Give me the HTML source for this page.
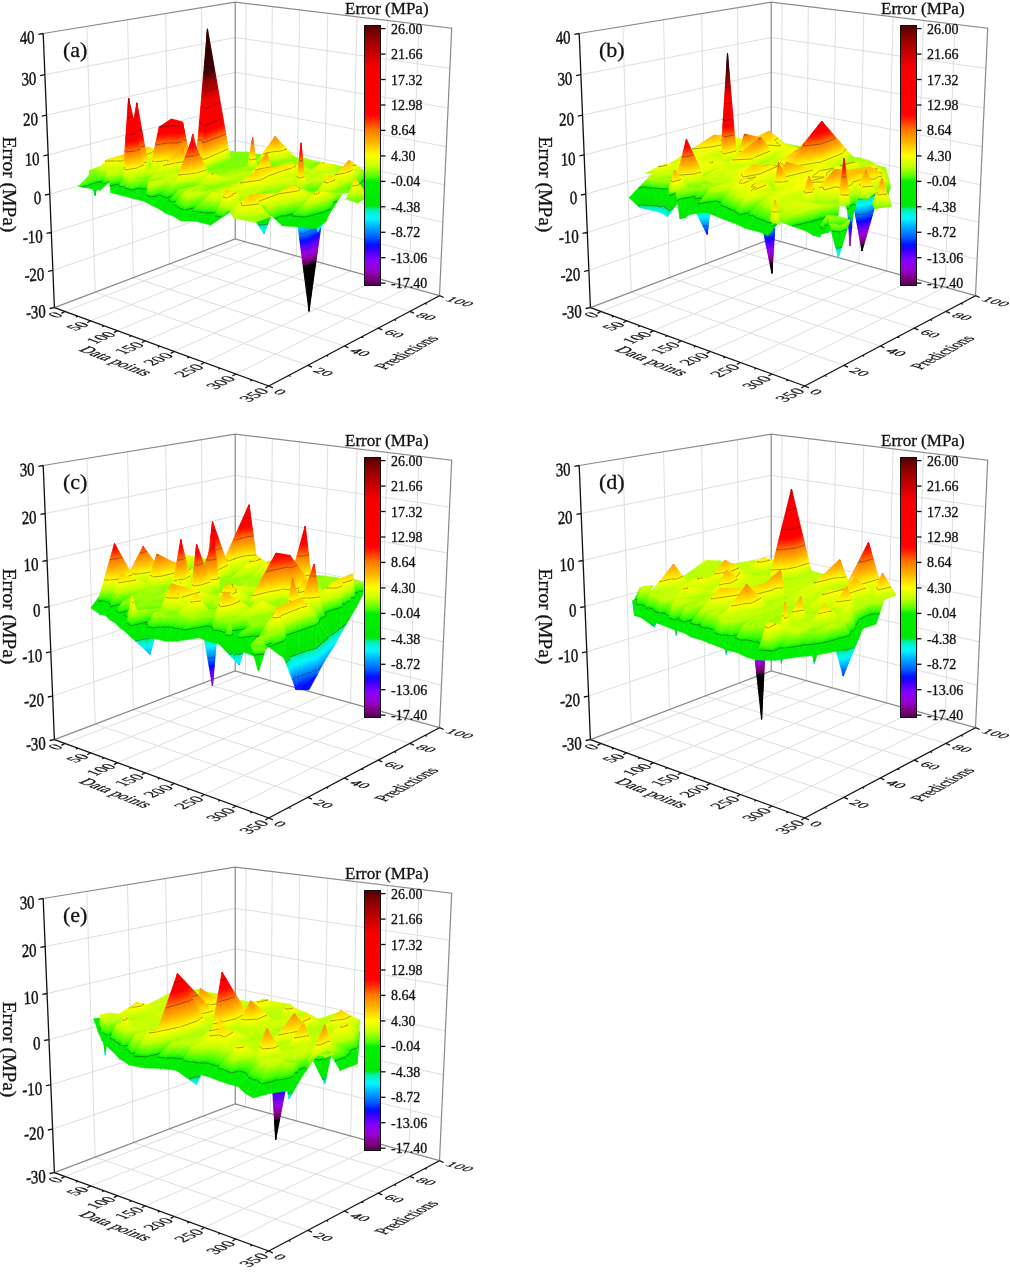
<!DOCTYPE html>
<html><head><meta charset="utf-8"><title>Error surfaces</title><style>
html,body{margin:0;padding:0;background:#fff;}
svg{display:block;}
text{font-family:"Liberation Serif","Times New Roman",serif;fill:#111;stroke:#111;stroke-width:0.3px}
.xl,.yl,.tx{stroke-width:0.18px}
.g{stroke:#dedede;stroke-width:1;fill:none}
.e{stroke:#8a8a8a;stroke-width:1.2;fill:none}
.k{stroke:#111;stroke-width:1.3;fill:none}
.zl{font-size:18.6px;text-anchor:end;stroke-width:0.45px}
.xl{font-size:10px;text-anchor:end}
.yl{font-size:10px}
.tt{font-size:19.5px}
.tx{font-size:10px;text-anchor:middle}
.pl{font-size:22px}
.cl{font-size:14px}
.c{fill:none;stroke:#1a1a1a;stroke-width:0.6;stroke-opacity:0.7}
.ct{font-size:17px}
</style></head><body>
<svg width="1010" height="1272" viewBox="0 0 1010 1272">
<defs><linearGradient id="cbar" x1="0" y1="0" x2="0" y2="1"><stop offset="0.0000" stop-color="#500000"/><stop offset="0.0461" stop-color="#900000"/><stop offset="0.0991" stop-color="#c00000"/><stop offset="0.1659" stop-color="#f80000"/><stop offset="0.3410" stop-color="#ff0000"/><stop offset="0.3641" stop-color="#ff2800"/><stop offset="0.4009" stop-color="#ff7800"/><stop offset="0.4516" stop-color="#ffb800"/><stop offset="0.5000" stop-color="#ffff00"/><stop offset="0.5438" stop-color="#c0ff00"/><stop offset="0.5853" stop-color="#40ff00"/><stop offset="0.5991" stop-color="#00f000"/><stop offset="0.6912" stop-color="#00e800"/><stop offset="0.6982" stop-color="#00e840"/><stop offset="0.7097" stop-color="#00f0b8"/><stop offset="0.7419" stop-color="#00f8ff"/><stop offset="0.7742" stop-color="#00b0ff"/><stop offset="0.8134" stop-color="#0060ff"/><stop offset="0.8433" stop-color="#0010ff"/><stop offset="0.8618" stop-color="#3000ff"/><stop offset="0.8986" stop-color="#8000ff"/><stop offset="0.9355" stop-color="#9800d8"/><stop offset="0.9724" stop-color="#800080"/><stop offset="1.0000" stop-color="#500048"/></linearGradient>
<linearGradient id="cm" gradientUnits="userSpaceOnUse"><stop offset="0.0000" stop-color="#000000"/><stop offset="0.2506" stop-color="#000000"/><stop offset="0.2511" stop-color="#500048"/><stop offset="0.2644" stop-color="#800080"/><stop offset="0.2822" stop-color="#9800d8"/><stop offset="0.3000" stop-color="#8000ff"/><stop offset="0.3178" stop-color="#3000ff"/><stop offset="0.3267" stop-color="#0010ff"/><stop offset="0.3411" stop-color="#0060ff"/><stop offset="0.3600" stop-color="#00b0ff"/><stop offset="0.3756" stop-color="#00f8ff"/><stop offset="0.3911" stop-color="#00f0b8"/><stop offset="0.3967" stop-color="#00e840"/><stop offset="0.4000" stop-color="#00e800"/><stop offset="0.4444" stop-color="#00f000"/><stop offset="0.4511" stop-color="#40ff00"/><stop offset="0.4711" stop-color="#c0ff00"/><stop offset="0.4922" stop-color="#ffff00"/><stop offset="0.5156" stop-color="#ffb800"/><stop offset="0.5400" stop-color="#ff7800"/><stop offset="0.5578" stop-color="#ff2800"/><stop offset="0.5689" stop-color="#ff0000"/><stop offset="0.6533" stop-color="#f80000"/><stop offset="0.6856" stop-color="#c00000"/><stop offset="0.7111" stop-color="#900000"/><stop offset="0.7333" stop-color="#500000"/><stop offset="0.7500" stop-color="#380000"/><stop offset="1.0000" stop-color="#300000"/></linearGradient>
<linearGradient id=a1 href=#cm x1=251 y1=289 x2=184 y2=-1 />
<linearGradient id=a2 href=#cm x1=183 y1=264 x2=238 y2=29 />
<linearGradient id=a3 href=#cm x1=267 y1=320 x2=156 y2=-32 />
<linearGradient id=a4 href=#cm x1=366 y1=256 x2=189 y2=38 />
<linearGradient id=a5 href=#cm x1=222 y1=220 x2=172 y2=84 />
<linearGradient id=a6 href=#cm x1=278 y1=287 x2=290 y2=6 />
<linearGradient id=a7 href=#cm x1=294 y1=289 x2=254 y2=4 />
<linearGradient id=a8 href=#cm x1=350 y1=322 x2=217 y2=-28 />
<linearGradient id=a9 href=#cm x1=168 y1=271 x2=133 y2=26 />
<linearGradient id=a10 href=#cm x1=259 y1=312 x2=46 y2=-16 />
<linearGradient id=a11 href=#cm x1=213 y1=411 x2=177 y2=-123 />
<linearGradient id=a12 href=#cm x1=292 y1=327 x2=259 y2=-29 />
<linearGradient id=a13 href=#cm x1=313 y1=237 x2=211 y2=67 />
<linearGradient id=a14 href=#cm x1=186 y1=152 x2=195 y2=168 />
<linearGradient id=a15 href=#cm x1=298 y1=317 x2=229 y2=-16 />
<linearGradient id=a16 href=#cm x1=164 y1=241 x2=111 y2=63 />
<linearGradient id=a17 href=#cm x1=232 y1=312 x2=198 y2=-15 />
<linearGradient id=a18 href=#cm x1=199 y1=344 x2=86 y2=-40 />
<linearGradient id=a19 href=#cm x1=-231 y1=72 x2=873 y2=276 />
<linearGradient id=a20 href=#cm x1=154 y1=287 x2=84 y2=23 />
<linearGradient id=a21 href=#cm x1=181 y1=311 x2=180 y2=-5 />
<linearGradient id=a22 href=#cm x1=138 y1=181 x2=236 y2=121 />
<linearGradient id=a23 href=#cm x1=220 y1=306 x2=131 y2=1 />
<linearGradient id=a24 href=#cm x1=138 y1=229 x2=109 y2=82 />
<linearGradient id=a25 href=#cm x1=276 y1=162 x2=150 y2=90 />
<linearGradient id=a26 href=#cm x1=259 y1=295 x2=119 y2=12 />
<linearGradient id=a27 href=#cm x1=194 y1=348 x2=79 y2=-40 />
<linearGradient id=a28 href=#cm x1=287 y1=296 x2=163 y2=0 />
<linearGradient id=a29 href=#cm x1=267 y1=315 x2=238 y2=-5 />
<linearGradient id=a30 href=#cm x1=470 y1=271 x2=237 y2=59 />
<linearGradient id=a31 href=#cm x1=171 y1=312 x2=163 y2=-2 />
<linearGradient id=a32 href=#cm x1=216 y1=175 x2=296 y2=142 />
<linearGradient id=a33 href=#cm x1=236 y1=310 x2=135 y2=0 />
<linearGradient id=a34 href=#cm x1=178 y1=309 x2=184 y2=-3 />
<linearGradient id=a35 href=#cm x1=283 y1=192 x2=266 y2=143 />
<linearGradient id=a36 href=#cm x1=159 y1=320 x2=229 y2=-14 />
<linearGradient id=a37 href=#cm x1=154 y1=228 x2=347 y2=86 />
<linearGradient id=a38 href=#cm x1=231 y1=313 x2=159 y2=-1 />
<linearGradient id=a39 href=#cm x1=146 y1=294 x2=66 y2=23 />
<linearGradient id=a40 href=#cm x1=172 y1=324 x2=224 y2=-16 />
<linearGradient id=a41 href=#cm x1=355 y1=288 x2=308 y2=31 />
<linearGradient id=a42 href=#cm x1=272 y1=328 x2=234 y2=-15 />
<linearGradient id=a43 href=#cm x1=199 y1=326 x2=163 y2=-14 />
<linearGradient id=a44 href=#cm x1=108 y1=332 x2=77 y2=-17 />
<linearGradient id=a45 href=#cm x1=166 y1=174 x2=231 y2=141 />
<linearGradient id=a46 href=#cm x1=13 y1=286 x2=206 y2=41 />
<linearGradient id=a47 href=#cm x1=197 y1=315 x2=145 y2=-6 />
<linearGradient id=a48 href=#cm x1=202 y1=310 x2=116 y2=3 />
<linearGradient id=a49 href=#cm x1=236 y1=309 x2=145 y2=6 />
<linearGradient id=a50 href=#cm x1=211 y1=320 x2=143 y2=-6 />
<linearGradient id=a51 href=#cm x1=156 y1=349 x2=97 y2=-35 />
<linearGradient id=a52 href=#cm x1=113 y1=167 x2=265 y2=92 />
<linearGradient id=a53 href=#cm x1=123 y1=229 x2=252 y2=92 />
<linearGradient id=a54 href=#cm x1=53 y1=201 x2=141 y2=152 />
<linearGradient id=a55 href=#cm x1=154 y1=337 x2=182 y2=-22 />
<linearGradient id=a56 href=#cm x1=125 y1=315 x2=57 y2=7 />
<linearGradient id=a57 href=#cm x1=178 y1=338 x2=172 y2=-22 />
<linearGradient id=a58 href=#cm x1=332 y1=279 x2=311 y2=44 />
<linearGradient id=a59 href=#cm x1=-14 y1=193 x2=232 y2=140 />
<linearGradient id=a60 href=#cm x1=565 y1=333 x2=79 y2=-16 />
<linearGradient id=a61 href=#cm x1=208 y1=333 x2=180 y2=-16 />
<linearGradient id=a62 href=#cm x1=260 y1=271 x2=116 y2=46 />
<linearGradient id=a63 href=#cm x1=212 y1=315 x2=149 y2=3 />
<linearGradient id=a64 href=#cm x1=190 y1=330 x2=145 y2=-15 />
<linearGradient id=a65 href=#cm x1=111 y1=385 x2=108 y2=-70 />
<linearGradient id=a66 href=#cm x1=224 y1=322 x2=141 y2=-3 />
<linearGradient id=a67 href=#cm x1=209 y1=331 x2=167 y2=-14 />
<linearGradient id=a68 href=#cm x1=487 y1=-29 x2=-12 y2=402 />
<linearGradient id=a69 href=#cm x1=186 y1=331 x2=133 y2=-14 />
<linearGradient id=a70 href=#cm x1=111 y1=335 x2=196 y2=-17 />
<linearGradient id=a71 href=#cm x1=152 y1=300 x2=45 y2=23 />
<linearGradient id=a72 href=#cm x1=139 y1=353 x2=88 y2=-36 />
<linearGradient id=a73 href=#cm x1=259 y1=184 x2=259 y2=159 />
<linearGradient id=a74 href=#cm x1=212 y1=313 x2=142 y2=6 />
<linearGradient id=a75 href=#cm x1=182 y1=282 x2=126 y2=46 />
<linearGradient id=a76 href=#cm x1=207 y1=330 x2=150 y2=-11 />
<linearGradient id=a77 href=#cm x1=116 y1=373 x2=81 y2=-57 />
<linearGradient id=a78 href=#cm x1=197 y1=316 x2=139 y2=7 />
<linearGradient id=a79 href=#cm x1=120 y1=366 x2=92 y2=-49 />
<linearGradient id=a80 href=#cm x1=210 y1=350 x2=105 y2=-30 />
<linearGradient id=a81 href=#cm x1=470 y1=273 x2=237 y2=58 />
<linearGradient id=a82 href=#cm x1=129 y1=322 x2=156 y2=-4 />
<linearGradient id=a83 href=#cm x1=266 y1=126 x2=363 y2=218 />
<linearGradient id=a84 href=#cm x1=196 y1=280 x2=96 y2=53 />
<linearGradient id=a85 href=#cm x1=169 y1=323 x2=108 y2=-3 />
<linearGradient id=a86 href=#cm x1=314 y1=293 x2=275 y2=35 />
<linearGradient id=a87 href=#cm x1=347 y1=381 x2=299 y2=-62 />
<linearGradient id=a88 href=#cm x1=142 y1=234 x2=70 y2=115 />
<linearGradient id=a89 href=#cm x1=207 y1=333 x2=128 y2=-9 />
<linearGradient id=a90 href=#cm x1=467 y1=275 x2=233 y2=63 />
<linearGradient id=a91 href=#cm x1=182 y1=332 x2=116 y2=-5 />
<linearGradient id=a92 href=#cm x1=189 y1=323 x2=99 y2=-2 />
<linearGradient id=a93 href=#cm x1=194 y1=346 x2=109 y2=-22 />
<linearGradient id=a94 href=#cm x1=208 y1=290 x2=114 y2=39 />
<linearGradient id=a95 href=#cm x1=408 y1=365 x2=184 y2=-42 />
<linearGradient id=a96 href=#cm x1=306 y1=408 x2=321 y2=-89 />
<linearGradient id=a97 href=#cm x1=374 y1=276 x2=330 y2=53 />
<linearGradient id=a98 href=#cm x1=150 y1=310 x2=75 y2=19 />
<linearGradient id=a99 href=#cm x1=199 y1=299 x2=94 y2=40 />
<linearGradient id=a100 href=#cm x1=112 y1=339 x2=195 y2=-12 />
<linearGradient id=a101 href=#cm x1=283 y1=321 x2=249 y2=6 />
<linearGradient id=a102 href=#cm x1=182 y1=302 x2=105 y2=30 />
<linearGradient id=a103 href=#cm x1=96 y1=164 x2=152 y2=203 />
<linearGradient id=a104 href=#cm x1=195 y1=296 x2=72 y2=24 />
<linearGradient id=a105 href=#cm x1=171 y1=331 x2=105 y2=-7 />
<linearGradient id=a106 href=#cm x1=236 y1=186 x2=307 y2=147 />
<linearGradient id=a107 href=#cm x1=204 y1=295 x2=101 y2=40 />
<linearGradient id=a108 href=#cm x1=181 y1=333 x2=100 y2=-2 />
<linearGradient id=a109 href=#cm x1=177 y1=327 x2=97 y2=-3 />
<linearGradient id=a110 href=#cm x1=128 y1=315 x2=79 y2=18 />
<linearGradient id=a111 href=#cm x1=150 y1=346 x2=75 y2=-19 />
<linearGradient id=a112 href=#cm x1=138 y1=340 x2=124 y2=-14 />
<linearGradient id=a113 href=#cm x1=149 y1=364 x2=19 y2=-40 />
<linearGradient id=a114 href=#cm x1=382 y1=326 x2=263 y2=5 />
<linearGradient id=a115 href=#cm x1=310 y1=286 x2=248 y2=48 />
<linearGradient id=a116 href=#cm x1=161 y1=327 x2=130 y2=7 />
<linearGradient id=a117 href=#cm x1=146 y1=331 x2=129 y2=-6 />
<linearGradient id=a118 href=#cm x1=282 y1=346 x2=252 y2=-17 />
<linearGradient id=a119 href=#cm x1=358 y1=284 x2=304 y2=53 />
<linearGradient id=a120 href=#cm x1=173 y1=327 x2=100 y2=-1 />
<linearGradient id=a121 href=#cm x1=-69 y1=202 x2=353 y2=163 />
<linearGradient id=a122 href=#cm x1=312 y1=282 x2=204 y2=50 />
<linearGradient id=a123 href=#cm x1=174 y1=326 x2=96 y2=0 />
<linearGradient id=a124 href=#cm x1=212 y1=317 x2=76 y2=8 />
<linearGradient id=a125 href=#cm x1=197 y1=327 x2=66 y2=8 />
<linearGradient id=a126 href=#cm x1=137 y1=334 x2=120 y2=-6 />
<linearGradient id=a127 href=#cm x1=162 y1=328 x2=114 y2=9 />
<linearGradient id=a128 href=#cm x1=452 y1=298 x2=241 y2=44 />
<linearGradient id=a129 href=#cm x1=296 y1=336 x2=222 y2=-4 />
<linearGradient id=a130 href=#cm x1=314 y1=225 x2=292 y2=122 />
<linearGradient id=a131 href=#cm x1=151 y1=283 x2=118 y2=56 />
<linearGradient id=a132 href=#cm x1=156 y1=352 x2=95 y2=-21 />
<linearGradient id=a133 href=#cm x1=180 y1=333 x2=98 y2=-5 />
<linearGradient id=a134 href=#cm x1=81 y1=361 x2=168 y2=-31 />
<linearGradient id=a135 href=#cm x1=319 y1=297 x2=328 y2=42 />
<linearGradient id=a136 href=#cm x1=44 y1=191 x2=196 y2=120 />
<linearGradient id=a137 href=#cm x1=173 y1=309 x2=79 y2=32 />
<linearGradient id=a138 href=#cm x1=391 y1=360 x2=264 y2=-27 />
<linearGradient id=a139 href=#cm x1=357 y1=371 x2=215 y2=-39 />
<linearGradient id=a140 href=#cm x1=162 y1=338 x2=103 y2=-7 />
<linearGradient id=a141 href=#cm x1=381 y1=234 x2=296 y2=108 />
<linearGradient id=a142 href=#cm x1=117 y1=416 x2=172 y2=-96 />
<linearGradient id=a143 href=#cm x1=123 y1=418 x2=182 y2=-96 />
<linearGradient id=a144 href=#cm x1=-177 y1=262 x2=925 y2=89 />
<linearGradient id=a145 href=#cm x1=179 y1=370 x2=84 y2=-37 />
<linearGradient id=a146 href=#cm x1=212 y1=335 x2=187 y2=1 />
<linearGradient id=a147 href=#cm x1=86 y1=352 x2=181 y2=-14 />
<linearGradient id=a148 href=#cm x1=302 y1=285 x2=240 y2=55 />
<linearGradient id=a149 href=#cm x1=224 y1=326 x2=23 y2=16 />
<linearGradient id=a150 href=#cm x1=293 y1=204 x2=288 y2=150 />
<linearGradient id=a151 href=#cm x1=210 y1=335 x2=174 y2=2 />
<linearGradient id=a152 href=#cm x1=228 y1=301 x2=193 y2=42 />
<linearGradient id=a153 href=#cm x1=249 y1=338 x2=152 y2=-1 />
<linearGradient id=a154 href=#cm x1=207 y1=257 x2=235 y2=90 />
<linearGradient id=a155 href=#cm x1=287 y1=347 x2=383 y2=0 />
<linearGradient id=a156 href=#cm x1=-15 y1=428 x2=369 y2=-101 />
<linearGradient id=a157 href=#cm x1=79 y1=446 x2=237 y2=-131 />
<linearGradient id=a158 href=#cm x1=423 y1=337 x2=265 y2=6 />
<linearGradient id=a159 href=#cm x1=232 y1=261 x2=170 y2=90 />
<linearGradient id=a160 href=#cm x1=359 y1=382 x2=273 y2=-44 />
<linearGradient id=a161 href=#cm x1=254 y1=375 x2=184 y2=-36 />
<linearGradient id=a162 href=#cm x1=342 y1=385 x2=204 y2=-45 />
<linearGradient id=a163 href=#cm x1=211 y1=348 x2=174 y2=-7 />
<linearGradient id=a164 href=#cm x1=341 y1=342 x2=258 y2=13 />
<linearGradient id=a165 href=#cm x1=241 y1=311 x2=131 y2=29 />
<linearGradient id=a166 href=#cm x1=321 y1=448 x2=303 y2=-119 />
<linearGradient id=a167 href=#cm x1=358 y1=328 x2=238 y2=41 />
<linearGradient id=a168 href=#cm x1=213 y1=346 x2=158 y2=-3 />
<linearGradient id=a169 href=#cm x1=133 y1=412 x2=282 y2=-75 />
<linearGradient id=a170 href=#cm x1=241 y1=375 x2=181 y2=-33 />
<linearGradient id=a171 href=#cm x1=364 y1=219 x2=297 y2=137 />
<linearGradient id=a172 href=#cm x1=298 y1=294 x2=211 y2=54 />
<linearGradient id=a173 href=#cm x1=334 y1=242 x2=370 y2=130 />
<linearGradient id=a174 href=#cm x1=376 y1=385 x2=295 y2=-41 />
<linearGradient id=a175 href=#cm x1=43 y1=442 x2=312 y2=-111 />
<linearGradient id=a176 href=#cm x1=369 y1=292 x2=205 y2=115 />
<linearGradient id=a177 href=#cm x1=188 y1=320 x2=116 y2=33 />
<linearGradient id=a178 href=#cm x1=319 y1=343 x2=283 y2=3 />
<linearGradient id=a179 href=#cm x1=19 y1=594 x2=381 y2=-303 />
<linearGradient id=a180 href=#cm x1=266 y1=185 x2=341 y2=161 />
<linearGradient id=a181 href=#cm x1=225 y1=375 x2=112 y2=-30 />
<linearGradient id=a182 href=#cm x1=206 y1=357 x2=100 y2=-8 />
<linearGradient id=a183 href=#cm x1=360 y1=316 x2=195 y2=74 />
<linearGradient id=a184 href=#cm x1=313 y1=428 x2=245 y2=-87 />
<linearGradient id=a185 href=#cm x1=229 y1=196 x2=366 y2=150 />
<linearGradient id=a186 href=#cm x1=349 y1=333 x2=232 y2=43 />
<linearGradient id=a187 href=#cm x1=394 y1=410 x2=130 y2=-62 />
<linearGradient id=a188 href=#cm x1=324 y1=353 x2=279 y2=-3 />
<linearGradient id=a189 href=#cm x1=84 y1=319 x2=230 y2=42 />
<linearGradient id=a190 href=#cm x1=314 y1=360 x2=226 y2=-8 />
<linearGradient id=a191 href=#cm x1=30 y1=440 x2=330 y2=-108 />
<linearGradient id=a192 href=#cm x1=214 y1=287 x2=132 y2=83 />
<linearGradient id=a193 href=#cm x1=357 y1=324 x2=302 y2=33 />
<linearGradient id=a194 href=#cm x1=321 y1=346 x2=267 y2=23 />
<linearGradient id=a195 href=#cm x1=398 y1=330 x2=264 y2=28 />
<linearGradient id=a196 href=#cm x1=351 y1=438 x2=30 y2=-93 />
<linearGradient id=a197 href=#cm x1=284 y1=265 x2=199 y2=96 />
<linearGradient id=a198 href=#cm x1=367 y1=282 x2=272 y2=83 />
<linearGradient id=a199 href=#cm x1=209 y1=403 x2=151 y2=-52 />
<linearGradient id=a200 href=#cm x1=375 y1=347 x2=278 y2=13 />
<linearGradient id=a201 href=#cm x1=290 y1=438 x2=207 y2=-82 />
<linearGradient id=a202 href=#cm x1=389 y1=333 x2=260 y2=30 />
<linearGradient id=a203 href=#cm x1=212 y1=230 x2=197 y2=149 />
<linearGradient id=a204 href=#cm x1=305 y1=389 x2=342 y2=-30 />
<linearGradient id=a205 href=#cm x1=320 y1=340 x2=187 y2=25 />
<linearGradient id=a206 href=#cm x1=339 y1=370 x2=314 y2=-9 />
<linearGradient id=a207 href=#cm x1=69 y1=430 x2=296 y2=-86 />
<linearGradient id=a208 href=#cm x1=225 y1=286 x2=136 y2=91 />
<linearGradient id=a209 href=#cm x1=439 y1=177 x2=278 y2=201 />
<linearGradient id=a210 href=#cm x1=357 y1=-64 x2=15 y2=481 />
<linearGradient id=a211 href=#cm x1=370 y1=345 x2=253 y2=27 />
<linearGradient id=a212 href=#cm x1=279 y1=375 x2=242 y2=-12 />
<linearGradient id=a213 href=#cm x1=377 y1=335 x2=236 y2=43 />
<linearGradient id=a214 href=#cm x1=306 y1=295 x2=300 y2=78 />
<linearGradient id=a215 href=#cm x1=377 y1=387 x2=332 y2=-22 />
<linearGradient id=a216 href=#cm x1=239 y1=433 x2=165 y2=-78 />
<linearGradient id=a217 href=#cm x1=171 y1=252 x2=404 y2=153 />
<linearGradient id=a218 href=#cm x1=367 y1=329 x2=272 y2=51 />
<linearGradient id=a219 href=#cm x1=326 y1=317 x2=264 y2=56 />
<linearGradient id=a220 href=#cm x1=457 y1=115 x2=143 y2=276 />
<linearGradient id=a221 href=#cm x1=56 y1=393 x2=326 y2=-28 />
<linearGradient id=a222 href=#cm x1=369 y1=308 x2=100 y2=84 />
<linearGradient id=a223 href=#cm x1=459 y1=377 x2=188 y2=-7 />
<linearGradient id=a224 href=#cm x1=96 y1=415 x2=285 y2=-51 />
<linearGradient id=a225 href=#cm x1=246 y1=392 x2=132 y2=-23 />
<linearGradient id=a226 href=#cm x1=246 y1=299 x2=157 y2=87 />
<linearGradient id=a227 href=#cm x1=250 y1=269 x2=398 y2=130 />
<linearGradient id=a228 href=#cm x1=282 y1=350 x2=243 y2=32 />
<linearGradient id=a229 href=#cm x1=304 y1=298 x2=260 y2=84 />
<linearGradient id=a230 href=#cm x1=258 y1=348 x2=249 y2=36 />
<linearGradient id=a231 href=#cm x1=392 y1=365 x2=256 y2=11 />
<linearGradient id=a232 href=#cm x1=390 y1=417 x2=211 y2=-46 />
<linearGradient id=a233 href=#cm x1=326 y1=316 x2=248 y2=62 />
<linearGradient id=a234 href=#cm x1=85 y1=414 x2=303 y2=-47 />
<linearGradient id=a235 href=#cm x1=338 y1=252 x2=283 y2=137 />
<linearGradient id=a236 href=#cm x1=266 y1=405 x2=180 y2=-33 />
<linearGradient id=a237 href=#cm x1=404 y1=372 x2=231 y2=8 />
<linearGradient id=a238 href=#cm x1=404 y1=370 x2=233 y2=9 />
<linearGradient id=a239 href=#cm x1=183 y1=440 x2=239 y2=-71 />
<linearGradient id=a240 href=#cm x1=416 y1=345 x2=49 y2=36 />
<linearGradient id=a241 href=#cm x1=320 y1=277 x2=222 y2=115 />
<linearGradient id=a242 href=#cm x1=166 y1=440 x2=234 y2=-74 />
<linearGradient id=a243 href=#cm x1=274 y1=340 x2=177 y2=47 />
<linearGradient id=a244 href=#cm x1=331 y1=412 x2=250 y2=-35 />
<linearGradient id=a245 href=#cm x1=198 y1=430 x2=221 y2=-59 />
<linearGradient id=a246 href=#cm x1=316 y1=418 x2=248 y2=-38 />
<linearGradient id=a247 href=#cm x1=273 y1=184 x2=334 y2=232 />
<linearGradient id=a248 href=#cm x1=305 y1=243 x2=231 y2=159 />
<linearGradient id=a249 href=#cm x1=360 y1=389 x2=258 y2=-5 />
<linearGradient id=a250 href=#cm x1=360 y1=385 x2=256 y2=0 />
<linearGradient id=a251 href=#cm x1=314 y1=387 x2=146 y2=-1 />
<linearGradient id=a252 href=#cm x1=279 y1=436 x2=324 y2=-58 />
<linearGradient id=a253 href=#cm x1=396 y1=198 x2=113 y2=211 />
<linearGradient id=a254 href=#cm x1=309 y1=350 x2=218 y2=40 />
<linearGradient id=a255 href=#cm x1=179 y1=395 x2=272 y2=-7 />
<linearGradient id=a256 href=#cm x1=348 y1=403 x2=184 y2=-13 />
<linearGradient id=a257 href=#cm x1=263 y1=329 x2=233 y2=68 />
<linearGradient id=a258 href=#cm x1=8 y1=265 x2=485 y2=146 />
<linearGradient id=a259 href=#cm x1=279 y1=440 x2=222 y2=-37 />
<linearGradient id=b1 href=#cm x1=741 y1=190 x2=749 y2=85 />
<linearGradient id=b2 href=#cm x1=746 y1=239 x2=718 y2=34 />
<linearGradient id=b3 href=#cm x1=760 y1=189 x2=770 y2=89 />
<linearGradient id=b4 href=#cm x1=766 y1=250 x2=789 y2=22 />
<linearGradient id=b5 href=#cm x1=908 y1=391 x2=557 y2=-125 />
<linearGradient id=b6 href=#cm x1=781 y1=264 x2=752 y2=9 />
<linearGradient id=b7 href=#cm x1=790 y1=260 x2=712 y2=17 />
<linearGradient id=b8 href=#cm x1=780 y1=168 x2=789 y2=117 />
<linearGradient id=b9 href=#cm x1=736 y1=209 x2=699 y2=72 />
<linearGradient id=b10 href=#cm x1=830 y1=340 x2=640 y2=-69 />
<linearGradient id=b11 href=#cm x1=904 y1=296 x2=645 y2=-22 />
<linearGradient id=b12 href=#cm x1=800 y1=111 x2=788 y2=187 />
<linearGradient id=b13 href=#cm x1=869 y1=349 x2=579 y2=-70 />
<linearGradient id=b14 href=#cm x1=747 y1=268 x2=686 y2=11 />
<linearGradient id=b15 href=#cm x1=807 y1=104 x2=799 y2=198 />
<linearGradient id=b16 href=#cm x1=906 y1=11 x2=652 y2=285 />
<linearGradient id=b17 href=#cm x1=708 y1=353 x2=826 y2=-74 />
<linearGradient id=b18 href=#cm x1=480 y1=400 x2=1033 y2=-122 />
<linearGradient id=b19 href=#cm x1=736 y1=287 x2=730 y2=-4 />
<linearGradient id=b20 href=#cm x1=779 y1=247 x2=697 y2=41 />
<linearGradient id=b21 href=#cm x1=808 y1=309 x2=712 y2=-28 />
<linearGradient id=b22 href=#cm x1=818 y1=111 x2=807 y2=191 />
<linearGradient id=b23 href=#cm x1=721 y1=223 x2=671 y2=70 />
<linearGradient id=b24 href=#cm x1=908 y1=-35 x2=667 y2=344 />
<linearGradient id=b25 href=#cm x1=794 y1=287 x2=667 y2=0 />
<linearGradient id=b26 href=#cm x1=781 y1=334 x2=723 y2=-51 />
<linearGradient id=b27 href=#cm x1=821 y1=225 x2=810 y2=67 />
<linearGradient id=b28 href=#cm x1=800 y1=165 x2=800 y2=131 />
<linearGradient id=b29 href=#cm x1=735 y1=422 x2=742 y2=-148 />
<linearGradient id=b30 href=#cm x1=768 y1=352 x2=663 y2=-67 />
<linearGradient id=b31 href=#cm x1=947 y1=360 x2=696 y2=-76 />
<linearGradient id=b32 href=#cm x1=756 y1=177 x2=700 y2=127 />
<linearGradient id=b33 href=#cm x1=737 y1=241 x2=664 y2=47 />
<linearGradient id=b34 href=#cm x1=798 y1=285 x2=719 y2=3 />
<linearGradient id=b35 href=#cm x1=756 y1=348 x2=688 y2=-63 />
<linearGradient id=b36 href=#cm x1=871 y1=103 x2=815 y2=210 />
<linearGradient id=b37 href=#cm x1=745 y1=473 x2=793 y2=-193 />
<linearGradient id=b38 href=#cm x1=944 y1=359 x2=697 y2=-75 />
<linearGradient id=b39 href=#cm x1=709 y1=196 x2=672 y2=103 />
<linearGradient id=b40 href=#cm x1=756 y1=356 x2=809 y2=-70 />
<linearGradient id=b41 href=#cm x1=787 y1=286 x2=717 y2=5 />
<linearGradient id=b42 href=#cm x1=874 y1=275 x2=795 y2=21 />
<linearGradient id=b43 href=#cm x1=723 y1=375 x2=682 y2=-86 />
<linearGradient id=b44 href=#cm x1=802 y1=319 x2=734 y2=-27 />
<linearGradient id=b45 href=#cm x1=765 y1=448 x2=746 y2=-166 />
<linearGradient id=b46 href=#cm x1=811 y1=302 x2=697 y2=-9 />
<linearGradient id=b47 href=#cm x1=801 y1=216 x2=747 y2=89 />
<linearGradient id=b48 href=#cm x1=784 y1=288 x2=706 y2=7 />
<linearGradient id=b49 href=#cm x1=635 y1=573 x2=941 y2=-298 />
<linearGradient id=b50 href=#cm x1=868 y1=270 x2=782 y2=32 />
<linearGradient id=b51 href=#cm x1=972 y1=355 x2=653 y2=-62 />
<linearGradient id=b52 href=#cm x1=926 y1=393 x2=474 y2=-103 />
<linearGradient id=b53 href=#cm x1=739 y1=275 x2=687 y2=27 />
<linearGradient id=b54 href=#cm x1=719 y1=318 x2=763 y2=-20 />
<linearGradient id=b55 href=#cm x1=838 y1=280 x2=835 y2=15 />
<linearGradient id=b56 href=#cm x1=789 y1=289 x2=736 y2=10 />
<linearGradient id=b57 href=#cm x1=690 y1=308 x2=798 y2=-9 />
<linearGradient id=b58 href=#cm x1=830 y1=290 x2=701 y2=10 />
<linearGradient id=b59 href=#cm x1=747 y1=310 x2=713 y2=-16 />
<linearGradient id=b60 href=#cm x1=666 y1=140 x2=698 y2=176 />
<linearGradient id=b61 href=#cm x1=645 y1=216 x2=799 y2=55 />
<linearGradient id=b62 href=#cm x1=969 y1=266 x2=718 y2=31 />
<linearGradient id=b63 href=#cm x1=702 y1=84 x2=884 y2=229 />
<linearGradient id=b64 href=#cm x1=699 y1=55 x2=850 y2=278 />
<linearGradient id=b65 href=#cm x1=634 y1=172 x2=789 y2=88 />
<linearGradient id=b66 href=#cm x1=766 y1=312 x2=702 y2=-14 />
<linearGradient id=b67 href=#cm x1=872 y1=287 x2=781 y2=13 />
<linearGradient id=b68 href=#cm x1=681 y1=616 x2=880 y2=-341 />
<linearGradient id=b69 href=#cm x1=814 y1=218 x2=794 y2=84 />
<linearGradient id=b70 href=#cm x1=971 y1=279 x2=648 y2=25 />
<linearGradient id=b71 href=#cm x1=688 y1=190 x2=658 y2=130 />
<linearGradient id=b72 href=#cm x1=816 y1=298 x2=697 y2=10 />
<linearGradient id=b73 href=#cm x1=783 y1=284 x2=711 y2=23 />
<linearGradient id=b74 href=#cm x1=757 y1=257 x2=714 y2=59 />
<linearGradient id=b75 href=#cm x1=1516 y1=338 x2=106 y2=-29 />
<linearGradient id=b76 href=#cm x1=619 y1=503 x2=753 y2=-208 />
<linearGradient id=b77 href=#cm x1=804 y1=202 x2=760 y2=117 />
<linearGradient id=b78 href=#cm x1=895 y1=315 x2=767 y2=-6 />
<linearGradient id=b79 href=#cm x1=902 y1=349 x2=525 y2=-41 />
<linearGradient id=b80 href=#cm x1=840 y1=304 x2=789 y2=3 />
<linearGradient id=b81 href=#cm x1=800 y1=317 x2=702 y2=-5 />
<linearGradient id=b82 href=#cm x1=875 y1=286 x2=789 y2=31 />
<linearGradient id=b83 href=#cm x1=642 y1=487 x2=705 y2=-193 />
<linearGradient id=b84 href=#cm x1=757 y1=355 x2=733 y2=-43 />
<linearGradient id=b85 href=#cm x1=804 y1=182 x2=775 y2=130 />
<linearGradient id=b86 href=#cm x1=714 y1=190 x2=715 y2=133 />
<linearGradient id=b87 href=#cm x1=891 y1=326 x2=842 y2=-7 />
<linearGradient id=b88 href=#cm x1=728 y1=258 x2=718 y2=62 />
<linearGradient id=b89 href=#cm x1=714 y1=269 x2=648 y2=50 />
<linearGradient id=b90 href=#cm x1=843 y1=290 x2=869 y2=30 />
<linearGradient id=b91 href=#cm x1=769 y1=232 x2=746 y2=95 />
<linearGradient id=b92 href=#cm x1=916 y1=301 x2=805 y2=35 />
<linearGradient id=b93 href=#cm x1=739 y1=184 x2=755 y2=152 />
<linearGradient id=b94 href=#cm x1=919 y1=324 x2=788 y2=-4 />
<linearGradient id=b95 href=#cm x1=875 y1=237 x2=819 y2=90 />
<linearGradient id=b96 href=#cm x1=892 y1=322 x2=809 y2=6 />
<linearGradient id=b97 href=#cm x1=696 y1=121 x2=895 y2=167 />
<linearGradient id=b98 href=#cm x1=556 y1=430 x2=1015 y2=-112 />
<linearGradient id=b99 href=#cm x1=953 y1=-78 x2=703 y2=425 />
<linearGradient id=b100 href=#cm x1=840 y1=342 x2=782 y2=-22 />
<linearGradient id=b101 href=#cm x1=696 y1=293 x2=641 y2=31 />
<linearGradient id=b102 href=#cm x1=879 y1=324 x2=837 y2=7 />
<linearGradient id=b103 href=#cm x1=853 y1=326 x2=859 y2=5 />
<linearGradient id=b104 href=#cm x1=909 y1=306 x2=776 y2=36 />
<linearGradient id=b105 href=#cm x1=668 y1=280 x2=648 y2=49 />
<linearGradient id=b106 href=#cm x1=709 y1=460 x2=870 y2=-138 />
<linearGradient id=b107 href=#cm x1=898 y1=342 x2=795 y2=-20 />
<linearGradient id=b108 href=#cm x1=686 y1=441 x2=675 y2=-128 />
<linearGradient id=b109 href=#cm x1=875 y1=275 x2=809 y2=53 />
<linearGradient id=b110 href=#cm x1=61 y1=343 x2=1380 y2=-19 />
<linearGradient id=b111 href=#cm x1=789 y1=264 x2=734 y2=66 />
<linearGradient id=b112 href=#cm x1=848 y1=297 x2=775 y2=33 />
<linearGradient id=b113 href=#cm x1=888 y1=300 x2=867 y2=29 />
<linearGradient id=b114 href=#cm x1=927 y1=377 x2=756 y2=-55 />
<linearGradient id=b115 href=#cm x1=748 y1=338 x2=659 y2=-10 />
<linearGradient id=b116 href=#cm x1=711 y1=358 x2=611 y2=-33 />
<linearGradient id=b117 href=#cm x1=1211 y1=-52 x2=352 y2=419 />
<linearGradient id=b118 href=#cm x1=840 y1=4 x2=660 y2=346 />
<linearGradient id=b119 href=#cm x1=587 y1=599 x2=814 y2=-294 />
<linearGradient id=b120 href=#cm x1=1007 y1=131 x2=748 y2=217 />
<linearGradient id=b121 href=#cm x1=715 y1=414 x2=615 y2=-95 />
<linearGradient id=b122 href=#cm x1=772 y1=143 x2=768 y2=189 />
<linearGradient id=b123 href=#cm x1=790 y1=233 x2=949 y2=152 />
<linearGradient id=b124 href=#cm x1=905 y1=265 x2=832 y2=69 />
<linearGradient id=b125 href=#cm x1=702 y1=162 x2=716 y2=186 />
<linearGradient id=b126 href=#cm x1=898 y1=316 x2=778 y2=28 />
<linearGradient id=b127 href=#cm x1=909 y1=375 x2=767 y2=-49 />
<linearGradient id=b128 href=#cm x1=864 y1=333 x2=831 y2=5 />
<linearGradient id=b129 href=#cm x1=784 y1=260 x2=733 y2=72 />
<linearGradient id=b130 href=#cm x1=704 y1=301 x2=583 y2=41 />
<linearGradient id=b131 href=#cm x1=673 y1=344 x2=603 y2=-8 />
<linearGradient id=b132 href=#cm x1=959 y1=364 x2=701 y2=-31 />
<linearGradient id=b133 href=#cm x1=901 y1=283 x2=829 y2=52 />
<linearGradient id=b134 href=#cm x1=978 y1=408 x2=764 y2=-76 />
<linearGradient id=b135 href=#cm x1=643 y1=353 x2=660 y2=-19 />
<linearGradient id=b136 href=#cm x1=687 y1=381 x2=681 y2=-54 />
<linearGradient id=b137 href=#cm x1=708 y1=607 x2=749 y2=-296 />
<linearGradient id=b138 href=#cm x1=874 y1=417 x2=656 y2=-82 />
<linearGradient id=b139 href=#cm x1=796 y1=540 x2=774 y2=-222 />
<linearGradient id=b140 href=#cm x1=637 y1=348 x2=683 y2=-10 />
<linearGradient id=b141 href=#cm x1=901 y1=289 x2=810 y2=53 />
<linearGradient id=b142 href=#cm x1=711 y1=356 x2=638 y2=-20 />
<linearGradient id=b143 href=#cm x1=674 y1=348 x2=657 y2=-10 />
<linearGradient id=b144 href=#cm x1=809 y1=300 x2=791 y2=38 />
<linearGradient id=b145 href=#cm x1=838 y1=182 x2=839 y2=176 />
<linearGradient id=b146 href=#cm x1=591 y1=352 x2=779 y2=-13 />
<linearGradient id=b147 href=#cm x1=672 y1=324 x2=716 y2=13 />
<linearGradient id=b148 href=#cm x1=92 y1=662 x2=1429 y2=-353 />
<linearGradient id=b149 href=#cm x1=845 y1=427 x2=694 y2=-93 />
<linearGradient id=b150 href=#cm x1=1093 y1=218 x2=551 y2=131 />
<linearGradient id=b151 href=#cm x1=773 y1=234 x2=714 y2=108 />
<linearGradient id=b152 href=#cm x1=721 y1=347 x2=687 y2=-4 />
<linearGradient id=b153 href=#cm x1=1181 y1=159 x2=461 y2=204 />
<linearGradient id=b154 href=#cm x1=992 y1=157 x2=769 y2=199 />
<linearGradient id=b155 href=#cm x1=727 y1=328 x2=633 y2=14 />
<linearGradient id=b156 href=#cm x1=867 y1=262 x2=877 y2=79 />
<linearGradient id=b157 href=#cm x1=642 y1=234 x2=806 y2=155 />
<linearGradient id=b158 href=#cm x1=742 y1=348 x2=650 y2=-8 />
<linearGradient id=b159 href=#cm x1=824 y1=317 x2=745 y2=26 />
<linearGradient id=b160 href=#cm x1=865 y1=215 x2=891 y2=128 />
<linearGradient id=b161 href=#cm x1=902 y1=280 x2=802 y2=65 />
<linearGradient id=b162 href=#cm x1=843 y1=361 x2=745 y2=-18 />
<linearGradient id=b163 href=#cm x1=707 y1=353 x2=668 y2=-10 />
<linearGradient id=b164 href=#cm x1=729 y1=338 x2=679 y2=13 />
<linearGradient id=b165 href=#cm x1=740 y1=341 x2=638 y2=9 />
<linearGradient id=b166 href=#cm x1=651 y1=359 x2=706 y2=-15 />
<linearGradient id=b167 href=#cm x1=669 y1=327 x2=753 y2=29 />
<linearGradient id=b168 href=#cm x1=789 y1=420 x2=712 y2=-77 />
<linearGradient id=b169 href=#cm x1=946 y1=344 x2=813 y2=3 />
<linearGradient id=b170 href=#cm x1=445 y1=412 x2=1048 y2=-69 />
<linearGradient id=b171 href=#cm x1=808 y1=205 x2=987 y2=174 />
<linearGradient id=b172 href=#cm x1=717 y1=317 x2=617 y2=40 />
<linearGradient id=b173 href=#cm x1=716 y1=341 x2=673 y2=12 />
<linearGradient id=b174 href=#cm x1=722 y1=238 x2=861 y2=182 />
<linearGradient id=b175 href=#cm x1=785 y1=350 x2=750 y2=1 />
<linearGradient id=b176 href=#cm x1=837 y1=283 x2=750 y2=70 />
<linearGradient id=b177 href=#cm x1=736 y1=382 x2=822 y2=-36 />
<linearGradient id=b178 href=#cm x1=939 y1=404 x2=715 y2=-60 />
<linearGradient id=b179 href=#cm x1=820 y1=329 x2=699 y2=38 />
<linearGradient id=b180 href=#cm x1=860 y1=300 x2=817 y2=51 />
<linearGradient id=b181 href=#cm x1=744 y1=382 x2=819 y2=-35 />
<linearGradient id=b182 href=#cm x1=720 y1=310 x2=606 y2=52 />
<linearGradient id=b183 href=#cm x1=754 y1=382 x2=812 y2=-35 />
<linearGradient id=b184 href=#cm x1=929 y1=418 x2=577 y2=-73 />
<linearGradient id=b185 href=#cm x1=799 y1=343 x2=725 y2=18 />
<linearGradient id=b186 href=#cm x1=853 y1=393 x2=887 y2=-43 />
<linearGradient id=b187 href=#cm x1=965 y1=328 x2=779 y2=28 />
<linearGradient id=b188 href=#cm x1=822 y1=328 x2=673 y2=42 />
<linearGradient id=b189 href=#cm x1=745 y1=304 x2=633 y2=63 />
<linearGradient id=b190 href=#cm x1=841 y1=393 x2=671 y2=-45 />
<linearGradient id=b191 href=#cm x1=710 y1=340 x2=650 y2=14 />
<linearGradient id=b192 href=#cm x1=799 y1=319 x2=558 y2=36 />
<linearGradient id=b193 href=#cm x1=786 y1=346 x2=730 y2=16 />
<linearGradient id=b194 href=#cm x1=833 y1=400 x2=912 y2=-49 />
<linearGradient id=b195 href=#cm x1=720 y1=362 x2=647 y2=-7 />
<linearGradient id=b196 href=#cm x1=736 y1=383 x2=653 y2=-33 />
<linearGradient id=b197 href=#cm x1=689 y1=341 x2=659 y2=14 />
<linearGradient id=b198 href=#cm x1=916 y1=358 x2=804 y2=-4 />
<linearGradient id=b199 href=#cm x1=825 y1=339 x2=733 y2=17 />
<linearGradient id=b200 href=#cm x1=769 y1=341 x2=797 y2=14 />
<linearGradient id=b201 href=#cm x1=796 y1=385 x2=783 y2=-31 />
<linearGradient id=b202 href=#cm x1=559 y1=261 x2=791 y2=101 />
<linearGradient id=b203 href=#cm x1=525 y1=262 x2=913 y2=133 />
<linearGradient id=b204 href=#cm x1=708 y1=359 x2=643 y2=-2 />
<linearGradient id=b205 href=#cm x1=678 y1=183 x2=730 y2=219 />
<linearGradient id=b206 href=#cm x1=824 y1=361 x2=743 y2=-4 />
<linearGradient id=b207 href=#cm x1=839 y1=327 x2=713 y2=32 />
<linearGradient id=b208 href=#cm x1=719 y1=164 x2=758 y2=203 />
<linearGradient id=b209 href=#cm x1=739 y1=344 x2=603 y2=20 />
<linearGradient id=b210 href=#cm x1=737 y1=392 x2=695 y2=-37 />
<linearGradient id=b211 href=#cm x1=797 y1=364 x2=760 y2=-6 />
<linearGradient id=b212 href=#cm x1=982 y1=358 x2=721 y2=1 />
<linearGradient id=b213 href=#cm x1=820 y1=487 x2=829 y2=-133 />
<linearGradient id=b214 href=#cm x1=703 y1=203 x2=851 y2=163 />
<linearGradient id=b215 href=#cm x1=789 y1=317 x2=745 y2=47 />
<linearGradient id=b216 href=#cm x1=879 y1=339 x2=650 y2=24 />
<linearGradient id=b217 href=#cm x1=853 y1=404 x2=638 y2=-48 />
<linearGradient id=b218 href=#cm x1=1098 y1=343 x2=609 y2=14 />
<linearGradient id=b219 href=#cm x1=879 y1=341 x2=851 y2=21 />
<linearGradient id=b220 href=#cm x1=785 y1=340 x2=752 y2=24 />
<linearGradient id=b221 href=#cm x1=795 y1=313 x2=707 y2=54 />
<linearGradient id=b222 href=#cm x1=758 y1=227 x2=692 y2=158 />
<linearGradient id=b223 href=#cm x1=882 y1=307 x2=787 y2=52 />
<linearGradient id=b224 href=#cm x1=587 y1=471 x2=884 y2=-134 />
<linearGradient id=b225 href=#cm x1=762 y1=310 x2=760 y2=55 />
<linearGradient id=b226 href=#cm x1=830 y1=217 x2=914 y2=151 />
<linearGradient id=b227 href=#cm x1=842 y1=219 x2=806 y2=152 />
<linearGradient id=b228 href=#cm x1=619 y1=176 x2=794 y2=247 />
<linearGradient id=b229 href=#cm x1=739 y1=383 x2=655 y2=-21 />
<linearGradient id=b230 href=#cm x1=733 y1=287 x2=998 y2=89 />
<linearGradient id=b231 href=#cm x1=719 y1=438 x2=747 y2=-81 />
<linearGradient id=b232 href=#cm x1=772 y1=229 x2=762 y2=152 />
<linearGradient id=b233 href=#cm x1=957 y1=372 x2=734 y2=-6 />
<linearGradient id=b234 href=#cm x1=882 y1=379 x2=851 y2=-13 />
<linearGradient id=b235 href=#cm x1=870 y1=428 x2=735 y2=-65 />
<linearGradient id=b236 href=#cm x1=719 y1=142 x2=785 y2=233 />
<linearGradient id=b237 href=#cm x1=526 y1=326 x2=972 y2=49 />
<linearGradient id=b238 href=#cm x1=833 y1=365 x2=685 y2=3 />
<linearGradient id=b239 href=#cm x1=931 y1=339 x2=752 y2=38 />
<linearGradient id=b240 href=#cm x1=874 y1=384 x2=791 y2=-16 />
<linearGradient id=b241 href=#cm x1=634 y1=434 x2=832 y2=-80 />
<linearGradient id=b242 href=#cm x1=835 y1=383 x2=808 y2=-14 />
<linearGradient id=b243 href=#cm x1=651 y1=241 x2=1002 y2=139 />
<linearGradient id=b244 href=#cm x1=820 y1=474 x2=852 y2=-109 />
<linearGradient id=b245 href=#cm x1=729 y1=437 x2=759 y2=-71 />
<linearGradient id=b246 href=#cm x1=891 y1=332 x2=733 y2=43 />
<linearGradient id=b247 href=#cm x1=813 y1=329 x2=890 y2=56 />
<linearGradient id=b248 href=#cm x1=841 y1=343 x2=776 y2=32 />
<linearGradient id=b249 href=#cm x1=794 y1=272 x2=692 y2=116 />
<linearGradient id=b250 href=#cm x1=641 y1=430 x2=841 y2=-67 />
<linearGradient id=b251 href=#cm x1=773 y1=218 x2=857 y2=168 />
<linearGradient id=b252 href=#cm x1=900 y1=353 x2=861 y2=25 />
<linearGradient id=b253 href=#cm x1=796 y1=393 x2=705 y2=-17 />
<linearGradient id=b254 href=#cm x1=788 y1=249 x2=728 y2=152 />
<linearGradient id=b255 href=#cm x1=692 y1=246 x2=921 y2=138 />
<linearGradient id=b256 href=#cm x1=900 y1=191 x2=875 y2=198 />
<linearGradient id=b257 href=#cm x1=831 y1=383 x2=787 y2=-4 />
<linearGradient id=b258 href=#cm x1=759 y1=257 x2=1002 y2=133 />
<linearGradient id=b259 href=#cm x1=862 y1=367 x2=825 y2=13 />
<linearGradient id=b260 href=#cm x1=901 y1=388 x2=863 y2=-5 />
<linearGradient id=b261 href=#cm x1=778 y1=233 x2=915 y2=145 />
<linearGradient id=b262 href=#cm x1=651 y1=418 x2=845 y2=-43 />
<linearGradient id=b263 href=#cm x1=754 y1=227 x2=925 y2=152 />
<linearGradient id=b264 href=#cm x1=863 y1=380 x2=827 y2=4 />
<linearGradient id=b265 href=#cm x1=665 y1=476 x2=857 y2=-110 />
<linearGradient id=b266 href=#cm x1=564 y1=431 x2=994 y2=-51 />
<linearGradient id=b267 href=#cm x1=864 y1=386 x2=791 y2=3 />
<linearGradient id=b268 href=#cm x1=870 y1=394 x2=754 y2=0 />
<linearGradient id=b269 href=#cm x1=615 y1=404 x2=950 y2=-11 />
<linearGradient id=b270 href=#cm x1=696 y1=456 x2=839 y2=-77 />
<linearGradient id=b271 href=#cm x1=769 y1=458 x2=790 y2=-70 />
<linearGradient id=b272 href=#cm x1=829 y1=580 x2=760 y2=-200 />
<linearGradient id=b273 href=#cm x1=688 y1=446 x2=868 y2=-57 />
<linearGradient id=b274 href=#cm x1=847 y1=407 x2=745 y2=-6 />
<linearGradient id=b275 href=#cm x1=834 y1=319 x2=712 y2=100 />
<linearGradient id=b276 href=#cm x1=855 y1=354 x2=781 y2=65 />
<linearGradient id=b277 href=#cm x1=854 y1=521 x2=701 y2=-130 />
<linearGradient id=b278 href=#cm x1=858 y1=403 x2=810 y2=5 />
<linearGradient id=b279 href=#cm x1=757 y1=259 x2=961 y2=196 />
<linearGradient id=b280 href=#cm x1=734 y1=411 x2=930 y2=-3 />
<linearGradient id=b281 href=#cm x1=894 y1=347 x2=777 y2=88 />
<linearGradient id=b282 href=#cm x1=790 y1=388 x2=758 y2=28 />
<linearGradient id=b283 href=#cm x1=740 y1=232 x2=818 y2=198 />
<linearGradient id=b284 href=#cm x1=816 y1=374 x2=862 y2=54 />
<linearGradient id=b285 href=#cm x1=669 y1=260 x2=881 y2=165 />
<linearGradient id=b286 href=#cm x1=800 y1=407 x2=749 y2=11 />
<linearGradient id=c1 href=#cm x1=198 y1=652 x2=199 y2=455 />
<linearGradient id=c2 href=#cm x1=219 y1=702 x2=150 y2=402 />
<linearGradient id=c3 href=#cm x1=268 y1=731 x2=230 y2=369 />
<linearGradient id=c4 href=#cm x1=288 y1=798 x2=97 y2=297 />
<linearGradient id=c5 href=#cm x1=207 y1=564 x2=298 y2=526 />
<linearGradient id=c6 href=#cm x1=270 y1=747 x2=231 y2=359 />
<linearGradient id=c7 href=#cm x1=289 y1=713 x2=185 y2=391 />
<linearGradient id=c8 href=#cm x1=204 y1=596 x2=145 y2=529 />
<linearGradient id=c9 href=#cm x1=243 y1=666 x2=290 y2=450 />
<linearGradient id=c10 href=#cm x1=217 y1=787 x2=145 y2=317 />
<linearGradient id=c11 href=#cm x1=282 y1=709 x2=231 y2=404 />
<linearGradient id=c12 href=#cm x1=231 y1=696 x2=252 y2=419 />
<linearGradient id=c13 href=#cm x1=293 y1=732 x2=194 y2=375 />
<linearGradient id=c14 href=#cm x1=150 y1=770 x2=306 y2=343 />
<linearGradient id=c15 href=#cm x1=254 y1=657 x2=298 y2=465 />
<linearGradient id=c16 href=#cm x1=326 y1=770 x2=187 y2=344 />
<linearGradient id=c17 href=#cm x1=290 y1=683 x2=199 y2=439 />
<linearGradient id=c18 href=#cm x1=304 y1=687 x2=219 y2=437 />
<linearGradient id=c19 href=#cm x1=286 y1=780 x2=174 y2=334 />
<linearGradient id=c20 href=#cm x1=263 y1=635 x2=172 y2=496 />
<linearGradient id=c21 href=#cm x1=362 y1=757 x2=170 y2=363 />
<linearGradient id=c22 href=#cm x1=221 y1=831 x2=218 y2=283 />
<linearGradient id=c23 href=#cm x1=212 y1=544 x2=269 y2=600 />
<linearGradient id=c24 href=#cm x1=298 y1=791 x2=186 y2=330 />
<linearGradient id=c25 href=#cm x1=-47 y1=607 x2=592 y2=534 />
<linearGradient id=c26 href=#cm x1=281 y1=846 x2=239 y2=272 />
<linearGradient id=c27 href=#cm x1=183 y1=634 x2=208 y2=503 />
<linearGradient id=c28 href=#cm x1=251 y1=752 x2=192 y2=374 />
<linearGradient id=c29 href=#cm x1=302 y1=741 x2=145 y2=386 />
<linearGradient id=c30 href=#cm x1=231 y1=755 x2=194 y2=374 />
<linearGradient id=c31 href=#cm x1=217 y1=732 x2=142 y2=402 />
<linearGradient id=c32 href=#cm x1=191 y1=749 x2=114 y2=382 />
<linearGradient id=c33 href=#cm x1=253 y1=744 x2=53 y2=389 />
<linearGradient id=c34 href=#cm x1=105 y1=619 x2=307 y2=505 />
<linearGradient id=c35 href=#cm x1=253 y1=790 x2=123 y2=342 />
<linearGradient id=c36 href=#cm x1=232 y1=769 x2=195 y2=365 />
<linearGradient id=c37 href=#cm x1=395 y1=767 x2=313 y2=372 />
<linearGradient id=c38 href=#cm x1=224 y1=708 x2=108 y2=433 />
<linearGradient id=c39 href=#cm x1=182 y1=751 x2=92 y2=388 />
<linearGradient id=c40 href=#cm x1=177 y1=773 x2=113 y2=365 />
<linearGradient id=c41 href=#cm x1=445 y1=790 x2=241 y2=347 />
<linearGradient id=c42 href=#cm x1=205 y1=789 x2=142 y2=350 />
<linearGradient id=c43 href=#cm x1=325 y1=763 x2=286 y2=376 />
<linearGradient id=c44 href=#cm x1=192 y1=757 x2=138 y2=383 />
<linearGradient id=c45 href=#cm x1=151 y1=781 x2=115 y2=361 />
<linearGradient id=c46 href=#cm x1=233 y1=610 x2=380 y2=521 />
<linearGradient id=c47 href=#cm x1=185 y1=758 x2=124 y2=385 />
<linearGradient id=c48 href=#cm x1=214 y1=777 x2=118 y2=365 />
<linearGradient id=c49 href=#cm x1=356 y1=742 x2=242 y2=399 />
<linearGradient id=c50 href=#cm x1=327 y1=777 x2=286 y2=367 />
<linearGradient id=c51 href=#cm x1=53 y1=759 x2=252 y2=387 />
<linearGradient id=c52 href=#cm x1=301 y1=781 x2=294 y2=364 />
<linearGradient id=c53 href=#cm x1=183 y1=782 x2=131 y2=364 />
<linearGradient id=c54 href=#cm x1=412 y1=802 x2=258 y2=341 />
<linearGradient id=c55 href=#cm x1=146 y1=766 x2=102 y2=380 />
<linearGradient id=c56 href=#cm x1=142 y1=802 x2=65 y2=343 />
<linearGradient id=c57 href=#cm x1=238 y1=761 x2=136 y2=386 />
<linearGradient id=c58 href=#cm x1=194 y1=770 x2=56 y2=378 />
<linearGradient id=c59 href=#cm x1=216 y1=770 x2=219 y2=378 />
<linearGradient id=c60 href=#cm x1=139 y1=728 x2=137 y2=426 />
<linearGradient id=c61 href=#cm x1=293 y1=823 x2=97 y2=323 />
<linearGradient id=c62 href=#cm x1=-35 y1=807 x2=268 y2=338 />
<linearGradient id=c63 href=#cm x1=298 y1=709 x2=77 y2=438 />
<linearGradient id=c64 href=#cm x1=234 y1=771 x2=193 y2=379 />
<linearGradient id=c65 href=#cm x1=441 y1=704 x2=241 y2=469 />
<linearGradient id=c66 href=#cm x1=159 y1=762 x2=58 y2=390 />
<linearGradient id=c67 href=#cm x1=219 y1=738 x2=164 y2=419 />
<linearGradient id=c68 href=#cm x1=152 y1=751 x2=103 y2=404 />
<linearGradient id=c69 href=#cm x1=317 y1=623 x2=119 y2=526 />
<linearGradient id=c70 href=#cm x1=236 y1=760 x2=124 y2=391 />
<linearGradient id=c71 href=#cm x1=134 y1=786 x2=96 y2=367 />
<linearGradient id=c72 href=#cm x1=235 y1=783 x2=193 y2=370 />
<linearGradient id=c73 href=#cm x1=260 y1=753 x2=152 y2=399 />
<linearGradient id=c74 href=#cm x1=202 y1=784 x2=161 y2=369 />
<linearGradient id=c75 href=#cm x1=249 y1=594 x2=250 y2=580 />
<linearGradient id=c76 href=#cm x1=123 y1=787 x2=89 y2=367 />
<linearGradient id=c77 href=#cm x1=397 y1=755 x2=291 y2=404 />
<linearGradient id=c78 href=#cm x1=332 y1=725 x2=346 y2=441 />
<linearGradient id=c79 href=#cm x1=341 y1=845 x2=32 y2=303 />
<linearGradient id=c80 href=#cm x1=111 y1=838 x2=109 y2=306 />
<linearGradient id=c81 href=#cm x1=196 y1=784 x2=156 y2=370 />
<linearGradient id=c82 href=#cm x1=183 y1=730 x2=52 y2=429 />
<linearGradient id=c83 href=#cm x1=242 y1=742 x2=118 y2=419 />
<linearGradient id=c84 href=#cm x1=229 y1=784 x2=184 y2=371 />
<linearGradient id=c85 href=#cm x1=168 y1=722 x2=46 y2=449 />
<linearGradient id=c86 href=#cm x1=-22 y1=824 x2=263 y2=322 />
<linearGradient id=c87 href=#cm x1=249 y1=687 x2=217 y2=480 />
<linearGradient id=c88 href=#cm x1=139 y1=609 x2=124 y2=584 />
<linearGradient id=c89 href=#cm x1=166 y1=794 x2=80 y2=363 />
<linearGradient id=c90 href=#cm x1=397 y1=776 x2=285 y2=385 />
<linearGradient id=c91 href=#cm x1=241 y1=820 x2=132 y2=335 />
<linearGradient id=c92 href=#cm x1=185 y1=762 x2=228 y2=395 />
<linearGradient id=c93 href=#cm x1=352 y1=851 x2=135 y2=301 />
<linearGradient id=c94 href=#cm x1=253 y1=770 x2=151 y2=389 />
<linearGradient id=c95 href=#cm x1=334 y1=771 x2=270 y2=388 />
<linearGradient id=c96 href=#cm x1=184 y1=665 x2=35 y2=513 />
<linearGradient id=c97 href=#cm x1=-93 y1=764 x2=365 y2=406 />
<linearGradient id=c98 href=#cm x1=436 y1=724 x2=222 y2=462 />
<linearGradient id=c99 href=#cm x1=212 y1=754 x2=126 y2=412 />
<linearGradient id=c100 href=#cm x1=216 y1=780 x2=176 y2=381 />
<linearGradient id=c101 href=#cm x1=347 y1=773 x2=334 y2=392 />
<linearGradient id=c102 href=#cm x1=219 y1=819 x2=137 y2=340 />
<linearGradient id=c103 href=#cm x1=272 y1=776 x2=139 y2=384 />
<linearGradient id=c104 href=#cm x1=408 y1=771 x2=198 y2=392 />
<linearGradient id=c105 href=#cm x1=319 y1=773 x2=264 y2=389 />
<linearGradient id=c106 href=#cm x1=20 y1=663 x2=449 y2=514 />
<linearGradient id=c107 href=#cm x1=109 y1=608 x2=275 y2=551 />
<linearGradient id=c108 href=#cm x1=362 y1=639 x2=284 y2=540 />
<linearGradient id=c109 href=#cm x1=357 y1=762 x2=262 y2=405 />
<linearGradient id=c110 href=#cm x1=186 y1=841 x2=146 y2=319 />
<linearGradient id=c111 href=#cm x1=20 y1=927 x2=244 y2=203 />
<linearGradient id=c112 href=#cm x1=219 y1=793 x2=176 y2=372 />
<linearGradient id=c113 href=#cm x1=292 y1=774 x2=269 y2=391 />
<linearGradient id=c114 href=#cm x1=475 y1=771 x2=144 y2=398 />
<linearGradient id=c115 href=#cm x1=173 y1=702 x2=65 y2=488 />
<linearGradient id=c116 href=#cm x1=298 y1=773 x2=246 y2=394 />
<linearGradient id=c117 href=#cm x1=259 y1=557 x2=212 y2=622 />
<linearGradient id=c118 href=#cm x1=392 y1=785 x2=263 y2=389 />
<linearGradient id=c119 href=#cm x1=313 y1=774 x2=259 y2=390 />
<linearGradient id=c120 href=#cm x1=331 y1=883 x2=332 y2=282 />
<linearGradient id=c121 href=#cm x1=350 y1=511 x2=131 y2=692 />
<linearGradient id=c122 href=#cm x1=288 y1=666 x2=163 y2=510 />
<linearGradient id=c123 href=#cm x1=348 y1=802 x2=239 y2=369 />
<linearGradient id=c124 href=#cm x1=101 y1=574 x2=176 y2=645 />
<linearGradient id=c125 href=#cm x1=368 y1=741 x2=226 y2=435 />
<linearGradient id=c126 href=#cm x1=264 y1=815 x2=309 y2=357 />
<linearGradient id=c127 href=#cm x1=380 y1=729 x2=255 y2=449 />
<linearGradient id=c128 href=#cm x1=172 y1=811 x2=73 y2=360 />
<linearGradient id=c129 href=#cm x1=485 y1=582 x2=-21 y2=600 />
<linearGradient id=c130 href=#cm x1=323 y1=798 x2=248 y2=373 />
<linearGradient id=c131 href=#cm x1=358 y1=859 x2=282 y2=310 />
<linearGradient id=c132 href=#cm x1=-30 y1=776 x2=304 y2=407 />
<linearGradient id=c133 href=#cm x1=425 y1=759 x2=196 y2=440 />
<linearGradient id=c134 href=#cm x1=277 y1=700 x2=159 y2=484 />
<linearGradient id=c135 href=#cm x1=317 y1=798 x2=232 y2=377 />
<linearGradient id=c136 href=#cm x1=312 y1=634 x2=348 y2=594 />
<linearGradient id=c137 href=#cm x1=335 y1=706 x2=187 y2=470 />
<linearGradient id=c138 href=#cm x1=153 y1=642 x2=105 y2=569 />
<linearGradient id=c139 href=#cm x1=358 y1=832 x2=242 y2=344 />
<linearGradient id=c140 href=#cm x1=330 y1=622 x2=257 y2=574 />
<linearGradient id=c141 href=#cm x1=209 y1=764 x2=175 y2=415 />
<linearGradient id=c142 href=#cm x1=227 y1=761 x2=62 y2=435 />
<linearGradient id=c143 href=#cm x1=229 y1=802 x2=186 y2=382 />
<linearGradient id=c144 href=#cm x1=182 y1=839 x2=258 y2=338 />
<linearGradient id=c145 href=#cm x1=214 y1=835 x2=239 y2=343 />
<linearGradient id=c146 href=#cm x1=311 y1=819 x2=154 y2=360 />
<linearGradient id=c147 href=#cm x1=138 y1=675 x2=334 y2=574 />
<linearGradient id=c148 href=#cm x1=311 y1=796 x2=213 y2=384 />
<linearGradient id=c149 href=#cm x1=-7 y1=845 x2=291 y2=327 />
<linearGradient id=c150 href=#cm x1=70 y1=779 x2=270 y2=416 />
<linearGradient id=c151 href=#cm x1=262 y1=835 x2=122 y2=345 />
<linearGradient id=c152 href=#cm x1=192 y1=798 x2=81 y2=392 />
<linearGradient id=c153 href=#cm x1=-34 y1=777 x2=509 y2=410 />
<linearGradient id=c154 href=#cm x1=167 y1=881 x2=108 y2=287 />
<linearGradient id=c155 href=#cm x1=229 y1=797 x2=189 y2=394 />
<linearGradient id=c156 href=#cm x1=333 y1=794 x2=294 y2=389 />
<linearGradient id=c157 href=#cm x1=393 y1=786 x2=232 y2=407 />
<linearGradient id=c158 href=#cm x1=212 y1=774 x2=130 y2=411 />
<linearGradient id=c159 href=#cm x1=288 y1=762 x2=89 y2=443 />
<linearGradient id=c160 href=#cm x1=249 y1=637 x2=389 y2=550 />
<linearGradient id=c161 href=#cm x1=-24 y1=803 x2=501 y2=385 />
<linearGradient id=c162 href=#cm x1=222 y1=798 x2=183 y2=395 />
<linearGradient id=c163 href=#cm x1=-40 y1=818 x2=342 y2=368 />
<linearGradient id=c164 href=#cm x1=417 y1=753 x2=184 y2=470 />
<linearGradient id=c165 href=#cm x1=185 y1=788 x2=102 y2=409 />
<linearGradient id=c166 href=#cm x1=381 y1=745 x2=230 y2=442 />
<linearGradient id=c167 href=#cm x1=268 y1=634 x2=287 y2=579 />
<linearGradient id=c168 href=#cm x1=339 y1=813 x2=290 y2=374 />
<linearGradient id=c169 href=#cm x1=418 y1=637 x2=195 y2=609 />
<linearGradient id=c170 href=#cm x1=90 y1=813 x2=249 y2=375 />
<linearGradient id=c171 href=#cm x1=276 y1=733 x2=252 y2=466 />
<linearGradient id=c172 href=#cm x1=227 y1=767 x2=163 y2=427 />
<linearGradient id=c173 href=#cm x1=181 y1=827 x2=170 y2=362 />
<linearGradient id=c174 href=#cm x1=347 y1=808 x2=270 y2=381 />
<linearGradient id=c175 href=#cm x1=296 y1=826 x2=314 y2=363 />
<linearGradient id=c176 href=#cm x1=169 y1=796 x2=91 y2=402 />
<linearGradient id=c177 href=#cm x1=122 y1=627 x2=161 y2=611 />
<linearGradient id=c178 href=#cm x1=479 y1=876 x2=51 y2=309 />
<linearGradient id=c179 href=#cm x1=163 y1=655 x2=249 y2=551 />
<linearGradient id=c180 href=#cm x1=292 y1=800 x2=303 y2=393 />
<linearGradient id=c181 href=#cm x1=310 y1=802 x2=274 y2=392 />
<linearGradient id=c182 href=#cm x1=62 y1=564 x2=259 y2=686 />
<linearGradient id=c183 href=#cm x1=192 y1=821 x2=83 y2=374 />
<linearGradient id=c184 href=#cm x1=237 y1=736 x2=131 y2=467 />
<linearGradient id=c185 href=#cm x1=409 y1=760 x2=177 y2=475 />
<linearGradient id=c186 href=#cm x1=344 y1=806 x2=243 y2=389 />
<linearGradient id=c187 href=#cm x1=276 y1=670 x2=224 y2=542 />
<linearGradient id=c188 href=#cm x1=267 y1=791 x2=205 y2=406 />
<linearGradient id=c189 href=#cm x1=171 y1=666 x2=410 y2=533 />
<linearGradient id=c190 href=#cm x1=231 y1=834 x2=158 y2=362 />
<linearGradient id=c191 href=#cm x1=27 y1=761 x2=254 y2=451 />
<linearGradient id=c192 href=#cm x1=315 y1=854 x2=207 y2=341 />
<linearGradient id=c193 href=#cm x1=110 y1=891 x2=266 y2=301 />
<linearGradient id=c194 href=#cm x1=332 y1=825 x2=138 y2=374 />
<linearGradient id=c195 href=#cm x1=193 y1=815 x2=65 y2=385 />
<linearGradient id=c196 href=#cm x1=482 y1=640 x2=126 y2=574 />
<linearGradient id=c197 href=#cm x1=246 y1=792 x2=200 y2=409 />
<linearGradient id=c198 href=#cm x1=102 y1=890 x2=200 y2=292 />
<linearGradient id=c199 href=#cm x1=218 y1=763 x2=73 y2=450 />
<linearGradient id=c200 href=#cm x1=345 y1=768 x2=260 y2=437 />
<linearGradient id=c201 href=#cm x1=227 y1=921 x2=265 y2=270 />
<linearGradient id=c202 href=#cm x1=186 y1=853 x2=140 y2=344 />
<linearGradient id=c203 href=#cm x1=102 y1=1001 x2=412 y2=182 />
<linearGradient id=c204 href=#cm x1=241 y1=832 x2=152 y2=371 />
<linearGradient id=c205 href=#cm x1=363 y1=817 x2=220 y2=398 />
<linearGradient id=c206 href=#cm x1=176 y1=856 x2=137 y2=341 />
<linearGradient id=c207 href=#cm x1=99 y1=898 x2=267 y2=290 />
<linearGradient id=c208 href=#cm x1=117 y1=853 x2=192 y2=345 />
<linearGradient id=c209 href=#cm x1=142 y1=899 x2=292 y2=284 />
<linearGradient id=c210 href=#cm x1=81 y1=665 x2=369 y2=562 />
<linearGradient id=c211 href=#cm x1=144 y1=895 x2=191 y2=292 />
<linearGradient id=c212 href=#cm x1=259 y1=833 x2=189 y2=371 />
<linearGradient id=c213 href=#cm x1=364 y1=818 x2=226 y2=394 />
<linearGradient id=c214 href=#cm x1=122 y1=894 x2=259 y2=299 />
<linearGradient id=c215 href=#cm x1=227 y1=834 x2=142 y2=373 />
<linearGradient id=c216 href=#cm x1=126 y1=895 x2=239 y2=295 />
<linearGradient id=c217 href=#cm x1=270 y1=827 x2=197 y2=383 />
<linearGradient id=c218 href=#cm x1=106 y1=826 x2=342 y2=382 />
<linearGradient id=c219 href=#cm x1=125 y1=727 x2=405 y2=517 />
<linearGradient id=c220 href=#cm x1=208 y1=848 x2=229 y2=359 />
<linearGradient id=c221 href=#cm x1=274 y1=827 x2=166 y2=388 />
<linearGradient id=c222 href=#cm x1=146 y1=874 x2=313 y2=327 />
<linearGradient id=c223 href=#cm x1=347 y1=752 x2=235 y2=460 />
<linearGradient id=c224 href=#cm x1=287 y1=675 x2=149 y2=572 />
<linearGradient id=c225 href=#cm x1=311 y1=741 x2=248 y2=479 />
<linearGradient id=c226 href=#cm x1=243 y1=813 x2=212 y2=410 />
<linearGradient id=c227 href=#cm x1=285 y1=788 x2=176 y2=447 />
<linearGradient id=c228 href=#cm x1=360 y1=816 x2=207 y2=405 />
<linearGradient id=c229 href=#cm x1=333 y1=753 x2=94 y2=497 />
<linearGradient id=c230 href=#cm x1=169 y1=836 x2=301 y2=385 />
<linearGradient id=c231 href=#cm x1=297 y1=866 x2=200 y2=348 />
<linearGradient id=c232 href=#cm x1=292 y1=750 x2=178 y2=492 />
<linearGradient id=c233 href=#cm x1=218 y1=701 x2=376 y2=566 />
<linearGradient id=c234 href=#cm x1=286 y1=869 x2=192 y2=348 />
<linearGradient id=c235 href=#cm x1=387 y1=747 x2=139 y2=526 />
<linearGradient id=c236 href=#cm x1=156 y1=865 x2=343 y2=353 />
<linearGradient id=c237 href=#cm x1=138 y1=1001 x2=401 y2=177 />
<linearGradient id=c238 href=#cm x1=281 y1=640 x2=247 y2=614 />
<linearGradient id=c239 href=#cm x1=310 y1=869 x2=231 y2=359 />
<linearGradient id=c240 href=#cm x1=173 y1=894 x2=370 y2=330 />
<linearGradient id=c241 href=#cm x1=348 y1=844 x2=186 y2=394 />
<linearGradient id=c242 href=#cm x1=324 y1=807 x2=197 y2=442 />
<linearGradient id=c243 href=#cm x1=279 y1=868 x2=231 y2=381 />
<linearGradient id=c244 href=#cm x1=132 y1=732 x2=429 y2=555 />
<linearGradient id=c245 href=#cm x1=220 y1=671 x2=297 y2=634 />
<linearGradient id=c246 href=#cm x1=278 y1=841 x2=235 y2=421 />
<linearGradient id=d1 href=#cm x1=785 y1=701 x2=760 y2=413 />
<linearGradient id=d2 href=#cm x1=780 y1=706 x2=744 y2=410 />
<linearGradient id=d3 href=#cm x1=909 y1=822 x2=631 y2=286 />
<linearGradient id=d4 href=#cm x1=787 y1=644 x2=714 y2=484 />
<linearGradient id=d5 href=#cm x1=777 y1=793 x2=750 y2=323 />
<linearGradient id=d6 href=#cm x1=782 y1=781 x2=720 y2=338 />
<linearGradient id=d7 href=#cm x1=826 y1=753 x2=777 y2=369 />
<linearGradient id=d8 href=#cm x1=872 y1=742 x2=739 y2=380 />
<linearGradient id=d9 href=#cm x1=812 y1=755 x2=773 y2=370 />
<linearGradient id=d10 href=#cm x1=836 y1=740 x2=736 y2=385 />
<linearGradient id=d11 href=#cm x1=772 y1=744 x2=697 y2=389 />
<linearGradient id=d12 href=#cm x1=824 y1=763 x2=765 y2=367 />
<linearGradient id=d13 href=#cm x1=674 y1=683 x2=885 y2=435 />
<linearGradient id=d14 href=#cm x1=799 y1=767 x2=769 y2=365 />
<linearGradient id=d15 href=#cm x1=823 y1=766 x2=644 y2=367 />
<linearGradient id=d16 href=#cm x1=747 y1=746 x2=701 y2=391 />
<linearGradient id=d17 href=#cm x1=771 y1=711 x2=659 y2=432 />
<linearGradient id=d18 href=#cm x1=752 y1=783 x2=699 y2=356 />
<linearGradient id=d19 href=#cm x1=772 y1=730 x2=699 y2=414 />
<linearGradient id=d20 href=#cm x1=775 y1=771 x2=736 y2=379 />
<linearGradient id=d21 href=#cm x1=741 y1=786 x2=692 y2=356 />
<linearGradient id=d22 href=#cm x1=955 y1=802 x2=517 y2=339 />
<linearGradient id=d23 href=#cm x1=704 y1=662 x2=876 y2=576 />
<linearGradient id=d24 href=#cm x1=904 y1=747 x2=780 y2=396 />
<linearGradient id=d25 href=#cm x1=839 y1=761 x2=835 y2=384 />
<linearGradient id=d26 href=#cm x1=810 y1=750 x2=654 y2=420 />
<linearGradient id=d27 href=#cm x1=909 y1=743 x2=824 y2=400 />
<linearGradient id=d28 href=#cm x1=827 y1=584 x2=864 y2=565 />
<linearGradient id=d29 href=#cm x1=685 y1=688 x2=581 y2=482 />
<linearGradient id=d30 href=#cm x1=776 y1=769 x2=738 y2=387 />
<linearGradient id=d31 href=#cm x1=729 y1=733 x2=687 y2=416 />
<linearGradient id=d32 href=#cm x1=762 y1=771 x2=744 y2=386 />
<linearGradient id=d33 href=#cm x1=835 y1=589 x2=913 y2=549 />
<linearGradient id=d34 href=#cm x1=717 y1=761 x2=641 y2=386 />
<linearGradient id=d35 href=#cm x1=710 y1=727 x2=689 y2=424 />
<linearGradient id=d36 href=#cm x1=816 y1=833 x2=595 y2=311 />
<linearGradient id=d37 href=#cm x1=685 y1=708 x2=586 y2=455 />
<linearGradient id=d38 href=#cm x1=788 y1=704 x2=656 y2=449 />
<linearGradient id=d39 href=#cm x1=860 y1=792 x2=820 y2=356 />
<linearGradient id=d40 href=#cm x1=776 y1=760 x2=581 y2=390 />
<linearGradient id=d41 href=#cm x1=693 y1=763 x2=653 y2=386 />
<linearGradient id=d42 href=#cm x1=779 y1=808 x2=689 y2=339 />
<linearGradient id=d43 href=#cm x1=539 y1=621 x2=758 y2=574 />
<linearGradient id=d44 href=#cm x1=885 y1=700 x2=771 y2=450 />
<linearGradient id=d45 href=#cm x1=745 y1=791 x2=700 y2=359 />
<linearGradient id=d46 href=#cm x1=707 y1=801 x2=750 y2=348 />
<linearGradient id=d47 href=#cm x1=662 y1=793 x2=619 y2=358 />
<linearGradient id=d48 href=#cm x1=720 y1=817 x2=680 y2=333 />
<linearGradient id=d49 href=#cm x1=718 y1=740 x2=610 y2=414 />
<linearGradient id=d50 href=#cm x1=695 y1=788 x2=653 y2=364 />
<linearGradient id=d51 href=#cm x1=921 y1=636 x2=793 y2=511 />
<linearGradient id=d52 href=#cm x1=694 y1=728 x2=587 y2=435 />
<linearGradient id=d53 href=#cm x1=777 y1=761 x2=690 y2=392 />
<linearGradient id=d54 href=#cm x1=880 y1=773 x2=777 y2=380 />
<linearGradient id=d55 href=#cm x1=713 y1=653 x2=660 y2=510 />
<linearGradient id=d56 href=#cm x1=702 y1=782 x2=627 y2=373 />
<linearGradient id=d57 href=#cm x1=834 y1=776 x2=632 y2=379 />
<linearGradient id=d58 href=#cm x1=724 y1=804 x2=649 y2=350 />
<linearGradient id=d59 href=#cm x1=745 y1=764 x2=705 y2=393 />
<linearGradient id=d60 href=#cm x1=693 y1=721 x2=580 y2=447 />
<linearGradient id=d61 href=#cm x1=540 y1=624 x2=758 y2=580 />
<linearGradient id=d62 href=#cm x1=927 y1=795 x2=806 y2=364 />
<linearGradient id=d63 href=#cm x1=1115 y1=842 x2=503 y2=312 />
<linearGradient id=d64 href=#cm x1=772 y1=542 x2=836 y2=641 />
<linearGradient id=d65 href=#cm x1=673 y1=800 x2=609 y2=358 />
<linearGradient id=d66 href=#cm x1=953 y1=898 x2=436 y2=250 />
<linearGradient id=d67 href=#cm x1=712 y1=688 x2=690 y2=481 />
<linearGradient id=d68 href=#cm x1=696 y1=741 x2=586 y2=430 />
<linearGradient id=d69 href=#cm x1=786 y1=652 x2=654 y2=512 />
<linearGradient id=d70 href=#cm x1=673 y1=790 x2=630 y2=372 />
<linearGradient id=d71 href=#cm x1=748 y1=799 x2=704 y2=361 />
<linearGradient id=d72 href=#cm x1=574 y1=639 x2=763 y2=563 />
<linearGradient id=d73 href=#cm x1=916 y1=631 x2=795 y2=520 />
<linearGradient id=d74 href=#cm x1=628 y1=817 x2=664 y2=340 />
<linearGradient id=d75 href=#cm x1=785 y1=768 x2=657 y2=394 />
<linearGradient id=d76 href=#cm x1=717 y1=773 x2=557 y2=399 />
<linearGradient id=d77 href=#cm x1=669 y1=779 x2=637 y2=388 />
<linearGradient id=d78 href=#cm x1=714 y1=714 x2=666 y2=456 />
<linearGradient id=d79 href=#cm x1=703 y1=769 x2=744 y2=397 />
<linearGradient id=d80 href=#cm x1=766 y1=584 x2=764 y2=597 />
<linearGradient id=d81 href=#cm x1=828 y1=651 x2=948 y2=519 />
<linearGradient id=d82 href=#cm x1=557 y1=834 x2=753 y2=320 />
<linearGradient id=d83 href=#cm x1=757 y1=695 x2=662 y2=480 />
<linearGradient id=d84 href=#cm x1=701 y1=769 x2=580 y2=405 />
<linearGradient id=d85 href=#cm x1=915 y1=752 x2=846 y2=415 />
<linearGradient id=d86 href=#cm x1=849 y1=735 x2=931 y2=433 />
<linearGradient id=d87 href=#cm x1=748 y1=799 x2=635 y2=368 />
<linearGradient id=d88 href=#cm x1=778 y1=692 x2=727 y2=484 />
<linearGradient id=d89 href=#cm x1=800 y1=779 x2=760 y2=388 />
<linearGradient id=d90 href=#cm x1=646 y1=812 x2=653 y2=353 />
<linearGradient id=d91 href=#cm x1=750 y1=837 x2=677 y2=326 />
<linearGradient id=d92 href=#cm x1=871 y1=715 x2=797 y2=460 />
<linearGradient id=d93 href=#cm x1=776 y1=556 x2=759 y2=629 />
<linearGradient id=d94 href=#cm x1=798 y1=586 x2=768 y2=588 />
<linearGradient id=d95 href=#cm x1=843 y1=730 x2=887 y2=440 />
<linearGradient id=d96 href=#cm x1=665 y1=465 x2=940 y2=737 />
<linearGradient id=d97 href=#cm x1=739 y1=708 x2=620 y2=469 />
<linearGradient id=d98 href=#cm x1=573 y1=832 x2=748 y2=329 />
<linearGradient id=d99 href=#cm x1=803 y1=798 x2=758 y2=371 />
<linearGradient id=d100 href=#cm x1=849 y1=662 x2=831 y2=514 />
<linearGradient id=d101 href=#cm x1=875 y1=765 x2=836 y2=405 />
<linearGradient id=d102 href=#cm x1=510 y1=685 x2=829 y2=509 />
<linearGradient id=d103 href=#cm x1=929 y1=794 x2=838 y2=376 />
<linearGradient id=d104 href=#cm x1=724 y1=704 x2=1035 y2=470 />
<linearGradient id=d105 href=#cm x1=826 y1=758 x2=723 y2=411 />
<linearGradient id=d106 href=#cm x1=820 y1=788 x2=729 y2=383 />
<linearGradient id=d107 href=#cm x1=758 y1=758 x2=792 y2=417 />
<linearGradient id=d108 href=#cm x1=535 y1=790 x2=802 y2=385 />
<linearGradient id=d109 href=#cm x1=731 y1=685 x2=618 y2=499 />
<linearGradient id=d110 href=#cm x1=784 y1=748 x2=742 y2=426 />
<linearGradient id=d111 href=#cm x1=701 y1=827 x2=654 y2=344 />
<linearGradient id=d112 href=#cm x1=695 y1=801 x2=652 y2=375 />
<linearGradient id=d113 href=#cm x1=930 y1=808 x2=782 y2=366 />
<linearGradient id=d114 href=#cm x1=867 y1=719 x2=776 y2=464 />
<linearGradient id=d115 href=#cm x1=596 y1=645 x2=784 y2=572 />
<linearGradient id=d116 href=#cm x1=578 y1=811 x2=757 y2=363 />
<linearGradient id=d117 href=#cm x1=681 y1=826 x2=646 y2=346 />
<linearGradient id=d118 href=#cm x1=728 y1=719 x2=596 y2=475 />
<linearGradient id=d119 href=#cm x1=625 y1=637 x2=735 y2=586 />
<linearGradient id=d120 href=#cm x1=742 y1=724 x2=710 y2=458 />
<linearGradient id=d121 href=#cm x1=697 y1=789 x2=650 y2=394 />
<linearGradient id=d122 href=#cm x1=635 y1=611 x2=1062 y2=571 />
<linearGradient id=d123 href=#cm x1=884 y1=819 x2=868 y2=357 />
<linearGradient id=d124 href=#cm x1=749 y1=715 x2=726 y2=464 />
<linearGradient id=d125 href=#cm x1=479 y1=768 x2=897 y2=419 />
<linearGradient id=d126 href=#cm x1=821 y1=815 x2=703 y2=363 />
<linearGradient id=d127 href=#cm x1=926 y1=910 x2=741 y2=263 />
<linearGradient id=d128 href=#cm x1=930 y1=817 x2=791 y2=362 />
<linearGradient id=d129 href=#cm x1=585 y1=834 x2=769 y2=341 />
<linearGradient id=d130 href=#cm x1=898 y1=835 x2=790 y2=345 />
<linearGradient id=d131 href=#cm x1=530 y1=780 x2=842 y2=408 />
<linearGradient id=d132 href=#cm x1=704 y1=969 x2=797 y2=210 />
<linearGradient id=d133 href=#cm x1=744 y1=810 x2=609 y2=374 />
<linearGradient id=d134 href=#cm x1=751 y1=721 x2=608 y2=482 />
<linearGradient id=d135 href=#cm x1=776 y1=842 x2=689 y2=342 />
<linearGradient id=d136 href=#cm x1=743 y1=699 x2=589 y2=506 />
<linearGradient id=d137 href=#cm x1=949 y1=781 x2=758 y2=412 />
<linearGradient id=d138 href=#cm x1=755 y1=681 x2=652 y2=523 />
<linearGradient id=d139 href=#cm x1=793 y1=844 x2=700 y2=340 />
<linearGradient id=d140 href=#cm x1=802 y1=592 x2=823 y2=616 />
<linearGradient id=d141 href=#cm x1=750 y1=829 x2=629 y2=356 />
<linearGradient id=d142 href=#cm x1=640 y1=981 x2=842 y2=193 />
<linearGradient id=d143 href=#cm x1=607 y1=799 x2=753 y2=393 />
<linearGradient id=d144 href=#cm x1=867 y1=912 x2=770 y2=268 />
<linearGradient id=d145 href=#cm x1=863 y1=790 x2=828 y2=401 />
<linearGradient id=d146 href=#cm x1=747 y1=843 x2=684 y2=346 />
<linearGradient id=d147 href=#cm x1=812 y1=624 x2=893 y2=577 />
<linearGradient id=d148 href=#cm x1=602 y1=825 x2=782 y2=366 />
<linearGradient id=d149 href=#cm x1=796 y1=794 x2=715 y2=398 />
<linearGradient id=d150 href=#cm x1=739 y1=657 x2=659 y2=557 />
<linearGradient id=d151 href=#cm x1=986 y1=729 x2=702 y2=480 />
<linearGradient id=d152 href=#cm x1=867 y1=826 x2=827 y2=367 />
<linearGradient id=d153 href=#cm x1=903 y1=726 x2=770 y2=473 />
<linearGradient id=d154 href=#cm x1=995 y1=689 x2=683 y2=543 />
<linearGradient id=d155 href=#cm x1=735 y1=839 x2=674 y2=354 />
<linearGradient id=d156 href=#cm x1=863 y1=802 x2=647 y2=393 />
<linearGradient id=d157 href=#cm x1=767 y1=797 x2=725 y2=398 />
<linearGradient id=d158 href=#cm x1=985 y1=732 x2=702 y2=479 />
<linearGradient id=d159 href=#cm x1=872 y1=820 x2=802 y2=376 />
<linearGradient id=d160 href=#cm x1=917 y1=757 x2=777 y2=447 />
<linearGradient id=d161 href=#cm x1=622 y1=856 x2=782 y2=334 />
<linearGradient id=d162 href=#cm x1=758 y1=751 x2=652 y2=461 />
<linearGradient id=d163 href=#cm x1=880 y1=817 x2=808 y2=388 />
<linearGradient id=d164 href=#cm x1=772 y1=830 x2=722 y2=370 />
<linearGradient id=d165 href=#cm x1=800 y1=758 x2=672 y2=444 />
<linearGradient id=d166 href=#cm x1=894 y1=776 x2=789 y2=431 />
<linearGradient id=d167 href=#cm x1=904 y1=788 x2=775 y2=433 />
<linearGradient id=d168 href=#cm x1=795 y1=811 x2=684 y2=391 />
<linearGradient id=d169 href=#cm x1=613 y1=849 x2=812 y2=349 />
<linearGradient id=d170 href=#cm x1=715 y1=853 x2=701 y2=346 />
<linearGradient id=d171 href=#cm x1=885 y1=811 x2=780 y2=401 />
<linearGradient id=d172 href=#cm x1=764 y1=838 x2=706 y2=366 />
<linearGradient id=d173 href=#cm x1=977 y1=687 x2=701 y2=559 />
<linearGradient id=d174 href=#cm x1=883 y1=880 x2=798 y2=321 />
<linearGradient id=d175 href=#cm x1=888 y1=708 x2=781 y2=512 />
<linearGradient id=d176 href=#cm x1=860 y1=814 x2=822 y2=400 />
<linearGradient id=d177 href=#cm x1=621 y1=879 x2=822 y2=316 />
<linearGradient id=d178 href=#cm x1=601 y1=867 x2=855 y2=334 />
<linearGradient id=d179 href=#cm x1=852 y1=815 x2=816 y2=400 />
<linearGradient id=d180 href=#cm x1=746 y1=828 x2=701 y2=382 />
<linearGradient id=d181 href=#cm x1=622 y1=699 x2=863 y2=543 />
<linearGradient id=d182 href=#cm x1=920 y1=831 x2=768 y2=380 />
<linearGradient id=d183 href=#cm x1=783 y1=786 x2=641 y2=434 />
<linearGradient id=d184 href=#cm x1=677 y1=649 x2=780 y2=606 />
<linearGradient id=d185 href=#cm x1=825 y1=811 x2=775 y2=401 />
<linearGradient id=d186 href=#cm x1=745 y1=816 x2=704 y2=401 />
<linearGradient id=d187 href=#cm x1=756 y1=633 x2=852 y2=585 />
<linearGradient id=d188 href=#cm x1=557 y1=771 x2=907 y2=454 />
<linearGradient id=d189 href=#cm x1=995 y1=648 x2=670 y2=607 />
<linearGradient id=d190 href=#cm x1=859 y1=779 x2=727 y2=437 />
<linearGradient id=d191 href=#cm x1=820 y1=838 x2=782 y2=376 />
<linearGradient id=d192 href=#cm x1=849 y1=812 x2=810 y2=403 />
<linearGradient id=d193 href=#cm x1=790 y1=871 x2=679 y2=338 />
<linearGradient id=d194 href=#cm x1=841 y1=813 x2=805 y2=404 />
<linearGradient id=d195 href=#cm x1=825 y1=834 x2=764 y2=381 />
<linearGradient id=d196 href=#cm x1=640 y1=841 x2=814 y2=375 />
<linearGradient id=d197 href=#cm x1=1012 y1=713 x2=646 y2=541 />
<linearGradient id=d198 href=#cm x1=894 y1=836 x2=763 y2=380 />
<linearGradient id=d199 href=#cm x1=758 y1=837 x2=689 y2=381 />
<linearGradient id=d200 href=#cm x1=700 y1=861 x2=750 y2=353 />
<linearGradient id=d201 href=#cm x1=805 y1=730 x2=670 y2=511 />
<linearGradient id=d202 href=#cm x1=851 y1=842 x2=796 y2=376 />
<linearGradient id=d203 href=#cm x1=888 y1=753 x2=745 y2=470 />
<linearGradient id=d204 href=#cm x1=642 y1=886 x2=835 y2=322 />
<linearGradient id=d205 href=#cm x1=860 y1=835 x2=776 y2=385 />
<linearGradient id=d206 href=#cm x1=879 y1=861 x2=800 y2=357 />
<linearGradient id=d207 href=#cm x1=853 y1=834 x2=777 y2=391 />
<linearGradient id=d208 href=#cm x1=834 y1=817 x2=736 y2=407 />
<linearGradient id=d209 href=#cm x1=897 y1=757 x2=721 y2=492 />
<linearGradient id=d210 href=#cm x1=831 y1=841 x2=792 y2=384 />
<linearGradient id=d211 href=#cm x1=892 y1=775 x2=677 y2=451 />
<linearGradient id=d212 href=#cm x1=894 y1=845 x2=768 y2=380 />
<linearGradient id=d213 href=#cm x1=807 y1=839 x2=754 y2=388 />
<linearGradient id=d214 href=#cm x1=858 y1=796 x2=703 y2=431 />
<linearGradient id=d215 href=#cm x1=813 y1=837 x2=744 y2=391 />
<linearGradient id=d216 href=#cm x1=873 y1=767 x2=671 y2=479 />
<linearGradient id=d217 href=#cm x1=837 y1=831 x2=730 y2=394 />
<linearGradient id=d218 href=#cm x1=756 y1=670 x2=881 y2=605 />
<linearGradient id=d219 href=#cm x1=751 y1=897 x2=743 y2=319 />
<linearGradient id=d220 href=#cm x1=715 y1=698 x2=866 y2=537 />
<linearGradient id=d221 href=#cm x1=670 y1=809 x2=900 y2=419 />
<linearGradient id=d222 href=#cm x1=823 y1=839 x2=742 y2=387 />
<linearGradient id=d223 href=#cm x1=631 y1=880 x2=871 y2=339 />
<linearGradient id=d224 href=#cm x1=833 y1=827 x2=792 y2=406 />
<linearGradient id=d225 href=#cm x1=870 y1=786 x2=667 y2=456 />
<linearGradient id=d226 href=#cm x1=838 y1=816 x2=708 y2=420 />
<linearGradient id=d227 href=#cm x1=848 y1=813 x2=720 y2=416 />
<linearGradient id=d228 href=#cm x1=867 y1=810 x2=703 y2=419 />
<linearGradient id=d229 href=#cm x1=774 y1=925 x2=749 y2=286 />
<linearGradient id=d230 href=#cm x1=827 y1=788 x2=697 y2=453 />
<linearGradient id=d231 href=#cm x1=849 y1=823 x2=716 y2=408 />
<linearGradient id=d232 href=#cm x1=880 y1=750 x2=680 y2=487 />
<linearGradient id=d233 href=#cm x1=890 y1=845 x2=747 y2=387 />
<linearGradient id=d234 href=#cm x1=661 y1=947 x2=860 y2=257 />
<linearGradient id=d235 href=#cm x1=854 y1=885 x2=781 y2=341 />
<linearGradient id=d236 href=#cm x1=731 y1=928 x2=809 y2=289 />
<linearGradient id=d237 href=#cm x1=748 y1=937 x2=880 y2=280 />
<linearGradient id=d238 href=#cm x1=874 y1=856 x2=716 y2=379 />
<linearGradient id=d239 href=#cm x1=837 y1=887 x2=775 y2=341 />
<linearGradient id=d240 href=#cm x1=815 y1=688 x2=717 y2=582 />
<linearGradient id=d241 href=#cm x1=628 y1=966 x2=929 y2=240 />
<linearGradient id=d242 href=#cm x1=831 y1=805 x2=723 y2=436 />
<linearGradient id=d243 href=#cm x1=757 y1=931 x2=823 y2=295 />
<linearGradient id=d244 href=#cm x1=987 y1=713 x2=549 y2=536 />
<linearGradient id=d245 href=#cm x1=821 y1=881 x2=753 y2=355 />
<linearGradient id=d246 href=#cm x1=836 y1=797 x2=688 y2=454 />
<linearGradient id=d247 href=#cm x1=869 y1=841 x2=672 y2=404 />
<linearGradient id=d248 href=#cm x1=755 y1=860 x2=780 y2=388 />
<linearGradient id=e1 href=#cm x1=242 y1=957 x2=221 y2=1044 />
<linearGradient id=e2 href=#cm x1=-91 y1=999 x2=353 y2=1047 />
<linearGradient id=e3 href=#cm x1=265 y1=1073 x2=274 y2=925 />
<linearGradient id=e4 href=#cm x1=272 y1=1068 x2=282 y2=932 />
<linearGradient id=e5 href=#cm x1=689 y1=1032 x2=-250 y2=968 />
<linearGradient id=e6 href=#cm x1=-107 y1=1185 x2=376 y2=813 />
<linearGradient id=e7 href=#cm x1=268 y1=1145 x2=165 y2=851 />
<linearGradient id=e8 href=#cm x1=-79 y1=1227 x2=343 y2=761 />
<linearGradient id=e9 href=#cm x1=288 y1=1111 x2=218 y2=892 />
<linearGradient id=e10 href=#cm x1=289 y1=1237 x2=162 y2=757 />
<linearGradient id=e11 href=#cm x1=318 y1=1248 x2=206 y2=747 />
<linearGradient id=e12 href=#cm x1=345 y1=1259 x2=41 y2=736 />
<linearGradient id=e13 href=#cm x1=-116 y1=1039 x2=393 y2=1012 />
<linearGradient id=e14 href=#cm x1=207 y1=1106 x2=172 y2=898 />
<linearGradient id=e15 href=#cm x1=158 y1=1131 x2=127 y2=873 />
<linearGradient id=e16 href=#cm x1=286 y1=1238 x2=-2 y2=761 />
<linearGradient id=e17 href=#cm x1=159 y1=1131 x2=43 y2=889 />
<linearGradient id=e18 href=#cm x1=230 y1=1189 x2=181 y2=812 />
<linearGradient id=e19 href=#cm x1=265 y1=1235 x2=162 y2=765 />
<linearGradient id=e20 href=#cm x1=219 y1=1191 x2=181 y2=812 />
<linearGradient id=e21 href=#cm x1=250 y1=1213 x2=132 y2=790 />
<linearGradient id=e22 href=#cm x1=246 y1=1202 x2=166 y2=801 />
<linearGradient id=e23 href=#cm x1=80 y1=1436 x2=426 y2=548 />
<linearGradient id=e24 href=#cm x1=184 y1=1111 x2=79 y2=900 />
<linearGradient id=e25 href=#cm x1=41 y1=1131 x2=388 y2=879 />
<linearGradient id=e26 href=#cm x1=89 y1=1080 x2=312 y2=929 />
<linearGradient id=e27 href=#cm x1=418 y1=1185 x2=-53 y2=822 />
<linearGradient id=e28 href=#cm x1=221 y1=1206 x2=179 y2=799 />
<linearGradient id=e29 href=#cm x1=147 y1=1158 x2=51 y2=859 />
<linearGradient id=e30 href=#cm x1=299 y1=1163 x2=292 y2=847 />
<linearGradient id=e31 href=#cm x1=198 y1=1053 x2=149 y2=964 />
<linearGradient id=e32 href=#cm x1=306 y1=1171 x2=266 y2=839 />
<linearGradient id=e33 href=#cm x1=352 y1=1232 x2=235 y2=775 />
<linearGradient id=e34 href=#cm x1=171 y1=1228 x2=90 y2=780 />
<linearGradient id=e35 href=#cm x1=166 y1=1119 x2=24 y2=907 />
<linearGradient id=e36 href=#cm x1=169 y1=1170 x2=80 y2=842 />
<linearGradient id=e37 href=#cm x1=286 y1=1247 x2=78 y2=760 />
<linearGradient id=e38 href=#cm x1=121 y1=1121 x2=459 y2=898 />
<linearGradient id=e39 href=#cm x1=222 y1=1037 x2=249 y2=989 />
<linearGradient id=e40 href=#cm x1=246 y1=1112 x2=207 y2=907 />
<linearGradient id=e41 href=#cm x1=310 y1=1230 x2=263 y2=781 />
<linearGradient id=e42 href=#cm x1=46 y1=1050 x2=169 y2=1005 />
<linearGradient id=e43 href=#cm x1=149 y1=1200 x2=55 y2=817 />
<linearGradient id=e44 href=#cm x1=73 y1=1353 x2=173 y2=649 />
<linearGradient id=e45 href=#cm x1=115 y1=1212 x2=90 y2=803 />
<linearGradient id=e46 href=#cm x1=162 y1=1189 x2=36 y2=831 />
<linearGradient id=e47 href=#cm x1=202 y1=1088 x2=209 y2=936 />
<linearGradient id=e48 href=#cm x1=206 y1=1117 x2=122 y2=904 />
<linearGradient id=e49 href=#cm x1=68 y1=1042 x2=145 y2=1017 />
<linearGradient id=e50 href=#cm x1=179 y1=1170 x2=9 y2=858 />
<linearGradient id=e51 href=#cm x1=293 y1=1208 x2=168 y2=809 />
<linearGradient id=e52 href=#cm x1=218 y1=1155 x2=165 y2=866 />
<linearGradient id=e53 href=#cm x1=189 y1=1306 x2=153 y2=702 />
<linearGradient id=e54 href=#cm x1=161 y1=1250 x2=76 y2=759 />
<linearGradient id=e55 href=#cm x1=177 y1=1151 x2=67 y2=880 />
<linearGradient id=e56 href=#cm x1=19 y1=1074 x2=199 y2=969 />
<linearGradient id=e57 href=#cm x1=122 y1=1223 x2=84 y2=795 />
<linearGradient id=e58 href=#cm x1=174 y1=1158 x2=25 y2=873 />
<linearGradient id=e59 href=#cm x1=211 y1=1006 x2=226 y2=1028 />
<linearGradient id=e60 href=#cm x1=263 y1=1219 x2=178 y2=802 />
<linearGradient id=e61 href=#cm x1=157 y1=1246 x2=49 y2=770 />
<linearGradient id=e62 href=#cm x1=-3 y1=1168 x2=243 y2=869 />
<linearGradient id=e63 href=#cm x1=210 y1=1123 x2=143 y2=908 />
<linearGradient id=e64 href=#cm x1=443 y1=959 x2=178 y2=1085 />
<linearGradient id=e65 href=#cm x1=169 y1=1133 x2=57 y2=909 />
<linearGradient id=e66 href=#cm x1=276 y1=1197 x2=245 y2=828 />
<linearGradient id=e67 href=#cm x1=382 y1=1191 x2=315 y2=835 />
<linearGradient id=e68 href=#cm x1=395 y1=1067 x2=96 y2=946 />
<linearGradient id=e69 href=#cm x1=335 y1=1125 x2=278 y2=906 />
<linearGradient id=e70 href=#cm x1=305 y1=1218 x2=253 y2=815 />
<linearGradient id=e71 href=#cm x1=249 y1=1219 x2=114 y2=807 />
<linearGradient id=e72 href=#cm x1=358 y1=1190 x2=321 y2=840 />
<linearGradient id=e73 href=#cm x1=161 y1=1165 x2=61 y2=874 />
<linearGradient id=e74 href=#cm x1=471 y1=1229 x2=222 y2=798 />
<linearGradient id=e75 href=#cm x1=351 y1=1227 x2=170 y2=799 />
<linearGradient id=e76 href=#cm x1=273 y1=1199 x2=190 y2=825 />
<linearGradient id=e77 href=#cm x1=331 y1=1193 x2=81 y2=830 />
<linearGradient id=e78 href=#cm x1=332 y1=1199 x2=210 y2=849 />
<linearGradient id=e79 href=#cm x1=291 y1=1220 x2=249 y2=814 />
<linearGradient id=e80 href=#cm x1=285 y1=1200 x2=211 y2=829 />
<linearGradient id=e81 href=#cm x1=163 y1=1193 x2=93 y2=838 />
<linearGradient id=e82 href=#cm x1=145 y1=979 x2=199 y2=1071 />
<linearGradient id=e83 href=#cm x1=322 y1=1204 x2=159 y2=821 />
<linearGradient id=e84 href=#cm x1=-9 y1=1181 x2=263 y2=862 />
<linearGradient id=e85 href=#cm x1=241 y1=1202 x2=144 y2=824 />
<linearGradient id=e86 href=#cm x1=142 y1=1235 x2=92 y2=795 />
<linearGradient id=e87 href=#cm x1=256 y1=1232 x2=94 y2=798 />
<linearGradient id=e88 href=#cm x1=315 y1=1162 x2=-70 y2=873 />
<linearGradient id=e89 href=#cm x1=211 y1=1104 x2=371 y2=1008 />
<linearGradient id=e90 href=#cm x1=169 y1=1197 x2=67 y2=839 />
<linearGradient id=e91 href=#cm x1=221 y1=1189 x2=121 y2=843 />
<linearGradient id=e92 href=#cm x1=291 y1=1218 x2=253 y2=823 />
<linearGradient id=e93 href=#cm x1=194 y1=1247 x2=295 y2=784 />
<linearGradient id=e94 href=#cm x1=271 y1=1239 x2=232 y2=793 />
<linearGradient id=e95 href=#cm x1=327 y1=1094 x2=262 y2=948 />
<linearGradient id=e96 href=#cm x1=331 y1=1198 x2=143 y2=830 />
<linearGradient id=e97 href=#cm x1=364 y1=1247 x2=317 y2=785 />
<linearGradient id=e98 href=#cm x1=380 y1=1129 x2=276 y2=911 />
<linearGradient id=e99 href=#cm x1=424 y1=1050 x2=281 y2=1016 />
<linearGradient id=e100 href=#cm x1=-22 y1=1098 x2=280 y2=957 />
<linearGradient id=e101 href=#cm x1=380 y1=1223 x2=227 y2=812 />
<linearGradient id=e102 href=#cm x1=138 y1=1249 x2=109 y2=784 />
<linearGradient id=e103 href=#cm x1=212 y1=1230 x2=123 y2=805 />
<linearGradient id=e104 href=#cm x1=315 y1=1204 x2=84 y2=828 />
<linearGradient id=e105 href=#cm x1=-5 y1=1185 x2=270 y2=866 />
<linearGradient id=e106 href=#cm x1=365 y1=1240 x2=294 y2=795 />
<linearGradient id=e107 href=#cm x1=131 y1=1258 x2=109 y2=773 />
<linearGradient id=e108 href=#cm x1=306 y1=1083 x2=133 y2=944 />
<linearGradient id=e109 href=#cm x1=184 y1=1191 x2=52 y2=854 />
<linearGradient id=e110 href=#cm x1=112 y1=1229 x2=233 y2=811 />
<linearGradient id=e111 href=#cm x1=180 y1=1232 x2=135 y2=806 />
<linearGradient id=e112 href=#cm x1=228 y1=1140 x2=87 y2=904 />
<linearGradient id=e113 href=#cm x1=378 y1=1045 x2=335 y2=1039 />
<linearGradient id=e114 href=#cm x1=270 y1=1224 x2=179 y2=812 />
<linearGradient id=e115 href=#cm x1=-74 y1=1242 x2=685 y2=796 />
<linearGradient id=e116 href=#cm x1=185 y1=1238 x2=137 y2=799 />
<linearGradient id=e117 href=#cm x1=168 y1=1262 x2=97 y2=772 />
<linearGradient id=e118 href=#cm x1=370 y1=1188 x2=326 y2=855 />
<linearGradient id=e119 href=#cm x1=460 y1=1223 x2=236 y2=817 />
<linearGradient id=e120 href=#cm x1=37 y1=1244 x2=221 y2=793 />
<linearGradient id=e121 href=#cm x1=250 y1=1186 x2=104 y2=847 />
<linearGradient id=e122 href=#cm x1=200 y1=1215 x2=114 y2=830 />
<linearGradient id=e123 href=#cm x1=307 y1=1316 x2=284 y2=719 />
<linearGradient id=e124 href=#cm x1=-5 y1=1213 x2=280 y2=836 />
<linearGradient id=e125 href=#cm x1=205 y1=1226 x2=82 y2=819 />
<linearGradient id=e126 href=#cm x1=186 y1=1164 x2=83 y2=892 />
<linearGradient id=e127 href=#cm x1=344 y1=1041 x2=364 y2=1026 />
<linearGradient id=e128 href=#cm x1=264 y1=1148 x2=84 y2=887 />
<linearGradient id=e129 href=#cm x1=257 y1=1232 x2=120 y2=809 />
<linearGradient id=e130 href=#cm x1=454 y1=1080 x2=239 y2=1000 />
<linearGradient id=e131 href=#cm x1=174 y1=1221 x2=122 y2=828 />
<linearGradient id=e132 href=#cm x1=366 y1=1050 x2=348 y2=1049 />
<linearGradient id=e133 href=#cm x1=243 y1=1195 x2=100 y2=845 />
<linearGradient id=e134 href=#cm x1=389 y1=1162 x2=280 y2=891 />
<linearGradient id=e135 href=#cm x1=244 y1=1213 x2=196 y2=836 />
<linearGradient id=e136 href=#cm x1=433 y1=1291 x2=250 y2=755 />
<linearGradient id=e137 href=#cm x1=331 y1=1057 x2=111 y2=1003 />
<linearGradient id=e138 href=#cm x1=258 y1=1120 x2=82 y2=915 />
<linearGradient id=e139 href=#cm x1=227 y1=1245 x2=122 y2=804 />
<linearGradient id=e140 href=#cm x1=-31 y1=1185 x2=326 y2=882 />
<linearGradient id=e141 href=#cm x1=416 y1=1251 x2=270 y2=800 />
<linearGradient id=e142 href=#cm x1=-20 y1=1388 x2=350 y2=636 />
<linearGradient id=e143 href=#cm x1=228 y1=1097 x2=248 y2=964 />
<linearGradient id=e144 href=#cm x1=247 y1=1250 x2=194 y2=801 />
<linearGradient id=e145 href=#cm x1=184 y1=1284 x2=88 y2=762 />
<linearGradient id=e146 href=#cm x1=273 y1=1201 x2=332 y2=852 />
<linearGradient id=e147 href=#cm x1=311 y1=1220 x2=276 y2=833 />
<linearGradient id=e148 href=#cm x1=320 y1=1409 x2=349 y2=632 />
<linearGradient id=e149 href=#cm x1=268 y1=1178 x2=155 y2=877 />
<linearGradient id=e150 href=#cm x1=568 y1=989 x2=-112 y2=1086 />
<linearGradient id=e151 href=#cm x1=162 y1=1123 x2=149 y2=936 />
<linearGradient id=e152 href=#cm x1=259 y1=1239 x2=165 y2=815 />
<linearGradient id=e153 href=#cm x1=266 y1=1200 x2=188 y2=858 />
<linearGradient id=e154 href=#cm x1=-20 y1=1211 x2=318 y2=855 />
<linearGradient id=e155 href=#cm x1=203 y1=1201 x2=82 y2=861 />
<linearGradient id=e156 href=#cm x1=209 y1=1248 x2=105 y2=809 />
<linearGradient id=e157 href=#cm x1=245 y1=1240 x2=155 y2=821 />
<linearGradient id=e158 href=#cm x1=340 y1=1247 x2=253 y2=809 />
<linearGradient id=e159 href=#cm x1=537 y1=1227 x2=113 y2=838 />
<linearGradient id=e160 href=#cm x1=195 y1=1094 x2=131 y2=996 />
<linearGradient id=e161 href=#cm x1=639 y1=1153 x2=-10 y2=924 />
<linearGradient id=e162 href=#cm x1=345 y1=1160 x2=218 y2=900 />
<linearGradient id=e163 href=#cm x1=271 y1=1193 x2=124 y2=882 />
<linearGradient id=e164 href=#cm x1=214 y1=1251 x2=173 y2=810 />
<linearGradient id=e165 href=#cm x1=161 y1=1276 x2=138 y2=781 />
<linearGradient id=e166 href=#cm x1=261 y1=1200 x2=170 y2=863 />
<linearGradient id=e167 href=#cm x1=343 y1=1258 x2=300 y2=802 />
<linearGradient id=e168 href=#cm x1=123 y1=1277 x2=163 y2=779 />
<linearGradient id=e169 href=#cm x1=317 y1=1255 x2=248 y2=806 />
<linearGradient id=e170 href=#cm x1=390 y1=1327 x2=68 y2=730 />
<linearGradient id=e171 href=#cm x1=254 y1=1239 x2=97 y2=831 />
<linearGradient id=e172 href=#cm x1=256 y1=1197 x2=363 y2=869 />
<linearGradient id=e173 href=#cm x1=323 y1=1232 x2=282 y2=832 />
<linearGradient id=e174 href=#cm x1=412 y1=1167 x2=222 y2=921 />
<linearGradient id=e175 href=#cm x1=185 y1=1275 x2=161 y2=785 />
<linearGradient id=e176 href=#cm x1=218 y1=1236 x2=170 y2=834 />
<linearGradient id=e177 href=#cm x1=404 y1=1249 x2=268 y2=819 />
<linearGradient id=e178 href=#cm x1=411 y1=1238 x2=193 y2=833 />
<linearGradient id=e179 href=#cm x1=135 y1=1288 x2=190 y2=770 />
<linearGradient id=e180 href=#cm x1=376 y1=1250 x2=237 y2=816 />
<linearGradient id=e181 href=#cm x1=232 y1=1233 x2=129 y2=843 />
<linearGradient id=e182 href=#cm x1=251 y1=1132 x2=163 y2=939 />
<linearGradient id=e183 href=#cm x1=144 y1=1314 x2=216 y2=737 />
<linearGradient id=e184 href=#cm x1=328 y1=1259 x2=278 y2=807 />
<linearGradient id=e185 href=#cm x1=359 y1=1191 x2=231 y2=878 />
<linearGradient id=e186 href=#cm x1=249 y1=1193 x2=418 y2=893 />
<linearGradient id=e187 href=#cm x1=370 y1=1230 x2=260 y2=846 />
<linearGradient id=e188 href=#cm x1=278 y1=1211 x2=361 y2=869 />
<linearGradient id=e189 href=#cm x1=325 y1=1259 x2=267 y2=810 />
<linearGradient id=e190 href=#cm x1=434 y1=1224 x2=218 y2=853 />
<linearGradient id=e191 href=#cm x1=16 y1=1240 x2=391 y2=834 />
<linearGradient id=e192 href=#cm x1=234 y1=1300 x2=176 y2=765 />
<linearGradient id=e193 href=#cm x1=163 y1=1331 x2=278 y2=731 />
<linearGradient id=e194 href=#cm x1=153 y1=1283 x2=229 y2=784 />
<linearGradient id=e195 href=#cm x1=190 y1=1284 x2=197 y2=785 />
<linearGradient id=e196 href=#cm x1=413 y1=1238 x2=238 y2=839 />
<linearGradient id=e197 href=#cm x1=150 y1=1289 x2=253 y2=779 />
<linearGradient id=e198 href=#cm x1=329 y1=1232 x2=325 y2=843 />
<linearGradient id=e199 href=#cm x1=355 y1=1227 x2=287 y2=850 />
<linearGradient id=e200 href=#cm x1=205 y1=1334 x2=252 y2=732 />
<linearGradient id=e201 href=#cm x1=410 y1=1225 x2=245 y2=852 />
<linearGradient id=e202 href=#cm x1=121 y1=1342 x2=328 y2=718 />
<linearGradient id=e203 href=#cm x1=270 y1=1206 x2=179 y2=888 />
<linearGradient id=e204 href=#cm x1=399 y1=1232 x2=246 y2=850 />
<linearGradient id=e205 href=#cm x1=364 y1=1092 x2=258 y2=1007 />
<linearGradient id=e206 href=#cm x1=367 y1=1268 x2=228 y2=817 />
<linearGradient id=e207 href=#cm x1=228 y1=1126 x2=268 y2=967 />
<linearGradient id=e208 href=#cm x1=261 y1=1214 x2=216 y2=873 />
<linearGradient id=e209 href=#cm x1=285 y1=1244 x2=246 y2=841 />
<linearGradient id=e210 href=#cm x1=324 y1=1285 x2=303 y2=799 />
<linearGradient id=e211 href=#cm x1=228 y1=1211 x2=321 y2=874 />
<linearGradient id=e212 href=#cm x1=150 y1=1310 x2=308 y2=767 />
<linearGradient id=e213 href=#cm x1=78 y1=1087 x2=403 y2=1027 />
<linearGradient id=e214 href=#cm x1=305 y1=1277 x2=280 y2=811 />
<linearGradient id=e215 href=#cm x1=349 y1=1280 x2=199 y2=806 />
<linearGradient id=e216 href=#cm x1=108 y1=1152 x2=418 y2=939 />
<linearGradient id=e217 href=#cm x1=276 y1=1288 x2=201 y2=799 />
<linearGradient id=e218 href=#cm x1=311 y1=1274 x2=260 y2=816 />
<linearGradient id=e219 href=#cm x1=341 y1=1238 x2=233 y2=867 />
<linearGradient id=e220 href=#cm x1=289 y1=1284 x2=246 y2=805 />
<linearGradient id=e221 href=#cm x1=158 y1=1297 x2=315 y2=789 />
<linearGradient id=e222 href=#cm x1=44 y1=1328 x2=498 y2=754 />
<linearGradient id=e223 href=#cm x1=254 y1=1083 x2=323 y2=1059 />
<linearGradient id=e224 href=#cm x1=134 y1=1377 x2=377 y2=690 />
<linearGradient id=e225 href=#cm x1=306 y1=1259 x2=269 y2=841 />
<linearGradient id=e226 href=#cm x1=13 y1=1104 x2=540 y2=1028 />
<linearGradient id=e227 href=#cm x1=385 y1=1266 x2=180 y2=839 />
<linearGradient id=e228 href=#cm x1=101 y1=1325 x2=437 y2=769 />
<linearGradient id=e229 href=#cm x1=256 y1=1378 x2=312 y2=709 />
<linearGradient id=e230 href=#cm x1=208 y1=1351 x2=321 y2=742 />
<linearGradient id=e231 href=#cm x1=347 y1=1310 x2=189 y2=791 />
<linearGradient id=e232 href=#cm x1=333 y1=1306 x2=219 y2=796 />
<linearGradient id=e233 href=#cm x1=49 y1=1322 x2=522 y2=782 />
<linearGradient id=e234 href=#cm x1=319 y1=1324 x2=196 y2=781 /></defs>
<line class="g" x1="95.2" y1="292.1" x2="86.8" y2="26.3"/>
<line class="g" x1="133.4" y1="277.6" x2="127.5" y2="19.7"/>
<line class="g" x1="169.4" y1="264" x2="165.7" y2="13.5"/>
<line class="g" x1="203.2" y1="251.2" x2="201.5" y2="7.6"/>
<line class="g" x1="52.9" y1="270.4" x2="235.2" y2="206.7"/>
<line class="g" x1="51.3" y1="232.5" x2="235.2" y2="173.8"/>
<line class="g" x1="49.8" y1="194.1" x2="235.2" y2="140.5"/>
<line class="g" x1="48.2" y1="154.9" x2="235.2" y2="106.6"/>
<line class="g" x1="46.6" y1="115.2" x2="235.2" y2="72.3"/>
<line class="g" x1="44.9" y1="74.7" x2="235.2" y2="37.5"/>
<line class="g" x1="245.5" y1="241.9" x2="246" y2="3.4"/>
<line class="g" x1="270.4" y1="248.8" x2="272.3" y2="6.6"/>
<line class="g" x1="296.3" y1="256" x2="299.6" y2="9.9"/>
<line class="g" x1="323" y1="263.4" x2="327.8" y2="13.3"/>
<line class="g" x1="350.6" y1="271" x2="357.1" y2="16.8"/>
<line class="g" x1="379.2" y1="279" x2="387.5" y2="20.5"/>
<line class="g" x1="408.8" y1="287.2" x2="419" y2="24.3"/>
<line class="g" x1="235.2" y1="206.7" x2="441.2" y2="259.3"/>
<line class="g" x1="235.2" y1="173.8" x2="442.9" y2="222.4"/>
<line class="g" x1="235.2" y1="140.5" x2="444.6" y2="184.8"/>
<line class="g" x1="235.2" y1="106.6" x2="446.3" y2="146.7"/>
<line class="g" x1="235.2" y1="72.3" x2="448.1" y2="107.9"/>
<line class="g" x1="235.2" y1="37.5" x2="449.9" y2="68.4"/>
<line class="g" x1="64.9" y1="311.4" x2="245.5" y2="241.9"/>
<line class="g" x1="90.7" y1="320.8" x2="270.4" y2="248.8"/>
<line class="g" x1="117.4" y1="330.6" x2="296.3" y2="256"/>
<line class="g" x1="145.3" y1="340.8" x2="323" y2="263.4"/>
<line class="g" x1="174.2" y1="351.4" x2="350.6" y2="271"/>
<line class="g" x1="204.4" y1="362.5" x2="379.2" y2="279"/>
<line class="g" x1="235.8" y1="374" x2="408.8" y2="287.2"/>
<line class="g" x1="95.2" y1="292.1" x2="307.9" y2="365.3"/>
<line class="g" x1="133.4" y1="277.6" x2="344.3" y2="346"/>
<line class="g" x1="169.4" y1="264" x2="378.2" y2="328.1"/>
<line class="g" x1="203.2" y1="251.2" x2="409.9" y2="311.3"/>
<path class="e" d="M43.2 33.5L235.2 2.1L451.7 28.2L439.5 295.7"/>
<path class="e" d="M54.4 307.6L235.2 239L439.5 295.7"/>
<line class="e" x1="235.2" y1="239" x2="235.2" y2="2.1"/>
<g stroke-width=".5" stroke-linejoin="round">
<path d="M205.2 155.5l16.8-3.6-14-0.7z" fill=#7dff00 stroke=#7dff00 />
<path d="M180.1 151.6l13.9 0.4-14 0.4z" fill=#92ff00 stroke=#92ff00 />
<path d="M190.4 156.1l17.6-4.9-14 0.8z" fill=#84ff00 stroke=#84ff00 />
<path d="M222 151.9l-9.9 2.7 23.9-2.8z" fill=#8cff00 stroke=#8cff00 />
<path d="M247.6 152l-3.3 5.2 15-2.7z" fill=#78ff00 stroke=#78ff00 />
<path d="M190.4 156.1l14.8-0.6 2.8-4.3z" fill=#7eff00 stroke=#7eff00 />
<path d="M230.2 159.7l17.4-7.7-11.6-0.2z" fill=#80ff00 stroke=#80ff00 />
<path d="M212.1 154.6l9.9-2.7-16.8 3.6z" fill=#89ff00 stroke=#89ff00 />
<path d="M163.5 154.2l3.3 1 13.2-2.8z" fill=#8aff00 stroke=#8aff00 />
<path d="M166.8 155.2l13.3-3.6-0.1 0.8z" fill=#9aff00 stroke=#9aff00 />
<path d="M130 158l33.5-3.8 16.5-1.8z" fill=#83ff00 stroke=#83ff00 />
<path d="M194 152l-13.9-0.4-5.4 5.7z" fill=#a3ff00 stroke=#a3ff00 />
<path d="M212.1 154.6l-2.4-5.2 26.3 2.4z" fill=url(#a1) stroke=url(#a1) />
<path d="M271.1 154.6l1.6 3.3 10.3-1.1z" fill=#77ff00 stroke=#77ff00 />
<path d="M244.3 157.2l3.3-5.2-17.4 7.7z" fill=#7bff00 stroke=#7bff00 />
<path d="M190.4 156.1l3.6-4.1-19.3 5.3z" fill=#90ff00 stroke=#90ff00 />
<path d="M244.3 157.2l-14.1 2.5 29.1-5.2z" fill=#73ff00 stroke=#73ff00 />
<path d="M253.9 161.2l17.2-6.6-11.8-0.1z" fill=#7dff00 stroke=#7dff00 />
<path d="M271.1 154.6l-5.8 5 7.4-1.7z" fill=#74ff00 stroke=#74ff00 />
<path d="M212.1 154.6l-6.9 0.9 4.5-6.1z" fill=url(#a2) stroke=url(#a2) />
<path d="M272.7 157.9l-7.4 1.7 17.7-2.8z" fill=#6eff00 stroke=#6eff00 />
<path d="M282.2 158l12.7-0.6-11.9-0.6z" fill=#7eff00 stroke=#7eff00 />
<path d="M205.2 155.5l-14.8 0.6-14.5 5.8z" fill=#7bff00 stroke=#7bff00 />
<path d="M209.7 149.4l-11.6 11.1 37.9-8.7z" fill=url(#a3) stroke=url(#a3) />
<path d="M163.5 154.2l-16.6 1.5-8.7 0.2z" fill=#aaff00 stroke=#aaff00 />
<path d="M166.8 155.2l-3.3-1-25.3 1.7z" fill=#b0ff00 stroke=#b0ff00 />
<path d="M198.1 160.5l32.1-0.8 5.8-7.9z" fill=#8bff00 stroke=#8bff00 />
<path d="M230.2 159.7l23.7 1.5 5.4-6.7z" fill=#77ff00 stroke=#77ff00 />
<path d="M265.3 159.6l5.8-5-17.2 6.6z" fill=#7dff00 stroke=#7dff00 />
<path d="M166.8 155.2l-13.3 4.9 26.6-8.5z" fill=#b4ff00 stroke=#b4ff00 />
<path d="M275.1 136.5l7.1 21.5 0.8-1.2z" fill=url(#a4) stroke=url(#a4) />
<path class=c d="M279 148L280 148"/>
<path d="M205.2 155.5l-24.4 8.6 28.9-14.7z" fill=url(#a5) stroke=url(#a5) />
<path d="M282.2 158l-7.1-21.5 19.8 20.9z" fill=url(#a6) stroke=url(#a6) />
<path class=c d="M279 148L287 149"/>
<path d="M265.3 159.6l9.8-23.1 7.9 20.3z" fill=url(#a7) stroke=url(#a7) />
<path class=c d="M270 149L280 148"/>
<path d="M190.4 156.1l-15.7 1.2 1.2 4.6z" fill=#91ff00 stroke=#91ff00 />
<path d="M180.1 151.6l-26.6 8.5 21.2-2.8z" fill=#bcff00 stroke=#bcff00 />
<path d="M307 159l-12.1-1.6-10.4 2.4z" fill=#93ff00 stroke=#93ff00 />
<path d="M112.8 163.9l34.1-8.2-16.9 2.3z" fill=#88ff00 stroke=#88ff00 />
<path d="M180.8 164.1l24.4-8.6-29.3 6.4z" fill=#7cff00 stroke=#7cff00 />
<path d="M294.9 157.4l-19.8-20.9 9.4 23.3z" fill=url(#a8) stroke=url(#a8) />
<path class=c d="M287 149L281 151"/>
<path d="M148.8 147.2l18 8-28.6 0.7z" fill=url(#a9) stroke=url(#a9) />
<path class=c d="M155 150L143 152"/>
<path d="M153.5 160.1l13.3-4.9-18-8z" fill=url(#a10) stroke=url(#a10) />
<path class=c d="M155 150L151 153"/>
<path d="M146.9 155.7l-30.4 9.8 21.7-9.6z" fill=#b2ff00 stroke=#b2ff00 />
<path d="M277.1 165l29.9-6-22.5 0.8z" fill=#8dff00 stroke=#8dff00 />
<path d="M174.7 157.3l-4.9 5.7 6.1-1.1z" fill=#99ff00 stroke=#99ff00 />
<path d="M179.3 164.9l18.8-4.4 11.6-11.1z" fill=url(#a11) stroke=url(#a11) />
<path d="M307 159l-13.7 3.1 22.9-0.9z" fill=#9fff00 stroke=#9fff00 />
<path d="M234.5 168.7l30.8-9.1-11.4 1.6z" fill=#73ff00 stroke=#73ff00 />
<path d="M275.1 136.5l-7.5 26.8 16.9-3.5z" fill=url(#a12) stroke=url(#a12) />
<path class=c d="M271 152L281 151"/>
<path d="M251.5 169l23.6-32.5-9.8 23.1z" fill=url(#a13) stroke=url(#a13) />
<path class=c d="M263 154L270 149"/>
<path d="M112.8 163.9l3.7 1.6 30.4-9.8z" fill=#8fff00 stroke=#8fff00 />
<path d="M180.8 164.1l-1.5 0.8 30.4-15.5z" fill=url(#a14) stroke=url(#a14) />
<path d="M267.6 163.3l9.5 1.7 7.4-5.2z" fill=#8cff00 stroke=#8cff00 />
<path d="M157.8 165.6l12-2.6 4.9-5.7z" fill=#9aff00 stroke=#9aff00 />
<path d="M169.8 163l11 1.1-4.9-2.2z" fill=#87ff00 stroke=#87ff00 />
<path d="M307 159l-29.9 6 16.2-2.9z" fill=#9dff00 stroke=#9dff00 />
<path d="M153.5 160.1l4.3 5.5 16.9-8.3z" fill=#adff00 stroke=#adff00 />
<path d="M253.9 161.2l-23.7-1.5-27.8 11.1z" fill=#7dff00 stroke=#7dff00 />
<path d="M275.1 136.5l-23.6 32.5 16.1-5.7z" fill=url(#a15) stroke=url(#a15) />
<path class=c d="M263 154L271 152"/>
<path d="M305.7 167.8l19.9-4.3-9.4-2.3z" fill=#83ff00 stroke=#83ff00 />
<path d="M234.5 168.7l17 0.3 13.8-9.4z" fill=#69ff00 stroke=#69ff00 />
<path d="M190.3 164.1l7.8-3.6-18.8 4.4z" fill=#99ff00 stroke=#99ff00 />
<path d="M198.1 160.5l-7.8 3.6 0.7 1z" fill=#9fff00 stroke=#9fff00 />
<path d="M167.3 166.3l13.5-2.2-11-1.1z" fill=#8cff00 stroke=#8cff00 />
<path d="M293.3 162.1l12.4 5.7 10.5-6.6z" fill=#a0ff00 stroke=#a0ff00 />
<path d="M179.3 164.9l1.5-0.8-7.3 4.3z" fill=#79ff00 stroke=#79ff00 />
<path d="M148.8 147.2l-10.6 8.7-11.9-2z" fill=url(#a16) stroke=url(#a16) />
<path class=c d="M143 152L133 155"/>
<path d="M325.6 163.5l-5.3 6.1 14.7-4.8z" fill=#7aff00 stroke=#7aff00 />
<path d="M195.7 166.5l2.4-6-7.1 4.6z" fill=#9aff00 stroke=#9aff00 />
<path d="M162.4 165.9l7.4-2.9-12 2.6z" fill=#90ff00 stroke=#90ff00 />
<path d="M251.5 169l4.8-1 11.3-4.7z" fill=#70ff00 stroke=#70ff00 />
<path d="M257.4 171.6l19.7-6.6-9.5-1.7z" fill=#73ff00 stroke=#73ff00 />
<path d="M198.1 160.5l9.4-131.6 22.7 130.8z" fill=url(#a17) stroke=url(#a17) />
<path class=c d="M199 153L228 149M200 136L226 134M201 120L223 118M202 104L220 102M203 88L218 87M204 72L215 71"/>
<path d="M180.8 164.1l-13.5 2.2 6.2 2.1z" fill=#7dff00 stroke=#7dff00 />
<path d="M162.4 165.9l4.9 0.4 2.5-3.3z" fill=#94ff00 stroke=#94ff00 />
<path d="M153.5 160.1l-4.7-12.9-22.5 6.7z" fill=url(#a18) stroke=url(#a18) />
<path class=c d="M151 153L138 157"/>
<path d="M234.5 168.7l19.4-7.5-51.5 9.6z" fill=#79ff00 stroke=#79ff00 />
<path d="M305.7 167.8l14.6 1.8 5.3-6.1z" fill=#7bff00 stroke=#7bff00 />
<path d="M256.3 168l1.1 3.6 10.2-8.3z" fill=#72ff00 stroke=#72ff00 />
<path d="M190.2 166.5l5.5 0-4.7-1.4z" fill=#8dff00 stroke=#8dff00 />
<path d="M293.3 162.1l-16.2 2.9-10.4 7.4z" fill=url(#a19) stroke=url(#a19) />
<path d="M116.5 165.5l-10.2-5.6 31.9-4z" fill=url(#a20) stroke=url(#a20) />
<path class=c d="M107 160L111 159"/>
<path d="M153.5 160.1l-16.8 12.9 21.1-7.4z" fill=#8eff00 stroke=#8eff00 />
<path d="M99.3 166.8l17.2-1.3-3.7-1.6z" fill=#a0ff00 stroke=#a0ff00 />
<path d="M344.5 167.6l-9.5-2.8-3.2 3.6z" fill=#8bff00 stroke=#8bff00 />
<path d="M162.4 165.9l-4.6-0.3-7.3 5.8z" fill=#7aff00 stroke=#7aff00 />
<path d="M247.8 165.4l8.5 2.6-4.8 1z" fill=#82ff00 stroke=#82ff00 />
<path d="M190.3 164.1l-11 0.8-8-45.9z" fill=url(#a21) stroke=url(#a21) />
<path class=c d="M178 155L187 155M175 140L180 140M172 125L174 125"/>
<path d="M195.7 166.5l-5.5 0-5.8 4.4z" fill=#79ff00 stroke=#79ff00 />
<path d="M234.5 168.7l13.3-3.3 3.7 3.6z" fill=#80ff00 stroke=#80ff00 />
<path d="M277.1 165l-19.7 6.6 9.3 0.8z" fill=#5fff00 stroke=#5fff00 />
<path d="M190.3 164.1l-7.8-42.1 8.5 43.1z" fill=url(#a22) stroke=url(#a22) />
<path class=c d="M189 156L189 156M186 140L186 141M183 125L183 125"/>
<path d="M195.7 166.5l-3.1 5.4 7-5.9z" fill=#7fff00 stroke=#7fff00 />
<path d="M179.3 164.9l-5.8 3.5-2.2-49.4z" fill=url(#a23) stroke=url(#a23) />
<path class=c d="M173 157L178 155M172 141L175 140M172 125L172 125"/>
<path d="M138.2 155.9l-31.9 4 20-6z" fill=url(#a24) stroke=url(#a24) />
<path class=c d="M111 159L133 155"/>
<path d="M199.6 166l-7 5.9 8.1-4.4z" fill=#7fff00 stroke=#7fff00 />
<path d="M198.1 160.5l-2.4 6 11.8-137.6z" fill=url(#a25) stroke=url(#a25) />
<path class=c d="M197 156L199 153M198 140L200 136M199 123L201 120M201 107L202 104M202 90L203 88M204 73L204 72"/>
<path d="M182.5 122l7.7 44.5 0.8-1.4z" fill=url(#a26) stroke=url(#a26) />
<path class=c d="M189 157L189 156M186 141L186 141M183 125L183 125"/>
<path d="M335 164.8l-14.7 4.8-8.7-0.2z" fill=#8cff00 stroke=#8cff00 />
<path d="M190.2 166.5l-8.3 1.4 2.5 3z" fill=#82ff00 stroke=#82ff00 />
<path d="M157.8 165.6l-21.1 7.4 13.8-1.6z" fill=#65ff00 stroke=#65ff00 />
<path d="M136.7 173l16.8-12.9-27.2-6.2z" fill=url(#a27) stroke=url(#a27) />
<path class=c d="M138 157L129 159"/>
<path d="M230.2 159.7l-22.7-130.8-5.1 141.9z" fill=url(#a28) stroke=url(#a28) />
<path class=c d="M228 149L203 160M226 134L203 143M223 118L204 126M220 102L205 109M218 87L205 92M215 71L206 75"/>
<path d="M183.1 169.7l12.6-3.2-11.3 4.4z" fill=#79ff00 stroke=#79ff00 />
<path d="M192.6 171.9l3.1-5.4-9.1 0.8z" fill=#87ff00 stroke=#87ff00 />
<path d="M149.3 172l18-5.7-4.9-0.4z" fill=#90ff00 stroke=#90ff00 />
<path d="M335 164.8l-23.4 4.6 20.2-1z" fill=#9eff00 stroke=#9eff00 />
<path d="M247.8 165.4l4.8-28 3.7 30.6z" fill=url(#a29) stroke=url(#a29) />
<path class=c d="M249 158L255 158M252 142L253 142"/>
<path d="M195.7 166.5l-12.6 3.2 3.5-2.4z" fill=#98ff00 stroke=#98ff00 />
<path d="M364 170.5l4.6 14.4 4.4-5z" fill=url(#a30) stroke=url(#a30) />
<path class=c d="M366 177L368 175"/>
<path d="M144.3 172.3l18.1-6.4-11.9 5.5z" fill=#76ff00 stroke=#76ff00 />
<path d="M167.3 166.3l-8-39.3 14.2 41.4z" fill=url(#a31) stroke=url(#a31) />
<path class=c d="M166 158L170 157M162 142L165 142M159 127L159 127"/>
<path d="M256.3 168l-3.7-30.6 4.8 34.2z" fill=url(#a32) stroke=url(#a32) />
<path class=c d="M255 158L256 159M253 142L253 143"/>
<path d="M181.9 167.9l8.3-1.4-7.7-44.5z" fill=url(#a33) stroke=url(#a33) />
<path class=c d="M189 157L182 159M186 141L182 142M183 125L182 126"/>
<path d="M305.7 167.8l-12.4-5.7-17.7 9.9z" fill=#a9ff00 stroke=#a9ff00 />
<path d="M181.9 167.9l-0.3 1.2 2.8 1.8z" fill=#83ff00 stroke=#83ff00 />
<path d="M320.3 169.6l-14.6-1.8 5.9 1.6z" fill=#8dff00 stroke=#8dff00 />
<path d="M181.6 169.1l1.5 0.6 1.3 1.2z" fill=#7bff00 stroke=#7bff00 />
<path d="M116.5 165.5l-17.2 1.3 1.1 4.3z" fill=#a0ff00 stroke=#a0ff00 />
<path d="M182.5 122l7.8 42.1-19-45.1z" fill=url(#a34) stroke=url(#a34) />
<path class=c d="M189 156L187 155M186 140L180 140M183 125L174 125"/>
<path d="M177.6 169.7l4-0.6 0.3-1.2z" fill=#91ff00 stroke=#91ff00 />
<path d="M220.5 175.8l27.3-10.4-13.3 3.3z" fill=#81ff00 stroke=#81ff00 />
<path d="M266.7 172.4l-9.3-0.8-3.7-1.6z" fill=#69ff00 stroke=#69ff00 />
<path d="M293.3 162.1l-26.6 10.3-1.4-0.3z" fill=url(#a35) stroke=url(#a35) />
<path d="M195.7 166.5l3.9-0.5 7.9-137.1z" fill=url(#a36) stroke=url(#a36) />
<path class=c d="M200 157L197 156M201 140L198 140M202 124L199 123M203 107L201 107M204 90L202 90M205 74L204 73"/>
<path d="M248.9 170.9l3.7-33.5-4.8 28z" fill=url(#a37) stroke=url(#a37) />
<path class=c d="M250 160L249 158M252 143L252 142"/>
<path d="M192.6 171.9l0.1-37.9 8 33.5z" fill=url(#a38) stroke=url(#a38) />
<path class=c d="M193 159L198 158M193 143L195 143"/>
<path d="M116.5 165.5l-16.1 5.6 5.9-11.2z" fill=url(#a39) stroke=url(#a39) />
<path class=c d="M106 161L107 160"/>
<path d="M207.5 28.9l-7.9 137.1 1.1 1.5z" fill=url(#a40) stroke=url(#a40) />
<path class=c d="M200 157L201 157M201 140L202 140M202 124L203 124M203 107L204 107M204 90L204 90M205 74L205 74"/>
<path d="M188.1 170.7l4.5 1.2-6-4.6z" fill=#87ff00 stroke=#87ff00 />
<path d="M99.3 166.8l-5.6 2.1-4.4 1.7z" fill=#9aff00 stroke=#9aff00 />
<path d="M181.6 169.1l-3.4-1 4.9 1.6z" fill=#99ff00 stroke=#99ff00 />
<path d="M257.4 171.6l-8.5-0.7 4.8-0.9z" fill=#7aff00 stroke=#7aff00 />
<path d="M323 162.4l21.5 5.2-12.7 0.8z" fill=url(#a41) stroke=url(#a41) />
<path class=c d="M324 163L324 163"/>
<path d="M334.5 172.6l19.7-3.1-9.7-1.9z" fill=#8dff00 stroke=#8dff00 />
<path d="M252.6 137.4l-3.7 33.5 8.5 0.7z" fill=url(#a42) stroke=url(#a42) />
<path class=c d="M250 160L256 159M252 143L253 143"/>
<path d="M181.6 169.1l-4 0.6-1.9 0.5z" fill=#8eff00 stroke=#8eff00 />
<path d="M144.3 172.3l5-0.3 13.1-6.1z" fill=#87ff00 stroke=#87ff00 />
<path d="M177.6 169.7l4.3-1.8 0.6-45.9z" fill=url(#a43) stroke=url(#a43) />
<path class=c d="M182 159L179 159M182 142L180 142M182 126L182 126"/>
<path d="M95 196l4.3-29.2-10 3.8z" fill=url(#a44) stroke=url(#a44) />
<path class=c d="M95 194L94 194M98 176L91 177"/>
<path d="M200.7 167.5l-8-33.5 9.7 36.8z" fill=url(#a45) stroke=url(#a45) />
<path class=c d="M198 158L200 160M195 143L195 144"/>
<path d="M99.3 166.8l-4.3 29.2 5.4-24.9z" fill=url(#a46) stroke=url(#a46) />
<path class=c d="M95 194L96 194M98 176L99 177"/>
<path d="M178.2 168.1l3.4 1-5.9 1.1z" fill=#9fff00 stroke=#9fff00 />
<path d="M173.5 168.4l-14.2-41.4 12-8z" fill=url(#a47) stroke=url(#a47) />
<path class=c d="M170 157L173 157M165 142L172 141M159 127L172 125"/>
<path d="M136.7 173l-5.9-0.2 19.7-1.4z" fill=#66ff00 stroke=#66ff00 />
<path d="M248.9 170.9l-1.1-5.5-7.5 6.9z" fill=#9eff00 stroke=#9eff00 />
<path d="M167.3 166.3l-18 5.7 10-45z" fill=url(#a48) stroke=url(#a48) />
<path class=c d="M152 161L166 158M155 144L162 142M159 127L159 127"/>
<path d="M183.1 169.7l-8.9 0.4 12.4-2.8z" fill=#a6ff00 stroke=#a6ff00 />
<path d="M177.6 169.7l-8.1-0.9 6.2 1.4z" fill=#9dff00 stroke=#9dff00 />
<path d="M192.6 171.9l-4.5-1.2 4.6-36.7z" fill=url(#a49) stroke=url(#a49) />
<path class=c d="M189 160L193 159M191 144L193 143"/>
<path d="M203.5 170.3l31-1.6-32.1 2.1z" fill=#99ff00 stroke=#99ff00 />
<path d="M169.5 168.8l8.1 0.9 4.9-47.7z" fill=url(#a50) stroke=url(#a50) />
<path class=c d="M179 159L172 161M180 142L177 143M182 126L181 126"/>
<path d="M130.8 172.8l13.5-0.5 6.2-0.9z" fill=#71ff00 stroke=#71ff00 />
<path d="M183.1 169.7l-4.9-1.6-4 2z" fill=#a6ff00 stroke=#a6ff00 />
<path d="M293.3 162.1l-28 10 10.3-0.1z" fill=#b3ff00 stroke=#b3ff00 />
<path d="M119.7 172.1l17 0.9-10.4-19.1z" fill=url(#a51) stroke=url(#a51) />
<path class=c d="M129 159L124 160"/>
<path d="M207.5 28.9l-6.8 138.6 1.7 3.3z" fill=url(#a52) stroke=url(#a52) />
<path class=c d="M201 157L203 160M202 140L203 143M203 124L204 126M204 107L205 109M204 90L205 92M205 74L206 75"/>
<path d="M183 147.4l5.1 23.3-1.5-3.4z" fill=url(#a53) stroke=url(#a53) />
<path class=c d="M186 161L185 160"/>
<path d="M90.6 172.5l4.4 23.5-5.7-25.4z" fill=url(#a54) stroke=url(#a54) />
<path class=c d="M95 194L94 194M92 179L91 177"/>
<path d="M164.6 170l4.9-1.2 1.8-49.8z" fill=url(#a55) stroke=url(#a55) />
<path class=c d="M170 161L166 160M170 143L168 143M171 126L170 126"/>
<path d="M100.4 171.1l-5.4 24.9-4.4-23.5z" fill=url(#a56) stroke=url(#a56) />
<path class=c d="M96 194L95 194M99 177L92 179"/>
<path d="M174.2 170.1l4-2-2.5 2.1z" fill=#acff00 stroke=#acff00 />
<path d="M305.7 167.8l-20.6 7.2 26.5-5.6z" fill=#99ff00 stroke=#99ff00 />
<path d="M169.5 168.8l13-46.8-11.2-3z" fill=url(#a57) stroke=url(#a57) />
<path class=c d="M172 161L170 161M177 143L170 143M181 126L171 126"/>
<path d="M248.9 170.9l-8.6 1.4 13.4-2.3z" fill=#93ff00 stroke=#93ff00 />
<path d="M220.5 175.8l14-7.1-31 1.6z" fill=#89ff00 stroke=#89ff00 />
<path d="M311.6 169.4l11.4-7 8.8 6z" fill=url(#a58) stroke=url(#a58) />
<path class=c d="M322 163L324 163"/>
<path d="M106.3 159.9l-5.9 11.2 0.3 1.2z" fill=url(#a59) stroke=url(#a59) />
<path class=c d="M106 161L106 161"/>
<path d="M187.8 173.4l-1.4 0.7 16-3.3z" fill=#76ff00 stroke=#76ff00 />
<path d="M323 162.4l11.5 10.2 10-5z" fill=url(#a60) stroke=url(#a60) />
<path class=c d="M324 163L324 163"/>
<path d="M192.7 134l-4.9 39.4 14.6-2.6z" fill=url(#a61) stroke=url(#a61) />
<path class=c d="M189 161L200 160M191 144L195 144"/>
<path d="M188.1 170.7l-2.9 4.1 7.5-40.8z" fill=url(#a62) stroke=url(#a62) />
<path class=c d="M188 162L189 160M191 144L191 144"/>
<path d="M344.3 171.9l19.7-1.4-9.8-1z" fill=#a1ff00 stroke=#a1ff00 />
<path d="M174.2 170.1l8.8-22.7 3.6 19.9z" fill=url(#a63) stroke=url(#a63) />
<path class=c d="M177 162L185 160"/>
<path d="M185.2 174.8l2.9-4.1-8.8 1.4z" fill=#7dff00 stroke=#7dff00 />
<path d="M159.3 127l5.3 43 6.7-51z" fill=url(#a64) stroke=url(#a64) />
<path class=c d="M163 161L166 160M161 144L168 143M159 127L170 126"/>
<path d="M285.1 175l20.6-7.2-30.1 4.2z" fill=#92ff00 stroke=#92ff00 />
<path d="M127.1 169.2l9.6 3.8-17-0.9z" fill=#91ff00 stroke=#91ff00 />
<path d="M130.8 172.8l5.9 0.2-9.6-3.8z" fill=#8fff00 stroke=#8fff00 />
<path d="M201.6 170.6l1.9-0.3-1.1 0.5z" fill=#a4ff00 stroke=#a4ff00 />
<path d="M187.8 173.4l-2.6 1.4 1.2-0.7z" fill=#66ff00 stroke=#66ff00 />
<path d="M106.3 159.9l-10.2 16.1 30.2-22.1z" fill=url(#a65) stroke=url(#a65) />
<path class=c d="M106 161L117 161"/>
<path d="M188.1 170.7l-5.1-23.3-3.7 24.7z" fill=url(#a66) stroke=url(#a66) />
<path class=c d="M186 161L181 162"/>
<path d="M185.2 174.8l2.6-1.4 4.9-39.4z" fill=url(#a67) stroke=url(#a67) />
<path class=c d="M189 161L188 162M191 144L191 144"/>
<path d="M169.5 168.8l-7.2 8 13.4-6.6z" fill=#8eff00 stroke=#8eff00 />
<path d="M245 172.2l21.7 0.2-13-2.4z" fill=url(#a68) stroke=url(#a68) />
<path d="M100.4 171.1l-9.8 1.4 10.1-0.2z" fill=#8dff00 stroke=#8dff00 />
<path d="M152.7 175.2l11.9-5.2-5.3-43z" fill=url(#a69) stroke=url(#a69) />
<path class=c d="M163 161L154 162M161 144L157 145M159 127L159 127"/>
<path d="M162.3 176.8l11.9-6.7 1.5 0.1z" fill=#8cff00 stroke=#8cff00 />
<path d="M182.7 171.9l18.9-1.3 0.8 0.2z" fill=#a4ff00 stroke=#a4ff00 />
<path d="M149.3 172l3.4 3.2 6.6-48.2z" fill=url(#a70) stroke=url(#a70) />
<path class=c d="M154 162L152 161M157 145L155 144M159 127L159 127"/>
<path d="M96.3 172.2l10-12.3-5.6 12.4z" fill=url(#a71) stroke=url(#a71) />
<path class=c d="M105 161L106 161"/>
<path d="M186.4 174.1l-1.2 0.7-1.1-2.1z" fill=#74ff00 stroke=#74ff00 />
<path d="M184.1 172.7l1.1 2.1-5.9-2.7z" fill=#82ff00 stroke=#82ff00 />
<path d="M169.5 168.8l-4.9 1.2-14.5-0.4z" fill=#c3ff00 stroke=#c3ff00 />
<path d="M144.3 172.3l-13.5 0.5-2.2-0.3z" fill=#90ff00 stroke=#90ff00 />
<path d="M100 190.2l19.7-18.1 6.6-18.2z" fill=url(#a72) stroke=url(#a72) />
<path class=c d="M110 181L106 182M124 160L122 161"/>
<path d="M186.4 174.1l-3.7-2.2 19.7-1.1z" fill=#97ff00 stroke=#97ff00 />
<path d="M201.6 170.6l-6.6 4.9 8.5-5.2z" fill=#9aff00 stroke=#9aff00 />
<path d="M334.5 172.6l9.8-0.7 9.9-2.4z" fill=#acff00 stroke=#acff00 />
<path d="M152.7 175.2l-3.4-3.2-3.3 2.2z" fill=#7fff00 stroke=#7fff00 />
<path d="M266.7 172.4l-21.7-0.2 20.3-0.1z" fill=url(#a73) stroke=url(#a73) />
<path d="M183 147.4l-8.8 22.7-1.7-13z" fill=url(#a74) stroke=url(#a74) />
<path class=c d="M177 162L173 163"/>
<path d="M164.6 170l-11.9 5.2-2.6-5.6z" fill=url(#a75) stroke=url(#a75) />
<path d="M183 147.4l-10.5 9.7 6.8 15z" fill=url(#a76) stroke=url(#a76) />
<path class=c d="M175 163L181 162"/>
<path d="M128.6 172.5l2.2 0.3-3.7-3.6z" fill=#acff00 stroke=#acff00 />
<path d="M220.5 175.8l-10.7 2.5 38-12.9z" fill=#92ff00 stroke=#92ff00 />
<path d="M96.3 172.2l-0.2 3.8 10.2-16.1z" fill=url(#a77) stroke=url(#a77) />
<path class=c d="M106 161L105 161"/>
<path d="M195 175.5l6.6-4.9-18.9 1.3z" fill=#9aff00 stroke=#9aff00 />
<path d="M174.2 170.1l-11.9 6.7 10.2-19.7z" fill=url(#a78) stroke=url(#a78) />
<path class=c d="M169 164L173 163"/>
<path d="M90.6 172.5l-4 5.7 14.1-5.9z" fill=#7eff00 stroke=#7eff00 />
<path d="M96.1 176l3.9 14.2 26.3-36.3z" fill=url(#a79) stroke=url(#a79) />
<path class=c d="M98 182L106 182M122 161L117 161"/>
<path d="M247.8 165.4l-38 12.9 30.5-6z" fill=#acff00 stroke=#acff00 />
<path d="M265.3 172.1l6.6 0.9 3.7-1z" fill=#a5ff00 stroke=#a5ff00 />
<path d="M162.3 176.8l7.2-8-19.4 0.8z" fill=url(#a80) stroke=url(#a80) />
<path d="M240.3 172.3l4.7-0.1 8.7-2.2z" fill=#b7ff00 stroke=#b7ff00 />
<path d="M186.4 174.1l-2.3-1.4-1.4-0.8z" fill=#9cff00 stroke=#9cff00 />
<path d="M86.6 178.2l9.7-6 4.4 0.1z" fill=#84ff00 stroke=#84ff00 />
<path d="M127.1 169.2l-7.4 2.9-10.2 7.8z" fill=#8fff00 stroke=#8fff00 />
<path d="M364 170.5l-15-10.2 19.6 24.6z" fill=url(#a81) stroke=url(#a81) />
<path class=c d="M364 179L366 177M356 165L355 167"/>
<path d="M136.9 102.9l12.4 69.1-5 0.3z" fill=url(#a82) stroke=url(#a82) />
<path class=c d="M147 162L143 162M145 146L141 146M142 130L140 130M139 114L138 114"/>
<path d="M149.3 172l-13.1 0.9 9.8 1.3z" fill=#9dff00 stroke=#9dff00 />
<path d="M302.8 177.5l20.2-15.1-11.4 7z" fill=url(#a83) stroke=url(#a83) />
<path class=c d="M322 163L322 163"/>
<path d="M145.9 178.6l6.8-3.4-6.7-1z" fill=#6eff00 stroke=#6eff00 />
<path d="M220.5 175.8l-17-5.5 7.3 2.6z" fill=#a9ff00 stroke=#a9ff00 />
<path d="M260.1 175l11.8-2-6.6-0.9z" fill=#a4ff00 stroke=#a4ff00 />
<path d="M152.7 175.2l-6.8 3.4 4.2-9z" fill=url(#a84) stroke=url(#a84) />
<path d="M96.1 176l0.2-3.8-9.7 6z" fill=#7dff00 stroke=#7dff00 />
<path d="M136.9 102.9l7.4 69.4-15.7 0.2z" fill=url(#a85) stroke=url(#a85) />
<path class=c d="M143 162L130 164M141 146L132 148M140 130L134 131M138 114L136 114"/>
<path d="M285.1 175l3.5-11.1 23 5.5z" fill=url(#a86) stroke=url(#a86) />
<path class=c d="M288 167L296 166"/>
<path d="M334.5 172.6l-11.5-10.2-8.8 11.9z" fill=url(#a87) stroke=url(#a87) />
<path class=c d="M324 163L322 163"/>
<path d="M119.7 172.1l-19.7 18.1 9.5-10.3z" fill=url(#a88) stroke=url(#a88) />
<path class=c d="M110 181L106 183"/>
<path d="M271.9 173l1.6 2.6 2.1-3.6z" fill=#a8ff00 stroke=#a8ff00 />
<path d="M273.5 175.6l11.6-0.6-9.5-3z" fill=#9fff00 stroke=#9fff00 />
<path d="M184.1 172.7l-4.8-0.6-11.8 2z" fill=#b3ff00 stroke=#b3ff00 />
<path d="M179.3 172.1l-6.8-15-18 16.4z" fill=url(#a89) stroke=url(#a89) />
<path class=c d="M175 163L163 166"/>
<path d="M128.6 172.5l-1.5-3.3-19.2 1.8z" fill=#cbff00 stroke=#cbff00 />
<path d="M368.6 184.9l-19.6-24.6 15 29.6z" fill=url(#a90) stroke=url(#a90) />
<path class=c d="M364 179L361 183M355 167L353 169"/>
<path d="M147 203l15.3-26.2-11.6-1.1z" fill=url(#a91) stroke=url(#a91) />
<path class=c d="M149 200L147 201M160 181L150 183"/>
<path d="M136.9 102.9l-0.7 70 13.1-0.9z" fill=url(#a92) stroke=url(#a92) />
<path class=c d="M136 165L147 162M136 148L145 146M137 131L142 130M137 114L139 114"/>
<path d="M150.7 175.7l11.6 1.1-12.2-7.2z" fill=url(#a93) stroke=url(#a93) />
<path d="M245 172.2l15.1 2.8 5.2-2.9z" fill=#b8ff00 stroke=#b8ff00 />
<path d="M172.5 157.1l-10.2 19.7-7.8-3.3z" fill=url(#a94) stroke=url(#a94) />
<path class=c d="M169 164L163 166"/>
<path d="M288.6 163.9l14.2 13.6 8.8-8.1z" fill=url(#a95) stroke=url(#a95) />
<path class=c d="M292 168L296 166"/>
<path d="M323 162.4l-20.2 15.1 11.4-3.2z" fill=url(#a96) stroke=url(#a96) />
<path class=c d="M322 163L322 163"/>
<path d="M344.3 171.9l4.7-11.6 15 10.2z" fill=url(#a97) stroke=url(#a97) />
<path class=c d="M346 167L356 165"/>
<path d="M140.1 174.7l5.8 3.9 0.1-4.4z" fill=#8eff00 stroke=#8eff00 />
<path d="M107.9 171l19.2-1.8-17.6 10.7z" fill=url(#a98) stroke=url(#a98) />
<path d="M151.8 179.7l10.5-2.9-15.3 26.2z" fill=url(#a99) stroke=url(#a99) />
<path class=c d="M149 200L147 201M160 181L151 185"/>
<path d="M344.3 171.9l-9.8 0.7-8.9 8.5z" fill=#9fff00 stroke=#9fff00 />
<path d="M147 203l3.7-27.3-0.6-6.1z" fill=url(#a100) stroke=url(#a100) />
<path class=c d="M147 201L147 200M150 183L149 183"/>
<path d="M266.8 152.6l5.1 20.4-11.8 2z" fill=url(#a101) stroke=url(#a101) />
<path class=c d="M270 165L263 166"/>
<path d="M182.7 171.9l1.4 0.8-16.6 1.4z" fill=#c3ff00 stroke=#c3ff00 />
<path d="M145.9 178.6l-3.7-2 7.9-7z" fill=url(#a102) stroke=url(#a102) />
<path d="M209.8 178.3l10.7-2.5-9.7-2.9z" fill=#99ff00 stroke=#99ff00 />
<path d="M122.8 179.3l5.8-6.8-17.7 20.2z" fill=url(#a103) stroke=url(#a103) />
<path class=c d="M119 184L118 184"/>
<path d="M136.9 102.9l-8.3 69.6-5.8 6.8z" fill=url(#a104) stroke=url(#a104) />
<path class=c d="M130 164L125 166M132 148L128 149M134 131L132 132M136 114L135 115"/>
<path d="M140.1 174.7l2.1 1.9 3.7 2z" fill=#8dff00 stroke=#8dff00 />
<path d="M136.2 172.9l0.7-70-2.5 73.1z" fill=url(#a105) stroke=url(#a105) />
<path class=c d="M136 165L135 165M136 148L135 148M137 131L136 131M137 114L137 114"/>
<path d="M266.8 152.6l6.7 23-1.6-2.6z" fill=url(#a106) stroke=url(#a106) />
<path class=c d="M271 167L270 165"/>
<path d="M203.5 170.3l-12.6 11 19.9-8.4z" fill=#b1ff00 stroke=#b1ff00 />
<path d="M179.3 172.1l-24.8 1.4 13 0.6z" fill=#c6ff00 stroke=#c6ff00 />
<path d="M162.3 176.8l-10.5 2.9 2.7-6.2z" fill=url(#a107) stroke=url(#a107) />
<path d="M138 176.1l9 26.9 3.1-33.4z" fill=url(#a108) stroke=url(#a108) />
<path class=c d="M146 201L147 200M141 185L149 183"/>
<path d="M136.9 102.9l-4.4 73.7 1.9-0.6z" fill=url(#a109) stroke=url(#a109) />
<path class=c d="M133 166L135 165M134 149L135 148M135 132L136 131M136 114L137 114"/>
<path d="M100 190.2l7.9-19.2 1.6 8.9z" fill=url(#a110) stroke=url(#a110) />
<path class=c d="M103 184L106 183"/>
<path d="M203.5 170.3l-8.5 5.2-23.9 3.8z" fill=#b1ff00 stroke=#b1ff00 />
<path d="M96.1 176l-9.5 2.2-8.6 8.2z" fill=#55ff00 stroke=#55ff00 />
<path d="M128.6 172.5l-20.7-1.5 3 21.7z" fill=url(#a111) stroke=url(#a111) />
<path class=c d="M110 186L119 184"/>
<path d="M240.3 172.3l-21 6.2 25.7-6.3z" fill=#c1ff00 stroke=#c1ff00 />
<path d="M132.5 176.6l4.4-73.7-14.1 76.4z" fill=url(#a112) stroke=url(#a112) />
<path class=c d="M133 166L125 166M134 149L128 149M135 132L132 132M136 114L135 115"/>
<path d="M318.3 173.9l16.2-1.3-20.3 1.7z" fill=#c7ff00 stroke=#c7ff00 />
<path d="M100 190.2l-3.9-14.2-18.1 10.4z" fill=url(#a113) stroke=url(#a113) />
<path class=c d="M98 182L82 187"/>
<path d="M273.5 175.6l-5.1 2.8 16.7-3.4z" fill=#a1ff00 stroke=#a1ff00 />
<path d="M142.2 176.6l-4.2-0.5 12.1-6.5z" fill=#c3ff00 stroke=#c3ff00 />
<path d="M140.1 174.7l-1.6 3.4 3.7-1.5z" fill=#9eff00 stroke=#9eff00 />
<path d="M195 175.5l-12.3-3.6-11.6 7.4z" fill=#b1ff00 stroke=#b1ff00 />
<path d="M334.5 172.6l-16.2 1.3 7.3 7.2z" fill=url(#a114) stroke=url(#a114) />
<path d="M268.4 178.4l20.2-14.5-3.5 11.1z" fill=url(#a115) stroke=url(#a115) />
<path class=c d="M282 168L288 167"/>
<path d="M151.8 179.7l-4.8 23.3-3.7-23.2z" fill=url(#a116) stroke=url(#a116) />
<path class=c d="M147 201L147 201M151 185L144 185"/>
<path d="M142.2 176.6l-3.7 1.5-0.5-2z" fill=#9fff00 stroke=#9fff00 />
<path d="M240.3 172.3l-30.5 6 9.5 0.2z" fill=#abff00 stroke=#abff00 />
<path d="M136.2 172.9l-7.6-74.5 17.4 75.8z" fill=url(#a117) stroke=url(#a117) />
<path class=c d="M135 165L144 165M134 149L140 149M132 133L136 133M130 117L133 117M129 101L129 101"/>
<path d="M266.8 152.6l-5.1 27.6 11.8-4.6z" fill=url(#a118) stroke=url(#a118) />
<path class=c d="M264 168L271 167"/>
<path d="M326.9 173.9l17.4-2-18.7 9.2z" fill=url(#a119) stroke=url(#a119) />
<path d="M128.6 98.4l7.6 74.5-1.8 3.1z" fill=url(#a120) stroke=url(#a120) />
<path class=c d="M135 165L134 166M134 149L132 150M132 133L131 133M130 117L130 117M129 101L129 101"/>
<path d="M124.6 181.5l-1.8-2.2-11.9 13.4z" fill=url(#a121) stroke=url(#a121) />
<path class=c d="M118 184L119 186"/>
<path d="M266.8 152.6l-6.7 22.4-10.1 1.5z" fill=url(#a122) stroke=url(#a122) />
<path class=c d="M263 166L255 170"/>
<path d="M230 180.3l30.1-5.3-15.1-2.8z" fill=#bdff00 stroke=#bdff00 />
<path d="M132.5 176.6l-3.9-78.2 5.8 77.6z" fill=url(#a123) stroke=url(#a123) />
<path class=c d="M132 166L134 166M131 150L132 150M130 133L131 133M130 117L130 117M129 101L129 101"/>
<path d="M273.5 175.6l-11.8 4.6 5.6-5.1z" fill=#adff00 stroke=#adff00 />
<path d="M128.6 98.4l11.5 76.3 5.9-0.5z" fill=url(#a124) stroke=url(#a124) />
<path class=c d="M139 167L144 165M136 151L140 149M134 134L136 133M131 117L133 117M129 101L129 101"/>
<path d="M147 203l-9-26.9-5.9 2.5z" fill=url(#a125) stroke=url(#a125) />
<path class=c d="M146 201L146 201M141 185L137 187"/>
<path d="M128.6 98.4l3.9 78.2-9.7 2.7z" fill=url(#a126) stroke=url(#a126) />
<path class=c d="M132 166L124 167M131 150L125 150M130 133L126 134M130 117L127 117M129 101L128 101"/>
<path d="M143.3 179.8l3.7 23.2-14.9-24.4z" fill=url(#a127) stroke=url(#a127) />
<path class=c d="M147 201L146 201M144 185L137 187"/>
<path d="M196.6 178.6l13.2-0.3 1-5.4z" fill=#b7ff00 stroke=#b7ff00 />
<path d="M190.9 181.3l5.7-2.7 14.2-5.7z" fill=#a6ff00 stroke=#a6ff00 />
<path d="M151.8 179.7l-3.7 1.1 6.4-7.3z" fill=#9eff00 stroke=#9eff00 />
<path d="M268.4 178.4l5.1-2.8-6.2-0.5z" fill=#beff00 stroke=#beff00 />
<path d="M190.9 181.3l12.6-11-32.4 9z" fill=#b3ff00 stroke=#b3ff00 />
<path d="M151.8 179.7l-8.5 0.1 4.8 1z" fill=#7dff00 stroke=#7dff00 />
<path d="M364 189.9l-15-29.6 6.2 36.2z" fill=url(#a128) stroke=url(#a128) />
<path class=c d="M361 183L354 189M353 169L351 171"/>
<path d="M154.5 173.5l-6.4 7.3 19.4-6.7z" fill=#c2ff00 stroke=#c2ff00 />
<path d="M261.7 180.2l5.1-27.6-16.8 23.9z" fill=url(#a129) stroke=url(#a129) />
<path class=c d="M264 168L255 170"/>
<path d="M302.8 177.5l-9.2-0.3 20.6-2.9z" fill=url(#a130) stroke=url(#a130) />
<path d="M138 176.1l0.5 2-8.4-3.7z" fill=url(#a131) stroke=url(#a131) />
<path d="M138.5 178.1l-13.9 3.4-2.6 14z" fill=url(#a132) stroke=url(#a132) />
<path class=c d="M123 187L131 186"/>
<path d="M171.1 179.3l11.6-7.4-15.2 2.2z" fill=#cdff00 stroke=#cdff00 />
<path d="M318.3 173.9l-4.1 0.4-9.6 5.9z" fill=#c6ff00 stroke=#c6ff00 />
<path d="M138.5 178.1l1.6-3.4-11.5-76.3z" fill=url(#a133) stroke=url(#a133) />
<path class=c d="M139 167L137 168M136 151L135 151M134 134L133 134M131 117L131 117M129 101L129 101"/>
<path d="M122 195.5l2.6-14-13.7 11.2z" fill=url(#a134) stroke=url(#a134) />
<path class=c d="M123 187L119 186"/>
<path d="M318.3 173.9l8.6 0-1.3 7.2z" fill=url(#a135) stroke=url(#a135) />
<path d="M267.3 175.1l-5.6 5.1-11.7-3.7z" fill=#bcff00 stroke=#bcff00 />
<path d="M124.6 181.5l4-83.1-5.8 80.9z" fill=url(#a136) stroke=url(#a136) />
<path class=c d="M125 170L124 167M126 152L125 150M127 135L126 134M128 118L127 117M128 101L128 101"/>
<path d="M130.1 174.4l8.4 3.7-16.5 17.4z" fill=url(#a137) stroke=url(#a137) />
<path class=c d="M131 186L125 188"/>
<path d="M326.9 173.9l-3.3 13.7 20.7-15.7z" fill=url(#a138) stroke=url(#a138) />
<path d="M219.3 178.5l10.7 1.8 15-8.1z" fill=#c4ff00 stroke=#c4ff00 />
<path d="M302.8 177.5l-14.2-13.6-13.8 15.2z" fill=url(#a139) stroke=url(#a139) />
<path class=c d="M292 168L282 171"/>
<path d="M260.1 175l-22.6 6.7 12.5-5.2z" fill=#bdff00 stroke=#bdff00 />
<path d="M138.5 178.1l-9.9-79.7-4 83.1z" fill=url(#a140) stroke=url(#a140) />
<path class=c d="M137 168L125 170M135 151L126 152M133 134L127 135M131 117L128 118M129 101L128 101"/>
<path d="M186.5 181.2l10.1-2.6-5.7 2.7z" fill=#92ff00 stroke=#92ff00 />
<path d="M349 160.3l-4.7 11.6-17.9 15.5z" fill=url(#a141) stroke=url(#a141) />
<path class=c d="M346 167L339 172"/>
<path d="M138 176.1l-7.9-1.7 2 4.2z" fill=#cbff00 stroke=#cbff00 />
<path d="M237.5 181.7l22.6-6.7-30.1 5.3z" fill=#b0ff00 stroke=#b0ff00 />
<path d="M314.2 174.3l-20.6 2.9 11 3z" fill=#c7ff00 stroke=#c7ff00 />
<path d="M148.1 180.8l-4.8-1-9.9 18.8z" fill=url(#a142) stroke=url(#a142) />
<path class=c d="M139 188L141 189"/>
<path d="M209.8 178.3l-7.4 4.2 16.9-4z" fill=#a4ff00 stroke=#a4ff00 />
<path d="M167.5 174.1l-19.4 6.7-14.7 17.8z" fill=url(#a143) stroke=url(#a143) />
<path class=c d="M141 189L146 189"/>
<path d="M344.3 171.9l-20.7 15.7 2.8-0.2z" fill=url(#a144) stroke=url(#a144) />
<path d="M143.3 179.8l-11.2-1.2 1.3 20z" fill=url(#a145) stroke=url(#a145) />
<path class=c d="M133 190L139 188"/>
<path d="M186.5 181.2l4.4 0.1-19.8-2z" fill=#9eff00 stroke=#9eff00 />
<path d="M209.8 178.3l-11.8 7.4 4.4-3.2z" fill=#85ff00 stroke=#85ff00 />
<path d="M209.8 178.3l-13.2 0.3-4.4-40.1z" fill=url(#a146) stroke=url(#a146) />
<path class=c d="M196 171L206 170M194 155L199 154M192 139L192 139"/>
<path d="M130.1 174.4l-8.1 21.1 11.4 3.1z" fill=url(#a147) stroke=url(#a147) />
<path class=c d="M125 188L132 190"/>
<path d="M288.6 163.9l-20.2 14.5-11.7-7.5z" fill=url(#a148) stroke=url(#a148) />
<path class=c d="M282 168L262 174"/>
<path d="M132.1 178.6l-2-4.2 3.3 24.2z" fill=url(#a149) stroke=url(#a149) />
<path class=c d="M132 190L133 190"/>
<path d="M299.9 183.6l18.4-9.7-13.7 6.3z" fill=#c3ff00 stroke=#c3ff00 />
<path d="M326.9 173.9l-8.6 0-13.6 11.3z" fill=#d0ff00 stroke=#d0ff00 />
<path d="M293.6 177.2l9.2 0.3-28 1.6z" fill=url(#a150) stroke=url(#a150) />
<path d="M196.6 178.6l-10.1 2.6 5.7-42.7z" fill=url(#a151) stroke=url(#a151) />
<path class=c d="M188 172L196 171M190 155L194 155M192 139L192 139"/>
<path d="M202.4 182.5l9.6-9.5 7.3 5.5z" fill=url(#a152) stroke=url(#a152) />
<path class=c d="M211 174L213 173"/>
<path d="M198 185.7l11.8-7.4-17.6-39.8z" fill=url(#a153) stroke=url(#a153) />
<path class=c d="M206 170L196 173M199 154L194 156M192 139L192 139"/>
<path d="M219.3 178.5l-7.3-5.5 18 7.3z" fill=url(#a154) stroke=url(#a154) />
<path class=c d="M213 173L214 174"/>
<path d="M323.6 187.6l-14.6 123.6 17.4-123.8z" fill=url(#a155) stroke=url(#a155) />
<path class=c d="M315 261L316 261M317 243L318 244M319 226L321 226M321 208L323 209M323 191L326 192"/>
<path d="M243.6 184.4l24.8-6-1.1-3.3z" fill=#c8ff00 stroke=#c8ff00 />
<path d="M145 201.4l26.1-22.1-3.6-5.2z" fill=url(#a156) stroke=url(#a156) />
<path class=c d="M155 193L153 191"/>
<path d="M145 201.4l22.5-27.3-34.1 24.5z" fill=url(#a157) stroke=url(#a157) />
<path class=c d="M153 191L146 189"/>
<path d="M349 160.3l-7.3 27.2 13.5 9z" fill=url(#a158) stroke=url(#a158) />
<path class=c d="M348 192L354 189M345 173L351 171"/>
<path d="M198 185.7l-4.5 1 8.9-4.2z" fill=#73ff00 stroke=#73ff00 />
<path d="M243.6 184.4l23.7-9.3-17.3 1.4z" fill=#d1ff00 stroke=#d1ff00 />
<path d="M318.3 173.9l-18.4 9.7 4.8 1.6z" fill=#c0ff00 stroke=#c0ff00 />
<path d="M293.6 177.2l6.3 6.4 4.7-3.4z" fill=#c5ff00 stroke=#c5ff00 />
<path d="M175.9 182l10.6-0.8-15.4-1.9z" fill=#c0ff00 stroke=#c0ff00 />
<path d="M198 185.7l-10.2 1 5.7 0z" fill=#63ff00 stroke=#63ff00 />
<path d="M193.5 186.7l18.5-13.7-9.6 9.5z" fill=url(#a159) stroke=url(#a159) />
<path class=c d="M211 174L211 174"/>
<path d="M221.6 188l15.9-6.3-7.5-1.4z" fill=#9aff00 stroke=#9aff00 />
<path d="M323.6 187.6l3.3-13.7-21.2 17z" fill=url(#a160) stroke=url(#a160) />
<path d="M212 173l9.6 15 8.4-7.7z" fill=url(#a161) stroke=url(#a161) />
<path class=c d="M213 174L214 174"/>
<path d="M274.8 179.1l13.8-15.2-31.9 7z" fill=url(#a162) stroke=url(#a162) />
<path class=c d="M282 171L268 176"/>
<path d="M187.8 186.7l10.2-1-5.8-47.2z" fill=url(#a163) stroke=url(#a163) />
<path class=c d="M196 173L189 174M194 156L191 156M192 139L192 139"/>
<path d="M309 311.2l14.6-123.6-17.9 1.5z" fill=url(#a164) stroke=url(#a164) />
<path class=c d="M315 261L308 263M317 243L307 246M319 226L307 229M321 208L306 212M323 191L306 195"/>
<path d="M192.2 138.5l-5.7 42.7-10.6 0.8z" fill=url(#a165) stroke=url(#a165) />
<path class=c d="M188 172L178 175M190 155L185 157M192 139L192 139"/>
<path d="M305.7 190.9l21.2-17-22.2 11.3z" fill=url(#a166) stroke=url(#a166) />
<path d="M309 311.2l5.7-119.7 11.7-4.1z" fill=url(#a167) stroke=url(#a167) />
<path class=c d="M311 263L316 261M312 246L318 244M313 230L321 226M314 213L323 209M314 197L326 192"/>
<path d="M187.8 186.7l4.4-48.2-16.3 43.5z" fill=url(#a168) stroke=url(#a168) />
<path class=c d="M189 174L178 175M191 156L185 157M192 139L192 139"/>
<path d="M212 173l-18.5 13.7 11.2-0.7z" fill=url(#a169) stroke=url(#a169) />
<path class=c d="M211 174L211 174"/>
<path d="M221.6 188l-9.6-15-7.3 13z" fill=url(#a170) stroke=url(#a170) />
<path class=c d="M213 174L211 174"/>
<path d="M299.9 183.6l-3.7 4.6 8.5-3z" fill=#8eff00 stroke=#8eff00 />
<path d="M320.3 191.6l28.7-31.3-22.6 27.1z" fill=url(#a171) stroke=url(#a171) />
<path class=c d="M335 175L339 172"/>
<path d="M237.5 181.7l-15.9 6.3-7.4 3.3z" fill=#79ff00 stroke=#79ff00 />
<path d="M299.9 183.6l-6.3-6.4-3.7 9.4z" fill=#c4ff00 stroke=#c4ff00 />
<path d="M268.4 178.4l-24.8 6 13.1-13.5z" fill=url(#a172) stroke=url(#a172) />
<path class=c d="M249 178L262 174"/>
<path d="M341.7 187.5l10.6 3.7 2.9 5.3z" fill=url(#a173) stroke=url(#a173) />
<path class=c d="M354 194L348 192"/>
<path d="M237.5 181.7l-13.7 10.6 26.2-15.8z" fill=#beff00 stroke=#beff00 />
<path d="M296.2 188.2l3.7-4.6-10 3z" fill=#92ff00 stroke=#92ff00 />
<path d="M349 160.3l-28.7 31.3 21.4-4.1z" fill=url(#a174) stroke=url(#a174) />
<path class=c d="M335 175L345 173"/>
<path d="M323.6 187.6l-17.9 3.3 0-1.8z" fill=#64ff00 stroke=#64ff00 />
<path d="M175.9 182l-4.8-2.7-19.2 26.1z" fill=url(#a175) stroke=url(#a175) />
<path class=c d="M160 195L162 196"/>
<path d="M314.7 191.5l-5.7 119.7 5-119.7z" fill=url(#a176) stroke=url(#a176) />
<path class=c d="M311 263L311 263M312 246L312 247M313 230L312 230M314 213L313 214M314 197L314 197"/>
<path d="M145 201.4l3.8-19.5 22.3-2.6z" fill=url(#a177) stroke=url(#a177) />
<path class=c d="M146 195L155 193"/>
<path d="M202.2 184.9l19.4 3.1-16.9-2z" fill=#98ff00 stroke=#98ff00 />
<path d="M221.6 188l-19.4-3.1 12 6.4z" fill=#7fff00 stroke=#7fff00 />
<path d="M293.6 177.2l-18.8 1.9-11.7 6.5z" fill=#dfff00 stroke=#dfff00 />
<path d="M296.2 188.2l4.8-45.4 3.7 42.4z" fill=url(#a178) stroke=url(#a178) />
<path class=c d="M297 176L304 176M299 160L302 159M301 143L301 143"/>
<path d="M193.5 186.7l-5.7 0-28.8 22.3z" fill=url(#a179) stroke=url(#a179) />
<path class=c d="M177 195L179 196"/>
<path d="M297.4 186.2l-1.2 2-6.3-1.6z" fill=#99ff00 stroke=#99ff00 />
<path d="M301 142.8l4.7 48.1-1-5.7z" fill=url(#a180) stroke=url(#a180) />
<path class=c d="M304 177L304 176M303 160L302 159M301 143L301 143"/>
<path d="M187.8 186.7l-11.9-4.7-16.9 27z" fill=url(#a181) stroke=url(#a181) />
<path class=c d="M166 198L177 195"/>
<path d="M171.1 179.3l-22.3 2.6 3.1 23.5z" fill=url(#a182) stroke=url(#a182) />
<path class=c d="M151 197L160 195"/>
<path d="M193.5 186.7l-14.5 3.6 25.7-4.3z" fill=#93ff00 stroke=#93ff00 />
<path d="M223.8 192.3l19.8-7.9 6.4-7.9z" fill=#c6ff00 stroke=#c6ff00 />
<path d="M314.7 191.5l-0.7 0 12.4-4.1z" fill=#6fff00 stroke=#6fff00 />
<path d="M305.7 190.9l-3.6 0.9 3.6-2.7z" fill=#6aff00 stroke=#6aff00 />
<path d="M309 311.2l-3.3-122.1-11.4 8.3z" fill=url(#a183) stroke=url(#a183) />
<path class=c d="M308 263L303 266M307 246L301 250M307 229L299 234M306 212L297 219M306 195L295 203"/>
<path d="M293.6 177.2l-32.7 17.8 29-8.4z" fill=url(#a184) stroke=url(#a184) />
<path d="M302.1 191.8l3.6-0.9-8.3-4.7z" fill=#7bff00 stroke=#7bff00 />
<path d="M301 142.8l-4.8 45.4 1.2-2z" fill=url(#a185) stroke=url(#a185) />
<path class=c d="M297 176L298 178M299 160L300 161M301 143L301 143"/>
<path d="M314 191.5l6.3 0.1 6.1-4.2z" fill=#77ff00 stroke=#77ff00 />
<path d="M314 191.5l-5 119.7-6.6-118.4z" fill=url(#a186) stroke=url(#a186) />
<path class=c d="M311 263L306 265M312 247L306 249M312 230L305 233M313 214L304 217M314 197L303 202"/>
<path d="M274.8 179.1l-18.1-8.2 6.4 14.7z" fill=url(#a187) stroke=url(#a187) />
<path class=c d="M268 176L261 180"/>
<path d="M210.7 190.5l26.8-8.8-23.3 9.6z" fill=#9eff00 stroke=#9eff00 />
<path d="M305.7 190.9l-4.7-48.1-3.6 43.4z" fill=url(#a188) stroke=url(#a188) />
<path class=c d="M304 177L298 178M303 160L300 161M301 143L301 143"/>
<path d="M148.8 181.9l-3.8 19.5 6.9 4z" fill=url(#a189) stroke=url(#a189) />
<path class=c d="M146 195L151 197"/>
<path d="M179 190.3l23.2-5.4 2.5 1.1z" fill=#b3ff00 stroke=#b3ff00 />
<path d="M341.7 187.5l-12.4 6.8 23-3.1z" fill=#79ff00 stroke=#79ff00 />
<path d="M260.9 195l32.7-17.8-30.5 8.4z" fill=url(#a190) stroke=url(#a190) />
<path d="M159 209l16.9-27-24 23.4z" fill=url(#a191) stroke=url(#a191) />
<path class=c d="M166 198L162 196"/>
<path d="M193.5 186.7l-34.5 22.3 20-18.7z" fill=url(#a192) stroke=url(#a192) />
<path class=c d="M179 196L168 200"/>
<path d="M341.7 187.5l-21.4 4.1 9.7-16.6z" fill=url(#a193) stroke=url(#a193) />
<path class=c d="M326 181L335 180"/>
<path d="M297.4 186.2l-7.5 0.4-15.6 7.7z" fill=#a7ff00 stroke=#a7ff00 />
<path d="M237.5 181.7l-26.8 8.8 13.1 1.8z" fill=#b6ff00 stroke=#b6ff00 />
<path d="M302.4 192.8l6.6 118.4-14.7-113.8z" fill=url(#a194) stroke=url(#a194) />
<path class=c d="M306 265L303 266M306 249L301 250M305 233L299 234M304 217L297 219M303 202L295 203"/>
<path d="M329.3 194.3l12.4-6.8-11.7-12.5z" fill=url(#a195) stroke=url(#a195) />
<path class=c d="M335 180L330 182"/>
<path d="M302.1 191.8l-4.7-5.6-23.1 8.1z" fill=#91ff00 stroke=#91ff00 />
<path d="M305.7 189.1l-3.6 2.7-7.8 5.6z" fill=#77ff00 stroke=#77ff00 />
<path d="M202.2 184.9l-17.2 6.6 29.2-0.2z" fill=url(#a196) stroke=url(#a196) />
<path d="M329.3 194.3l12.7-0.4 10.3-2.7z" fill=#79ff00 stroke=#79ff00 />
<path d="M289.9 186.6l-29 8.4 13.4-0.7z" fill=#8cff00 stroke=#8cff00 />
<path d="M256.7 170.9l-13.1 13.5-16.4 8.3z" fill=url(#a197) stroke=url(#a197) />
<path class=c d="M249 178L240 183"/>
<path d="M320.3 191.6l-6.3-0.1-11.6 1.3z" fill=#95ff00 stroke=#95ff00 />
<path d="M330 175l-9.7 16.6-5.7 2.7z" fill=url(#a198) stroke=url(#a198) />
<path class=c d="M326 181L324 182"/>
<path d="M202.2 184.9l-23.2 5.4-12.8 23.3z" fill=url(#a199) stroke=url(#a199) />
<path class=c d="M172 202L182 201"/>
<path d="M329.3 194.3l0.7-19.3-2 21.5z" fill=url(#a200) stroke=url(#a200) />
<path class=c d="M330 182L329 182"/>
<path d="M256.7 170.9l-29.5 21.8 35.9-7.1z" fill=url(#a201) stroke=url(#a201) />
<path class=c d="M240 183L261 180"/>
<path d="M324 195.1l5.3-0.8-1.3 2.2z" fill=#6cff00 stroke=#6cff00 />
<path d="M320.3 191.6l-17.9 1.2 12.2 1.5z" fill=#99ff00 stroke=#99ff00 />
<path d="M329.3 194.3l-5.3 0.8 18-1.2z" fill=#7fff00 stroke=#7fff00 />
<path d="M330 175l-6 20.1 4 1.4z" fill=url(#a202) stroke=url(#a202) />
<path class=c d="M328 183L329 182"/>
<path d="M189.7 193.8l21-3.3 3.5 0.8z" fill=url(#a203) stroke=url(#a203) />
<path d="M324 195.1l6-20.1-15.4 19.3z" fill=url(#a204) stroke=url(#a204) />
<path class=c d="M328 183L324 182"/>
<path d="M250.6 198l10.3-3 2.2-9.4z" fill=url(#a205) stroke=url(#a205) />
<path d="M324 195.1l-6.4 36.8 24.4-38z" fill=url(#a206) stroke=url(#a206) />
<path class=c d="M320 221L325 220M323 202L337 201"/>
<path d="M179 190.3l-20 18.7 7.2 4.6z" fill=url(#a207) stroke=url(#a207) />
<path class=c d="M168 200L172 202"/>
<path d="M185 191.5l17.2-6.6-36 28.7z" fill=url(#a208) stroke=url(#a208) />
<path class=c d="M182 201L174 205"/>
<path d="M243.6 184.4l-19.8 7.9-12.1 0.4z" fill=#ceff00 stroke=#ceff00 />
<path d="M363.9 189.7l-8.9-11.7 11.4 19.8z" fill=url(#a209) stroke=url(#a209) />
<path class=c d="M359 183L359 185"/>
<path d="M185 191.5l4.7 2.3 24.5-2.5z" fill=url(#a210) stroke=url(#a210) />
<path d="M318.2 200l5.8-4.9-9.4-0.8z" fill=#77ff00 stroke=#77ff00 />
<path d="M302.1 191.8l-27.8 2.5 3.1 4.7z" fill=#8eff00 stroke=#8eff00 />
<path d="M260.9 195l-10.3 3 23.7-3.7z" fill=#82ff00 stroke=#82ff00 />
<path d="M324 195.1l-5.8 4.9-0.6 31.9z" fill=url(#a211) stroke=url(#a211) />
<path class=c d="M318 221L320 221M318 204L323 202"/>
<path d="M343.6 192.9l-1.6 1-8.4 4.6z" fill=#92ff00 stroke=#92ff00 />
<path d="M294.3 197.4l7.8-5.6-24.7 7.2z" fill=#86ff00 stroke=#86ff00 />
<path d="M227.2 192.7l23.4 5.3 12.5-12.4z" fill=#c7ff00 stroke=#c7ff00 />
<path d="M250.6 198l13.4 35.7 10.3-39.4z" fill=url(#a212) stroke=url(#a212) />
<path class=c d="M260 223L267 222M253 205L272 203"/>
<path d="M243.6 184.4l-31.9 8.3 15.5 0z" fill=#dbff00 stroke=#dbff00 />
<path d="M313.5 197.2l4.7 2.8-3.6-5.7z" fill=#85ff00 stroke=#85ff00 />
<path d="M318.2 200l-4.7-2.8 4.1 34.7z" fill=url(#a213) stroke=url(#a213) />
<path class=c d="M316 222L318 221M314 206L318 204"/>
<path d="M314.6 194.3l-12.2-1.5-10-7.5z" fill=url(#a214) stroke=url(#a214) />
<path class=c d="M296 188L300 188"/>
<path d="M355 178l-8.8 21 20.2-1.2z" fill=url(#a215) stroke=url(#a215) />
<path class=c d="M352 186L359 185"/>
<path d="M223.8 192.3l-13.1-1.8-29.7 30.4z" fill=url(#a216) stroke=url(#a216) />
<path class=c d="M194 208L202 207"/>
<path d="M274.3 194.3l-10.3 39.4 13.4-34.7z" fill=url(#a217) stroke=url(#a217) />
<path class=c d="M267 222L268 224M272 203L274 207"/>
<path d="M317.6 231.9l-1.2-40.2 25.6 2.2z" fill=url(#a218) stroke=url(#a218) />
<path class=c d="M317 223L325 220M317 208L337 201M316 193L320 192"/>
<path d="M302.4 192.8l-8.1 4.6-1.9-12.1z" fill=url(#a219) stroke=url(#a219) />
<path class=c d="M293 189L296 188"/>
<path d="M313.5 197.2l1.1-2.9-22.2-9z" fill=url(#a220) stroke=url(#a220) />
<path class=c d="M300 188L300 190"/>
<path d="M366.4 197.8l-20.2 1.2 11.4 3.9z" fill=#77ff00 stroke=#77ff00 />
<path d="M173.5 216.2l11.5-24.7-18.8 22.1z" fill=url(#a221) stroke=url(#a221) />
<path class=c d="M178 207L174 205"/>
<path d="M264 233.7l-13.4-35.7-5.5 6.7z" fill=url(#a222) stroke=url(#a222) />
<path class=c d="M260 223L258 225M253 205L249 210"/>
<path d="M342 193.9l-25.6-2.2 17.2 6.8z" fill=url(#a223) stroke=url(#a223) />
<path class=c d="M320 192L319 193"/>
<path d="M219.1 195.8l31.5 2.2-23.4-5.3z" fill=#c6ff00 stroke=#c6ff00 />
<path d="M189.7 193.8l-4.7-2.3-11.5 24.7z" fill=url(#a224) stroke=url(#a224) />
<path class=c d="M178 207L179 208"/>
<path d="M210.7 190.5l-21 3.3-8.7 27.1z" fill=url(#a225) stroke=url(#a225) />
<path class=c d="M184 210L194 208"/>
<path d="M211.7 192.7l12.1-0.4-42.8 28.6z" fill=url(#a226) stroke=url(#a226) />
<path class=c d="M202 207L192 211"/>
<path d="M317.6 231.9l-4.1-34.7 2.9-5.5z" fill=url(#a227) stroke=url(#a227) />
<path class=c d="M316 222L317 223M314 206L317 208M316 193L316 193"/>
<path d="M264 233.7l-10.3-27.6 23.7-7.1z" fill=url(#a228) stroke=url(#a228) />
<path class=c d="M261 225L268 224M255 210L274 207"/>
<path d="M211.7 192.7l7.4 3.1 8.1-3.1z" fill=#ddff00 stroke=#ddff00 />
<path d="M277.6 193.4l16.7 4-16.9 1.6z" fill=url(#a229) stroke=url(#a229) />
<path class=c d="M278 194L278 194"/>
<path d="M253.7 206.1l10.3 27.6-18.9-29z" fill=url(#a230) stroke=url(#a230) />
<path class=c d="M261 225L258 225M255 210L249 210"/>
<path d="M316.4 191.7l16.4 10.3 0.8-3.5z" fill=url(#a231) stroke=url(#a231) />
<path class=c d="M319 193L319 193"/>
<path d="M305.9 201.1l7.6-3.9-21.1-11.9z" fill=url(#a232) stroke=url(#a232) />
<path class=c d="M300 190L297 191"/>
<path d="M294.3 197.4l-16.7-4 14.8-8.1z" fill=url(#a233) stroke=url(#a233) />
<path class=c d="M278 194L293 189"/>
<path d="M189.7 193.8l-16.2 22.4 7.5 4.7z" fill=url(#a234) stroke=url(#a234) />
<path class=c d="M179 208L184 210"/>
<path d="M316.4 191.7l-2.9 5.5-7.6 3.9z" fill=url(#a235) stroke=url(#a235) />
<path class=c d="M316 193L315 193"/>
<path d="M250.6 198l-31.5-2.2-8.8 29.3z" fill=url(#a236) stroke=url(#a236) />
<path class=c d="M214 213L234 209"/>
<path d="M332.8 202l-11.6 2.1 5.2 16.8z" fill=url(#a237) stroke=url(#a237) />
<path class=c d="M324 212L331 209"/>
<path d="M321.2 204.1l11.6-2.1-16.4-10.3z" fill=url(#a238) stroke=url(#a238) />
<path class=c d="M319 193L317 194"/>
<path d="M253.7 206.1l13.4 2.2 10.3-9.3z" fill=#7aff00 stroke=#7aff00 />
<path d="M219.1 195.8l-7.4-3.1-16.1 28.6z" fill=url(#a239) stroke=url(#a239) />
<path class=c d="M201 212L204 213"/>
<path d="M250.6 198l-24.2-8.1 18.7 14.8z" fill=url(#a240) stroke=url(#a240) />
<path class=c d="M236 193L233 195"/>
<path d="M267.1 208.3l10.5-14.9-0.2 5.6z" fill=url(#a241) stroke=url(#a241) />
<path class=c d="M277 194L278 194"/>
<path d="M195.6 221.3l16.1-28.6-30.7 28.2z" fill=url(#a242) stroke=url(#a242) />
<path class=c d="M201 212L192 211"/>
<path d="M226.4 189.9l24.2 8.1-40.3 27.1z" fill=url(#a243) stroke=url(#a243) />
<path class=c d="M234 209L215 216M236 193L223 197"/>
<path d="M282 225.7l23.9-24.6-13.5-15.8z" fill=url(#a244) stroke=url(#a244) />
<path class=c d="M293 214L285 216M297 191L291 192"/>
<path d="M219.1 195.8l-23.5 25.5 14.7 3.8z" fill=url(#a245) stroke=url(#a245) />
<path class=c d="M204 213L214 213"/>
<path d="M277.6 193.4l4.4 32.3 10.4-40.4z" fill=url(#a246) stroke=url(#a246) />
<path class=c d="M281 216L285 216M278 194L291 192"/>
<path d="M282 225.7l34.4-34-10.5 9.4z" fill=url(#a247) stroke=url(#a247) />
<path class=c d="M292 216L293 214M314 194L315 193"/>
<path d="M277.6 193.4l-10.5 14.9-1 0.3z" fill=url(#a248) stroke=url(#a248) />
<path class=c d="M277 194L277 194"/>
<path d="M229 210.5l24.7-4.4-8.6-1.4z" fill=#7bff00 stroke=#7bff00 />
<path d="M229 210.5l38.1-2.2-13.4-2.2z" fill=#6eff00 stroke=#6eff00 />
<path d="M321.2 204.1l-22.3 23 27.5-6.2z" fill=url(#a249) stroke=url(#a249) />
<path class=c d="M310 216L324 212"/>
<path d="M298.9 227.1l22.3-23-4.8-12.4z" fill=url(#a250) stroke=url(#a250) />
<path class=c d="M310 216L304 217M317 194L315 194"/>
<path d="M226.4 189.9l2.6 20.6 16.1-5.8z" fill=url(#a251) stroke=url(#a251) />
<path class=c d="M227 198L233 195"/>
<path d="M282 225.7l16.9 1.4 17.5-35.4z" fill=url(#a252) stroke=url(#a252) />
<path class=c d="M304 217L292 216M315 194L314 194"/>
<path d="M267.1 208.3l-17-13.3 16 13.6z" fill=url(#a253) stroke=url(#a253) />
<path class=c d="M256 200L256 200"/>
<path d="M250.1 195l27.5-1.6-11.5 15.2z" fill=url(#a254) stroke=url(#a254) />
<path class=c d="M277 194L256 200"/>
<path d="M229 210.5l-2.6-20.6-16.1 35.2z" fill=url(#a255) stroke=url(#a255) />
<path class=c d="M215 216L221 217M227 198L223 197"/>
<path d="M298.9 227.1l17.1 1.6 10.4-7.8z" fill=#00ec00 stroke=#00ec00 />
<path d="M250.1 195l31.9 30.7-4.4-32.3z" fill=url(#a256) stroke=url(#a256) />
<path class=c d="M275 219L281 216M257 202L278 194"/>
<path d="M267.1 208.3l-38.1 2.2 21.1-15.5z" fill=url(#a257) stroke=url(#a257) />
<path class=c d="M241 202L256 200"/>
<path d="M250.1 195l-21.1 15.5 4.9 7.4z" fill=url(#a258) stroke=url(#a258) />
<path class=c d="M241 202L242 206"/>
<path d="M271 216.4l-20.9-21.4-16.2 22.9z" fill=url(#a259) stroke=url(#a259) />
<path class=c d="M259 204L242 206"/>
<path d="M254.9 222.6l16.1-6.2-37.1 1.5z" fill=#a0ff00 stroke=#a0ff00 />
</g>
<line class="k" x1="54.4" y1="307.6" x2="43.2" y2="33.5"/>
<line class="k" x1="54.4" y1="307.6" x2="49.6" y2="308.5"/>
<line class="k" x1="52.9" y1="270.4" x2="48.1" y2="271.3"/>
<line class="k" x1="51.3" y1="232.5" x2="46.5" y2="233.4"/>
<line class="k" x1="49.8" y1="194.1" x2="45" y2="195"/>
<line class="k" x1="48.2" y1="154.9" x2="43.4" y2="155.8"/>
<line class="k" x1="46.6" y1="115.2" x2="41.8" y2="116.1"/>
<line class="k" x1="44.9" y1="74.7" x2="40.1" y2="75.6"/>
<line class="k" x1="43.2" y1="33.5" x2="38.4" y2="34.4"/>
<line class="k" x1="54.4" y1="307.6" x2="268.7" y2="386"/>
<line class="k" x1="64.9" y1="311.4" x2="61.4" y2="313.4"/>
<line class="k" x1="77.7" y1="316.1" x2="75.9" y2="317.1"/>
<line class="k" x1="90.7" y1="320.8" x2="87.2" y2="322.8"/>
<line class="k" x1="103.9" y1="325.7" x2="102.2" y2="326.7"/>
<line class="k" x1="117.4" y1="330.6" x2="113.9" y2="332.6"/>
<line class="k" x1="131.2" y1="335.7" x2="129.5" y2="336.7"/>
<line class="k" x1="145.3" y1="340.8" x2="141.8" y2="342.8"/>
<line class="k" x1="159.6" y1="346.1" x2="157.9" y2="347.1"/>
<line class="k" x1="174.2" y1="351.4" x2="170.7" y2="353.4"/>
<line class="k" x1="189.2" y1="356.9" x2="187.4" y2="357.9"/>
<line class="k" x1="204.4" y1="362.5" x2="200.9" y2="364.5"/>
<line class="k" x1="220" y1="368.2" x2="218.2" y2="369.2"/>
<line class="k" x1="235.8" y1="374" x2="232.4" y2="376"/>
<line class="k" x1="252.1" y1="380" x2="250.3" y2="381"/>
<line class="k" x1="268.7" y1="386" x2="265.2" y2="388"/>
<line class="k" x1="268.7" y1="386" x2="439.5" y2="295.7"/>
<line class="k" x1="268.7" y1="386" x2="272.8" y2="387.8"/>
<line class="k" x1="288.6" y1="375.5" x2="290.5" y2="376.3"/>
<line class="k" x1="307.9" y1="365.3" x2="312" y2="367.1"/>
<line class="k" x1="326.4" y1="355.5" x2="328.2" y2="356.3"/>
<line class="k" x1="344.3" y1="346" x2="348.4" y2="347.8"/>
<line class="k" x1="361.5" y1="336.9" x2="363.4" y2="337.7"/>
<line class="k" x1="378.2" y1="328.1" x2="382.3" y2="329.9"/>
<line class="k" x1="394.3" y1="319.6" x2="396.1" y2="320.4"/>
<line class="k" x1="409.9" y1="311.3" x2="414" y2="313.1"/>
<line class="k" x1="424.9" y1="303.4" x2="426.8" y2="304.2"/>
<line class="k" x1="439.5" y1="295.7" x2="443.7" y2="297.5"/>
<rect x="364.5" y="25.5" width="16" height="260" fill="url(#cbar)" stroke="#111" stroke-width="1"/>
<line class="k" x1="380.5" y1="28.6" x2="385.5" y2="28.6"/>
<text class="cl" x="391" y="33.6">26.00</text>
<line class="k" x1="380.5" y1="54.1" x2="385.5" y2="54.1"/>
<text class="cl" x="391" y="59.1">21.66</text>
<line class="k" x1="380.5" y1="79.5" x2="385.5" y2="79.5"/>
<text class="cl" x="391" y="84.5">17.32</text>
<line class="k" x1="380.5" y1="105" x2="385.5" y2="105"/>
<text class="cl" x="391" y="110">12.98</text>
<line class="k" x1="380.5" y1="130.4" x2="385.5" y2="130.4"/>
<text class="cl" x="391" y="135.4">8.64</text>
<line class="k" x1="380.5" y1="155.9" x2="385.5" y2="155.9"/>
<text class="cl" x="391" y="160.9">4.30</text>
<line class="k" x1="380.5" y1="181.4" x2="385.5" y2="181.4"/>
<text class="cl" x="391" y="186.4">-0.04</text>
<line class="k" x1="380.5" y1="206.8" x2="385.5" y2="206.8"/>
<text class="cl" x="391" y="211.8">-4.38</text>
<line class="k" x1="380.5" y1="232.3" x2="385.5" y2="232.3"/>
<text class="cl" x="391" y="237.3">-8.72</text>
<line class="k" x1="380.5" y1="257.7" x2="385.5" y2="257.7"/>
<text class="cl" x="391" y="262.7">-13.06</text>
<line class="k" x1="380.5" y1="283.2" x2="385.5" y2="283.2"/>
<text class="cl" x="391" y="288.2">-17.40</text>
<text class="ct" x="345" y="14">Error (MPa)</text>
<text class="zl" transform="matrix(0.80 -0.06 0.03 1 46 317.3)">-30</text>
<text class="zl" transform="matrix(0.80 -0.06 0.03 1 44.5 280.1)">-20</text>
<text class="zl" transform="matrix(0.80 -0.06 0.03 1 42.9 242.2)">-10</text>
<text class="zl" transform="matrix(0.80 -0.06 0.03 1 41.4 203.8)">0</text>
<text class="zl" transform="matrix(0.80 -0.06 0.03 1 39.8 164.6)">10</text>
<text class="zl" transform="matrix(0.80 -0.06 0.03 1 38.2 124.9)">20</text>
<text class="zl" transform="matrix(0.80 -0.06 0.03 1 36.5 84.4)">30</text>
<text class="zl" transform="matrix(0.80 -0.06 0.03 1 34.8 43.2)">40</text>
<text class="xl" transform="matrix(1.492 -0.579 1.548 0.572 64.2 315.3)">0</text>
<text class="xl" transform="matrix(1.484 -0.599 1.548 0.572 90.2 324.9)">50</text>
<text class="xl" transform="matrix(1.475 -0.621 1.548 0.572 117.2 334.9)">100</text>
<text class="xl" transform="matrix(1.465 -0.644 1.548 0.572 145.2 345.2)">150</text>
<text class="xl" transform="matrix(1.454 -0.669 1.548 0.572 174.4 356.0)">200</text>
<text class="xl" transform="matrix(1.441 -0.695 1.548 0.572 204.9 367.3)">250</text>
<text class="xl" transform="matrix(1.427 -0.723 1.548 0.572 236.6 379.0)">300</text>
<text class="xl" transform="matrix(1.411 -0.754 1.548 0.572 269.7 391.2)">350</text>
<text class="yl" transform="matrix(1.548 0.572 -1.101 0.591 272.4 392.6)">0</text>
<text class="yl" transform="matrix(1.559 0.541 -1.101 0.591 311.9 371.3)">20</text>
<text class="yl" transform="matrix(1.568 0.513 -1.101 0.591 348.6 351.7)">40</text>
<text class="yl" transform="matrix(1.576 0.488 -1.101 0.591 382.7 333.3)">60</text>
<text class="yl" transform="matrix(1.583 0.465 -1.101 0.591 414.5 316.3)">80</text>
<text class="yl" transform="matrix(1.589 0.443 -1.101 0.591 444.3 300.3)">100</text>
<text class="tt" transform="translate(3 136.5) rotate(90)">Error (MPa)</text>
<text class="tx" transform="matrix(1.443 0.565 -1.555 0.687 111.1 363.3)">Data points</text>
<text class="tx" transform="matrix(1.213 -0.699 1.716 0.543 412.1 354.3)">Predictions</text>
<text class="pl" x="63" y="56.7">(a)</text>
<line class="g" x1="631.2" y1="292.1" x2="622.8" y2="26.3"/>
<line class="g" x1="669.4" y1="277.6" x2="663.5" y2="19.7"/>
<line class="g" x1="705.4" y1="264" x2="701.7" y2="13.5"/>
<line class="g" x1="739.2" y1="251.2" x2="737.5" y2="7.6"/>
<line class="g" x1="588.9" y1="270.4" x2="771.2" y2="206.7"/>
<line class="g" x1="587.3" y1="232.5" x2="771.2" y2="173.8"/>
<line class="g" x1="585.8" y1="194.1" x2="771.2" y2="140.5"/>
<line class="g" x1="584.2" y1="154.9" x2="771.2" y2="106.6"/>
<line class="g" x1="582.6" y1="115.2" x2="771.2" y2="72.3"/>
<line class="g" x1="580.9" y1="74.7" x2="771.2" y2="37.5"/>
<line class="g" x1="781.5" y1="241.9" x2="782" y2="3.4"/>
<line class="g" x1="806.4" y1="248.8" x2="808.3" y2="6.6"/>
<line class="g" x1="832.3" y1="256" x2="835.6" y2="9.9"/>
<line class="g" x1="859" y1="263.4" x2="863.8" y2="13.3"/>
<line class="g" x1="886.6" y1="271" x2="893.1" y2="16.8"/>
<line class="g" x1="915.2" y1="279" x2="923.5" y2="20.5"/>
<line class="g" x1="944.8" y1="287.2" x2="955" y2="24.3"/>
<line class="g" x1="771.2" y1="206.7" x2="977.2" y2="259.3"/>
<line class="g" x1="771.2" y1="173.8" x2="978.9" y2="222.4"/>
<line class="g" x1="771.2" y1="140.5" x2="980.6" y2="184.8"/>
<line class="g" x1="771.2" y1="106.6" x2="982.3" y2="146.7"/>
<line class="g" x1="771.2" y1="72.3" x2="984.1" y2="107.9"/>
<line class="g" x1="771.2" y1="37.5" x2="985.9" y2="68.4"/>
<line class="g" x1="600.9" y1="311.4" x2="781.5" y2="241.9"/>
<line class="g" x1="626.7" y1="320.8" x2="806.4" y2="248.8"/>
<line class="g" x1="653.4" y1="330.6" x2="832.3" y2="256"/>
<line class="g" x1="681.3" y1="340.8" x2="859" y2="263.4"/>
<line class="g" x1="710.2" y1="351.4" x2="886.6" y2="271"/>
<line class="g" x1="740.4" y1="362.5" x2="915.2" y2="279"/>
<line class="g" x1="771.8" y1="374" x2="944.8" y2="287.2"/>
<line class="g" x1="631.2" y1="292.1" x2="843.9" y2="365.3"/>
<line class="g" x1="669.4" y1="277.6" x2="880.3" y2="346"/>
<line class="g" x1="705.4" y1="264" x2="914.2" y2="328.1"/>
<line class="g" x1="739.2" y1="251.2" x2="945.9" y2="311.3"/>
<path class="e" d="M579.2 33.5L771.2 2.1L987.7 28.2L975.5 295.7"/>
<path class="e" d="M590.4 307.6L771.2 239L975.5 295.7"/>
<line class="e" x1="771.2" y1="239" x2="771.2" y2="2.1"/>
<g stroke-width=".5" stroke-linejoin="round">
<path d="M719.8 144.3l26.1-3.1-9.9-1.1z" fill=#a5ff00 stroke=#a5ff00 />
<path d="M755.8 141.9l-9.9-0.7-13.7-4.1z" fill=url(#b1) stroke=url(#b1) />
<path class=c d="M733 137L734 138"/>
<path d="M732.2 137.1l13.7 4.1-26.1 3.1z" fill=url(#b2) stroke=url(#b2) />
<path class=c d="M733 137L731 138"/>
<path d="M740.1 153.3l25.7-10.8-10-0.6z" fill=#97ff00 stroke=#97ff00 />
<path d="M775.9 143.5l-10.1-1-11.8-4.2z" fill=url(#b3) stroke=url(#b3) />
<path class=c d="M756 139L758 139"/>
<path d="M769.3 131.1l16.7 13.5-10.1-1.1z" fill=url(#b4) stroke=url(#b4) />
<path class=c d="M778 138L773 138"/>
<path d="M723.6 143.3l32.2-1.4-23.6-4.8z" fill=url(#b5) stroke=url(#b5) />
<path class=c d="M726 143L734 138"/>
<path d="M769.3 131.1l6.6 12.4-21.9-5.2z" fill=url(#b6) stroke=url(#b6) />
<path class=c d="M773 138L758 139"/>
<path d="M815.7 148.9l-29.7-4.3 19.7 3.3z" fill=#a7ff00 stroke=#a7ff00 />
<path d="M765.8 142.5l-25.7 10.8 13.9-15z" fill=url(#b7) stroke=url(#b7) />
<path class=c d="M752 140L756 139"/>
<path d="M786 144.6l-15.5-4.4 25.3 6.3z" fill=url(#b8) stroke=url(#b8) />
<path class=c d="M774 141L776 142"/>
<path d="M702.8 146.1l29.4-9-12.4 7.2z" fill=url(#b9) stroke=url(#b9) />
<path class=c d="M722 140L731 138"/>
<path d="M740.1 153.3l15.7-11.4-32.2 1.4z" fill=url(#b10) stroke=url(#b10) />
<path class=c d="M726 143L725 144"/>
<path d="M770.5 140.2l15.5 4.4-16.7-13.5z" fill=url(#b11) stroke=url(#b11) />
<path class=c d="M774 141L778 138"/>
<path d="M786 144.6l39.8 5.7 10.2 1.2z" fill=#abff00 stroke=#abff00 />
<path d="M703.2 149.1l-0.4-3 17-1.8z" fill=#cbff00 stroke=#cbff00 />
<path d="M795.8 146.5l-14.2-0.1 24.1 1.5z" fill=url(#b12) stroke=url(#b12) />
<path d="M714.1 135l9.5 8.3 8.6-6.2z" fill=url(#b13) stroke=url(#b13) />
<path d="M702.8 146.1l11.3-11.1 18.1 2.1z" fill=url(#b14) stroke=url(#b14) />
<path class=c d="M705 144L722 140"/>
<path d="M787.8 148.6l27.9 0.3-10-1z" fill=url(#b15) stroke=url(#b15) />
<path d="M770.5 140.2l11.1 6.2 14.2 0.1z" fill=url(#b16) stroke=url(#b16) />
<path class=c d="M781 146L776 142"/>
<path d="M759.2 155.8l11.3-15.6-1.2-9.1z" fill=url(#b17) stroke=url(#b17) />
<path class=c d="M768 143L765 142"/>
<path d="M734.4 159.8l34.9-28.7-15.3 7.2z" fill=url(#b18) stroke=url(#b18) />
<path class=c d="M754 144L751 142"/>
<path d="M740.1 153.3l-16.5-10 12.4 0.6z" fill=url(#b19) stroke=url(#b19) />
<path class=c d="M725 144L731 144"/>
<path d="M740.1 153.3l-13.4 4.1 27.3-19.1z" fill=url(#b20) stroke=url(#b20) />
<path class=c d="M749 141L752 140"/>
<path d="M759.2 155.8l10.1-24.7-13.1 24.9z" fill=url(#b21) stroke=url(#b21) />
<path class=c d="M765 142L763 143"/>
<path d="M836 151.5l-10.2-1.2-0.8-2.9z" fill=#c9ff00 stroke=#c9ff00 />
<path d="M815.7 148.9l-18.5-0.6 28.6 2z" fill=url(#b22) stroke=url(#b22) />
<path class=c d="M797 148L797 148"/>
<path d="M702.8 146.1l0.4 3-17.2 6.1z" fill=url(#b23) stroke=url(#b23) />
<path d="M781.6 146.4l6.2 2.2 17.9-0.7z" fill=url(#b24) stroke=url(#b24) />
<path d="M726.7 157.4l13.4-4.1-4.1-9.4z" fill=url(#b25) stroke=url(#b25) />
<path d="M769.3 131.1l-34.9 28.7 21.8-3.8z" fill=url(#b26) stroke=url(#b26) />
<path class=c d="M754 144L763 143"/>
<path d="M825.8 150.3l-28.6-2 27.8-0.9z" fill=url(#b27) stroke=url(#b27) />
<path class=c d="M797 148L798 148"/>
<path d="M815.7 148.9l-27.9-0.3 9.4-0.3z" fill=url(#b28) stroke=url(#b28) />
<path class=c d="M797 148L797 148"/>
<path d="M736 143.9l-12.4-0.6-14 8.5z" fill=#f6ff00 stroke=#f6ff00 />
<path class=c d="M731 144L721 145"/>
<path d="M726.7 157.4l7.7 2.4 19.6-21.5z" fill=url(#b29) stroke=url(#b29) />
<path class=c d="M751 142L749 141"/>
<path d="M723.6 143.3l-9.5-8.3-4.5 16.8z" fill=url(#b30) stroke=url(#b30) />
<path class=c d="M711 147L721 145"/>
<path d="M829.8 160.6l14.4-7.5-8.2-1.6z" fill=#9bff00 stroke=#9bff00 />
<path d="M816.5 150.7l19.5 0.8-11-4.1z" fill=url(#b31) stroke=url(#b31) />
<path d="M725.4 159.5l1.3-2.1 9.3-13.5z" fill=url(#b32) stroke=url(#b32) />
<path d="M702.8 146.1l-17.7 7.5 29-18.6z" fill=url(#b33) stroke=url(#b33) />
<path class=c d="M692 149L705 144"/>
<path d="M770.5 140.2l-11.3 15.6-14.7-21.8z" fill=url(#b34) stroke=url(#b34) />
<path class=c d="M768 143L754 147M745 135L747 135"/>
<path d="M725.4 159.5l10.6-15.6-26.4 7.9z" fill=url(#b35) stroke=url(#b35) />
<path d="M844.2 153.1l-8.7-2.2 17.1 5.9z" fill=url(#b36) stroke=url(#b36) />
<path d="M752.6 161.2l29-14.8-11.1-6.2z" fill=url(#b37) stroke=url(#b37) />
<path class=c d="M781 146L766 145"/>
<path d="M816.5 150.7l13.3 9.9 6.2-9.1z" fill=url(#b38) stroke=url(#b38) />
<path d="M685.1 153.6l17.7-7.5-16.8 9.1z" fill=url(#b39) stroke=url(#b39) />
<path d="M787.8 148.6l-6.2-2.2-6.3 11.3z" fill=url(#b40) stroke=url(#b40) />
<path d="M759.2 155.8l-3 0.2-11.7-22z" fill=url(#b41) stroke=url(#b41) />
<path class=c d="M752 148L754 147M745 135L745 135"/>
<path d="M835.5 150.9l8.7 2.2-14.4 7.5z" fill=url(#b42) stroke=url(#b42) />
<path d="M714.1 135l-29 18.6 24.5-1.8z" fill=url(#b43) stroke=url(#b43) />
<path class=c d="M692 149L711 147"/>
<path d="M734.4 159.8l2.2 0 19.6-3.8z" fill=#88ff00 stroke=#88ff00 />
<path d="M720.8 156.1l5.9 1.3-1.3 2.1z" fill=#9fff00 stroke=#9fff00 />
<path d="M781.6 146.4l-29 14.8 22.7-3.5z" fill=url(#b44) stroke=url(#b44) />
<path d="M726.7 157.4l-5.9-1.3 13.6 3.7z" fill=#a1ff00 stroke=#a1ff00 />
<path d="M852.6 156.8l-5.6 1.6 14-0.2z" fill=#aaff00 stroke=#aaff00 />
<path d="M752.6 161.2l17.9-21-26 21.3z" fill=url(#b45) stroke=url(#b45) />
<path class=c d="M766 145L764 145"/>
<path d="M744.5 161.5l26-21.3-26-6.2z" fill=url(#b46) stroke=url(#b46) />
<path class=c d="M764 145L745 152M747 135L745 135"/>
<path d="M797.2 148.3l-2.3 4.6 30.1-5.5z" fill=#feff00 stroke=#feff00 />
<path class=c d="M808 150L798 148"/>
<path d="M763.6 162.4l24.2-13.8-12.5 9.1z" fill=url(#b47) stroke=url(#b47) />
<path d="M756.2 156l-19.6 3.8 7.9-25.8z" fill=url(#b48) stroke=url(#b48) />
<path class=c d="M739 151L752 148M744 135L745 135"/>
<path d="M787.8 148.6l-24.2 13.8 33.6-14.1z" fill=url(#b49) stroke=url(#b49) />
<path class=c d="M797 148L797 148"/>
<path d="M794.9 152.9l21.6-2.2 8.5-3.3z" fill=#faff00 stroke=#faff00 />
<path class=c d="M808 152L808 150"/>
<path d="M674.8 161.7l10.3-8.1 0.9 1.6z" fill=#c2ff00 stroke=#c2ff00 />
<path d="M835.5 150.9l-5.7 9.7-13.2 1.1z" fill=url(#b50) stroke=url(#b50) />
<path d="M829.8 160.6l-13.3-9.9 0.1 11z" fill=url(#b51) stroke=url(#b51) />
<path d="M696.8 157.4l28.6 2.1-15.8-7.7z" fill=url(#b52) stroke=url(#b52) />
<path d="M685.1 153.6l-1.9 2.1 26.4-3.9z" fill=#e9ff00 stroke=#e9ff00 />
<path d="M736.1 160.5l5.4-1.9-4.9 1.2z" fill=#b3ff00 stroke=#b3ff00 />
<path d="M720.8 156.1l4.6 3.4-28.6-2.1z" fill=url(#b53) stroke=url(#b53) />
<path d="M736.6 159.8l4.9-1.2 3-24.6z" fill=url(#b54) stroke=url(#b54) />
<path class=c d="M742 152L739 151M744 135L744 135"/>
<path d="M835.5 150.9l-13.7-29.7 30.8 35.6z" fill=url(#b55) stroke=url(#b55) />
<path class=c d="M835 150L846 149M829 137L835 137M823 124L824 124"/>
<path d="M752.6 161.2l8-24 14.7 20.5z" fill=url(#b56) stroke=url(#b56) />
<path class=c d="M755 153L770 151M760 138L761 138"/>
<path d="M741.5 158.6l3 2.9 0-27.5z" fill=url(#b57) stroke=url(#b57) />
<path class=c d="M745 152L742 152M745 135L744 135"/>
<path d="M736.1 160.5l0.5-0.7-14 1.3z" fill=#b0ff00 stroke=#b0ff00 />
<path d="M760.6 137.2l3 25.2 11.7-4.7z" fill=url(#b58) stroke=url(#b58) />
<path class=c d="M763 154L770 151M761 138L761 138"/>
<path d="M720.8 156.1l6.7-102.9 6.9 106.6z" fill=url(#b59) stroke=url(#b59) />
<path class=c d="M721 151L734 149M722 135L733 133M723 119L732 118M724 103L731 102M725 87L730 86M726 71L729 70"/>
<path d="M685.1 153.6l-10.3 8.1 8.4-6z" fill=url(#b60) stroke=url(#b60) />
<path d="M727.5 53.2l9.1 106.6-2.2 0z" fill=url(#b61) stroke=url(#b61) />
<path class=c d="M736 151L734 149M734 135L733 133M733 119L732 118M732 103L731 102M730 87L730 86M729 71L729 70"/>
<path d="M821.8 121.2l25.2 37.2 5.6-1.6z" fill=url(#b62) stroke=url(#b62) />
<path class=c d="M843 153L846 149M834 139L835 137M824 125L824 124"/>
<path d="M741.5 158.6l-5.4 1.9-5.8 3.1z" fill=#b2ff00 stroke=#b2ff00 />
<path d="M741.5 158.6l-11.2 5 14.2-2.1z" fill=#aeff00 stroke=#aeff00 />
<path d="M779.7 163.3l15.2-10.4 2.3-4.6z" fill=url(#b63) stroke=url(#b63) />
<path class=c d="M792 155L797 148"/>
<path d="M683.2 155.7l13.6 1.7 12.8-5.6z" fill=#efff00 stroke=#efff00 />
<path d="M851 166.8l18.2-6.4-8.2-2.2z" fill=#b1ff00 stroke=#b1ff00 />
<path d="M730.3 163.6l5.8-3.1-13.5 0.6z" fill=#afff00 stroke=#afff00 />
<path d="M763.6 162.4l-14.7 8.1 48.3-22.2z" fill=url(#b64) stroke=url(#b64) />
<path class=c d="M797 148L797 148"/>
<path d="M722.6 161.1l-1.8-5-24 1.3z" fill=#d6ff00 stroke=#d6ff00 />
<path d="M729.8 167.1l22.8-5.9-8.1 0.3z" fill=#9aff00 stroke=#9aff00 />
<path d="M847 158.4l-26.4 15.1 40.4-15.3z" fill=#a2ff00 stroke=#a2ff00 />
<path d="M727.5 53.2l-6.7 102.9 1.8 5z" fill=url(#b65) stroke=url(#b65) />
<path class=c d="M721 151L723 154M722 135L724 137M723 119L724 121M724 103L725 104M725 87L726 88M726 71L727 71"/>
<path d="M736.6 159.8l-9.1-106.6-4.9 107.9z" fill=url(#b66) stroke=url(#b66) />
<path class=c d="M736 151L723 154M734 135L724 137M733 119L724 121M732 103L725 104M730 87L726 88M729 71L727 71"/>
<path d="M821.8 121.2l13.7 29.7-18.9 10.8z" fill=url(#b67) stroke=url(#b67) />
<path class=c d="M835 150L817 155M829 137L819 140M823 124L821 125"/>
<path d="M730.3 163.6l-0.5 3.5 14.7-5.6z" fill=#9aff00 stroke=#9aff00 />
<path d="M748.9 170.5l30.8-7.2 17.5-15z" fill=url(#b68) stroke=url(#b68) />
<path class=c d="M797 148L797 148"/>
<path d="M794.9 152.9l4.8-4.5 16.8 2.3z" fill=url(#b69) stroke=url(#b69) />
<path class=c d="M815 150L808 152"/>
<path d="M816.5 150.7l-16.8-2.3 16.9 13.3z" fill=url(#b70) stroke=url(#b70) />
<path class=c d="M815 150L810 157"/>
<path d="M674.8 161.7l-11.7 5.7 20.1-11.7z" fill=url(#b71) stroke=url(#b71) />
<path d="M860.1 166.8l17.4-1.6-8.3-4.8z" fill=#b6ff00 stroke=#b6ff00 />
<path d="M763.6 162.4l-3-25.2-11.7 33.3z" fill=url(#b72) stroke=url(#b72) />
<path class=c d="M763 154L753 158M761 138L760 139"/>
<path d="M730.3 163.6l-7.7-2.5-20.6 1.2z" fill=#c9ff00 stroke=#c9ff00 />
<path d="M752.6 161.2l-24.4 1.3 32.4-25.3z" fill=url(#b73) stroke=url(#b73) />
<path class=c d="M732 160L755 153M758 139L760 138"/>
<path d="M728.2 162.5l24.4-1.3-22.8 5.9z" fill=url(#b74) stroke=url(#b74) />
<path d="M702 162.3l20.6-1.2-25.8-3.7z" fill=#e0ff00 stroke=#e0ff00 />
<path d="M851 166.8l9.1 0 9.1-6.4z" fill=#c1ff00 stroke=#c1ff00 />
<path d="M820.7 164.6l30.3 2.2 10-8.6z" fill=url(#b75) stroke=url(#b75) />
<path d="M669.9 171.9l26.9-14.5-13.6-1.7z" fill=url(#b76) stroke=url(#b76) />
<path d="M794.9 152.9l-15.2 10.4-5.8 2z" fill=url(#b77) stroke=url(#b77) />
<path class=c d="M792 155L788 157"/>
<path d="M820.6 173.5l26.4-15.1-25.2-37.2z" fill=url(#b78) stroke=url(#b78) />
<path class=c d="M843 153L821 162M834 139L821 144M824 125L822 125"/>
<path d="M729.8 167.1l0.5-3.5-19.2-1.7z" fill=url(#b79) stroke=url(#b79) />
<path class=c d="M712 162L712 162"/>
<path d="M799.7 148.4l22.1-27.2-5.2 40.5z" fill=url(#b80) stroke=url(#b80) />
<path class=c d="M817 155L810 157M804 143L819 140M818 125L821 125"/>
<path d="M760.6 137.2l-14.7 31.4 3 1.9z" fill=url(#b81) stroke=url(#b81) />
<path class=c d="M751 159L753 158M760 139L760 139"/>
<path d="M820.6 173.5l0.1-8.9 40.3-6.4z" fill=url(#b82) stroke=url(#b82) />
<path d="M663.1 167.4l6.8 4.5 13.3-16.2z" fill=url(#b83) stroke=url(#b83) />
<path d="M877.5 165.2l-8.9 6.1 17.4-3.5z" fill=#9dff00 stroke=#9dff00 />
<path d="M728.2 162.5l17.7 6.1 14.7-31.4z" fill=url(#b84) stroke=url(#b84) />
<path class=c d="M751 159L732 160M760 139L758 139"/>
<path d="M799.7 148.4l-4.8 4.5-21 12.4z" fill=url(#b85) stroke=url(#b85) />
<path class=c d="M788 157L780 162"/>
<path d="M860.1 166.8l8.5 4.5 8.9-6.1z" fill=#acff00 stroke=#acff00 />
<path d="M711.1 161.9l19.2 1.7-28.3-1.3z" fill=url(#b86) stroke=url(#b86) />
<path class=c d="M712 162L710 162"/>
<path d="M868.6 171.3l-6.6 79.7 24-83.2z" fill=url(#b87) stroke=url(#b87) />
<path class=c d="M863 245L864 245M864 228L869 228M865 212L874 210M867 195L879 193M868 178L884 176"/>
<path d="M679.3 163l22.7-0.7-5.2-4.9z" fill=#f2ff00 stroke=#f2ff00 />
<path d="M728.2 162.5l1.6 4.6-18.7-5.2z" fill=url(#b88) stroke=url(#b88) />
<path class=c d="M712 162L713 162"/>
<path d="M669.9 171.9l9.4-8.9 17.5-5.6z" fill=url(#b89) stroke=url(#b89) />
<path d="M860.1 166.8l-9.1 0 4.5-5.6z" fill=url(#b90) stroke=url(#b90) />
<path class=c d="M855 162L856 162"/>
<path d="M779.7 163.3l-14.7 7 8.9-5z" fill=#ceff00 stroke=#ceff00 />
<path d="M745 167.3l34.7-4-30.8 7.2z" fill=url(#b91) stroke=url(#b91) />
<path d="M862 251l8.6-78.5 15.4-4.7z" fill=url(#b92) stroke=url(#b92) />
<path class=c d="M863 245L864 245M864 229L869 228M866 214L874 210M868 198L879 193M870 182L884 176"/>
<path d="M860.1 166.8l-6.7 3.4 15.2 1.1z" fill=#bcff00 stroke=#bcff00 />
<path d="M669.9 171.9l-6.8-4.5-16.9 5.8z" fill=#9fff00 stroke=#9fff00 />
<path d="M745.9 168.6l-0.9-1.3 3.9 3.2z" fill=url(#b93) stroke=url(#b93) />
<path d="M779.7 163.3l-34.7 4 20 3z" fill=#d3ff00 stroke=#d3ff00 />
<path d="M853.4 170.2l6.7-3.4-4.6-5.6z" fill=url(#b94) stroke=url(#b94) />
<path class=c d="M856 162L855 162"/>
<path d="M745.9 168.6l-17.7-6.1-1.9 7.5z" fill=#d4ff00 stroke=#d4ff00 />
<path d="M851 166.8l-13.2 4.6 17.7-10.2z" fill=url(#b95) stroke=url(#b95) />
<path class=c d="M854 162L855 162"/>
<path d="M868.6 171.3l-20 6.2 13.4 73.5z" fill=url(#b96) stroke=url(#b96) />
<path class=c d="M861 245L863 245M858 230L864 228M855 214L865 212M852 199L867 195M850 183L868 178"/>
<path d="M679.3 163l11.3 6.1 11.4-6.8z" fill=#e6ff00 stroke=#e6ff00 />
<path d="M690.6 169.1l20.5-7.2-9.1 0.4z" fill=#eaff00 stroke=#eaff00 />
<path class=c d="M710 162L710 162"/>
<path d="M821.8 121.2l-22.1 27.2-12.4 20.2z" fill=url(#b97) stroke=url(#b97) />
<path class=c d="M789 166L789 167M804 143L803 146M818 125L818 126"/>
<path d="M781.9 166.3l17.8-17.9-25.8 16.9z" fill=url(#b98) stroke=url(#b98) />
<path class=c d="M783 165L780 162"/>
<path d="M870.6 172.5l16.6 0.7-1.2-5.4z" fill=#afff00 stroke=#afff00 />
<path d="M825.2 165.9l25.8 0.9-30.3-2.2z" fill=url(#b99) stroke=url(#b99) />
<path d="M837.8 171.4l13.2-4.6-25.8-0.9z" fill=#d6ff00 stroke=#d6ff00 />
<path d="M820.6 173.5l1.2-52.3-34.5 47.4z" fill=url(#b100) stroke=url(#b100) />
<path class=c d="M821 162L789 167M821 144L803 146M822 125L818 126"/>
<path d="M659.6 165.5l19.7-2.5-9.4 8.9z" fill=url(#b101) stroke=url(#b101) />
<path class=c d="M667 165L660 166"/>
<path d="M853.4 170.2l-4.8 7.3 20-6.2z" fill=#a0ff00 stroke=#a0ff00 />
<path d="M854.4 177.1l16.2-4.6-8.6 78.5z" fill=url(#b102) stroke=url(#b102) />
<path class=c d="M863 245L861 245M864 229L860 230M866 214L858 215M868 198L857 199M870 182L855 184"/>
<path d="M745 167.3l0.9 1.3-19.6 1.4z" fill=#d6ff00 stroke=#d6ff00 />
<path d="M848.6 177.5l6.8-3.1 6.6 76.6z" fill=url(#b103) stroke=url(#b103) />
<path class=c d="M862 245L861 245M860 230L858 230M859 214L855 214M858 199L852 199M856 183L850 183"/>
<path d="M694.7 174.7l33.5-12.2-17.1-0.6z" fill=#eaff00 stroke=#eaff00 />
<path class=c d="M713 162L710 163"/>
<path d="M855.4 174.4l-1 2.7 7.6 73.9z" fill=url(#b104) stroke=url(#b104) />
<path class=c d="M861 245L862 245M860 230L860 230M858 215L859 214M857 199L858 199M855 184L856 183"/>
<path d="M659.6 165.5l10.3 6.4-23.7 1.3z" fill=url(#b105) stroke=url(#b105) />
<path class=c d="M660 166L659 166"/>
<path d="M799.7 148.4l-17.8 17.9 5.4 2.3z" fill=url(#b106) stroke=url(#b106) />
<path class=c d="M783 165L789 166"/>
<path d="M853.4 170.2l2.1-9-20.8 6.8z" fill=url(#b107) stroke=url(#b107) />
<path class=c d="M855 162L840 166"/>
<path d="M673 178.9l17.6-9.8-11.3-6.1z" fill=url(#b108) stroke=url(#b108) />
<path d="M855.5 161.2l-17.7 10.2-3.1-3.4z" fill=url(#b109) stroke=url(#b109) />
<path class=c d="M854 162L840 166"/>
<path d="M690.6 169.1l-6.4 6.6 26.9-13.8z" fill=url(#b110) stroke=url(#b110) />
<path class=c d="M710 162L710 162"/>
<path d="M765 170.3l-16.7 0.3 25.6-5.3z" fill=url(#b111) stroke=url(#b111) />
<path d="M820.6 173.5l-22.1 0.4 22.2-9.3z" fill=url(#b112) stroke=url(#b112) />
<path d="M870.6 172.5l4.3-7.5 12.3 8.2z" fill=url(#b113) stroke=url(#b113) />
<path class=c d="M874 167L877 167"/>
<path d="M726.3 170l1.9-7.5-24.8 13.7z" fill=#deff00 stroke=#deff00 />
<path d="M848.6 177.5l4.8-7.3-18.7-2.2z" fill=url(#b114) stroke=url(#b114) />
<path d="M728.2 162.5l-33.5 12.2-0.9 6.3z" fill=url(#b115) stroke=url(#b115) />
<path d="M649.3 177.1l30-14.1-19.7 2.5z" fill=url(#b116) stroke=url(#b116) />
<path class=c d="M667 165L659 167"/>
<path d="M798.5 173.9l22.1-0.4-33.3-4.9z" fill=url(#b117) stroke=url(#b117) />
<path d="M745 167.3l3.3 3.3 16.7-0.3z" fill=url(#b118) stroke=url(#b118) />
<path d="M684.2 175.7l7.5-1.1 19.4-12.7z" fill=url(#b119) stroke=url(#b119) />
<path class=c d="M710 163L710 162"/>
<path d="M815.2 170.2l10-4.3-4.5-1.3z" fill=#faff00 stroke=#faff00 />
<path d="M874.9 165l13.5 12.7-1.2-4.5z" fill=url(#b120) stroke=url(#b120) />
<path class=c d="M878 168L877 167"/>
<path d="M815.2 170.2l22.6 1.2-12.6-5.5z" fill=#e8ff00 stroke=#e8ff00 />
<path d="M649.3 177.1l23.7 1.8 6.3-15.9z" fill=url(#b121) stroke=url(#b121) />
<path d="M690.6 169.1l-17.6 9.8 11.2-3.2z" fill=#b7ff00 stroke=#b7ff00 />
<path d="M691.7 174.6l3 0.1 16.4-12.8z" fill=#deff00 stroke=#deff00 />
<path class=c d="M710 163L710 163"/>
<path d="M753.4 165l28.5 1.3-8-1z" fill=url(#b122) stroke=url(#b122) />
<path class=c d="M778 166L767 165"/>
<path d="M854.4 177.1l-4.4 68.9 5.7-65.8z" fill=url(#b123) stroke=url(#b123) />
<path class=c d="M851 235L851 235M852 218L852 219M853 201L854 203M854 184L855 187"/>
<path d="M864.1 174.5l10.8-9.5-4.3 7.5z" fill=url(#b124) stroke=url(#b124) />
<path class=c d="M872 168L874 167"/>
<path d="M703.4 176.2l24.8-13.7-34.4 18.5z" fill=url(#b125) stroke=url(#b125) />
<path d="M844.2 180.3l11.2-5.9-6.8 3.1z" fill=#93ff00 stroke=#93ff00 />
<path d="M850 246l4.4-68.9-8.8 3.4z" fill=url(#b126) stroke=url(#b126) />
<path class=c d="M851 235L849 235M852 218L848 219M853 201L847 204M854 184L846 188"/>
<path d="M745 167.3l-18.7 2.7-1.6 6.3z" fill=#deff00 stroke=#deff00 />
<path d="M837.8 171.4l-22.6-1.2 19.5-2.2z" fill=#eaff00 stroke=#eaff00 />
<path d="M854.4 177.1l1-2.7-11.2 5.9z" fill=#9aff00 stroke=#9aff00 />
<path d="M844.2 180.3l4.4-2.8-13.9-9.5z" fill=url(#b127) stroke=url(#b127) />
<path d="M854.4 177.1l1.3 3.1 14.9-7.7z" fill=#a7ff00 stroke=#a7ff00 />
<path d="M855.7 180.2l8.4-5.7 6.5-2z" fill=#bcff00 stroke=#bcff00 />
<path d="M798.5 173.9l16.7-3.7 5.5-5.6z" fill=#f0ff00 stroke=#f0ff00 />
<path d="M855.7 180.2l-5.7 65.8-4.4-65.5z" fill=url(#b128) stroke=url(#b128) />
<path class=c d="M851 235L849 235M852 219L848 219M854 203L847 204M855 187L846 188"/>
<path d="M748.3 170.6l5.1-5.6 20.5 0.3z" fill=url(#b129) stroke=url(#b129) />
<path class=c d="M749 170L767 165"/>
<path d="M854.4 177.1l-10.2 3.2 1.4 0.2z" fill=#8eff00 stroke=#8eff00 />
<path d="M694.7 174.7l-3-0.1 2.1 6.4z" fill=#baff00 stroke=#baff00 />
<path d="M649.3 177.1l10.3-11.6-19.6 42.3z" fill=url(#b130) stroke=url(#b130) />
<path class=c d="M641 205L641 205M650 186L646 188M659 167L659 166"/>
<path d="M781.9 166.3l-21.1 9.9 26.5-7.6z" fill=#f3ff00 stroke=#f3ff00 />
<path d="M684.2 175.7l-11.2 3.2-10.3 3.1z" fill=#9cff00 stroke=#9cff00 />
<path d="M676.8 178.9l14.9-4.3-7.5 1.1z" fill=#c4ff00 stroke=#c4ff00 />
<path d="M726.3 170l-20.5 10.1 18.9-3.8z" fill=#ceff00 stroke=#ceff00 />
<path d="M640 207.8l19.6-42.3-30.6 32.3z" fill=url(#b131) stroke=url(#b131) />
<path class=c d="M641 205L638 206M650 186L638 188M659 166L659 167"/>
<path d="M851.3 183.9l12.8-9.4-8.4 5.7z" fill=#9dff00 stroke=#9dff00 />
<path d="M824.7 171.9l19.5 8.4-9.5-12.3z" fill=url(#b132) stroke=url(#b132) />
<path class=c d="M827 173L834 168"/>
<path d="M705.8 180.1l20.5-10.1-22.9 6.2z" fill=#d0ff00 stroke=#d0ff00 />
<path d="M673 178.9l-23.7-1.8 13.4 4.9z" fill=#9eff00 stroke=#9eff00 />
<path d="M874.9 165l-10.8 9.5-7.3-5.7z" fill=url(#b133) stroke=url(#b133) />
<path class=c d="M872 168L860 171"/>
<path d="M888.4 177.7l-13.5-12.7-18.1 3.8z" fill=url(#b134) stroke=url(#b134) />
<path class=c d="M878 168L868 172"/>
<path d="M815.2 170.2l9.5 1.7 10-3.9z" fill=#fffe00 stroke=#fffe00 />
<path class=c d="M819 171L834 168"/>
<path d="M660 212.3l-10.7-35.2-9.3 30.7z" fill=url(#b135) stroke=url(#b135) />
<path class=c d="M658 206L641 205M653 188L646 188"/>
<path d="M676.8 178.9l7.4-3.2-21.5 6.3z" fill=#b2ff00 stroke=#b2ff00 />
<path d="M730.8 181.1l17.5-10.5-3.3-3.3z" fill=#eaff00 stroke=#eaff00 />
<path d="M691.7 174.6l-24.3 42 26.4-35.6z" fill=url(#b136) stroke=url(#b136) />
<path class=c d="M672 209L673 209M684 188L689 188"/>
<path d="M851.3 183.9l4.4-3.7-10.1 0.3z" fill=#8aff00 stroke=#8aff00 />
<path d="M712.9 185.4l32.1-18.1-20.3 9z" fill=url(#b137) stroke=url(#b137) />
<path d="M781.9 166.3l-28.5-1.3 7.4 11.2z" fill=url(#b138) stroke=url(#b138) />
<path class=c d="M778 166L760 174"/>
<path d="M770.3 186.2l28.2-12.3-11.2-5.3z" fill=url(#b139) stroke=url(#b139) />
<path d="M649.3 177.1l10.7 35.2 2.7-30.3z" fill=url(#b140) stroke=url(#b140) />
<path class=c d="M658 206L660 207M653 188L662 189"/>
<path d="M864.1 174.5l-12.8 9.4 5.5-15.1z" fill=url(#b141) stroke=url(#b141) />
<path class=c d="M855 173L860 171"/>
<path d="M691.7 174.6l-14.9 4.3-9.4 37.7z" fill=url(#b142) stroke=url(#b142) />
<path class=c d="M669 210L672 209M674 190L684 188"/>
<path d="M660 212.3l16.8-33.4-14.1 3.1z" fill=url(#b143) stroke=url(#b143) />
<path class=c d="M663 206L660 207M672 189L662 189"/>
<path d="M786.7 162.2l28.5 8-16.7 3.7z" fill=url(#b144) stroke=url(#b144) />
<path class=c d="M813 170L796 171"/>
<path d="M845.6 180.5l-1.4-0.2-18.2-3.8z" fill=url(#b145) stroke=url(#b145) />
<path class=c d="M826 177L826 177"/>
<path d="M676.8 178.9l-16.8 33.4 7.4 4.3z" fill=url(#b146) stroke=url(#b146) />
<path class=c d="M663 206L669 210M672 189L674 190"/>
<path d="M686.4 139l17 37.2-9.6 4.8z" fill=url(#b147) stroke=url(#b147) />
<path class=c d="M701 172L692 170M694 155L689 155M686 139L686 139"/>
<path d="M705.8 180.1l5.8 3.3 13.1-7.1z" fill=#c0ff00 stroke=#c0ff00 />
<path d="M712.9 185.4l17.9-4.3 14.2-13.8z" fill=url(#b148) stroke=url(#b148) />
<path d="M696 184.6l9.8-4.5-2.4-3.9z" fill=#bfff00 stroke=#bfff00 />
<path d="M760.8 176.2l9.5 10 17-17.6z" fill=url(#b149) stroke=url(#b149) />
<path d="M844.2 180.3l-19.5-8.4 1.3 4.6z" fill=url(#b150) stroke=url(#b150) />
<path class=c d="M827 173L826 177"/>
<path d="M748.3 170.6l-17.5 10.5 22.6-16.1z" fill=url(#b151) stroke=url(#b151) />
<path class=c d="M741 174L749 170"/>
<path d="M707.2 234.3l4.4-50.9-10.1 3.3z" fill=url(#b152) stroke=url(#b152) />
<path class=c d="M708 225L706 225M709 208L704 209M711 191L702 192"/>
<path d="M851.3 183.9l-5.7-3.4-19.6-4z" fill=url(#b153) stroke=url(#b153) />
<path class=c d="M826 177L826 177"/>
<path d="M888.4 177.7l-12.3-8 13.6 13.5z" fill=url(#b154) stroke=url(#b154) />
<path class=c d="M882 173L882 176"/>
<path d="M667.4 216.6l19-77.6 7.4 42z" fill=url(#b155) stroke=url(#b155) />
<path class=c d="M669 210L673 209M673 193L689 188M678 175L692 170M682 157L689 155M686 139L686 139"/>
<path d="M869.6 167.4l18.8 10.3-31.6-8.9z" fill=url(#b156) stroke=url(#b156) />
<path class=c d="M879 173L868 172"/>
<path d="M711.6 183.4l1.3 2 11.8-9.1z" fill=#b4ff00 stroke=#b4ff00 />
<path d="M711.6 183.4l-5.8-3.3-4.3 6.6z" fill=#97ff00 stroke=#97ff00 />
<path d="M705.8 180.1l-9.8 4.5 5.5 2.1z" fill=#92ff00 stroke=#92ff00 />
<path d="M707.2 234.3l5.7-48.9-1.3-2z" fill=url(#b157) stroke=url(#b157) />
<path class=c d="M708 226L708 225M710 209L709 208M712 193L711 191"/>
<path d="M686.4 139l9.6 45.6 7.4-8.4z" fill=url(#b158) stroke=url(#b158) />
<path class=c d="M694 174L701 172M690 156L694 155M686 139L686 139"/>
<path d="M770.3 186.2l16.4-24 11.8 11.7z" fill=url(#b159) stroke=url(#b159) />
<path class=c d="M777 176L796 171"/>
<path d="M869.6 167.4l6.5 2.3 12.3 8z" fill=url(#b160) stroke=url(#b160) />
<path class=c d="M882 173L879 173"/>
<path d="M815.2 170.2l-18.4 12 27.9-10.3z" fill=#fcff00 stroke=#fcff00 />
<path class=c d="M812 177L819 171"/>
<path d="M851.3 183.9l-0.9-13.5 6.4-1.6z" fill=url(#b161) stroke=url(#b161) />
<path class=c d="M851 175L855 173"/>
<path d="M786.7 162.2l-3.8 29.1 32.3-21.1z" fill=url(#b162) stroke=url(#b162) />
<path class=c d="M785 177L813 170"/>
<path d="M696 184.6l-7.3 3.6 12.8-1.5z" fill=#7aff00 stroke=#7aff00 />
<path d="M696 184.6l-9.6-45.6-7.3 46.3z" fill=url(#b163) stroke=url(#b163) />
<path class=c d="M694 174L681 175M690 156L684 157M686 139L686 139"/>
<path d="M712.9 185.4l-5.7 48.9-3.8-50z" fill=url(#b164) stroke=url(#b164) />
<path class=c d="M708 226L707 226M710 209L705 210M712 193L704 194"/>
<path d="M683.8 188l23.4 46.3-5.7-47.6z" fill=url(#b165) stroke=url(#b165) />
<path class=c d="M703 226L706 225M696 211L704 209M688 196L702 192"/>
<path d="M679.1 185.3l7.3-46.3-19 77.6z" fill=url(#b166) stroke=url(#b166) />
<path class=c d="M669 210L670 210M673 193L676 193M681 175L678 175M684 157L682 157M686 139L686 139"/>
<path d="M703.4 184.3l3.8 50-4.4-45.5z" fill=url(#b167) stroke=url(#b167) />
<path class=c d="M707 226L706 226M705 210L705 210M704 194L703 194"/>
<path d="M753.4 165l-15.7 17.9 23.1-6.7z" fill=url(#b168) stroke=url(#b168) />
<path class=c d="M743 177L760 174"/>
<path d="M876.1 169.7l8.9 32.1 4.7-18.6z" fill=url(#b169) stroke=url(#b169) />
<path class=c d="M883 194L887 193M878 177L882 176"/>
<path d="M730.8 181.1l6.9 1.8 15.7-17.9z" fill=url(#b170) stroke=url(#b170) />
<path class=c d="M743 177L741 174"/>
<path d="M885 201.8l6-14.7-1.3-3.9z" fill=url(#b171) stroke=url(#b171) />
<path class=c d="M888 195L887 193"/>
<path d="M679.1 188.8l16.9-4.2-16.9 0.7z" fill=#91ff00 stroke=#91ff00 />
<path d="M673.3 185.5l5.8-0.2-11.7 31.3z" fill=url(#b172) stroke=url(#b172) />
<path class=c d="M670 210L668 211M676 193L672 195"/>
<path d="M702.8 188.8l4.4 45.5-23.4-46.3z" fill=url(#b173) stroke=url(#b173) />
<path class=c d="M706 226L703 226M705 210L696 211M703 194L688 196"/>
<path d="M771.9 273.3l5.3-82.8-0.2-5.3z" fill=url(#b174) stroke=url(#b174) />
<path class=c d="M773 263L772 263M774 246L773 246M775 229L774 229M776 212L775 212M777 196L776 195"/>
<path d="M771.9 273.3l5.1-88.1-11.8 3.5z" fill=url(#b175) stroke=url(#b175) />
<path class=c d="M772 263L771 263M773 246L770 246M774 229L768 229M775 212L767 213M776 195L766 196"/>
<path d="M688.7 188.2l7.3-3.6-16.9 4.2z" fill=#87ff00 stroke=#87ff00 />
<path d="M815.2 170.2l-32.3 21.1 5.1-9.8z" fill=url(#b176) stroke=url(#b176) />
<path d="M730.8 181.1l-17.9 4.3-4.3 4.6z" fill=#a6ff00 stroke=#a6ff00 />
<path d="M850.4 170.4l19.2-3-12.8 1.4z" fill=#ffc300 stroke=#ffc300 />
<path d="M777 185.2l9.7-23-16.4 24z" fill=url(#b177) stroke=url(#b177) />
<path class=c d="M781 177L777 176"/>
<path d="M815.3 181l36 2.9-25.3-7.4z" fill=url(#b178) stroke=url(#b178) />
<path class=c d="M817 181L826 177"/>
<path d="M772.8 191.8l4.4-1.3-5.3 82.8z" fill=url(#b179) stroke=url(#b179) />
<path class=c d="M773 263L772 263M774 246L772 247M775 229L772 230M776 212L773 214M777 196L773 197"/>
<path d="M688.7 188.2l-4.9-0.2 17.7-1.3z" fill=#8aff00 stroke=#8aff00 />
<path d="M796.8 182.2l18.4-12-27.2 11.3z" fill=#f5ff00 stroke=#f5ff00 />
<path d="M824.7 171.9l-27.9 10.3 29.2-5.7z" fill=#ffff00 stroke=#ffff00 />
<path class=c d="M812 177L824 177"/>
<path d="M850.4 170.4l0.9 13.5-36-2.9z" fill=url(#b180) stroke=url(#b180) />
<path class=c d="M851 175L817 181"/>
<path d="M777.2 190.5l9.5-28.3-9.7 23z" fill=url(#b181) stroke=url(#b181) />
<path class=c d="M782 177L781 177"/>
<path d="M712.9 185.4l-9.5-1.1 5.2 5.7z" fill=#a1ff00 stroke=#a1ff00 />
<path d="M673.3 185.5l5.8 3.3 0-3.5z" fill=#a4ff00 stroke=#a4ff00 />
<path d="M673.3 185.5l-5.9 31.1 1.6-28.3z" fill=url(#b182) stroke=url(#b182) />
<path class=c d="M668 211L668 211M672 195L669 196"/>
<path d="M777 185.2l-6.7 1-5.1 2.5z" fill=#a4ff00 stroke=#a4ff00 />
<path d="M786.7 162.2l-9.5 28.3 5.7 0.8z" fill=url(#b183) stroke=url(#b183) />
<path class=c d="M782 177L785 177"/>
<path d="M744.1 178.1l26.2 8.1-9.5-10z" fill=url(#b184) stroke=url(#b184) />
<path class=c d="M751 180L756 177"/>
<path d="M766.8 190.8l6 1-0.9 81.5z" fill=url(#b185) stroke=url(#b185) />
<path class=c d="M772 263L771 264M772 247L770 247M772 230L769 231M773 214L768 215M773 197L767 199"/>
<path d="M876.1 169.7l-6.5-2.3-5.8 23.4z" fill=url(#b186) stroke=url(#b186) />
<path class=c d="M867 178L871 179"/>
<path d="M876.1 169.7l-2.8 21.3 11.7 10.8z" fill=url(#b187) stroke=url(#b187) />
<path class=c d="M879 197L883 194M875 179L878 177"/>
<path d="M730.8 181.1l-22.2 8.9 2.4-1.6z" fill=#b9ff00 stroke=#b9ff00 />
<path d="M753.9 184.7l18 88.6-6.7-84.6z" fill=url(#b188) stroke=url(#b188) />
<path class=c d="M770 264L771 263M767 248L770 246M764 232L768 229M760 216L767 213M757 200L766 196"/>
<path d="M703.4 184.3l-0.6 4.5-22.9 30.2z" fill=url(#b189) stroke=url(#b189) />
<path class=c d="M681 218L681 218M697 196L695 197"/>
<path d="M679.1 188.8l-5.8-3.3-4.3 2.8z" fill=#acff00 stroke=#acff00 />
<path d="M737.7 182.9l6.4-4.8 16.7-1.9z" fill=#faff00 stroke=#faff00 />
<path class=c d="M741 180L756 177"/>
<path d="M770.3 186.2l-26.2-8.1 21.1 10.6z" fill=url(#b190) stroke=url(#b190) />
<path class=c d="M751 180L749 181"/>
<path d="M782.9 191.3l-5.7-0.8-2-1z" fill=#81ff00 stroke=#81ff00 />
<path d="M737.7 182.9l-6.9-1.8-19.8 7.3z" fill=#d4ff00 stroke=#d4ff00 />
<path d="M688.7 188.2l-9.6 0.6-4.4-18.8z" fill=url(#b191) stroke=url(#b191) />
<path class=c d="M677 180L681 179"/>
<path d="M680.4 190.2l22.4-1.4-19-0.8z" fill=#9dff00 stroke=#9dff00 />
<path d="M777.2 190.5l-4.4 1.3 2.4-2.3z" fill=#84ff00 stroke=#84ff00 />
<path d="M683.8 188l4.9 0.2-14-18.2z" fill=url(#b192) stroke=url(#b192) />
<path class=c d="M681 179L680 180"/>
<path d="M766.8 190.8l5.1 82.5-18-88.6z" fill=url(#b193) stroke=url(#b193) />
<path class=c d="M771 264L770 264M770 247L767 248M769 231L764 232M768 215L760 216M767 199L757 200"/>
<path d="M873.3 191l2.8-21.3-12.3 21.1z" fill=url(#b194) stroke=url(#b194) />
<path class=c d="M875 179L871 179"/>
<path d="M778.6 188.6l4.3 2.7-7.7-1.8z" fill=#98ff00 stroke=#98ff00 />
<path d="M796.8 182.2l18.5-1.2 10.7-4.5z" fill=#fcff00 stroke=#fcff00 />
<path class=c d="M811 181L824 177"/>
<path d="M702.8 188.8l-22.4 1.4-0.5 28.8z" fill=url(#b195) stroke=url(#b195) />
<path class=c d="M680 218L681 218M680 199L697 196"/>
<path d="M846.9 177.3l22.7-9.9-19.2 3z" fill=#ffbf00 stroke=#ffbf00 />
<path d="M708.6 190l-5.2-5.7-18.5 33.5z" fill=url(#b196) stroke=url(#b196) />
<path class=c d="M695 199L702 198"/>
<path d="M674.7 170l4.4 18.8-10.1-0.5z" fill=url(#b197) stroke=url(#b197) />
<path class=c d="M677 180L671 180"/>
<path d="M772.8 191.8l-6-1 8.4-1.3z" fill=#96ff00 stroke=#96ff00 />
<path d="M869.6 167.4l-22.7 9.9 16.9 13.5z" fill=url(#b198) stroke=url(#b198) />
<path class=c d="M853 182L867 178"/>
<path d="M778.6 188.6l-0.1-26 4.4 28.7z" fill=url(#b199) stroke=url(#b199) />
<path class=c d="M779 181L781 180M779 164L779 164"/>
<path d="M782.9 191.3l-4.4-28.7 9.5 18.9z" fill=url(#b200) stroke=url(#b200) />
<path class=c d="M781 180L788 181M779 164L779 164"/>
<path d="M773.5 194.8l5.1-6.2-3.4 0.9z" fill=#98ff00 stroke=#98ff00 />
<path d="M784.2 190.5l12.6-8.3-8.8-0.7z" fill=url(#b201) stroke=url(#b201) />
<path d="M680.4 190.2l3.4-2.2-13.5 4.6z" fill=#a5ff00 stroke=#a5ff00 />
<path d="M670.3 192.6l4.4-22.6-5.7 18.3z" fill=url(#b202) stroke=url(#b202) />
<path class=c d="M672 182L671 180"/>
<path d="M684.9 217.8l18.5-33.5-23.5 34.7z" fill=url(#b203) stroke=url(#b203) />
<path class=c d="M681 218L681 219M695 199L695 197"/>
<path d="M670.3 192.6l13.5-4.6-9.1-18z" fill=url(#b204) stroke=url(#b204) />
<path class=c d="M680 180L672 182"/>
<path d="M856.5 189.7l16.8 1.3-9.5-0.2z" fill=#acff00 stroke=#acff00 />
<path d="M708.6 190l-23.7 27.8 26.1-29.4z" fill=url(#b205) stroke=url(#b205) />
<path class=c d="M702 198L699 202"/>
<path d="M778.5 162.6l5.7 27.9 3.8-9z" fill=url(#b206) stroke=url(#b206) />
<path class=c d="M782 182L788 181M779 164L779 164"/>
<path d="M778.5 162.6l0.1 26-5.1 6.2z" fill=url(#b207) stroke=url(#b207) />
<path class=c d="M779 181L775 182M779 164L778 164"/>
<path d="M744.1 178.1l-6.4 4.8-5.4 5.3z" fill=url(#b208) stroke=url(#b208) />
<path class=c d="M741 180L739 183"/>
<path d="M680.4 190.2l-4.4 1.5 3.9 27.3z" fill=url(#b209) stroke=url(#b209) />
<path class=c d="M680 218L680 218M677 201L680 199"/>
<path d="M784.2 190.5l-4.4 0.2 17-8.5z" fill=#cfff00 stroke=#cfff00 />
<path d="M676 191.7l4.4-1.5-10.1 2.4z" fill=#a3ff00 stroke=#a3ff00 />
<path d="M705 212.3l32.7-29.4-26.7 5.5z" fill=url(#b210) stroke=url(#b210) />
<path class=c d="M717 201L708 202"/>
<path d="M784.2 190.5l-5.7-27.9-4.4 29.2z" fill=url(#b211) stroke=url(#b211) />
<path class=c d="M782 182L776 182M779 164L778 164"/>
<path d="M846.9 177.3l9.6 12.4 7.3 1.1z" fill=url(#b212) stroke=url(#b212) />
<path class=c d="M852 184L853 182"/>
<path d="M807.2 197l43.2-26.6-35.1 10.6z" fill=url(#b213) stroke=url(#b213) />
<path class=c d="M831 182L815 182"/>
<path d="M774.1 191.8l4.4-29.2-5 32.2z" fill=url(#b214) stroke=url(#b214) />
<path class=c d="M776 182L775 182M778 164L778 164"/>
<path d="M784.2 190.5l-10.1 1.3 5.7-1.1z" fill=#b6ff00 stroke=#b6ff00 />
<path d="M766.8 190.8l-5.5-9.6 13.9 8.3z" fill=url(#b215) stroke=url(#b215) />
<path class=c d="M763 184L766 184"/>
<path d="M761.3 181.2l12.2 13.6 1.7-5.3z" fill=url(#b216) stroke=url(#b216) />
<path class=c d="M765 185L766 184"/>
<path d="M744.1 178.1l-5.1 15.7 26.2-5.1z" fill=url(#b217) stroke=url(#b217) />
<path class=c d="M742 184L749 181"/>
<path d="M834.4 169.5l12.5 7.8 3.5-6.9z" fill=url(#b218) stroke=url(#b218) />
<path d="M779.8 190.7l-2.6 1 19.6-9.5z" fill=#d9ff00 stroke=#d9ff00 />
<path d="M873.3 191l-16.8-1.3 9.5-19.7z" fill=url(#b219) stroke=url(#b219) />
<path class=c d="M859 184L870 183"/>
<path d="M774.1 191.8l-0.6 3-12.2-13.6z" fill=url(#b220) stroke=url(#b220) />
<path class=c d="M765 185L766 185"/>
<path d="M739 193.8l14.9-9.1 11.3 4z" fill=url(#b221) stroke=url(#b221) />
<path d="M737.7 182.9l-25.3 31.8 19.9-26.5z" fill=url(#b222) stroke=url(#b222) />
<path class=c d="M721 203L720 205"/>
<path d="M815.3 181l-18.5 1.2-4.7 9.8z" fill=#f5ff00 stroke=#f5ff00 />
<path class=c d="M811 181L811 183"/>
<path d="M834.4 169.5l16 0.9-34.2 20.4z" fill=url(#b223) stroke=url(#b223) />
<path class=c d="M825 185L819 188"/>
<path d="M737.7 182.9l-32.7 29.4 7.4 2.4z" fill=url(#b224) stroke=url(#b224) />
<path class=c d="M717 201L721 203"/>
<path d="M761.3 181.2l5.5 9.6-12.9-6.1z" fill=url(#b225) stroke=url(#b225) />
<path class=c d="M763 184L754 184"/>
<path d="M875.6 192.5l-2.3-1.5-7.3-21z" fill=url(#b226) stroke=url(#b226) />
<path class=c d="M870 183L873 186"/>
<path d="M850.4 170.4l-43.2 26.6 9-6.2z" fill=url(#b227) stroke=url(#b227) />
<path class=c d="M831 182L825 185"/>
<path d="M711 188.4l-26.1 29.4 5.1-3.3z" fill=url(#b228) stroke=url(#b228) />
<path class=c d="M699 202L698 204"/>
<path d="M705 212.3l6-23.9-21 26.1z" fill=url(#b229) stroke=url(#b229) />
<path class=c d="M708 202L698 204"/>
<path d="M856.5 189.7l-5.1 30.7 14.6-50.4z" fill=url(#b230) stroke=url(#b230) />
<path class=c d="M854 204L856 206M861 186L859 184"/>
<path d="M720 217.9l24.1-39.8-11.8 10.1z" fill=url(#b231) stroke=url(#b231) />
<path class=c d="M727 207L725 207M741 183L739 183"/>
<path d="M779.8 190.7l-5.7 1.1-26.3 1.9z" fill=url(#b232) stroke=url(#b232) />
<path d="M846.9 177.3l-4.2 20.8 13.8-8.4z" fill=url(#b233) stroke=url(#b233) />
<path class=c d="M845 188L852 184"/>
<path d="M858.6 198.2l17-5.7-9.6-22.5z" fill=url(#b234) stroke=url(#b234) />
<path class=c d="M873 186L862 187"/>
<path d="M807.2 197l8.1-16-23.2 11z" fill=url(#b235) stroke=url(#b235) />
<path class=c d="M815 182L811 183"/>
<path d="M761.3 181.2l-7.4 3.5-14.9 9.1z" fill=url(#b236) stroke=url(#b236) />
<path class=c d="M754 184L751 187"/>
<path d="M796.8 182.2l-19.6 9.5-9 5z" fill=#e1ff00 stroke=#e1ff00 />
<path d="M744.1 178.1l-24.1 39.8 19-24.1z" fill=url(#b237) stroke=url(#b237) />
<path class=c d="M727 207L727 208M741 183L742 184"/>
<path d="M875.6 192.5l-17 5.7 9.6 0.4z" fill=#abff00 stroke=#abff00 />
<path d="M747.8 193.7l26.3-1.9-12.8-10.6z" fill=url(#b238) stroke=url(#b238) />
<path class=c d="M766 185L751 191"/>
<path d="M842.7 198.1l8.7 22.3 5.1-30.7z" fill=url(#b239) stroke=url(#b239) />
<path class=c d="M847 208L854 204"/>
<path d="M779.8 190.7l-32 3 29.4-2z" fill=#daff00 stroke=#daff00 />
<path d="M796.8 182.2l-28.6 14.5 23.9-4.7z" fill=#e9ff00 stroke=#e9ff00 />
<path d="M846.9 177.3l-12.5-7.8-17.8 34z" fill=url(#b240) stroke=url(#b240) />
<path class=c d="M824 190L835 187"/>
<path d="M712.4 214.7l7.6 3.2 12.3-29.7z" fill=url(#b241) stroke=url(#b241) />
<path class=c d="M725 207L720 205"/>
<path d="M814.8 201l19.6-31.5-18.2 21.3z" fill=url(#b242) stroke=url(#b242) />
<path class=c d="M823 187L819 188"/>
<path d="M807.2 197l-5.8 2.8 14.8-9z" fill=#c7ff00 stroke=#c7ff00 />
<path d="M834.4 169.5l-19.6 31.5 1.8 2.5z" fill=url(#b243) stroke=url(#b243) />
<path class=c d="M823 187L824 190"/>
<path d="M801.4 199.8l5.8-2.8-15.1-5z" fill=#c7ff00 stroke=#c7ff00 />
<path d="M842.7 198.1l4.2-20.8-30.3 26.2z" fill=url(#b244) stroke=url(#b244) />
<path class=c d="M845 188L835 187"/>
<path d="M879.8 199l-7.4 5.1 17-5.3z" fill=#8fff00 stroke=#8fff00 />
<path d="M761.3 181.2l-22.3 12.6-10.8 27.3z" fill=url(#b245) stroke=url(#b245) />
<path class=c d="M732 210L737 211M751 187L756 187"/>
<path d="M809 176.6l5.8 24.4 1.4-10.2z" fill=url(#b246) stroke=url(#b246) />
<path class=c d="M812 190L815 189"/>
<path d="M851.4 220.4l-8.7-22.3 5.7 5z" fill=url(#b247) stroke=url(#b247) />
<path class=c d="M847 208L849 209"/>
<path d="M801.4 199.8l7.6-23.2 7.2 14.2z" fill=url(#b248) stroke=url(#b248) />
<path class=c d="M804 191L815 189"/>
<path d="M747.8 193.7l13.5-12.5-33.1 39.9z" fill=url(#b249) stroke=url(#b249) />
<path class=c d="M737 211L735 212M751 191L756 187"/>
<path d="M739 193.8l-19 24.1 8.2 3.2z" fill=url(#b250) stroke=url(#b250) />
<path class=c d="M727 208L732 210"/>
<path d="M814.8 201l-5.8-24.4 7.6 26.9z" fill=url(#b251) stroke=url(#b251) />
<path class=c d="M812 190L813 192"/>
<path d="M889.4 198.8l-17 5.3 9.6-26.1z" fill=url(#b252) stroke=url(#b252) />
<path class=c d="M877 192L887 191"/>
<path d="M848.4 203.1l-5.7-5-4.5 6.4z" fill=#a1ff00 stroke=#a1ff00 />
<path d="M777.2 191.7l-29.4 2-11.3 30.4z" fill=url(#b253) stroke=url(#b253) />
<path class=c d="M740 215L752 212"/>
<path d="M842.7 198.1l-26.1 5.4 21.6 1z" fill=#a0ff00 stroke=#a0ff00 />
<path d="M768.2 196.7l9-5-40.7 32.4z" fill=url(#b254) stroke=url(#b254) />
<path class=c d="M752 212L748 215"/>
<path d="M803.1 202.9l5.9-26.3-7.6 23.2z" fill=url(#b255) stroke=url(#b255) />
<path class=c d="M805 193L804 191"/>
<path d="M772.2 202.7l29.2-2.9-9.3-7.8z" fill=#d2ff00 stroke=#d2ff00 />
<path d="M889.4 198.8l-7.4-20.8 9.5 28z" fill=url(#b256) stroke=url(#b256) />
<path class=c d="M887 191L887 194"/>
<path d="M809 176.6l-5.9 26.3 13.5 0.6z" fill=url(#b257) stroke=url(#b257) />
<path class=c d="M805 193L813 192"/>
<path d="M768.2 196.7l4 6 19.9-10.7z" fill=#e1ff00 stroke=#e1ff00 />
<path d="M872.4 204.1l2.2 4.6 7.4-30.7z" fill=url(#b258) stroke=url(#b258) />
<path class=c d="M878 195L877 192"/>
<path d="M844 158.4l4.4 44.7-10.2 1.4z" fill=url(#b259) stroke=url(#b259) />
<path class=c d="M847 193L840 193M846 176L842 176M844 158L844 158"/>
<path d="M803.1 202.9l-2.1-1.9 15.6 2.5z" fill=#b9ff00 stroke=#b9ff00 />
<path d="M801 201l9.8 1.7 5.8 0.8z" fill=#c0ff00 stroke=#c0ff00 />
<path d="M882 178l-7.4 30.7 16.9-2.7z" fill=url(#b260) stroke=url(#b260) />
<path class=c d="M878 195L887 194"/>
<path d="M844 158.4l5.8 44.5-1.4 0.2z" fill=url(#b261) stroke=url(#b261) />
<path class=c d="M849 195L847 193M846 177L846 176M844 158L844 158"/>
<path d="M736.5 224.1l11.3-30.4-19.6 27.4z" fill=url(#b262) stroke=url(#b262) />
<path class=c d="M740 215L735 212"/>
<path d="M775.2 204.7l27.9-1.8-1.7-3.1z" fill=#c1ff00 stroke=#c1ff00 />
<path d="M816.6 203.5l-0.1 1.2 21.7-0.2z" fill=#abff00 stroke=#abff00 />
<path d="M839.6 205.4l4.4-47-5.8 46.1z" fill=url(#b263) stroke=url(#b263) />
<path class=c d="M841 195L840 193M842 177L842 176M844 158L844 158"/>
<path d="M874.6 208.7l9.6-2.5 7.3-0.2z" fill=#87ff00 stroke=#87ff00 />
<path d="M849.8 202.9l-10.2 2.5 5.7 0.9z" fill=#a9ff00 stroke=#a9ff00 />
<path d="M810.8 202.7l5.7 2 0.1-1.2z" fill=#bfff00 stroke=#bfff00 />
<path d="M844 158.4l-4.4 47 10.2-2.5z" fill=url(#b264) stroke=url(#b264) />
<path class=c d="M841 195L849 195M842 177L846 177M844 158L844 158"/>
<path d="M816.5 204.7l23.1 0.7-1.4-0.9z" fill=#b3ff00 stroke=#b3ff00 />
<path d="M772.2 202.7l3 2 26.2-4.9z" fill=#ccff00 stroke=#ccff00 />
<path d="M801 201l2.1 1.9-27.9 1.8z" fill=#ceff00 stroke=#ceff00 />
<path d="M768.2 196.7l-31.7 27.4 8.5 4.2z" fill=url(#b265) stroke=url(#b265) />
<path class=c d="M748 215L754 216"/>
<path d="M772.2 202.7l-4-6-23.2 31.6z" fill=url(#b266) stroke=url(#b266) />
<path class=c d="M754 216L756 218"/>
<path d="M801 201l-8 2.4 17.8-0.7z" fill=#d5ff00 stroke=#d5ff00 />
<path d="M836 227.6l3.6-22.2-23.1-0.7z" fill=url(#b267) stroke=url(#b267) />
<path class=c d="M838 215L827 217"/>
<path d="M810.8 202.7l-17.8 0.7 23.5 1.3z" fill=#d4ff00 stroke=#d4ff00 />
<path d="M793 203.4l8-2.4-25.8 3.7z" fill=#ddff00 stroke=#ddff00 />
<path d="M836 227.6l-19.5-22.9-10.5 26.3z" fill=url(#b268) stroke=url(#b268) />
<path class=c d="M827 217L810 222"/>
<path d="M775.2 204.7l-3-2-12.2 29.5z" fill=url(#b269) stroke=url(#b269) />
<path class=c d="M765 221L766 222"/>
<path d="M760 232.2l12.2-29.5-27.2 25.6z" fill=url(#b270) stroke=url(#b270) />
<path class=c d="M765 221L756 218"/>
<path d="M828.1 232.4l7.9-4.8-23.1 7.6z" fill=#00eb00 stroke=#00eb00 />
<path d="M812.9 235.2l23.1-7.6-30 3.4z" fill=#00ec00 stroke=#00ec00 />
<path d="M793 203.4l-17.8 1.3-7.3 30.8z" fill=url(#b271) stroke=url(#b271) />
<path class=c d="M771 223L777 224"/>
<path d="M793 203.4l-14.3 18.1 37.8-16.8z" fill=url(#b272) stroke=url(#b272) />
<path d="M767.9 235.5l7.3-30.8-15.2 27.5z" fill=url(#b273) stroke=url(#b273) />
<path class=c d="M771 223L766 222"/>
<path d="M816.5 204.7l-37.8 16.8 27.3 9.5z" fill=url(#b274) stroke=url(#b274) />
<path class=c d="M792 226L810 222"/>
<path d="M773.9 218.6l19.1-15.2-25.1 32.1z" fill=url(#b275) stroke=url(#b275) />
<path class=c d="M777 224L771 227"/>
<path d="M828.1 232.4l-15.2 2.8 14.1-19.5z" fill=url(#b276) stroke=url(#b276) />
<path class=c d="M819 227L828 225"/>
<path d="M847.2 218.8l-11.5-3.6-8.7 0.5z" fill=#9eff00 stroke=#9eff00 />
<path d="M793 203.4l-19.1 15.2 4.8 2.9z" fill=url(#b277) stroke=url(#b277) />
<path d="M838.4 257.4l8.8-38.6-20.2-3.1z" fill=url(#b278) stroke=url(#b278) />
<path class=c d="M841 245L835 246M846 225L830 227"/>
<path d="M847.2 218.8l-8.8 38.6 11.5-37.3z" fill=url(#b279) stroke=url(#b279) />
<path class=c d="M841 245L842 247M846 225L847 229"/>
<path d="M812.9 235.2l7.1 2.1 7-21.6z" fill=url(#b280) stroke=url(#b280) />
<path class=c d="M823 229L819 227"/>
<path d="M773.9 218.6l-3.7 1.2 8.5 1.7z" fill=#a0ff00 stroke=#a0ff00 />
<path d="M849.9 220.1l-11.5 37.3 2.7-32z" fill=url(#b281) stroke=url(#b281) />
<path class=c d="M842 247L839 248M847 229L840 232"/>
<path d="M778.7 221.5l-8.5-1.7 4.8-19.8z" fill=url(#b282) stroke=url(#b282) />
<path class=c d="M772 211L777 211"/>
<path d="M779.8 224.6l-1.1-3.1-3.7-21.5z" fill=url(#b283) stroke=url(#b283) />
<path class=c d="M777 211L777 212"/>
<path d="M838.4 257.4l-8.8-33.9 11.5 1.9z" fill=url(#b284) stroke=url(#b284) />
<path class=c d="M836 248L839 248M832 231L840 232"/>
<path d="M770.2 219.8l1.1 1.6 3.7-21.4z" fill=url(#b285) stroke=url(#b285) />
<path class=c d="M773 212L772 211"/>
<path d="M771.3 221.4l8.5 3.2-4.8-24.6z" fill=url(#b286) stroke=url(#b286) />
<path class=c d="M777 212L773 212"/>
<path d="M776.1 220.2l3.7 4.4-8.5-3.2z" fill=#afff00 stroke=#afff00 />
</g>
<line class="k" x1="590.4" y1="307.6" x2="579.2" y2="33.5"/>
<line class="k" x1="590.4" y1="307.6" x2="585.6" y2="308.5"/>
<line class="k" x1="588.9" y1="270.4" x2="584.1" y2="271.3"/>
<line class="k" x1="587.3" y1="232.5" x2="582.5" y2="233.4"/>
<line class="k" x1="585.8" y1="194.1" x2="581" y2="195"/>
<line class="k" x1="584.2" y1="154.9" x2="579.4" y2="155.8"/>
<line class="k" x1="582.6" y1="115.2" x2="577.8" y2="116.1"/>
<line class="k" x1="580.9" y1="74.7" x2="576.1" y2="75.6"/>
<line class="k" x1="579.2" y1="33.5" x2="574.4" y2="34.4"/>
<line class="k" x1="590.4" y1="307.6" x2="804.7" y2="386"/>
<line class="k" x1="600.9" y1="311.4" x2="597.4" y2="313.4"/>
<line class="k" x1="613.7" y1="316.1" x2="611.9" y2="317.1"/>
<line class="k" x1="626.7" y1="320.8" x2="623.2" y2="322.8"/>
<line class="k" x1="639.9" y1="325.7" x2="638.2" y2="326.7"/>
<line class="k" x1="653.4" y1="330.6" x2="649.9" y2="332.6"/>
<line class="k" x1="667.2" y1="335.7" x2="665.5" y2="336.7"/>
<line class="k" x1="681.3" y1="340.8" x2="677.8" y2="342.8"/>
<line class="k" x1="695.6" y1="346.1" x2="693.9" y2="347.1"/>
<line class="k" x1="710.2" y1="351.4" x2="706.7" y2="353.4"/>
<line class="k" x1="725.2" y1="356.9" x2="723.4" y2="357.9"/>
<line class="k" x1="740.4" y1="362.5" x2="736.9" y2="364.5"/>
<line class="k" x1="756" y1="368.2" x2="754.2" y2="369.2"/>
<line class="k" x1="771.8" y1="374" x2="768.4" y2="376"/>
<line class="k" x1="788.1" y1="380" x2="786.3" y2="381"/>
<line class="k" x1="804.7" y1="386" x2="801.2" y2="388"/>
<line class="k" x1="804.7" y1="386" x2="975.5" y2="295.7"/>
<line class="k" x1="804.7" y1="386" x2="808.8" y2="387.8"/>
<line class="k" x1="824.6" y1="375.5" x2="826.5" y2="376.3"/>
<line class="k" x1="843.9" y1="365.3" x2="848" y2="367.1"/>
<line class="k" x1="862.4" y1="355.5" x2="864.2" y2="356.3"/>
<line class="k" x1="880.3" y1="346" x2="884.4" y2="347.8"/>
<line class="k" x1="897.5" y1="336.9" x2="899.4" y2="337.7"/>
<line class="k" x1="914.2" y1="328.1" x2="918.3" y2="329.9"/>
<line class="k" x1="930.3" y1="319.6" x2="932.1" y2="320.4"/>
<line class="k" x1="945.9" y1="311.3" x2="950" y2="313.1"/>
<line class="k" x1="960.9" y1="303.4" x2="962.8" y2="304.2"/>
<line class="k" x1="975.5" y1="295.7" x2="979.7" y2="297.5"/>
<rect x="900.5" y="25.5" width="16" height="260" fill="url(#cbar)" stroke="#111" stroke-width="1"/>
<line class="k" x1="916.5" y1="28.6" x2="921.5" y2="28.6"/>
<text class="cl" x="927" y="33.6">26.00</text>
<line class="k" x1="916.5" y1="54.1" x2="921.5" y2="54.1"/>
<text class="cl" x="927" y="59.1">21.66</text>
<line class="k" x1="916.5" y1="79.5" x2="921.5" y2="79.5"/>
<text class="cl" x="927" y="84.5">17.32</text>
<line class="k" x1="916.5" y1="105" x2="921.5" y2="105"/>
<text class="cl" x="927" y="110">12.98</text>
<line class="k" x1="916.5" y1="130.4" x2="921.5" y2="130.4"/>
<text class="cl" x="927" y="135.4">8.64</text>
<line class="k" x1="916.5" y1="155.9" x2="921.5" y2="155.9"/>
<text class="cl" x="927" y="160.9">4.30</text>
<line class="k" x1="916.5" y1="181.4" x2="921.5" y2="181.4"/>
<text class="cl" x="927" y="186.4">-0.04</text>
<line class="k" x1="916.5" y1="206.8" x2="921.5" y2="206.8"/>
<text class="cl" x="927" y="211.8">-4.38</text>
<line class="k" x1="916.5" y1="232.3" x2="921.5" y2="232.3"/>
<text class="cl" x="927" y="237.3">-8.72</text>
<line class="k" x1="916.5" y1="257.7" x2="921.5" y2="257.7"/>
<text class="cl" x="927" y="262.7">-13.06</text>
<line class="k" x1="916.5" y1="283.2" x2="921.5" y2="283.2"/>
<text class="cl" x="927" y="288.2">-17.40</text>
<text class="ct" x="881" y="14">Error (MPa)</text>
<text class="zl" transform="matrix(0.80 -0.06 0.03 1 582 317.3)">-30</text>
<text class="zl" transform="matrix(0.80 -0.06 0.03 1 580.5 280.1)">-20</text>
<text class="zl" transform="matrix(0.80 -0.06 0.03 1 578.9 242.2)">-10</text>
<text class="zl" transform="matrix(0.80 -0.06 0.03 1 577.4 203.8)">0</text>
<text class="zl" transform="matrix(0.80 -0.06 0.03 1 575.8 164.6)">10</text>
<text class="zl" transform="matrix(0.80 -0.06 0.03 1 574.2 124.9)">20</text>
<text class="zl" transform="matrix(0.80 -0.06 0.03 1 572.5 84.4)">30</text>
<text class="zl" transform="matrix(0.80 -0.06 0.03 1 570.8 43.2)">40</text>
<text class="xl" transform="matrix(1.492 -0.579 1.548 0.572 600.2 315.3)">0</text>
<text class="xl" transform="matrix(1.484 -0.599 1.548 0.572 626.2 324.9)">50</text>
<text class="xl" transform="matrix(1.475 -0.621 1.548 0.572 653.2 334.9)">100</text>
<text class="xl" transform="matrix(1.465 -0.644 1.548 0.572 681.2 345.2)">150</text>
<text class="xl" transform="matrix(1.454 -0.669 1.548 0.572 710.4 356.0)">200</text>
<text class="xl" transform="matrix(1.441 -0.695 1.548 0.572 740.9 367.3)">250</text>
<text class="xl" transform="matrix(1.427 -0.723 1.548 0.572 772.6 379.0)">300</text>
<text class="xl" transform="matrix(1.411 -0.754 1.548 0.572 805.7 391.2)">350</text>
<text class="yl" transform="matrix(1.548 0.572 -1.101 0.591 808.4 392.6)">0</text>
<text class="yl" transform="matrix(1.559 0.541 -1.101 0.591 847.9 371.3)">20</text>
<text class="yl" transform="matrix(1.568 0.513 -1.101 0.591 884.6 351.7)">40</text>
<text class="yl" transform="matrix(1.576 0.488 -1.101 0.591 918.7 333.3)">60</text>
<text class="yl" transform="matrix(1.583 0.465 -1.101 0.591 950.5 316.3)">80</text>
<text class="yl" transform="matrix(1.589 0.443 -1.101 0.591 980.3 300.3)">100</text>
<text class="tt" transform="translate(539 136.5) rotate(90)">Error (MPa)</text>
<text class="tx" transform="matrix(1.443 0.565 -1.555 0.687 647.1 363.3)">Data points</text>
<text class="tx" transform="matrix(1.213 -0.699 1.716 0.543 948.1 354.3)">Predictions</text>
<text class="pl" x="599" y="56.7">(b)</text>
<line class="g" x1="95.2" y1="724.1" x2="86.8" y2="458.3"/>
<line class="g" x1="133.4" y1="709.6" x2="127.5" y2="451.7"/>
<line class="g" x1="169.4" y1="696" x2="165.7" y2="445.5"/>
<line class="g" x1="203.2" y1="683.2" x2="201.5" y2="439.6"/>
<line class="g" x1="52.6" y1="696.1" x2="235.2" y2="633.2"/>
<line class="g" x1="50.8" y1="651.8" x2="235.2" y2="594.7"/>
<line class="g" x1="49" y1="606.6" x2="235.2" y2="555.6"/>
<line class="g" x1="47.1" y1="560.5" x2="235.2" y2="515.8"/>
<line class="g" x1="45.2" y1="513.5" x2="235.2" y2="475.3"/>
<line class="g" x1="245.5" y1="673.9" x2="246" y2="435.4"/>
<line class="g" x1="270.4" y1="680.8" x2="272.3" y2="438.6"/>
<line class="g" x1="296.3" y1="688" x2="299.6" y2="441.9"/>
<line class="g" x1="323" y1="695.4" x2="327.8" y2="445.3"/>
<line class="g" x1="350.6" y1="703" x2="357.1" y2="448.8"/>
<line class="g" x1="379.2" y1="711" x2="387.5" y2="452.5"/>
<line class="g" x1="408.8" y1="719.2" x2="419" y2="456.3"/>
<line class="g" x1="235.2" y1="633.2" x2="441.5" y2="685.2"/>
<line class="g" x1="235.2" y1="594.7" x2="443.4" y2="641.9"/>
<line class="g" x1="235.2" y1="555.6" x2="445.4" y2="597.8"/>
<line class="g" x1="235.2" y1="515.8" x2="447.5" y2="552.9"/>
<line class="g" x1="235.2" y1="475.3" x2="449.6" y2="507"/>
<line class="g" x1="64.9" y1="743.4" x2="245.5" y2="673.9"/>
<line class="g" x1="90.7" y1="752.8" x2="270.4" y2="680.8"/>
<line class="g" x1="117.4" y1="762.6" x2="296.3" y2="688"/>
<line class="g" x1="145.3" y1="772.8" x2="323" y2="695.4"/>
<line class="g" x1="174.2" y1="783.4" x2="350.6" y2="703"/>
<line class="g" x1="204.4" y1="794.5" x2="379.2" y2="711"/>
<line class="g" x1="235.8" y1="806" x2="408.8" y2="719.2"/>
<line class="g" x1="95.2" y1="724.1" x2="307.9" y2="797.3"/>
<line class="g" x1="133.4" y1="709.6" x2="344.3" y2="778"/>
<line class="g" x1="169.4" y1="696" x2="378.2" y2="760.1"/>
<line class="g" x1="203.2" y1="683.2" x2="409.9" y2="743.3"/>
<path class="e" d="M43.2 465.5L235.2 434.1L451.7 460.2L439.5 727.7"/>
<path class="e" d="M54.4 739.6L235.2 671L439.5 727.7"/>
<line class="e" x1="235.2" y1="671" x2="235.2" y2="434.1"/>
<g stroke-width=".5" stroke-linejoin="round">
<path d="M212.4 560.5l0.8 3.8 11.7-2.8z" fill=#8aff00 stroke=#8aff00 />
<path d="M229.8 561.1l7.6-0.2-12.5 0.6z" fill=#9aff00 stroke=#9aff00 />
<path d="M237.4 560.9l3 5.6 6.6-4.7z" fill=#80ff00 stroke=#80ff00 />
<path d="M213.2 564.3l16.6-3.2-4.9 0.4z" fill=#8eff00 stroke=#8eff00 />
<path d="M240.4 566.5l15.2-6.3-8.6 1.6z" fill=#87ff00 stroke=#87ff00 />
<path d="M183.9 554.7l28.5 5.8-12.4 0.5z" fill=url(#c1) stroke=url(#c1) />
<path class=c d="M185 555L185 555"/>
<path d="M213.2 564.3l-0.8-3.8-16.7 6.3z" fill=#8dff00 stroke=#8dff00 />
<path d="M175.5 565.5l8.4-10.8 16.1 6.3z" fill=url(#c2) stroke=url(#c2) />
<path class=c d="M184 555L185 555"/>
<path d="M237.4 560.9l-7.6 0.2-16.5 5.6z" fill=#a8ff00 stroke=#a8ff00 />
<path d="M257.6 566.8l8.1-0.2-10.1-6.4z" fill=#96ff00 stroke=#96ff00 />
<path d="M213.3 566.7l16.5-5.6-16.6 3.2z" fill=#9dff00 stroke=#9dff00 />
<path d="M237.4 560.9l-24.1 5.8 27.1-0.2z" fill=#92ff00 stroke=#92ff00 />
<path d="M240.4 566.5l8.6-61.7 6.6 55.4z" fill=url(#c3) stroke=url(#c3) />
<path class=c d="M242 553L255 552M245 535L253 534M247 517L250 517"/>
<path d="M212.4 560.5l-28.5-5.8 11.8 12.1z" fill=url(#c4) stroke=url(#c4) />
<path class=c d="M185 555L184 555"/>
<path d="M249 504.8l8.6 62-2-6.6z" fill=url(#c5) stroke=url(#c5) />
<path class=c d="M256 555L255 552M253 536L253 534M251 518L250 517"/>
<path d="M213.3 566.7l-0.1-2.4-17.5 2.5z" fill=#99ff00 stroke=#99ff00 />
<path d="M265.7 566.6l-8.1 0.2-6.6 1.2z" fill=#90ff00 stroke=#90ff00 />
<path d="M257.6 566.8l-15.2 2.1 8.6-0.9z" fill=#8bff00 stroke=#8bff00 />
<path d="M242.4 568.9l15.2-2.1-8.6-62z" fill=url(#c6) stroke=url(#c6) />
<path class=c d="M256 555L244 556M253 536L246 537M251 518L248 518"/>
<path d="M218.2 573.4l30.8-68.6-8.6 61.7z" fill=url(#c7) stroke=url(#c7) />
<path class=c d="M225 559L242 553M234 539L245 535M243 519L247 517"/>
<path d="M213.3 566.7l4.9 6.7 22.2-6.9z" fill=#7fff00 stroke=#7fff00 />
<path d="M168 572.6l15.9-17.9-8.4 10.8z" fill=url(#c8) stroke=url(#c8) />
<path class=c d="M183 555L184 555"/>
<path d="M257 555.8l16.7 12.2-8-1.4z" fill=url(#c9) stroke=url(#c9) />
<path class=c d="M261 559L259 558"/>
<path d="M183.9 554.7l-15.9 17.9 27.7-5.8z" fill=url(#c10) stroke=url(#c10) />
<path class=c d="M183 555L184 555"/>
<path d="M257 555.8l8.7 10.8-14.7 1.4z" fill=url(#c11) stroke=url(#c11) />
<path class=c d="M259 558L255 559"/>
<path d="M242.4 568.9l-12.1-12.1 20.7 11.2z" fill=url(#c12) stroke=url(#c12) />
<path class=c d="M233 559L235 559"/>
<path d="M230.3 556.8l12.1 12.1 6.6-64.1z" fill=url(#c13) stroke=url(#c13) />
<path class=c d="M233 559L244 556M246 537L236 540M248 518L244 519"/>
<path d="M213.3 566.7l-17.6 0.1-14.9 5.1z" fill=#a1ff00 stroke=#a1ff00 />
<path d="M168 572.6l7.5-7.1-25.5 7.1z" fill=#8dff00 stroke=#8dff00 />
<path d="M195.7 566.8l-27.7 5.8 12.8-0.7z" fill=#8fff00 stroke=#8fff00 />
<path d="M218.2 573.4l12.1-16.6 18.7-52z" fill=url(#c14) stroke=url(#c14) />
<path class=c d="M228 560L225 559M236 540L234 539M244 519L243 519"/>
<path d="M273.7 568l-4.3-7.6 12.4 9.2z" fill=url(#c15) stroke=url(#c15) />
<path class=c d="M270 561L271 562"/>
<path d="M218.2 573.4l-4.9-6.7-12.8 8.1z" fill=#8eff00 stroke=#8eff00 />
<path d="M249.3 576.7l24.4-8.7-16.7-12.2z" fill=url(#c16) stroke=url(#c16) />
<path class=c d="M261 559L255 561"/>
<path d="M231.8 576.3l25.2-20.5-6 12.2z" fill=url(#c17) stroke=url(#c17) />
<path class=c d="M251 561L255 559"/>
<path d="M187.5 577.4l25.8-10.7-32.5 5.2z" fill=#95ff00 stroke=#95ff00 />
<path d="M249.3 576.7l20.1-16.3 4.3 7.6z" fill=url(#c18) stroke=url(#c18) />
<path class=c d="M267 563L270 561"/>
<path d="M230.3 556.8l-12.7 23.1 33.4-11.9z" fill=url(#c19) stroke=url(#c19) />
<path class=c d="M228 561L235 559"/>
<path d="M213.3 566.7l-25.8 10.7 13-2.6z" fill=#92ff00 stroke=#92ff00 />
<path d="M210.9 576.6l19.4-19.8-12.1 16.6z" fill=url(#c20) stroke=url(#c20) />
<path class=c d="M226 561L228 560"/>
<path d="M168 572.6l-15.7 5.2 28.5-5.9z" fill=#85ff00 stroke=#85ff00 />
<path d="M137.1 578.6l30.9-6-18 0z" fill=#85ff00 stroke=#85ff00 />
<path d="M217.6 579.9l14.2-3.6 19.2-8.3z" fill=#87ff00 stroke=#87ff00 />
<path d="M210.9 576.6l7.3-3.2-17.7 1.4z" fill=#83ff00 stroke=#83ff00 />
<path d="M262.3 580l27.7-7.9-8.2-2.5z" fill=#95ff00 stroke=#95ff00 />
<path d="M269.4 560.4l-7.1 19.6 19.5-10.4z" fill=url(#c21) stroke=url(#c21) />
<path class=c d="M268 563L271 562"/>
<path d="M165.5 577l22 0.4-6.7-5.5z" fill=#87ff00 stroke=#87ff00 />
<path d="M152.3 577.8l13.2-0.8 15.3-5.1z" fill=#89ff00 stroke=#89ff00 />
<path d="M152.3 577.8l15.7-5.2-30.9 6z" fill=#7fff00 stroke=#7fff00 />
<path d="M230.3 556.8l-19.4 19.8 6.7 3.3z" fill=url(#c22) stroke=url(#c22) />
<path class=c d="M226 561L228 561"/>
<path d="M291.9 579.7l21.3-4.6-11.6-2.1z" fill=#8cff00 stroke=#8cff00 />
<path d="M290 572.1l-17.2 10 28.8-9.1z" fill=#94ff00 stroke=#94ff00 />
<path d="M228.4 580.1l28.6-24.3-25.2 20.5z" fill=url(#c23) stroke=url(#c23) />
<path class=c d="M249 562L251 561"/>
<path d="M228.4 580.1l20.9-3.4 7.7-20.9z" fill=url(#c24) stroke=url(#c24) />
<path class=c d="M255 561L249 562"/>
<path d="M249.3 576.7l2 3.1 18.1-19.4z" fill=url(#c25) stroke=url(#c25) />
<path class=c d="M267 563L267 563"/>
<path d="M187.5 577.4l-19.7 3.1 32.7-5.7z" fill=#8dff00 stroke=#8dff00 />
<path d="M141.3 581.7l11-3.9-15.2 0.8z" fill=#75ff00 stroke=#75ff00 />
<path d="M313.2 575.1l-9.6 10 21.4-9z" fill=#82ff00 stroke=#82ff00 />
<path d="M152.3 577.8l-2.5 3.1 15.7-3.9z" fill=#83ff00 stroke=#83ff00 />
<path d="M313.2 575.1l-21.3 4.6 1.7 4.9z" fill=#74ff00 stroke=#74ff00 />
<path d="M272.8 582.1l19.1-2.4 9.7-6.7z" fill=#8cff00 stroke=#8cff00 />
<path d="M262.3 580l10.5 2.1 17.2-10z" fill=#90ff00 stroke=#90ff00 />
<path d="M210.9 576.6l-5.1 1.1 11.8 2.2z" fill=#8fff00 stroke=#8fff00 />
<path d="M251.3 579.8l11 0.2 7.1-19.6z" fill=url(#c26) stroke=url(#c26) />
<path class=c d="M268 563L267 563"/>
<path d="M187.5 577.4l-22-0.4-10.2 7.9z" fill=#7bff00 stroke=#7bff00 />
<path d="M173.4 562.3l37.5 14.3-10.4-1.8z" fill=url(#c27) stroke=url(#c27) />
<path class=c d="M191 569L186 568"/>
<path d="M310.3 582.5l24.3-5.3-9.6-1.1z" fill=#98ff00 stroke=#98ff00 />
<path d="M141.3 581.7l-6.8-3.2 17.8-0.7z" fill=#8aff00 stroke=#8aff00 />
<path d="M303.6 585.1l9.6-10-19.6 9.5z" fill=#6cff00 stroke=#6cff00 />
<path d="M217.6 579.9l-5.1-58.3 19.3 54.7z" fill=url(#c28) stroke=url(#c28) />
<path class=c d="M217 567L228 565M215 549L222 548M213 530L215 530"/>
<path d="M219.2 578.1l9.2 2 3.4-3.8z" fill=#a2ff00 stroke=#a2ff00 />
<path d="M134.5 578.5l15.3 2.4 2.5-3.1z" fill=#95ff00 stroke=#95ff00 />
<path d="M323.6 583.1l20.7-3.7-9.7-2.2z" fill=#8fff00 stroke=#8fff00 />
<path d="M303.6 585.1l6.5-4.4 14.9-4.6z" fill=#86ff00 stroke=#86ff00 />
<path d="M141.3 581.7l-4.2-3.1-13.3 4.6z" fill=#7eff00 stroke=#7eff00 />
<path d="M205.8 577.7l5.1-1.1-24.4 7.4z" fill=#9bff00 stroke=#9bff00 />
<path d="M310.1 580.7l0.2 1.8 14.7-6.4z" fill=#99ff00 stroke=#99ff00 />
<path d="M291.9 579.7l-19.1 2.4 20.8 2.5z" fill=#74ff00 stroke=#74ff00 />
<path d="M167.8 580.5l19.7-3.1-32.2 7.5z" fill=#84ff00 stroke=#84ff00 />
<path d="M212.5 521.6l6.7 56.5 12.6-1.8z" fill=url(#c29) stroke=url(#c29) />
<path class=c d="M218 570L228 565M216 550L222 548M214 531L215 530"/>
<path d="M251.3 579.8l-2-3.1-12.5 5.4z" fill=#9dff00 stroke=#9dff00 />
<path d="M205.8 577.7l6.7-56.1 5.1 58.3z" fill=url(#c30) stroke=url(#c30) />
<path class=c d="M207 568L217 567M209 549L215 549M211 530L213 530"/>
<path d="M167.8 580.5l5.6-18.2 27.1 12.5z" fill=url(#c31) stroke=url(#c31) />
<path class=c d="M171 571L186 568"/>
<path d="M249.3 576.7l-20.9 3.4 8.4 2z" fill=#9fff00 stroke=#9fff00 />
<path d="M149.8 580.9l-6.6-34.6 22.3 30.7z" fill=url(#c32) stroke=url(#c32) />
<path class=c d="M148 570L158 567M144 552L147 551"/>
<path d="M310.3 582.5l13.3 0.6 11-5.9z" fill=#94ff00 stroke=#94ff00 />
<path d="M344.3 579.4l-4.7 3.7 14.5-3.5z" fill=#9aff00 stroke=#9aff00 />
<path d="M134.5 578.5l6.8 3.2-17.5 1.5z" fill=#93ff00 stroke=#93ff00 />
<path d="M339.6 583.1l4.7-3.7-20.7 3.7z" fill=#8fff00 stroke=#8fff00 />
<path d="M165.5 577l-22.3-30.7 12.1 38.6z" fill=url(#c33) stroke=url(#c33) />
<path class=c d="M158 567L151 572M147 551L145 552"/>
<path d="M228.4 580.1l-9.2-2-5.1 7.1z" fill=#9aff00 stroke=#9aff00 />
<path d="M205.8 577.7l1.6 4.5 5.1-60.6z" fill=url(#c34) stroke=url(#c34) />
<path class=c d="M208 570L207 568M210 551L209 549M212 531L211 530"/>
<path d="M207.4 582.2l-1.6-4.5-19.3 6.3z" fill=#99ff00 stroke=#99ff00 />
<path d="M210.9 576.6l-37.5-14.3 13.1 21.7z" fill=url(#c35) stroke=url(#c35) />
<path class=c d="M191 569L179 572"/>
<path d="M219.2 578.1l-11.8 4.1 6.7 3z" fill=#95ff00 stroke=#95ff00 />
<path d="M291.2 583.8l12.4 1.3-10-0.5z" fill=#6eff00 stroke=#6eff00 />
<path d="M251.3 579.8l-7.6 3.6 18.6-3.4z" fill=#a2ff00 stroke=#a2ff00 />
<path d="M212.5 521.6l-5.1 60.6 11.8-4.1z" fill=url(#c36) stroke=url(#c36) />
<path class=c d="M208 570L218 570M210 551L216 550M212 531L214 531"/>
<path d="M310.1 580.7l-6.5 4.4-5.1-1.7z" fill=#8bff00 stroke=#8bff00 />
<path d="M262.3 580l-18.6 3.4 29.1-1.3z" fill=#9eff00 stroke=#9eff00 />
<path d="M310.3 582.5l-0.2-1.8-11.6 2.7z" fill=#9eff00 stroke=#9eff00 />
<path d="M354.1 579.6l-8.7 3.8 18.6-1.1z" fill=#a5ff00 stroke=#a5ff00 />
<path d="M149.8 580.9l-15.3-2.4-14.1 11.3z" fill=#8fff00 stroke=#8fff00 />
<path d="M150.7 584.3l17.1-3.8-12.5 4.4z" fill=#90ff00 stroke=#90ff00 />
<path d="M345.4 583.4l17.6 11.1 1-12.2z" fill=url(#c37) stroke=url(#c37) />
<path class=c d="M358 592L363 591"/>
<path d="M339.6 583.1l5.8 0.3 8.7-3.8z" fill=#a9ff00 stroke=#a9ff00 />
<path d="M303.6 585.1l-12.4-1.3 7.3-0.4z" fill=#89ff00 stroke=#89ff00 />
<path d="M228.4 580.1l-14.3 5.1-1.8 0.9z" fill=#8eff00 stroke=#8eff00 />
<path d="M243.7 583.4l7.6-3.6-14.5 2.3z" fill=#aeff00 stroke=#aeff00 />
<path d="M173.4 562.3l-5.6 18.2-4.9 3.2z" fill=url(#c38) stroke=url(#c38) />
<path class=c d="M171 571L169 572"/>
<path d="M167.8 580.5l-18.4 7.6 13.5-4.4z" fill=#8bff00 stroke=#8bff00 />
<path d="M151.8 585.5l-1.1-1.2 4.6 0.6z" fill=#7fff00 stroke=#7fff00 />
<path d="M207.4 582.2l-15.3 4.2 22-1.2z" fill=#87ff00 stroke=#87ff00 />
<path d="M311.9 582.9l11.7 0.2-13.3-0.6z" fill=#a3ff00 stroke=#a3ff00 />
<path d="M272.8 582.1l-6.6 6.9 27.4-4.4z" fill=#7fff00 stroke=#7fff00 />
<path d="M149.4 588.1l18.4-7.6-17.1 3.8z" fill=#8cff00 stroke=#8cff00 />
<path d="M311.9 582.9l27.7 0.2-16 0z" fill=#a3ff00 stroke=#a3ff00 />
<path d="M136.5 582.8l15.3 2.7 3.5-0.6z" fill=#8dff00 stroke=#8dff00 />
<path d="M120.4 589.8l14.1-11.3-10.7 4.7z" fill=#96ff00 stroke=#96ff00 />
<path d="M143.2 546.3l6.6 34.6-29.4 8.9z" fill=url(#c39) stroke=url(#c39) />
<path class=c d="M148 570L129 574M144 552L140 553"/>
<path d="M228.4 580.1l-16.2 10 24.6-8z" fill=#95ff00 stroke=#95ff00 />
<path d="M192.1 586.4l15.3-4.2-20.9 1.8z" fill=#92ff00 stroke=#92ff00 />
<path d="M266.2 589l25-5.2 2.4 0.8z" fill=#81ff00 stroke=#81ff00 />
<path d="M143.2 546.3l-6.7 36.5 18.8 2.1z" fill=url(#c40) stroke=url(#c40) />
<path class=c d="M138 574L151 572M142 553L145 552"/>
<path d="M150.7 584.3l1.1 1.2-15.3-2.7z" fill=#99ff00 stroke=#99ff00 />
<path d="M363 594.5l-17.6-11.1 10.6 24.4z" fill=url(#c41) stroke=url(#c41) />
<path class=c d="M358 592L351 595"/>
<path d="M212.2 590.1l16.2-10-16.1 6z" fill=#8dff00 stroke=#8dff00 />
<path d="M149.4 588.1l-4.2 0.7 17.7-5.1z" fill=#78ff00 stroke=#78ff00 />
<path d="M291.2 583.8l-3.1 4 10.4-4.4z" fill=#98ff00 stroke=#98ff00 />
<path d="M173.4 562.3l-8.7 27.1 21.8-5.4z" fill=url(#c42) stroke=url(#c42) />
<path class=c d="M170 574L179 572"/>
<path d="M305.2 526.1l5.1 56.4-11.8 0.9z" fill=url(#c43) stroke=url(#c43) />
<path class=c d="M309 572L300 573M308 553L302 554M306 535L304 535"/>
<path d="M112.6 582.9l7.8 6.9 3.4-6.6z" fill=#96ff00 stroke=#96ff00 />
<path d="M141.4 589.5l8-1.4 1.3-3.8z" fill=#7aff00 stroke=#7aff00 />
<path d="M157 554l16.4 8.3-10.5 21.4z" fill=url(#c44) stroke=url(#c44) />
<path class=c d="M169 572L161 573M159 555L157 555"/>
<path d="M243.7 583.4l7.3 4.2 21.8-5.5z" fill=#a9ff00 stroke=#a9ff00 />
<path d="M141.4 589.5l9.3-5.2-14.2-1.5z" fill=#98ff00 stroke=#98ff00 />
<path d="M311.9 582.9l-5.2 8.6 32.9-8.4z" fill=#96ff00 stroke=#96ff00 />
<path d="M179.5 588.5l12.6-2.1-5.6-2.4z" fill=#8fff00 stroke=#8fff00 />
<path d="M143.2 546.3l-22.8 43.5 16.1-7z" fill=url(#c45) stroke=url(#c45) />
<path class=c d="M129 574L138 574M140 553L142 553"/>
<path d="M311.9 582.9l-1.6-0.4-5.1-56.4z" fill=url(#c46) stroke=url(#c46) />
<path class=c d="M309 572L311 575M308 553L309 555M306 535L306 535"/>
<path d="M145.2 588.8l11.8-34.8 5.9 29.7z" fill=url(#c47) stroke=url(#c47) />
<path class=c d="M150 575L161 573M156 556L157 555"/>
<path d="M149.4 588.1l-8 1.4 3.8-0.7z" fill=#6eff00 stroke=#6eff00 />
<path d="M212.2 590.1l5.7-1.6 18.9-6.4z" fill=#90ff00 stroke=#90ff00 />
<path d="M214.1 585.2l-22 1.2-5.6 4.3z" fill=#89ff00 stroke=#89ff00 />
<path d="M345.4 583.4l-5.8-0.3-22 9.1z" fill=#9eff00 stroke=#9eff00 />
<path d="M214.1 585.2l-27.6 5.5 25.8-4.6z" fill=#8bff00 stroke=#8bff00 />
<path d="M164.7 589.4l8.7-27.1-16.4-8.3z" fill=url(#c48) stroke=url(#c48) />
<path class=c d="M170 574L162 576M159 555L157 556"/>
<path d="M217.9 588.5l2.6 2.1 16.3-8.5z" fill=#91ff00 stroke=#91ff00 />
<path d="M272.8 582.1l-21.8 5.5 15.2 1.4z" fill=#9fff00 stroke=#9fff00 />
<path d="M186.5 584l-21.8 5.4 4.8-2z" fill=#93ff00 stroke=#93ff00 />
<path d="M243.7 583.4l-6.9-1.3-17.6 11.4z" fill=#9fff00 stroke=#9fff00 />
<path d="M288.1 587.8l3.1-4-25 5.2z" fill=#97ff00 stroke=#97ff00 />
<path d="M288.1 587.8l17.1-61.7-6.7 57.3z" fill=url(#c49) stroke=url(#c49) />
<path class=c d="M291 576L300 573M297 556L302 554M303 536L304 535"/>
<path d="M179.5 588.5l7-4.5-17 3.4z" fill=#99ff00 stroke=#99ff00 />
<path d="M306.7 591.5l5.2-8.6-11.8 1.4z" fill=#a4ff00 stroke=#a4ff00 />
<path d="M120.4 589.8l-7.8-6.9-5.8 3.2z" fill=#a2ff00 stroke=#a2ff00 />
<path d="M339.6 583.1l-32.9 8.4 10.9 0.7z" fill=#80ff00 stroke=#80ff00 />
<path d="M192.1 586.4l-12.6 2.1 5.7-3.7z" fill=#a2ff00 stroke=#a2ff00 />
<path d="M145.2 588.8l-3.8 0.7 9.7-4z" fill=#8eff00 stroke=#8eff00 />
<path d="M236.8 582.1l-16.3 8.5-1.3 2.9z" fill=#85ff00 stroke=#85ff00 />
<path d="M300.1 584.3l11.8-1.4-6.7-56.8z" fill=url(#c50) stroke=url(#c50) />
<path class=c d="M311 575L301 576M309 555L303 556M306 535L304 535"/>
<path d="M207.8 591.3l4.4-1.2 0.1-4z" fill=#7fff00 stroke=#7fff00 />
<path d="M122.1 589.2l19.3 0.3-4.9-6.7z" fill=#9fff00 stroke=#9fff00 />
<path d="M145.2 588.8l5.9-3.3 5.9-31.5z" fill=url(#c51) stroke=url(#c51) />
<path class=c d="M153 577L150 575M157 556L156 556"/>
<path d="M288.1 587.8l12-3.5 5.1-58.2z" fill=url(#c52) stroke=url(#c52) />
<path class=c d="M301 576L291 576M303 556L297 556M304 535L303 536"/>
<path d="M151.1 585.5l13.6 3.9-7.7-35.4z" fill=url(#c53) stroke=url(#c53) />
<path class=c d="M162 576L153 577M157 556L157 556"/>
<path d="M212.2 590.1l-4.4 1.2 10.1-2.8z" fill=#7bff00 stroke=#7bff00 />
<path d="M345.4 583.4l-18.4 9 29 15.4z" fill=url(#c54) stroke=url(#c54) />
<path class=c d="M339 599L351 595"/>
<path d="M179.5 588.5l-4.4 3.4 10.1-7.1z" fill=#94ff00 stroke=#94ff00 />
<path d="M120.4 589.8l-5.9-46.4 22 39.4z" fill=url(#c55) stroke=url(#c55) />
<path class=c d="M119 576L132 575M116 558L122 557"/>
<path d="M164.7 589.4l-13.6-3.9 7.7 4.3z" fill=#99ff00 stroke=#99ff00 />
<path d="M175.1 591.9l4.4-3.4-10-1.1z" fill=#8dff00 stroke=#8dff00 />
<path d="M169.5 587.4l-4.8 2-5.9 0.4z" fill=#93ff00 stroke=#93ff00 />
<path d="M306.7 591.5l-6.6-7.2-12.8 11.2z" fill=#84ff00 stroke=#84ff00 />
<path d="M273.9 591.2l26.2-6.9-12 3.5z" fill=#abff00 stroke=#abff00 />
<path d="M95.4 610.9l25-21.1-13.6-3.7z" fill=url(#c56) stroke=url(#c56) />
<path class=c d="M111 598L101 599"/>
<path d="M243.7 583.4l-24.1 9.5 31.4-5.3z" fill=#aeff00 stroke=#aeff00 />
<path d="M192.1 586.4l-6.9-1.6-4.4-45.4z" fill=url(#c57) stroke=url(#c57) />
<path class=c d="M184 577L190 576M183 558L185 558M181 539L181 539"/>
<path d="M327 592.4l18.4-9-27.8 8.8z" fill=#9dff00 stroke=#9dff00 />
<path d="M114.5 543.4l7.6 45.8 14.4-6.4z" fill=url(#c58) stroke=url(#c58) />
<path class=c d="M120 579L132 575M117 559L122 557"/>
<path d="M273.9 591.2l14.2-3.4-21.9 1.2z" fill=#9fff00 stroke=#9fff00 />
<path d="M219.6 592.9l24.1-9.5-24.5 10.1z" fill=#97ff00 stroke=#97ff00 />
<path d="M213.5 539.4l7 51.2-2.6-2.1z" fill=url(#c59) stroke=url(#c59) />
<path class=c d="M219 577L217 577M216 558L215 558M214 539L214 539"/>
<path d="M185.2 584.8l-10.1 7.1-3.6 1.4z" fill=#95ff00 stroke=#95ff00 />
<path d="M151.1 585.5l-9.7 4-20-15.4z" fill=url(#c60) stroke=url(#c60) />
<path class=c d="M129 580L136 580"/>
<path d="M180.9 582.4l26.9 8.9 4.5-5.2z" fill=url(#c61) stroke=url(#c61) />
<path class=c d="M182 583L182 583"/>
<path d="M90.7 607.9l4.7 3 11.4-24.8z" fill=url(#c62) stroke=url(#c62) />
<path class=c d="M101 599L98 598"/>
<path d="M186.5 590.7l5.6-4.3-11.3-47z" fill=url(#c63) stroke=url(#c63) />
<path class=c d="M190 576L185 579M185 558L183 559M181 539L181 539"/>
<path d="M207.8 591.3l5.7-51.9 4.4 49.1z" fill=url(#c64) stroke=url(#c64) />
<path class=c d="M209 578L217 577M211 559L215 558M213 539L214 539"/>
<path d="M356 607.8l-3.7-34-3.5 46.3z" fill=url(#c65) stroke=url(#c65) />
<path class=c d="M355 597L350 601M353 579L352 580"/>
<path d="M114.5 543.4l5.9 46.4-25 21.1z" fill=url(#c66) stroke=url(#c66) />
<path class=c d="M111 598L98 601M119 576L104 580M116 558L110 560"/>
<path d="M186.5 590.7l-5.6-8.3 31.4 3.7z" fill=url(#c67) stroke=url(#c67) />
<path class=c d="M181 583L182 583"/>
<path d="M141.4 589.5l-19.3-0.3-0.7-15.1z" fill=url(#c68) stroke=url(#c68) />
<path class=c d="M122 581L129 580"/>
<path d="M220.5 590.6l-7-51.2 5.7 54.1z" fill=url(#c69) stroke=url(#c69) />
<path class=c d="M219 577L218 579M216 558L216 559M214 539L214 539"/>
<path d="M306.7 591.5l-7.9 3.9 18.8-3.2z" fill=#77ff00 stroke=#77ff00 />
<path d="M151.1 585.5l-11.1 6.9 18.8-2.6z" fill=#adff00 stroke=#adff00 />
<path d="M287.3 595.5l12.8-11.2-27.2 12.7z" fill=#88ff00 stroke=#88ff00 />
<path d="M300.1 584.3l-26.2 6.9-1 5.8z" fill=#9fff00 stroke=#9fff00 />
<path d="M185.2 584.8l-13.7 8.5 9.3-53.9z" fill=url(#c70) stroke=url(#c70) />
<path class=c d="M174 581L184 577M177 560L183 558M181 539L181 539"/>
<path d="M209.1 595.1l5.7-0.8 4.4-0.8z" fill=#6eff00 stroke=#6eff00 />
<path d="M122.1 589.2l-7.6-45.8-5.8 51.3z" fill=url(#c71) stroke=url(#c71) />
<path class=c d="M120 579L110 580M117 559L113 559"/>
<path d="M186.5 590.7l-10.1 1.7 5.7-1.4z" fill=#9dff00 stroke=#9dff00 />
<path d="M213.5 539.4l-4.4 55.7 10.1-1.6z" fill=url(#c72) stroke=url(#c72) />
<path class=c d="M210 580L218 579M212 560L216 559M213 539L214 539"/>
<path d="M306.7 591.5l-19.4 4-1-2.8z" fill=#86ff00 stroke=#86ff00 />
<path d="M213.5 539.4l-5.7 51.9-12.5-0.1z" fill=url(#c73) stroke=url(#c73) />
<path class=c d="M209 578L199 581M211 559L206 560M213 539L213 539"/>
<path d="M175.1 591.9l-5.6-4.5-24.9 10.3z" fill=#92ff00 stroke=#92ff00 />
<path d="M214.8 594.3l4.8-1.4-0.4 0.6z" fill=#82ff00 stroke=#82ff00 />
<path d="M176.4 592.4l10.1-1.7-5.7-51.3z" fill=url(#c74) stroke=url(#c74) />
<path class=c d="M185 579L177 580M183 559L179 560M181 539L181 539"/>
<path d="M144.6 597.7l24.9-10.3-10.7 2.4z" fill=#9eff00 stroke=#9eff00 />
<path d="M266.2 589l-15.2-1.4-20.4-2.3z" fill=url(#c75) stroke=url(#c75) />
<path class=c d="M232 585L233 585"/>
<path d="M108.7 594.7l5.8-51.3-19.1 67.5z" fill=url(#c76) stroke=url(#c76) />
<path class=c d="M98 601L104 601M110 580L104 580M113 559L110 560"/>
<path d="M352.3 573.8l3.7 34-23.7-25.3z" fill=url(#c77) stroke=url(#c77) />
<path class=c d="M355 597L348 599M353 579L335 585"/>
<path d="M356 607.8l-29-15.4 5.3-9.9z" fill=url(#c78) stroke=url(#c78) />
<path class=c d="M339 599L348 599M331 585L335 585"/>
<path d="M207.8 591.3l-26.9-8.9 14.4 8.8z" fill=url(#c79) stroke=url(#c79) />
<path class=c d="M182 583L181 583"/>
<path d="M122.1 589.2l-13.4 5.5-8.5 19.8z" fill=url(#c80) stroke=url(#c80) />
<path class=c d="M106 602L111 602"/>
<path d="M298.8 595.4l7.9-3.9-20.4 1.2z" fill=#8fff00 stroke=#8fff00 />
<path d="M171.5 593.3l4.9-0.9 4.4-53z" fill=url(#c81) stroke=url(#c81) />
<path class=c d="M177 580L174 581M179 560L177 560M181 539L181 539"/>
<path d="M122.1 589.2l-5.8 3.3 5.1-18.4z" fill=url(#c82) stroke=url(#c82) />
<path class=c d="M119 582L122 581"/>
<path d="M251 596.8l22.9-5.6-7.7-2.2z" fill=#9dff00 stroke=#9dff00 />
<path d="M180.9 582.4l5.6 8.3-4.4 0.3z" fill=url(#c83) stroke=url(#c83) />
<path class=c d="M181 583L181 583"/>
<path d="M209.1 595.1l4.4-55.7-18.2 51.8z" fill=url(#c84) stroke=url(#c84) />
<path class=c d="M210 580L199 581M212 560L206 560M213 539L213 539"/>
<path d="M209.1 595.1l-13.8-3.9 5.7 6.4z" fill=#7dff00 stroke=#7dff00 />
<path d="M116.3 592.5l5.8-3.3-21.9 25.3z" fill=url(#c85) stroke=url(#c85) />
<path class=c d="M111 602L109 603"/>
<path d="M171.5 593.3l3.6-1.4-30.5 5.8z" fill=#83ff00 stroke=#83ff00 />
<path d="M100.2 614.5l8.5-19.8-13.3 16.2z" fill=url(#c86) stroke=url(#c86) />
<path class=c d="M106 602L104 601"/>
<path d="M251 587.6l-31.4 5.3 11-7.6z" fill=url(#c87) stroke=url(#c87) />
<path class=c d="M230 586L232 585"/>
<path d="M140 592.4l11.1-6.9-46.1 29.7z" fill=url(#c88) stroke=url(#c88) />
<path class=c d="M123 604L120 606"/>
<path d="M140 592.4l4.6 5.3 14.2-7.9z" fill=#9cff00 stroke=#9cff00 />
<path d="M151.1 585.5l-29.7-11.4-16.4 41.1z" fill=url(#c89) stroke=url(#c89) />
<path class=c d="M108 607L123 604M136 580L118 583"/>
<path d="M278.5 599.1l8.8-3.6-14.4 1.5z" fill=#69ff00 stroke=#69ff00 />
<path d="M201 597.6l-5.7-6.4-4.4 5.3z" fill=#86ff00 stroke=#86ff00 />
<path d="M301.5 598l25.5-5.6-9.4-0.2z" fill=#97ff00 stroke=#97ff00 />
<path d="M202.3 594.9l17.3-2-4.8 1.4z" fill=#99ff00 stroke=#99ff00 />
<path d="M352.3 573.8l-20 8.7 16.5 37.6z" fill=url(#c90) stroke=url(#c90) />
<path class=c d="M342 604L350 601M334 586L352 580"/>
<path d="M195.3 591.2l-14.4-8.8 10 14.1z" fill=url(#c91) stroke=url(#c91) />
<path class=c d="M181 583L181 583"/>
<path d="M214.8 594.3l-5.7 0.8-12.5-50.7z" fill=url(#c92) stroke=url(#c92) />
<path class=c d="M206 581L210 582M201 563L203 563M197 544L197 544"/>
<path d="M251 596.8l15.2-7.8-35.6-3.7z" fill=url(#c93) stroke=url(#c93) />
<path class=c d="M233 585L232 586"/>
<path d="M176.4 592.4l-4.9 0.9-20.3 8.4z" fill=#87ff00 stroke=#87ff00 />
<path d="M287.3 595.5l-8.8 3.6 7.8-6.4z" fill=#89ff00 stroke=#89ff00 />
<path d="M176.4 592.4l-25.2 9.3 30.9-10.7z" fill=#94ff00 stroke=#94ff00 />
<path d="M209.1 595.1l-8.1 2.5-4.4-53.2z" fill=url(#c94) stroke=url(#c94) />
<path class=c d="M200 583L206 581M198 564L201 563M197 544L197 544"/>
<path d="M298.8 595.4l-8.8-40 27.6 36.8z" fill=url(#c95) stroke=url(#c95) />
<path class=c d="M296 584L310 581M292 565L297 565"/>
<path d="M121.4 574.1l-5.1 18.4-11.3 22.7z" fill=url(#c96) stroke=url(#c96) />
<path class=c d="M110 605L108 607M119 582L118 583"/>
<path d="M116.3 592.5l-16.1 22 4.8 0.7z" fill=url(#c97) stroke=url(#c97) />
<path class=c d="M109 603L110 605"/>
<path d="M273.9 591.2l-18.9 10.1 17.9-4.3z" fill=#8aff00 stroke=#8aff00 />
<path d="M348.8 620.1l-7.1-38.5-0.3 51.1z" fill=url(#c98) stroke=url(#c98) />
<path class=c d="M341 628L346 624M346 604L342 607M342 585L342 586"/>
<path d="M151.2 601.7l29.7-19.3 1.2 8.6z" fill=url(#c99) stroke=url(#c99) />
<path class=c d="M180 583L181 583"/>
<path d="M262.6 598.7l15.9 0.4-5.6-2.1z" fill=#77ff00 stroke=#77ff00 />
<path d="M201 597.6l-10.1-1.1 5.7-52.1z" fill=url(#c100) stroke=url(#c100) />
<path class=c d="M192 584L200 583M194 564L198 564M197 544L197 544"/>
<path d="M198 601.4l21.6-8.5-17.3 2z" fill=#93ff00 stroke=#93ff00 />
<path d="M332.3 582.5l9.4-0.9 7.1 38.5z" fill=url(#c101) stroke=url(#c101) />
<path class=c d="M346 604L342 604M342 585L334 586"/>
<path d="M190.9 596.5l-10-14.1-11.6 18z" fill=url(#c102) stroke=url(#c102) />
<path class=c d="M181 583L181 583"/>
<path d="M202.3 594.9l12.5-0.6-18.2-49.9z" fill=url(#c103) stroke=url(#c103) />
<path class=c d="M210 582L201 585M203 563L199 565M197 544L197 544"/>
<path d="M273.9 591.2l-22.9 5.6 4 4.5z" fill=#96ff00 stroke=#96ff00 />
<path d="M290 555.4l11.5 42.6 16.1-5.8z" fill=url(#c104) stroke=url(#c104) />
<path class=c d="M299 588L310 581M293 567L297 565"/>
<path d="M145.9 597.5l25.6-4.2-26.9 4.4z" fill=#a1ff00 stroke=#a1ff00 />
<path d="M290 555.4l8.8 40-12.5-2.7z" fill=url(#c105) stroke=url(#c105) />
<path class=c d="M296 584L287 585M292 565L289 566"/>
<path d="M219.6 592.9l3.1 5.2 7.9-12.8z" fill=url(#c106) stroke=url(#c106) />
<path class=c d="M230 586L230 586"/>
<path d="M219.6 592.9l-21.6 8.5-4.2-3.1z" fill=#94ff00 stroke=#94ff00 />
<path d="M190.9 596.5l1.3-1 4.4-51.1z" fill=url(#c107) stroke=url(#c107) />
<path class=c d="M193 586L192 584M195 565L194 564M197 544L197 544"/>
<path d="M255 601.3l7.6-2.6 10.3-1.7z" fill=#82ff00 stroke=#82ff00 />
<path d="M327 592.4l-11.8 9 17.1-18.9z" fill=url(#c108) stroke=url(#c108) />
<path class=c d="M328 587L331 585"/>
<path d="M192.2 595.5l5.8 5.9 4.3-6.5z" fill=#9cff00 stroke=#9cff00 />
<path d="M171.5 593.3l-25.6 4.2 5.3 4.2z" fill=#9aff00 stroke=#9aff00 />
<path d="M327 592.4l-25.5 5.6 2.5-18.8z" fill=url(#c109) stroke=url(#c109) />
<path class=c d="M303 588L314 585"/>
<path d="M222.7 598.1l-3.1-5.2-25.8 5.4z" fill=#aaff00 stroke=#aaff00 />
<path d="M180.9 582.4l-29.7 19.3 18.1-1.3z" fill=url(#c110) stroke=url(#c110) />
<path class=c d="M180 583L181 583"/>
<path d="M110 620.1l30-27.7-35 22.8z" fill=url(#c111) stroke=url(#c111) />
<path class=c d="M124 607L120 606"/>
<path d="M140 592.4l-18 10.3 22.6-5z" fill=#9dff00 stroke=#9dff00 />
<path d="M192.2 595.5l10.1-0.6-5.7-50.5z" fill=url(#c112) stroke=url(#c112) />
<path class=c d="M201 585L193 586M199 565L195 565M197 544L197 544"/>
<path d="M192.2 595.5l-1.3 1-22.6 2.2z" fill=#a9ff00 stroke=#a9ff00 />
<path d="M190.9 596.5l-21.6 3.9-1-1.7z" fill=#95ff00 stroke=#95ff00 />
<path d="M278.5 599.1l-2.5-46.1 10.3 39.7z" fill=url(#c113) stroke=url(#c113) />
<path class=c d="M278 586L284 585M277 567L280 567"/>
<path d="M315.2 601.4l11.8-9-23-13.2z" fill=url(#c114) stroke=url(#c114) />
<path class=c d="M314 585L309 590"/>
<path d="M198 601.4l-5.8-5.9 1.6 2.8z" fill=#9dff00 stroke=#9dff00 />
<path d="M122 602.7l18-10.3-30 27.7z" fill=url(#c115) stroke=url(#c115) />
<path class=c d="M124 607L116 611"/>
<path d="M276 553l2.5 46.1-15.9-0.4z" fill=url(#c116) stroke=url(#c116) />
<path class=c d="M278 586L266 587M277 567L272 568"/>
<path d="M226.9 584.2l24.1 12.6-20.4-11.5z" fill=url(#c117) stroke=url(#c117) />
<path class=c d="M236 589L232 586"/>
<path d="M341.7 581.6l-21.9 26.3 21.6 24.8z" fill=url(#c118) stroke=url(#c118) />
<path class=c d="M338 629L341 628M324 613L342 607M337 588L342 586"/>
<path d="M276 553l14 2.4-3.7 37.3z" fill=url(#c119) stroke=url(#c119) />
<path class=c d="M287 585L284 585M289 566L280 567"/>
<path d="M319.8 607.9l21.9-26.3-9.4 0.9z" fill=url(#c120) stroke=url(#c120) />
<path class=c d="M337 588L330 588"/>
<path d="M251 596.8l-17.3-5.9 21.3 10.4z" fill=url(#c121) stroke=url(#c121) />
<path class=c d="M236 592L237 592"/>
<path d="M192.2 595.5l-8.6 5.1 10.2-2.3z" fill=#bbff00 stroke=#bbff00 />
<path d="M222.7 598.1l4.2-13.9 3.7 1.1z" fill=url(#c122) stroke=url(#c122) />
<path class=c d="M225 590L230 586"/>
<path d="M289.4 599.1l12.1-1.1-11.5-42.6z" fill=url(#c123) stroke=url(#c123) />
<path class=c d="M299 588L290 590M293 567L290 568"/>
<path d="M115.1 622.8l30.8-25.3-1.3 0.2z" fill=url(#c124) stroke=url(#c124) />
<path class=c d="M128 613L129 611"/>
<path d="M169.3 600.4l-6.1 3.4 5.1-5.1z" fill=#98ff00 stroke=#98ff00 />
<path d="M301.5 598l-8.9 7.9 11.4-26.7z" fill=url(#c125) stroke=url(#c125) />
<path class=c d="M299 590L303 588"/>
<path d="M183.6 600.6l39.1-2.5-28.9 0.2z" fill=#b8ff00 stroke=#b8ff00 />
<path d="M292.6 605.9l8.9-7.9-12.1 1.1z" fill=#9fff00 stroke=#9fff00 />
<path d="M289.4 599.1l0.6-43.7-8.8 43.1z" fill=url(#c126) stroke=url(#c126) />
<path class=c d="M290 590L283 589M290 568L288 567"/>
<path d="M151.2 601.7l-18.4 5.5 36.5-6.8z" fill=#81ff00 stroke=#81ff00 />
<path d="M315.2 601.4l-2.9-0.8 20-18.1z" fill=url(#c127) stroke=url(#c127) />
<path class=c d="M326 588L328 587"/>
<path d="M122 602.7l-6.9 20.1 29.5-25.1z" fill=url(#c128) stroke=url(#c128) />
<path class=c d="M118 613L129 611"/>
<path d="M156.6 607.2l35.6-11.7-23.9 3.2z" fill=#acff00 stroke=#acff00 />
<path d="M226.9 584.2l6.8 6.7 17.3 5.9z" fill=url(#c129) stroke=url(#c129) />
<path class=c d="M236 592L236 589"/>
<path d="M290 555.4l-14-2.4 5.2 45.5z" fill=url(#c130) stroke=url(#c130) />
<path class=c d="M280 590L283 589M278 569L288 567"/>
<path d="M145.9 597.5l-13.1 9.7 18.4-5.5z" fill=#99ff00 stroke=#99ff00 />
<path d="M312.3 600.6l7.5 7.3 12.5-25.4z" fill=url(#c131) stroke=url(#c131) />
<path class=c d="M330 588L326 588"/>
<path d="M132.8 607.2l30.4-3.4 6.1-3.4z" fill=#85ff00 stroke=#85ff00 />
<path d="M243.6 611.7l19-13-7.6 2.6z" fill=#88ff00 stroke=#88ff00 />
<path d="M115.1 622.8l6.9-20.1-12 17.4z" fill=url(#c132) stroke=url(#c132) />
<path class=c d="M118 613L116 611"/>
<path d="M321.6 609.1l12.1 37.9 7.7-14.3z" fill=url(#c133) stroke=url(#c133) />
<path class=c d="M330 636L339 630M324 617L327 615"/>
<path d="M211 606.1l15.9-21.9-4.2 13.9z" fill=url(#c134) stroke=url(#c134) />
<path class=c d="M221 592L225 590"/>
<path d="M276 553l-10.3 50.1 15.5-4.6z" fill=url(#c135) stroke=url(#c135) />
<path class=c d="M268 592L280 590M273 570L278 569"/>
<path d="M279.1 609.2l10.3-10.1-8.2-0.6z" fill=#a8ff00 stroke=#a8ff00 />
<path d="M183.6 600.6l8.6-5.1-31.5 13.1z" fill=#b1ff00 stroke=#b1ff00 />
<path d="M319.8 607.9l1.8 1.2 19.8 23.6z" fill=url(#c136) stroke=url(#c136) />
<path class=c d="M339 630L338 629M327 615L324 613"/>
<path d="M163.2 603.8l-6.6 3.4 11.7-8.5z" fill=#9dff00 stroke=#9dff00 />
<path d="M292.6 605.9l-3.2-6.8-10.3 10.1z" fill=#8aff00 stroke=#8aff00 />
<path d="M243.6 611.7l32.4-58.7-13.4 45.7z" fill=url(#c137) stroke=url(#c137) />
<path class=c d="M252 596L266 587M266 572L272 568"/>
<path d="M132.8 607.2l13.1-9.7-30.8 25.3z" fill=url(#c138) stroke=url(#c138) />
<path class=c d="M128 613L124 615"/>
<path d="M192.2 595.5l-35.6 11.7 4.1 1.4z" fill=#9dff00 stroke=#9dff00 />
<path d="M315.2 601.4l-11.2-22.2-15.6 33.2z" fill=url(#c139) stroke=url(#c139) />
<path class=c d="M309 590L298 593"/>
<path d="M304 579.2l-11.4 26.7-4.2 6.5z" fill=url(#c140) stroke=url(#c140) />
<path class=c d="M299 590L298 593"/>
<path d="M222.7 598.1l-39.1 2.5-11.7-16.6z" fill=url(#c141) stroke=url(#c141) />
<path class=c d="M179 594L200 592"/>
<path d="M150 654.3l6.6-47.1 6.6-3.4z" fill=url(#c142) stroke=url(#c142) />
<path class=c d="M152 637L155 635M155 615L161 613"/>
<path d="M211 606.1l11.7-8-35.5 14.5z" fill=#90ff00 stroke=#90ff00 />
<path d="M217.6 606.7l-11.8 1.1 6.7 78.2z" fill=url(#c143) stroke=url(#c143) />
<path class=c d="M212 677L213 677M210 657L214 656M208 636L216 636M207 616L217 615"/>
<path d="M211 606.1l6.6 0.6 9.3-22.5z" fill=url(#c144) stroke=url(#c144) />
<path class=c d="M223 593L221 592"/>
<path d="M312.3 600.6l2.9 0.8-26.8 11z" fill=#a0ff00 stroke=#a0ff00 />
<path d="M306.4 605.4l13.4 2.5-7.5-7.3z" fill=#a2ff00 stroke=#a2ff00 />
<path d="M226.9 584.2l-9.3 22.5 16.1-15.8z" fill=url(#c145) stroke=url(#c145) />
<path class=c d="M223 593L231 593"/>
<path d="M265.7 603.1l-12.5 6.3 28-10.9z" fill=#b1ff00 stroke=#b1ff00 />
<path d="M233.7 590.9l-12 21.3 33.3-10.9z" fill=url(#c146) stroke=url(#c146) />
<path class=c d="M232 594L237 592"/>
<path d="M219.2 610.2l-1.6-3.5-5.1 79.3z" fill=url(#c147) stroke=url(#c147) />
<path class=c d="M213 677L213 677M214 656L215 657M216 636L217 638M217 615L219 618"/>
<path d="M253.2 609.4l25.9-0.2 2.1-10.7z" fill=#9bff00 stroke=#9bff00 />
<path d="M292.6 605.9l-13.5 3.3 9.3 3.2z" fill=#6cff00 stroke=#6cff00 />
<path d="M265.7 603.1l10.3-50.1-32.4 58.7z" fill=url(#c148) stroke=url(#c148) />
<path class=c d="M268 592L252 596M273 570L266 572"/>
<path d="M217.6 606.7l-6.6-0.6-5.2 1.7z" fill=#8dff00 stroke=#8dff00 />
<path d="M132.8 607.2l-17.7 15.6 5.2 5.5z" fill=url(#c149) stroke=url(#c149) />
<path class=c d="M124 615L127 617"/>
<path d="M156.6 607.2l-6.6 47.1 10.7-45.7z" fill=url(#c150) stroke=url(#c150) />
<path class=c d="M152 637L154 637M155 615L159 617"/>
<path d="M306.4 605.4l5.9-4.8-23.9 11.8z" fill=#a1ff00 stroke=#a1ff00 />
<path d="M187.2 612.6l35.5-14.5-50.8-14.1z" fill=url(#c151) stroke=url(#c151) />
<path class=c d="M200 592L179 598"/>
<path d="M150 654.3l13.2-50.5-37.6 28z" fill=url(#c152) stroke=url(#c152) />
<path class=c d="M155 635L135 641M161 613L146 617"/>
<path d="M217.6 606.7l1.6 3.5 14.5-19.3z" fill=url(#c153) stroke=url(#c153) />
<path class=c d="M232 594L231 593"/>
<path d="M221.7 612.2l21.9-0.5 11.4-10.4z" fill=#86ff00 stroke=#86ff00 />
<path d="M163.2 603.8l-30.4 3.4-7.2 24.6z" fill=url(#c154) stroke=url(#c154) />
<path class=c d="M130 618L146 617"/>
<path d="M219.2 610.2l-6.7 75.8-5.1-75.3z" fill=url(#c155) stroke=url(#c155) />
<path class=c d="M213 677L212 677M215 657L211 658M217 638L209 638M219 618L208 619"/>
<path d="M306.4 605.4l7.6-41.2 5.8 43.7z" fill=url(#c156) stroke=url(#c156) />
<path class=c d="M308 595L318 594M312 575L315 575"/>
<path d="M315.8 610.8l17.9 36.2-12.1-37.9z" fill=url(#c157) stroke=url(#c157) />
<path class=c d="M328 637L330 636M320 619L324 617"/>
<path d="M183.6 600.6l-22.9 8 11.2-24.6z" fill=url(#c158) stroke=url(#c158) />
<path class=c d="M166 597L179 594"/>
<path d="M205.8 607.8l5.2-1.7-23.8 6.5z" fill=#86ff00 stroke=#86ff00 />
<path d="M212.5 686l-6.7-78.2-9-13.3z" fill=url(#c159) stroke=url(#c159) />
<path class=c d="M212 677L211 677M210 657L208 658M208 636L204 639M207 616L201 619M200 599L198 600"/>
<path d="M319.8 607.9l-5.8-43.7 7.6 44.9z" fill=url(#c160) stroke=url(#c160) />
<path class=c d="M318 594L320 597M315 575L316 576"/>
<path d="M253.2 609.4l12.5-6.3-22.1 8.6z" fill=#99ff00 stroke=#99ff00 />
<path d="M291.3 606.5l15.1-1.1-18 7z" fill=#a1ff00 stroke=#a1ff00 />
<path d="M233.7 590.9l-14.5 19.3 2.5 2z" fill=url(#c161) stroke=url(#c161) />
<path class=c d="M232 594L232 594"/>
<path d="M212.5 686l-15.7-91.5 10.6 16.2z" fill=url(#c162) stroke=url(#c162) />
<path class=c d="M211 677L212 677M208 658L211 658M204 639L209 638M201 619L208 619M198 600L200 600"/>
<path d="M125.6 631.8l7.2-24.6-12.5 21.1z" fill=url(#c163) stroke=url(#c163) />
<path class=c d="M130 618L127 617"/>
<path d="M306.4 605.4l-15.1 1.1 5.7 6.3z" fill=#a6ff00 stroke=#a6ff00 />
<path d="M333.7 647l-18-30.5 10 42.8z" fill=url(#c164) stroke=url(#c164) />
<path class=c d="M328 638L322 643M319 623L317 624"/>
<path d="M160.7 608.6l-10.7 45.7-13.3-43.6z" fill=url(#c165) stroke=url(#c165) />
<path class=c d="M154 637L145 639M159 617L140 621"/>
<path d="M314 564.2l-7.6 41.2-9.4 7.4z" fill=url(#c166) stroke=url(#c166) />
<path class=c d="M308 595L302 598M312 575L310 576"/>
<path d="M279.1 609.2l-16.3-7.5 25.6 10.7z" fill=url(#c167) stroke=url(#c167) />
<path d="M314 564.2l-5.8 44.2 13.4 0.7z" fill=url(#c168) stroke=url(#c168) />
<path class=c d="M310 598L320 597M312 576L316 576"/>
<path d="M315.7 616.5l18 30.5-17.9-36.2z" fill=url(#c169) stroke=url(#c169) />
<path class=c d="M328 638L328 637M319 623L320 619"/>
<path d="M308.2 608.4l7.6 2.4 5.8-1.7z" fill=#9fff00 stroke=#9fff00 />
<path d="M160.7 608.6l6.5 2.8 4.7-27.4z" fill=url(#c170) stroke=url(#c170) />
<path class=c d="M169 598L166 597"/>
<path d="M279.1 609.2l-25.9 0.2 9.6-7.7z" fill=url(#c171) stroke=url(#c171) />
<path d="M196.8 594.5l9 13.3-18.6 4.8z" fill=url(#c172) stroke=url(#c172) />
<path class=c d="M200 599L194 600"/>
<path d="M286.9 609.1l4.4-2.6-2.9 5.9z" fill=#a9ff00 stroke=#a9ff00 />
<path d="M167.2 611.4l20 1.2-15.3-28.6z" fill=url(#c173) stroke=url(#c173) />
<path class=c d="M179 598L169 598"/>
<path d="M308.2 608.4l5.8-44.2-10.9 48.3z" fill=url(#c174) stroke=url(#c174) />
<path class=c d="M310 598L306 598M312 576L311 576"/>
<path d="M221.7 612.2l-2.5-2-5.2-0.7z" fill=#98ff00 stroke=#98ff00 />
<path d="M207.8 609.8l11.4 0.4-11.8 0.5z" fill=#9eff00 stroke=#9eff00 />
<path d="M314 564.2l-17 48.6 6.1-0.3z" fill=url(#c175) stroke=url(#c175) />
<path class=c d="M302 598L306 598M310 576L311 576"/>
<path d="M160.1 611.5l7.1-0.1-6.5-2.8z" fill=#9dff00 stroke=#9dff00 />
<path d="M131.7 595.1l18.3 59.2-24.4-22.5z" fill=url(#c176) stroke=url(#c176) />
<path class=c d="M145 639L135 641M139 620L127 623M134 602L131 602"/>
<path d="M291.3 606.5l-4.4 2.6 10.1 3.7z" fill=#aeff00 stroke=#aeff00 />
<path d="M233.2 612.6l20-3.2-9.6 2.3z" fill=#95ff00 stroke=#95ff00 />
<path d="M219.2 610.2l-11.4-0.4 6.2-0.3z" fill=#a8ff00 stroke=#a8ff00 />
<path d="M279.4 611.8l7.5-2.7 1.5 3.3z" fill=#9aff00 stroke=#9aff00 />
<path d="M298.4 611.3l9.8-2.9-5.1 4.1z" fill=#a4ff00 stroke=#a4ff00 />
<path d="M221.7 612.2l11.5 0.4 10.4-0.9z" fill=#8fff00 stroke=#8fff00 />
<path d="M308.2 608.4l-9.8 2.9 17.4-0.5z" fill=#adff00 stroke=#adff00 />
<path d="M150 654.3l-18.3-59.2 5 15.6z" fill=url(#c177) stroke=url(#c177) />
<path class=c d="M145 639L145 639M139 620L140 621M134 602L134 602"/>
<path d="M262.8 601.7l16.6 10.1 9 0.6z" fill=url(#c178) stroke=url(#c178) />
<path d="M196.8 594.5l11 15.3-0.4 0.9z" fill=url(#c179) stroke=url(#c179) />
<path class=c d="M201 601L200 600"/>
<path d="M297 612.8l-4.4-34.4 10.5 34.1z" fill=url(#c180) stroke=url(#c180) />
<path class=c d="M295 600L299 600M293 580L293 580"/>
<path d="M167.2 611.4l-1.3 6.3 21.3-5.1z" fill=#85ff00 stroke=#85ff00 />
<path d="M221.7 612.2l-7.7-2.7-1.1 8.7z" fill=#8fff00 stroke=#8fff00 />
<path d="M286.9 609.1l5.7-30.7 4.4 34.4z" fill=url(#c181) stroke=url(#c181) />
<path class=c d="M289 600L295 600M292 580L293 580"/>
<path d="M160.1 611.5l0.6-2.9-29.7 28.5z" fill=url(#c182) stroke=url(#c182) />
<path class=c d="M147 622L145 624"/>
<path d="M160.7 608.6l-24 2.1-5.7 26.4z" fill=url(#c183) stroke=url(#c183) />
<path class=c d="M134 625L147 622"/>
<path d="M288.2 612.6l10.2-1.3 4.7 1.2z" fill=#a6ff00 stroke=#a6ff00 />
<path d="M175.5 616.3l21.3-21.8-9.6 18.1z" fill=url(#c184) stroke=url(#c184) />
<path class=c d="M190 602L194 600"/>
<path d="M315.7 616.5l1.8 57.7 8.2-14.9z" fill=url(#c185) stroke=url(#c185) />
<path class=c d="M317 670L322 666M317 648L322 643M316 625L317 624"/>
<path d="M233.2 612.6l-11.5-0.4-8.8 6z" fill=#89ff00 stroke=#89ff00 />
<path d="M167.2 611.4l-7.1 0.1 5.8 6.2z" fill=#97ff00 stroke=#97ff00 />
<path d="M292.6 578.4l-4.4 34.2 14.9-0.1z" fill=url(#c186) stroke=url(#c186) />
<path class=c d="M290 602L299 600M292 580L293 580"/>
<path d="M253.2 609.4l-16.7 6.5 26.3-14.2z" fill=url(#c187) stroke=url(#c187) />
<path d="M315.8 610.8l-17.4 0.5-3.3 3.6z" fill=#adff00 stroke=#adff00 />
<path d="M233.2 612.6l-8.8-20.7 28.8 17.5z" fill=url(#c188) stroke=url(#c188) />
<path class=c d="M229 603L240 601"/>
<path d="M292.6 578.4l-5.7 30.7 1.3 3.5z" fill=url(#c189) stroke=url(#c189) />
<path class=c d="M289 600L290 602M292 580L292 580"/>
<path d="M165.9 617.7l9.6-1.4 11.7-3.7z" fill=#83ff00 stroke=#83ff00 />
<path d="M214 609.5l-6.2 0.3-15.4 8.3z" fill=#b2ff00 stroke=#b2ff00 />
<path d="M207.8 609.8l-11-15.3-14 21.3z" fill=url(#c190) stroke=url(#c190) />
<path class=c d="M201 601L192 602"/>
<path d="M293.9 616.2l4.5-4.9-10.2 1.3z" fill=#a9ff00 stroke=#a9ff00 />
<path d="M131.7 595.1l-6.1 36.7 5.4 5.3z" fill=url(#c191) stroke=url(#c191) />
<path class=c d="M127 623L131 626M131 602L132 603"/>
<path d="M248 616.5l31.4-4.7-16.6-10.1z" fill=url(#c192) stroke=url(#c192) />
<path d="M214 609.5l-21.6 8.6 20.5 0.1z" fill=#96ff00 stroke=#96ff00 />
<path d="M298.4 611.3l-4.5 4.9 1.2-1.3z" fill=#a7ff00 stroke=#a7ff00 />
<path d="M196.8 594.5l-21.3 21.8 7.3-0.5z" fill=url(#c193) stroke=url(#c193) />
<path class=c d="M190 602L192 602"/>
<path d="M253.2 609.4l-28.8-17.5 12.1 24z" fill=url(#c194) stroke=url(#c194) />
<path class=c d="M240 601L231 605"/>
<path d="M136.7 610.7l-5-15.6-0.7 42z" fill=url(#c195) stroke=url(#c195) />
<path class=c d="M131 626L134 625M134 602L132 603"/>
<path d="M165.9 617.7l-5.8-6.2-6.2 1.6z" fill=#aaff00 stroke=#aaff00 />
<path d="M300.8 598l14.9 18.5 0.1-5.7z" fill=url(#c196) stroke=url(#c196) />
<path class=c d="M307 606L307 604"/>
<path d="M224.4 591.9l8.8 20.7-20.3 5.6z" fill=url(#c197) stroke=url(#c197) />
<path class=c d="M229 603L219 604"/>
<path d="M142.4 637.7l17.7-26.2-29.1 25.6z" fill=url(#c198) stroke=url(#c198) />
<path class=c d="M151 625L145 624"/>
<path d="M153.9 613.1l6.2-1.6-17.7 26.2z" fill=url(#c199) stroke=url(#c199) />
<path class=c d="M151 625L147 627"/>
<path d="M286.9 609.1l-7.5 2.7-28.7 15.1z" fill=#9aff00 stroke=#9aff00 />
<path d="M300.8 598l15 12.8-20.7 4.1z" fill=url(#c200) stroke=url(#c200) />
<path class=c d="M307 604L298 606"/>
<path d="M207.8 609.8l-25 6 9.6 2.3z" fill=#adff00 stroke=#adff00 />
<path d="M286.9 609.1l-17.8 13.7 19.1-10.2z" fill=#acff00 stroke=#acff00 />
<path d="M236.5 615.9l-0.6 4.2 26.9-18.4z" fill=url(#c201) stroke=url(#c201) />
<path d="M175.5 616.3l-9.6 1.4-12.1 20.6z" fill=url(#c202) stroke=url(#c202) />
<path class=c d="M160 627L165 627"/>
<path d="M235.9 620.1l12.1-3.6 14.8-14.8z" fill=url(#c203) stroke=url(#c203) />
<path d="M269.1 622.8l24.8-6.6-5.7-3.6z" fill=#9aff00 stroke=#9aff00 />
<path d="M192.4 618.1l6.6 19.7 13.9-19.6z" fill=url(#c204) stroke=url(#c204) />
<path class=c d="M196 628L207 626"/>
<path d="M315.7 616.5l-19.7 73.2 21.5-15.5z" fill=url(#c205) stroke=url(#c205) />
<path class=c d="M300 676L317 670M306 651L317 648M313 626L316 625"/>
<path d="M165.9 617.7l-12-4.6-0.1 25.2z" fill=url(#c206) stroke=url(#c206) />
<path class=c d="M154 628L160 627"/>
<path d="M175.5 616.3l-10.1 25 17.4-25.5z" fill=url(#c207) stroke=url(#c207) />
<path class=c d="M171 627L174 628"/>
<path d="M153.9 613.1l-11.5 24.6 11.4 0.6z" fill=url(#c208) stroke=url(#c208) />
<path class=c d="M147 627L154 628"/>
<path d="M293.9 616.2l-24.8 6.6 26-7.9z" fill=#98ff00 stroke=#98ff00 />
<path d="M199 637.8l10.2 3.9 3.7-23.5z" fill=url(#c209) stroke=url(#c209) />
<path class=c d="M212 627L207 626"/>
<path d="M209.2 641.7l15.2-49.8-11.5 26.3z" fill=url(#c210) stroke=url(#c210) />
<path class=c d="M213 630L212 627M220 607L219 604"/>
<path d="M279.4 611.8l-31.4 4.7 2.7 10.4z" fill=#97ff00 stroke=#97ff00 />
<path d="M165.4 641.3l10.1-25-21.7 22z" fill=url(#c211) stroke=url(#c211) />
<path class=c d="M171 627L165 627"/>
<path d="M231.8 619.8l4.1 0.3 0.6-4.2z" fill=#95ff00 stroke=#95ff00 />
<path d="M224.4 591.9l-8.8 30.7 20.9-6.7z" fill=url(#c212) stroke=url(#c212) />
<path class=c d="M220 607L231 605"/>
<path d="M286.9 609.1l-36.2 17.8 18.4-4.1z" fill=#94ff00 stroke=#94ff00 />
<path d="M315.7 616.5l-14.9-18.5-4.8 91.7z" fill=url(#c213) stroke=url(#c213) />
<path class=c d="M297 677L300 676M298 654L306 651M299 631L313 626M307 606L300 608"/>
<path d="M227.7 620.4l4.1-0.6 4.7-3.9z" fill=#9eff00 stroke=#9eff00 />
<path d="M192.4 618.1l-9.6-2.3-5.8 25.5z" fill=url(#c214) stroke=url(#c214) />
<path class=c d="M180 629L184 630"/>
<path d="M317.5 674.2l-21.5 15.5 13 0.2z" fill=#020fff stroke=#020fff />
<path d="M215.6 622.6l12.1-2.2 8.8-4.5z" fill=#95ff00 stroke=#95ff00 />
<path d="M199 637.8l-6.6-19.7-15.4 23.2z" fill=url(#c215) stroke=url(#c215) />
<path class=c d="M196 628L184 630"/>
<path d="M182.8 615.8l-17.4 25.5 11.6 0z" fill=url(#c216) stroke=url(#c216) />
<path class=c d="M174 628L180 629"/>
<path d="M227.1 620.5l20.9-4-12.1 3.6z" fill=#a3ff00 stroke=#a3ff00 />
<path d="M248 616.5l-20.9 4 12.1 44.5z" fill=url(#c217) stroke=url(#c217) />
<path class=c d="M236 652L242 651M230 631L246 629"/>
<path d="M215.6 622.6l8.8-30.7-15.2 49.8z" fill=url(#c218) stroke=url(#c218) />
<path class=c d="M213 630L213 630M220 607L220 607"/>
<path d="M231.8 619.8l-4.7 0.7 8.8-0.4z" fill=#97ff00 stroke=#97ff00 />
<path d="M250.7 626.9l-2.7-10.4-8.8 48.5z" fill=url(#c219) stroke=url(#c219) />
<path class=c d="M242 651L243 653M246 629L249 633"/>
<path d="M227.7 620.4l-12.1 2.2-6.4 19.1z" fill=url(#c220) stroke=url(#c220) />
<path class=c d="M213 630L219 631"/>
<path d="M231.8 619.8l-4.1 0.6-0.6 0.1z" fill=#a1ff00 stroke=#a1ff00 />
<path d="M239.2 665l-12.1-44.5-7.6 23.8z" fill=url(#c221) stroke=url(#c221) />
<path class=c d="M236 652L229 654M230 631L223 633"/>
<path d="M227.7 620.4l-18.5 21.3 10.3 2.6z" fill=url(#c222) stroke=url(#c222) />
<path class=c d="M219 631L224 632"/>
<path d="M300.8 598l-5.7 16.9-17.3-7.5z" fill=url(#c223) stroke=url(#c223) />
<path class=c d="M298 606L286 611"/>
<path d="M227.1 620.5l0.6-0.1-8.2 23.9z" fill=url(#c224) stroke=url(#c224) />
<path class=c d="M224 632L223 633"/>
<path d="M295.1 614.9l-26 7.9 8.7-15.4z" fill=url(#c225) stroke=url(#c225) />
<path class=c d="M274 613L286 611"/>
<path d="M230.4 624.2l8.8 40.8-19.7-20.7z" fill=url(#c226) stroke=url(#c226) />
<path class=c d="M237 653L229 654M233 634L225 635"/>
<path d="M230 647.3l20.7-20.4-11.5 38.1z" fill=url(#c227) stroke=url(#c227) />
<path class=c d="M243 653L234 656M243 635L249 633"/>
<path d="M250.7 626.9l1 0.4 17.4-4.5z" fill=#7dff00 stroke=#7dff00 />
<path d="M296 689.7l4.8-91.7-23 9.4z" fill=url(#c228) stroke=url(#c228) />
<path class=c d="M297 677L293 678M298 654L289 657M299 631L284 636M300 608L280 616"/>
<path d="M230.4 624.2l-0.4 23.1 9.2 17.7z" fill=url(#c229) stroke=url(#c229) />
<path class=c d="M234 656L237 653M230 636L233 634"/>
<path d="M241.9 631.2l9.8-3.9-1-0.4z" fill=#6fff00 stroke=#6fff00 />
<path d="M230 647.3l0.4-23.1-10.9 20.1z" fill=url(#c230) stroke=url(#c230) />
<path class=c d="M230 636L225 635"/>
<path d="M269.1 622.8l-17.4 4.5-12.5 23z" fill=url(#c231) stroke=url(#c231) />
<path class=c d="M246 637L255 636"/>
<path d="M241.9 631.2l8.8-4.3-20.7 20.4z" fill=url(#c232) stroke=url(#c232) />
<path class=c d="M243 635L238 637"/>
<path d="M284.6 629.7l11.4 60-18.2-82.3z" fill=url(#c233) stroke=url(#c233) />
<path class=c d="M294 679L293 678M290 659L289 657M286 639L284 636M280 616L281 617"/>
<path d="M251.7 627.3l-9.8 3.9-2.7 19.1z" fill=url(#c234) stroke=url(#c234) />
<path class=c d="M241 638L246 637"/>
<path d="M284 658.2l12 31.5-11.4-60z" fill=url(#c235) stroke=url(#c235) />
<path class=c d="M292 680L294 679M286 663L290 659M286 639L284 641"/>
<path d="M241.9 631.2l-11.9 16.1 9.2 3z" fill=url(#c236) stroke=url(#c236) />
<path class=c d="M238 637L241 638"/>
<path d="M248.5 654l20.6-31.2-29.9 27.5z" fill=url(#c237) stroke=url(#c237) />
<path class=c d="M260 637L255 636"/>
<path d="M269.1 622.8l-20.6 31.2 29.3-46.6z" fill=url(#c238) stroke=url(#c238) />
<path class=c d="M260 637L256 642M272 617L274 613"/>
<path d="M258 657.6l26.6-27.9-6.8-22.3z" fill=url(#c239) stroke=url(#c239) />
<path class=c d="M272 643L263 645M281 617L274 618"/>
<path d="M248.5 654l9.5 3.6 19.8-50.2z" fill=url(#c240) stroke=url(#c240) />
<path class=c d="M263 645L256 642M274 618L272 617"/>
<path d="M256.7 638.3l27.3 19.9 0.6-28.5z" fill=url(#c241) stroke=url(#c241) />
<path class=c d="M268 647L284 641"/>
<path d="M258 657.6l-1.3-19.3 27.9-8.6z" fill=url(#c242) stroke=url(#c242) />
<path class=c d="M257 648L272 643"/>
<path d="M264.4 642.5l-7.7-4.2-5.8 6.2z" fill=#93ff00 stroke=#93ff00 />
<path d="M258.5 671l5.9-28.5-13.5 2z" fill=url(#c243) stroke=url(#c243) />
<path class=c d="M262 652L253 653"/>
<path d="M258.5 671l7.6-23.8-1.7-4.7z" fill=url(#c244) stroke=url(#c244) />
<path class=c d="M264 654L262 652"/>
<path d="M252.6 648.2l5.9 22.8-7.6-26.5z" fill=url(#c245) stroke=url(#c245) />
<path class=c d="M254 655L253 653"/>
<path d="M258.5 671l-5.9-22.8 13.5-1z" fill=url(#c246) stroke=url(#c246) />
<path class=c d="M254 655L264 654"/>
<path d="M266.1 647.2l-13.5 1 7.7 1.5z" fill=#79ff00 stroke=#79ff00 />
</g>
<line class="k" x1="54.4" y1="739.6" x2="43.2" y2="465.5"/>
<line class="k" x1="54.4" y1="739.6" x2="49.6" y2="740.5"/>
<line class="k" x1="52.6" y1="696.1" x2="47.8" y2="697"/>
<line class="k" x1="50.8" y1="651.8" x2="46" y2="652.7"/>
<line class="k" x1="49" y1="606.6" x2="44.2" y2="607.5"/>
<line class="k" x1="47.1" y1="560.5" x2="42.3" y2="561.4"/>
<line class="k" x1="45.2" y1="513.5" x2="40.4" y2="514.4"/>
<line class="k" x1="43.2" y1="465.5" x2="38.4" y2="466.4"/>
<line class="k" x1="54.4" y1="739.6" x2="268.7" y2="818"/>
<line class="k" x1="64.9" y1="743.4" x2="61.4" y2="745.4"/>
<line class="k" x1="77.7" y1="748.1" x2="75.9" y2="749.1"/>
<line class="k" x1="90.7" y1="752.8" x2="87.2" y2="754.8"/>
<line class="k" x1="103.9" y1="757.7" x2="102.2" y2="758.7"/>
<line class="k" x1="117.4" y1="762.6" x2="113.9" y2="764.6"/>
<line class="k" x1="131.2" y1="767.7" x2="129.5" y2="768.7"/>
<line class="k" x1="145.3" y1="772.8" x2="141.8" y2="774.8"/>
<line class="k" x1="159.6" y1="778.1" x2="157.9" y2="779.1"/>
<line class="k" x1="174.2" y1="783.4" x2="170.7" y2="785.4"/>
<line class="k" x1="189.2" y1="788.9" x2="187.4" y2="789.9"/>
<line class="k" x1="204.4" y1="794.5" x2="200.9" y2="796.5"/>
<line class="k" x1="220" y1="800.2" x2="218.2" y2="801.2"/>
<line class="k" x1="235.8" y1="806" x2="232.4" y2="808"/>
<line class="k" x1="252.1" y1="812" x2="250.3" y2="813"/>
<line class="k" x1="268.7" y1="818" x2="265.2" y2="820"/>
<line class="k" x1="268.7" y1="818" x2="439.5" y2="727.7"/>
<line class="k" x1="268.7" y1="818" x2="272.8" y2="819.8"/>
<line class="k" x1="288.6" y1="807.5" x2="290.5" y2="808.3"/>
<line class="k" x1="307.9" y1="797.3" x2="312" y2="799.1"/>
<line class="k" x1="326.4" y1="787.5" x2="328.2" y2="788.3"/>
<line class="k" x1="344.3" y1="778" x2="348.4" y2="779.8"/>
<line class="k" x1="361.5" y1="768.9" x2="363.4" y2="769.7"/>
<line class="k" x1="378.2" y1="760.1" x2="382.3" y2="761.9"/>
<line class="k" x1="394.3" y1="751.6" x2="396.1" y2="752.4"/>
<line class="k" x1="409.9" y1="743.3" x2="414" y2="745.1"/>
<line class="k" x1="424.9" y1="735.4" x2="426.8" y2="736.2"/>
<line class="k" x1="439.5" y1="727.7" x2="443.7" y2="729.5"/>
<rect x="364.5" y="457.5" width="16" height="260" fill="url(#cbar)" stroke="#111" stroke-width="1"/>
<line class="k" x1="380.5" y1="460.6" x2="385.5" y2="460.6"/>
<text class="cl" x="391" y="465.6">26.00</text>
<line class="k" x1="380.5" y1="486.1" x2="385.5" y2="486.1"/>
<text class="cl" x="391" y="491.1">21.66</text>
<line class="k" x1="380.5" y1="511.5" x2="385.5" y2="511.5"/>
<text class="cl" x="391" y="516.5">17.32</text>
<line class="k" x1="380.5" y1="537" x2="385.5" y2="537"/>
<text class="cl" x="391" y="542">12.98</text>
<line class="k" x1="380.5" y1="562.4" x2="385.5" y2="562.4"/>
<text class="cl" x="391" y="567.4">8.64</text>
<line class="k" x1="380.5" y1="587.9" x2="385.5" y2="587.9"/>
<text class="cl" x="391" y="592.9">4.30</text>
<line class="k" x1="380.5" y1="613.4" x2="385.5" y2="613.4"/>
<text class="cl" x="391" y="618.4">-0.04</text>
<line class="k" x1="380.5" y1="638.8" x2="385.5" y2="638.8"/>
<text class="cl" x="391" y="643.8">-4.38</text>
<line class="k" x1="380.5" y1="664.3" x2="385.5" y2="664.3"/>
<text class="cl" x="391" y="669.3">-8.72</text>
<line class="k" x1="380.5" y1="689.7" x2="385.5" y2="689.7"/>
<text class="cl" x="391" y="694.7">-13.06</text>
<line class="k" x1="380.5" y1="715.2" x2="385.5" y2="715.2"/>
<text class="cl" x="391" y="720.2">-17.40</text>
<text class="ct" x="345" y="446">Error (MPa)</text>
<text class="zl" transform="matrix(0.80 -0.06 0.03 1 46 749.3)">-30</text>
<text class="zl" transform="matrix(0.80 -0.06 0.03 1 44.2 705.8)">-20</text>
<text class="zl" transform="matrix(0.80 -0.06 0.03 1 42.4 661.5)">-10</text>
<text class="zl" transform="matrix(0.80 -0.06 0.03 1 40.6 616.3)">0</text>
<text class="zl" transform="matrix(0.80 -0.06 0.03 1 38.7 570.2)">10</text>
<text class="zl" transform="matrix(0.80 -0.06 0.03 1 36.8 523.2)">20</text>
<text class="zl" transform="matrix(0.80 -0.06 0.03 1 34.8 475.2)">30</text>
<text class="xl" transform="matrix(1.492 -0.579 1.548 0.572 64.2 747.3)">0</text>
<text class="xl" transform="matrix(1.484 -0.599 1.548 0.572 90.2 756.9)">50</text>
<text class="xl" transform="matrix(1.475 -0.621 1.548 0.572 117.2 766.9)">100</text>
<text class="xl" transform="matrix(1.465 -0.644 1.548 0.572 145.2 777.2)">150</text>
<text class="xl" transform="matrix(1.454 -0.669 1.548 0.572 174.4 788.0)">200</text>
<text class="xl" transform="matrix(1.441 -0.695 1.548 0.572 204.9 799.3)">250</text>
<text class="xl" transform="matrix(1.427 -0.723 1.548 0.572 236.6 811.0)">300</text>
<text class="xl" transform="matrix(1.411 -0.754 1.548 0.572 269.7 823.2)">350</text>
<text class="yl" transform="matrix(1.548 0.572 -1.101 0.591 272.4 824.6)">0</text>
<text class="yl" transform="matrix(1.559 0.541 -1.101 0.591 311.9 803.3)">20</text>
<text class="yl" transform="matrix(1.568 0.513 -1.101 0.591 348.6 783.7)">40</text>
<text class="yl" transform="matrix(1.576 0.488 -1.101 0.591 382.7 765.3)">60</text>
<text class="yl" transform="matrix(1.583 0.465 -1.101 0.591 414.5 748.3)">80</text>
<text class="yl" transform="matrix(1.589 0.443 -1.101 0.591 444.3 732.3)">100</text>
<text class="tt" transform="translate(3 568.5) rotate(90)">Error (MPa)</text>
<text class="tx" transform="matrix(1.443 0.565 -1.555 0.687 111.1 795.3)">Data points</text>
<text class="tx" transform="matrix(1.213 -0.699 1.716 0.543 412.1 786.3)">Predictions</text>
<text class="pl" x="63" y="488.7">(c)</text>
<line class="g" x1="631.2" y1="724.1" x2="622.8" y2="458.3"/>
<line class="g" x1="669.4" y1="709.6" x2="663.5" y2="451.7"/>
<line class="g" x1="705.4" y1="696" x2="701.7" y2="445.5"/>
<line class="g" x1="739.2" y1="683.2" x2="737.5" y2="439.6"/>
<line class="g" x1="588.6" y1="696.1" x2="771.2" y2="633.2"/>
<line class="g" x1="586.8" y1="651.8" x2="771.2" y2="594.7"/>
<line class="g" x1="585" y1="606.6" x2="771.2" y2="555.6"/>
<line class="g" x1="583.1" y1="560.5" x2="771.2" y2="515.8"/>
<line class="g" x1="581.2" y1="513.5" x2="771.2" y2="475.3"/>
<line class="g" x1="781.5" y1="673.9" x2="782" y2="435.4"/>
<line class="g" x1="806.4" y1="680.8" x2="808.3" y2="438.6"/>
<line class="g" x1="832.3" y1="688" x2="835.6" y2="441.9"/>
<line class="g" x1="859" y1="695.4" x2="863.8" y2="445.3"/>
<line class="g" x1="886.6" y1="703" x2="893.1" y2="448.8"/>
<line class="g" x1="915.2" y1="711" x2="923.5" y2="452.5"/>
<line class="g" x1="944.8" y1="719.2" x2="955" y2="456.3"/>
<line class="g" x1="771.2" y1="633.2" x2="977.5" y2="685.2"/>
<line class="g" x1="771.2" y1="594.7" x2="979.4" y2="641.9"/>
<line class="g" x1="771.2" y1="555.6" x2="981.4" y2="597.8"/>
<line class="g" x1="771.2" y1="515.8" x2="983.5" y2="552.9"/>
<line class="g" x1="771.2" y1="475.3" x2="985.6" y2="507"/>
<line class="g" x1="600.9" y1="743.4" x2="781.5" y2="673.9"/>
<line class="g" x1="626.7" y1="752.8" x2="806.4" y2="680.8"/>
<line class="g" x1="653.4" y1="762.6" x2="832.3" y2="688"/>
<line class="g" x1="681.3" y1="772.8" x2="859" y2="695.4"/>
<line class="g" x1="710.2" y1="783.4" x2="886.6" y2="703"/>
<line class="g" x1="740.4" y1="794.5" x2="915.2" y2="711"/>
<line class="g" x1="771.8" y1="806" x2="944.8" y2="719.2"/>
<line class="g" x1="631.2" y1="724.1" x2="843.9" y2="797.3"/>
<line class="g" x1="669.4" y1="709.6" x2="880.3" y2="778"/>
<line class="g" x1="705.4" y1="696" x2="914.2" y2="760.1"/>
<line class="g" x1="739.2" y1="683.2" x2="945.9" y2="743.3"/>
<path class="e" d="M579.2 465.5L771.2 434.1L987.7 460.2L975.5 727.7"/>
<path class="e" d="M590.4 739.6L771.2 671L975.5 727.7"/>
<line class="e" x1="771.2" y1="671" x2="771.2" y2="434.1"/>
<g stroke-width=".5" stroke-linejoin="round">
<path d="M771 561.3l-10.2 3 18-2.2z" fill=#bbff00 stroke=#bbff00 />
<path d="M748 566.2l23-4.9-18.4-0.7z" fill=#c1ff00 stroke=#c1ff00 />
<path d="M698.8 565.3l21.1-4.3-13.9-0.9z" fill=#c6ff00 stroke=#c6ff00 />
<path d="M734 563.7l-0.9 3.5 19.5-6.6z" fill=#bfff00 stroke=#bfff00 />
<path d="M748 566.2l12.8-1.9 10.2-3z" fill=#bfff00 stroke=#bfff00 />
<path d="M770.3 564.7l16.5-1.3-8-1.3z" fill=#c6ff00 stroke=#c6ff00 />
<path d="M734 563.7l-14.1-2.7-15.4 9.4z" fill=#bbff00 stroke=#bbff00 />
<path d="M760.8 564.3l-7.4 3.8 25.4-6z" fill=#c0ff00 stroke=#c0ff00 />
<path d="M733.1 567.2l14.9-1 4.6-5.6z" fill=#c4ff00 stroke=#c4ff00 />
<path d="M753.4 568.1l16.9-3.4 8.5-2.6z" fill=#c2ff00 stroke=#c2ff00 />
<path d="M719.9 561l-21.1 4.3-7.5 5.4z" fill=#c4ff00 stroke=#c4ff00 />
<path d="M753.4 568.1l7.4-3.8-12.8 1.9z" fill=#c2ff00 stroke=#c2ff00 />
<path d="M770.3 564.7l-7.3-6.8 23.8 5.5z" fill=url(#d1) stroke=url(#d1) />
<path class=c d="M765 560L770 560"/>
<path d="M733.1 567.2l0.9-3.5-16.9 5.4z" fill=#c3ff00 stroke=#c3ff00 />
<path d="M794.8 567.6l-8-4.2-14.2 3.9z" fill=#c8ff00 stroke=#c8ff00 />
<path d="M704.5 570.4l15.4-9.4-28.6 9.7z" fill=#bfff00 stroke=#bfff00 />
<path d="M734 563.7l-29.5 6.7 12.6-1.3z" fill=#c0ff00 stroke=#c0ff00 />
<path d="M770.3 564.7l-16.9 3.4 9.6-10.2z" fill=url(#d2) stroke=url(#d2) />
<path class=c d="M761 561L765 560"/>
<path d="M786.8 563.4l-23.8-5.5 9.6 9.4z" fill=url(#d3) stroke=url(#d3) />
<path class=c d="M770 560L767 561"/>
<path d="M727.4 572l20.6-5.8-14.9 1z" fill=#c3ff00 stroke=#c3ff00 />
<path d="M794.8 567.6l-5.2 3.2 13.4-1.1z" fill=#bdff00 stroke=#bdff00 />
<path d="M727.4 572l26-3.9-5.4-1.9z" fill=#c3ff00 stroke=#c3ff00 />
<path d="M769.2 576.4l25.6-8.8-22.2-0.3z" fill=#b6ff00 stroke=#b6ff00 />
<path d="M794.8 567.6l-25.6 8.8 20.4-5.6z" fill=#acff00 stroke=#acff00 />
<path d="M727.4 572l5.7-4.8-16 1.9z" fill=#c6ff00 stroke=#c6ff00 />
<path d="M753.4 568.1l-14.8 6.8 24.4-17z" fill=url(#d4) stroke=url(#d4) />
<path class=c d="M757 562L761 561"/>
<path d="M763 557.9l-7.3 14.6 16.9-5.2z" fill=url(#d5) stroke=url(#d5) />
<path class=c d="M761 562L767 561"/>
<path d="M796.2 571.6l14.8-1-8-0.9z" fill=#c2ff00 stroke=#c2ff00 />
<path d="M789.6 570.8l6.6 0.8 6.8-1.9z" fill=#c4ff00 stroke=#c4ff00 />
<path d="M704.5 570.4l-8.4 3.6 21-4.9z" fill=#c0ff00 stroke=#c0ff00 />
<path d="M704.5 570.4l-13.2 0.3-7.7 5.5z" fill=#b7ff00 stroke=#b7ff00 />
<path d="M755.7 572.5l9.5 3 7.4-8.2z" fill=#c1ff00 stroke=#c1ff00 />
<path d="M765.2 575.5l4 0.9 3.4-9.1z" fill=#b0ff00 stroke=#b0ff00 />
<path d="M738.6 574.9l17.1-2.4 7.3-14.6z" fill=url(#d6) stroke=url(#d6) />
<path class=c d="M761 562L757 562"/>
<path d="M723.4 573.8l30-5.7-26 3.9z" fill=#c8ff00 stroke=#c8ff00 />
<path d="M696.1 574l8.4-3.6-20.9 5.8z" fill=#b3ff00 stroke=#b3ff00 />
<path d="M784.4 576l11.8-4.4-6.6-0.8z" fill=#c1ff00 stroke=#c1ff00 />
<path d="M723.4 573.8l15.2 1.1 14.8-6.8z" fill=#c5ff00 stroke=#c5ff00 />
<path d="M755.7 572.5l-6 2.5 15.5 0.5z" fill=#acff00 stroke=#acff00 />
<path d="M797.8 577.2l21.2-4-8-2.6z" fill=#baff00 stroke=#baff00 />
<path d="M696.1 574l4.5 3.7 16.5-8.6z" fill=#bcff00 stroke=#bcff00 />
<path d="M755.7 572.5l-17.1 2.4 11.1 0.1z" fill=#b5ff00 stroke=#b5ff00 />
<path d="M705.6 580.2l21.8-8.2-10.3-2.9z" fill=#c3ff00 stroke=#c3ff00 />
<path d="M789.6 570.8l-20.4 5.6 0.8-0.9z" fill=#c0ff00 stroke=#c0ff00 />
<path d="M765.2 575.5l-11.2 0.8 15.2 0.1z" fill=#a6ff00 stroke=#a6ff00 />
<path d="M784.4 576l5.2-5.2-19.6 4.7z" fill=#c5ff00 stroke=#c5ff00 />
<path d="M749.7 575l4.3 1.3 11.2-0.8z" fill=#b4ff00 stroke=#b4ff00 />
<path d="M796.2 571.6l-4.7-82.6 19.5 81.6z" fill=url(#d7) stroke=url(#d7) />
<path class=c d="M796 565L809 563M795 546L805 545M794 527L800 527M793 509L796 508M792 490L792 490"/>
<path d="M700.6 577.7l5 2.5 11.5-11.1z" fill=#b6ff00 stroke=#b6ff00 />
<path d="M819 573.2l-8.3 5.1 17.5-3.7z" fill=#bcff00 stroke=#bcff00 />
<path d="M749.7 575l-11.1-0.1-7.5 1z" fill=#c1ff00 stroke=#c1ff00 />
<path d="M819 573.2l-21.2 4-5.2 2.8z" fill=#adff00 stroke=#adff00 />
<path d="M791.5 489l6.3 88.2 13.2-6.6z" fill=url(#d8) stroke=url(#d8) />
<path class=c d="M797 567L809 563M796 548L805 545M794 529L800 527M793 509L796 508M792 490L792 490"/>
<path d="M796.2 571.6l-11.8 4.4 7.1-87z" fill=url(#d9) stroke=url(#d9) />
<path class=c d="M785 566L796 565M787 547L795 546M788 528L794 527M790 509L793 509M791 490L792 490"/>
<path d="M769.2 576.4l-15.2-0.1 16-0.8z" fill=#c0ff00 stroke=#c0ff00 />
<path d="M705.6 580.2l17.8-6.4 4-1.8z" fill=#c5ff00 stroke=#c5ff00 />
<path d="M696.1 574l-20.4 6.5 24.9-2.8z" fill=#b3ff00 stroke=#b3ff00 />
<path d="M675.7 580.5l20.4-6.5-12.5 2.2z" fill=#bdff00 stroke=#bdff00 />
<path d="M738.6 574.9l-15.2-1.1-5.8 7.6z" fill=#c1ff00 stroke=#c1ff00 />
<path d="M797.8 577.2l-11.3 2.1 6.1 0.7z" fill=#a5ff00 stroke=#a5ff00 />
<path d="M731.1 575.9l7.5-1-21 6.5z" fill=#bdff00 stroke=#bdff00 />
<path d="M812.5 579.5l25-2.7-9.3-2.2z" fill=#c4ff00 stroke=#c4ff00 />
<path d="M754 576.3l-4.3-1.3-16.8 7.8z" fill=#b8ff00 stroke=#b8ff00 />
<path d="M788.9 581l21.8-2.7 8.3-5.1z" fill=#c2ff00 stroke=#c2ff00 />
<path d="M788.9 581l30.1-7.8-26.4 6.8z" fill=#bcff00 stroke=#bcff00 />
<path d="M791.5 489l-7.1 87-14.4-0.5z" fill=url(#d10) stroke=url(#d10) />
<path class=c d="M785 566L771 570M787 547L776 550M788 528L781 530M790 509L786 510M791 490L791 490"/>
<path d="M725.2 560l24.5 15-18.6 0.9z" fill=url(#d11) stroke=url(#d11) />
<path class=c d="M739 568L729 570"/>
<path d="M810.7 578.3l1.8 1.2 15.7-4.9z" fill=#c3ff00 stroke=#c3ff00 />
<path d="M786.5 579.3l11.3-2.1-6.3-88.2z" fill=url(#d12) stroke=url(#d12) />
<path class=c d="M797 567L787 569M796 548L788 549M794 529L789 530M793 509L790 510M792 490L791 490"/>
<path d="M837.5 576.8l-0.1 2.1 9.5-0.3z" fill=#c2ff00 stroke=#c2ff00 />
<path d="M786 578.4l-9.6 1.9 10.1-1z" fill=#b2ff00 stroke=#b2ff00 />
<path d="M786 578.4l0.5 0.9 5-90.3z" fill=url(#d13) stroke=url(#d13) />
<path class=c d="M787 569L787 569M788 549L788 549M789 530L789 529M790 510L790 510M791 490L791 490"/>
<path d="M786.5 579.3l-10.1 1 16.2-0.3z" fill=#aeff00 stroke=#aeff00 />
<path d="M776.4 580.3l9.6-1.9-16-2.9z" fill=#c5ff00 stroke=#c5ff00 />
<path d="M711.3 581.8l12.1-8-17.8 6.4z" fill=#c0ff00 stroke=#c0ff00 />
<path d="M786 578.4l5.5-89.4-21.5 86.5z" fill=url(#d14) stroke=url(#d14) />
<path class=c d="M787 569L771 570M788 549L776 550M789 529L781 530M790 510L786 510M791 490L791 490"/>
<path d="M749.7 575l-24.5-15 7.7 22.8z" fill=url(#d15) stroke=url(#d15) />
<path class=c d="M739 568L729 572"/>
<path d="M723.4 573.8l-12.1 8 6.3-0.4z" fill=#bfff00 stroke=#bfff00 />
<path d="M705.6 580.2l-5-2.5-13.2 4.8z" fill=#afff00 stroke=#afff00 />
<path d="M837.4 578.9l0.1-2.1-12.9 7.5z" fill=#b8ff00 stroke=#b8ff00 />
<path d="M725.2 560l5.9 15.9-13.5 5.5z" fill=url(#d16) stroke=url(#d16) />
<path class=c d="M729 570L721 571"/>
<path d="M837.5 576.8l-25 2.7 12.1 4.8z" fill=#bbff00 stroke=#bbff00 />
<path d="M675.7 580.5l-3.1 2.7 28-5.5z" fill=#bdff00 stroke=#bdff00 />
<path d="M754 576.3l-8 8.2 24-9z" fill=#ccff00 stroke=#ccff00 />
<path d="M810.7 578.3l-21.8 2.7 23.6-1.5z" fill=#c6ff00 stroke=#c6ff00 />
<path d="M837.4 578.9l-7.3 2 16.8-2.3z" fill=#c8ff00 stroke=#c8ff00 />
<path d="M698.9 581.7l12.4 0.1-5.7-1.6z" fill=#b9ff00 stroke=#b9ff00 />
<path d="M727 581.9l27-5.6-21.1 6.5z" fill=#c4ff00 stroke=#c4ff00 />
<path d="M830.1 580.9l16.9-1.1-0.1-1.2z" fill=#c9ff00 stroke=#c9ff00 />
<path d="M760 584.5l16.4-4.2-6.4-4.8z" fill=#c7ff00 stroke=#c7ff00 />
<path d="M776.4 580.3l-9.7 5.7 25.9-6z" fill=#b2ff00 stroke=#b2ff00 />
<path d="M700.6 577.7l-28 5.5 14.8-0.7z" fill=#bfff00 stroke=#bfff00 />
<path d="M711.3 581.8l-4.7 1.3 11-1.7z" fill=#b5ff00 stroke=#b5ff00 />
<path d="M830.1 580.9l7.3-2-12.8 5.4z" fill=#c3ff00 stroke=#c3ff00 />
<path d="M766.7 586l22.2-5 3.7-1z" fill=#b7ff00 stroke=#b7ff00 />
<path d="M698.9 581.7l6.7-1.5-18.2 2.3z" fill=#c2ff00 stroke=#c2ff00 />
<path d="M706.6 583.1l18.6-23.1-7.6 21.4z" fill=url(#d17) stroke=url(#d17) />
<path class=c d="M714 574L721 571"/>
<path d="M725.2 560l-5.9 20.8 13.6 2z" fill=url(#d18) stroke=url(#d18) />
<path class=c d="M721 573L729 572"/>
<path d="M847 579.8l6.4 5.3 22.9-7.8z" fill=#caff00 stroke=#caff00 />
<path d="M746 584.5l14 0 10-9z" fill=#c8ff00 stroke=#c8ff00 />
<path d="M842.5 581.1l4.5-1.3-16.9 1.1z" fill=#cfff00 stroke=#cfff00 />
<path d="M632.9 604l5.9-5-6.5 1.4z" fill=#00ed00 stroke=#00ed00 />
<path d="M719.3 580.8l7.7 1.1 5.9 0.9z" fill=#c6ff00 stroke=#c6ff00 />
<path d="M754 576.3l-27 5.6 1-10.9z" fill=url(#d19) stroke=url(#d19) />
<path class=c d="M727 576L740 573"/>
<path d="M766.7 586l-11.8-0.5 6.7 133.8z" fill=url(#d20) stroke=url(#d20) />
<path class=c d="M759 673L763 672M758 654L764 653M757 635L765 634M756 616L766 615M755 597L766 596"/>
<path d="M706.6 583.1l12.7-2.3 5.9-20.8z" fill=url(#d21) stroke=url(#d21) />
<path class=c d="M721 573L714 574"/>
<path d="M812.5 579.5l-3.7 5.6 15.8-0.8z" fill=#c1ff00 stroke=#c1ff00 />
<path d="M766.7 586l9.7-5.7-16.4 4.2z" fill=#baff00 stroke=#baff00 />
<path d="M746 584.5l8-8.2-26-5.3z" fill=url(#d22) stroke=url(#d22) />
<path class=c d="M740 573L736 577"/>
<path d="M693 582.7l18.3-0.9-12.4-0.1z" fill=#c8ff00 stroke=#c8ff00 />
<path d="M812.5 579.5l-23.6 1.5 9.9 5.9z" fill=#c6ff00 stroke=#c6ff00 />
<path d="M768.3 589.2l-1.6-3.2-5.1 133.3z" fill=url(#d23) stroke=url(#d23) />
<path class=c d="M763 672L764 674M764 653L765 655M765 634L766 636M766 615L767 617M766 596L768 599"/>
<path d="M847 579.8l-4.5 1.3-2.9-21.6z" fill=url(#d24) stroke=url(#d24) />
<path class=c d="M842 575L845 574"/>
<path d="M706.6 583.1l4.7-1.3-18.3 0.9z" fill=#c7ff00 stroke=#c7ff00 />
<path d="M808.8 585.1l21.3-4.2-5.5 3.4z" fill=#c3ff00 stroke=#c3ff00 />
<path d="M847 579.8l2.2 4.5 4.2 0.8z" fill=#c8ff00 stroke=#c8ff00 />
<path d="M839.6 559.5l2.9 21.6-12.4-0.2z" fill=url(#d25) stroke=url(#d25) />
<path class=c d="M842 575L833 575"/>
<path d="M754.9 585.5l-7.1 6.7 13.8 127.1z" fill=url(#d26) stroke=url(#d26) />
<path class=c d="M757 674L759 673M755 656L758 654M753 637L757 635M751 619L756 616M749 600L755 597"/>
<path d="M853.4 585.1l15.1-42.8 7.8 35z" fill=url(#d27) stroke=url(#d27) />
<path class=c d="M856 577L875 572M863 557L871 555"/>
<path d="M672.6 583.2l5.8 1.7 9-2.4z" fill=#c6ff00 stroke=#c6ff00 />
<path d="M849.2 584.3l-2.2-4.5-7.4-20.3z" fill=url(#d28) stroke=url(#d28) />
<path class=c d="M845 574L846 577"/>
<path d="M632.9 604l12.9-18.1-7 13.1z" fill=url(#d29) stroke=url(#d29) />
<path class=c d="M638 597L641 595"/>
<path d="M808.8 585.1l3.7-5.6-13.7 7.4z" fill=#c6ff00 stroke=#c6ff00 />
<path d="M756.5 589.5l11.8-0.3-6.7 130.1z" fill=url(#d30) stroke=url(#d30) />
<path class=c d="M764 674L760 674M765 655L759 655M766 636L758 637M767 617L758 618M768 599L757 600"/>
<path d="M679.8 589.4l19.1-7.7-11.5 0.8z" fill=#c2ff00 stroke=#c2ff00 />
<path d="M719.3 580.8l-12.7 2.3-5.9-5.8z" fill=url(#d31) stroke=url(#d31) />
<path class=c d="M701 578L703 578"/>
<path d="M719.3 580.8l-11 5.7 18.7-4.6z" fill=#cdff00 stroke=#cdff00 />
<path d="M766.7 586l-6.7-1.5-5.1 1z" fill=#bbff00 stroke=#bbff00 />
<path d="M788.9 581l-22.2 5 1.6 3.2z" fill=#bcff00 stroke=#bcff00 />
<path d="M754.9 585.5l5.1-1-14 0z" fill=#c2ff00 stroke=#c2ff00 />
<path d="M747.8 592.2l8.7-2.7 5.1 129.8z" fill=url(#d32) stroke=url(#d32) />
<path class=c d="M760 674L757 674M759 655L755 656M758 637L753 637M758 618L751 619M757 600L749 600"/>
<path d="M668.3 586.9l10.1-2-5.8-1.7z" fill=#c2ff00 stroke=#c2ff00 />
<path d="M868.5 542.3l12.3 43.8-4.5-8.8z" fill=url(#d33) stroke=url(#d33) />
<path class=c d="M879 579L875 572M873 559L871 555"/>
<path d="M693 582.7l5.9-1-19.1 7.7z" fill=#c7ff00 stroke=#c7ff00 />
<path d="M687.4 582.5l-9 2.4-4.9-20.9z" fill=url(#d34) stroke=url(#d34) />
<path class=c d="M677 577L683 576"/>
<path d="M706.6 583.1l-13.6-0.4 7.7-5.4z" fill=url(#d35) stroke=url(#d35) />
<path class=c d="M700 578L701 578"/>
<path d="M708.3 586.5l11-5.7-18.6-3.5z" fill=url(#d36) stroke=url(#d36) />
<path class=c d="M703 578L702 578"/>
<path d="M639.9 587.7l5.9-1.8-12.9 18.1z" fill=url(#d37) stroke=url(#d37) />
<path class=c d="M638 597L636 598"/>
<path d="M727 581.9l-9.8 7.3 10.8-18.2z" fill=url(#d38) stroke=url(#d38) />
<path class=c d="M724 578L727 576"/>
<path d="M832.3 588.2l16.9-3.9-9.6-24.8z" fill=url(#d39) stroke=url(#d39) />
<path class=c d="M846 577L835 578"/>
<path d="M849.2 584.3l-7.4 6 11.6-5.2z" fill=#c0ff00 stroke=#c0ff00 />
<path d="M788.9 581l-11.3 11.2 21.2-5.3z" fill=#c0ff00 stroke=#c0ff00 />
<path d="M679.8 589.4l7.6-6.9-13.9-18.5z" fill=url(#d40) stroke=url(#d40) />
<path class=c d="M683 576L677 579"/>
<path d="M788.9 581l-20.6 8.2 0 1.6z" fill=#bdff00 stroke=#bdff00 />
<path d="M727 581.9l-18.7 4.6 8.9 2.7z" fill=#c6ff00 stroke=#c6ff00 />
<path d="M678.4 584.9l-10.1 2 5.2-22.9z" fill=url(#d41) stroke=url(#d41) />
<path class=c d="M670 578L677 577"/>
<path d="M732.2 590.2l13.8-5.7-18-13.5z" fill=url(#d42) stroke=url(#d42) />
<path class=c d="M736 577L730 578"/>
<path d="M639.9 587.7l13.5-2-7.6 0.2z" fill=#c3ff00 stroke=#c3ff00 />
<path d="M841.8 590.3l7.4-6-16.9 3.9z" fill=#bdff00 stroke=#bdff00 />
<path d="M639.9 587.7l-7 16.3 0.7 5.7z" fill=url(#d43) stroke=url(#d43) />
<path class=c d="M636 598L636 600"/>
<path d="M813.3 584.5l26.3-25-9.5 21.4z" fill=url(#d44) stroke=url(#d44) />
<path class=c d="M814 583L833 575"/>
<path d="M808.8 585.1l4.5-0.6 16.8-3.6z" fill=#dcff00 stroke=#dcff00 />
<path d="M717.2 589.2l7.3-2.7 3.5-15.5z" fill=url(#d45) stroke=url(#d45) />
<path class=c d="M726 578L724 578"/>
<path d="M724.5 586.5l7.7 3.7-4.2-19.2z" fill=url(#d46) stroke=url(#d46) />
<path class=c d="M730 578L726 578"/>
<path d="M788.9 581l-20.6 9.8 9.3 1.4z" fill=#beff00 stroke=#beff00 />
<path d="M754.9 585.5l-8.9-1-12 8.9z" fill=#c0ff00 stroke=#c0ff00 />
<path d="M675.3 588.5l17.7-5.8-13.2 6.7z" fill=#c6ff00 stroke=#c6ff00 />
<path d="M653.4 585.7l-13.5 2-6.3 22z" fill=url(#d47) stroke=url(#d47) />
<path class=c d="M636 600L642 600"/>
<path d="M694.8 589.2l13.5-2.7-7.6-9.2z" fill=url(#d48) stroke=url(#d48) />
<path class=c d="M702 578L700 578"/>
<path d="M668.3 586.9l-13 6.1 18.2-29z" fill=url(#d49) stroke=url(#d49) />
<path class=c d="M663 580L670 578"/>
<path d="M669.6 591.1l10.2-1.7-6.3-25.4z" fill=url(#d50) stroke=url(#d50) />
<path class=c d="M677 579L671 579"/>
<path d="M853.4 585.1l-6.5 6.4 21.6-49.2z" fill=url(#d51) stroke=url(#d51) />
<path class=c d="M851 582L856 577M861 560L863 557"/>
<path d="M853.4 585.1l-11.6 5.2 5.1 1.2z" fill=#baff00 stroke=#baff00 />
<path d="M718.7 592.5l5.8-6-7.3 2.7z" fill=#b2ff00 stroke=#b2ff00 />
<path d="M724.5 586.5l-5.8 6 13.5-2.3z" fill=#aeff00 stroke=#aeff00 />
<path d="M647.6 586.5l5.8-0.8-19.8 24z" fill=url(#d52) stroke=url(#d52) />
<path class=c d="M642 600L639 601"/>
<path d="M732.2 590.2l-5.9-20.2 19.7 14.5z" fill=url(#d53) stroke=url(#d53) />
<path class=c d="M729 581L738 579"/>
<path d="M669.6 591.1l5.7-2.6 4.5 0.9z" fill=#b2ff00 stroke=#b2ff00 />
<path d="M832.3 588.2l7.3-28.7-26.3 25z" fill=url(#d54) stroke=url(#d54) />
<path class=c d="M835 578L814 583"/>
<path d="M779.3 590.7l29.5-5.6-10 1.8z" fill=#c9ff00 stroke=#c9ff00 />
<path d="M708.3 586.5l-5.8 4 14.7-1.3z" fill=#c0ff00 stroke=#c0ff00 />
<path d="M700.7 577.3l-7.7 5.4-24.9 10z" fill=url(#d55) stroke=url(#d55) />
<path class=c d="M700 578L697 579"/>
<path d="M763.2 590.4l5.1-1.2-11.8 0.3z" fill=#b7ff00 stroke=#b7ff00 />
<path d="M747.8 592.2l7.1-6.7-20.9 7.9z" fill=#aeff00 stroke=#aeff00 />
<path d="M768.3 589.2l-5.1 1.2 5.1 0.4z" fill=#b4ff00 stroke=#b4ff00 />
<path d="M693 582.7l-17.7 5.8-7.2 4.2z" fill=#ccff00 stroke=#ccff00 />
<path d="M653.5 588.5l16.1 2.6 3.9-27.1z" fill=url(#d56) stroke=url(#d56) />
<path class=c d="M671 579L659 582"/>
<path d="M746 584.5l-19.7-14.5 7.7 23.4z" fill=url(#d57) stroke=url(#d57) />
<path class=c d="M738 579L731 583"/>
<path d="M694.8 589.2l5.9-11.9-32.6 15.4z" fill=url(#d58) stroke=url(#d58) />
<path class=c d="M700 578L697 579"/>
<path d="M708.3 586.5l-13.5 2.7-7.9 4.2z" fill=#c2ff00 stroke=#c2ff00 />
<path d="M718.7 592.5l7.6-22.5 5.9 20.2z" fill=url(#d59) stroke=url(#d59) />
<path class=c d="M722 582L729 581"/>
<path d="M641.7 589.1l5.9-2.6-14 23.2z" fill=url(#d60) stroke=url(#d60) />
<path class=c d="M639 601L637 602"/>
<path d="M675.3 588.5l-5.7 2.6-10.6 0.3z" fill=#bdff00 stroke=#bdff00 />
<path d="M841.8 590.3l-9.5-2.1-13.5 3.3z" fill=#c3ff00 stroke=#c3ff00 />
<path d="M777.6 592.2l1.7-1.5 19.5-3.8z" fill=#c4ff00 stroke=#c4ff00 />
<path d="M702.5 590.5l5.8-4-21.4 6.9z" fill=#c2ff00 stroke=#c2ff00 />
<path d="M641.7 589.1l13.6 3.9-7.7-6.5z" fill=#c6ff00 stroke=#c6ff00 />
<path d="M880.8 586.1l-1 3.5 8.5 2.8z" fill=#caff00 stroke=#caff00 />
<path d="M747.8 592.2l-19.7 1.3 28.4-4z" fill=#b5ff00 stroke=#b5ff00 />
<path d="M879.8 589.6l1-3.5-9.5 7.4z" fill=#cbff00 stroke=#cbff00 />
<path d="M658.4 594.3l16.9-5.8-16.3 2.9z" fill=#beff00 stroke=#beff00 />
<path d="M779.3 590.7l4.8 0.8 24.7-6.4z" fill=#d1ff00 stroke=#d1ff00 />
<path d="M634.3 615.4l7.4-26.3-8.1 20.6z" fill=url(#d61) stroke=url(#d61) />
<path class=c d="M637 605L637 602"/>
<path d="M649.4 592.8l4.1-4.3 1.8 4.5z" fill=#c1ff00 stroke=#c1ff00 />
<path d="M844.9 588.6l35.9-2.5-12.3-43.8z" fill=url(#d62) stroke=url(#d62) />
<path class=c d="M846 589L879 579M873 559L858 563"/>
<path d="M846.9 591.5l-5.1-1.2-8.5 6.7z" fill=#b0ff00 stroke=#b0ff00 />
<path d="M832.3 588.2l-19-3.7 5.5 7z" fill=url(#d63) stroke=url(#d63) />
<path d="M813.3 584.5l-4.5 0.6-23.6 14z" fill=url(#d64) stroke=url(#d64) />
<path d="M763.2 590.4l-6.7-0.9-13.3 7.2z" fill=#bbff00 stroke=#bbff00 />
<path d="M880.8 586.1l-14.7 6 5.2 1.4z" fill=#caff00 stroke=#caff00 />
<path d="M728.1 593.5l19.7-1.3-13.8 1.2z" fill=#afff00 stroke=#afff00 />
<path d="M655.3 593l-13.6-3.9-7.4 26.3z" fill=url(#d65) stroke=url(#d65) />
<path class=c d="M637 605L645 604"/>
<path d="M686.9 593.4l7.9-4.2-26.7 3.5z" fill=#c1ff00 stroke=#c1ff00 />
<path d="M718.7 592.5l-1.5-3.3-32.9-2z" fill=url(#d66) stroke=url(#d66) />
<path class=c d="M688 587L688 588"/>
<path d="M768.3 590.8l-5.1-0.4-20 6.3z" fill=#b8ff00 stroke=#b8ff00 />
<path d="M658.4 594.3l1.1 0.8 15.8-6.6z" fill=#b8ff00 stroke=#b8ff00 />
<path d="M717.2 589.2l-14.7 1.3-18.2-3.3z" fill=url(#d67) stroke=url(#d67) />
<path class=c d="M687 588L688 587"/>
<path d="M649.4 592.8l5.9 0.2-21 22.4z" fill=url(#d68) stroke=url(#d68) />
<path class=c d="M645 604L641 605"/>
<path d="M726.3 570l-7.6 22.5-0.4-6.5z" fill=url(#d69) stroke=url(#d69) />
<path class=c d="M722 582L719 585"/>
<path d="M654.7 627.3l3.7-33-8.4 1z" fill=url(#d70) stroke=url(#d70) />
<path class=c d="M655 624L654 624M657 604L651 604"/>
<path d="M808.8 585.1l-24.7 6.4 1.1 7.6z" fill=#c4ff00 stroke=#c4ff00 />
<path d="M659 591.4l-5.5-2.9-3.5 6.8z" fill=#c4ff00 stroke=#c4ff00 />
<path d="M658.4 594.3l0.6-2.9-9 3.9z" fill=#adff00 stroke=#adff00 />
<path d="M726.3 570l-5.8 25.1 13.5-1.7z" fill=url(#d71) stroke=url(#d71) />
<path class=c d="M723 584L731 583"/>
<path d="M653.5 588.5l-4.1 4.3 0.6 2.5z" fill=#c2ff00 stroke=#c2ff00 />
<path d="M675.3 588.5l-15.8 6.6 8.6-2.4z" fill=#c3ff00 stroke=#c3ff00 />
<path d="M659.5 595.1l-1.1-0.8-3.7 33z" fill=url(#d72) stroke=url(#d72) />
<path class=c d="M655 624L655 625M657 604L658 605"/>
<path d="M846.9 591.5l-2-2.9 23.6-46.3z" fill=url(#d73) stroke=url(#d73) />
<path class=c d="M845 589L851 582M858 563L861 560"/>
<path d="M841.8 590.3l-23 1.2 14.5 5.5z" fill=#c0ff00 stroke=#c0ff00 />
<path d="M888.3 592.4l-8.5-2.8-7.3 3.8z" fill=#c9ff00 stroke=#c9ff00 />
<path d="M650 595.3l-0.6-2.5-15.1 22.6z" fill=url(#d74) stroke=url(#d74) />
<path class=c d="M641 605L642 605"/>
<path d="M720.5 595.1l7.6-1.6 5.9-0.1z" fill=#b4ff00 stroke=#b4ff00 />
<path d="M888.3 592.4l1.1-0.3 6.6 3.2z" fill=#c1ff00 stroke=#c1ff00 />
<path d="M872.5 593.4l7.3-3.8-8.5 3.9z" fill=#c9ff00 stroke=#c9ff00 />
<path d="M720.5 595.1l5.8-25.1-8 16z" fill=url(#d75) stroke=url(#d75) />
<path class=c d="M723 584L719 585"/>
<path d="M775.6 592.5l3.7-1.8-1.7 1.5z" fill=#ccff00 stroke=#ccff00 />
<path d="M654.7 627.3l-4.7-32-7.9 22.8z" fill=url(#d76) stroke=url(#d76) />
<path class=c d="M654 624L652 625M651 604L646 607"/>
<path d="M866.1 592.1l14.7-6-35.9 2.5z" fill=#e1ff00 stroke=#e1ff00 />
<path class=c d="M846 589L846 589"/>
<path d="M659.5 595.1l-4.8 32.2-3.7-35z" fill=url(#d77) stroke=url(#d77) />
<path class=c d="M655 625L654 625M658 605L652 606"/>
<path d="M702.5 590.5l-15.6 2.9-2.6-6.2z" fill=url(#d78) stroke=url(#d78) />
<path class=c d="M685 588L687 588"/>
<path d="M728.1 593.5l-7.6 1.6-2.2-9.1z" fill=url(#d79) stroke=url(#d79) />
<path d="M866.1 592.1l6.4 1.3-1.2 0.1z" fill=#c9ff00 stroke=#c9ff00 />
<path d="M777.6 592.2l-9.3-1.4-18.8-2.6z" fill=url(#d80) stroke=url(#d80) />
<path class=c d="M755 589L757 589"/>
<path d="M882.6 573l6.8 19.1-1.1 0.3z" fill=url(#d81) stroke=url(#d81) />
<path class=c d="M887 586L886 585"/>
<path d="M642.1 618.1l7.9-22.8-15.7 20.1z" fill=url(#d82) stroke=url(#d82) />
<path class=c d="M646 607L642 605"/>
<path d="M718.3 586l0.4 6.5-19.2 7.3z" fill=url(#d83) stroke=url(#d83) />
<path d="M756.5 589.5l-28.4 4-11.1 5.6z" fill=#c3ff00 stroke=#c3ff00 />
<path d="M651 592.3l3.7 35-12.6-9.2z" fill=url(#d84) stroke=url(#d84) />
<path class=c d="M654 625L652 625M652 606L646 608"/>
<path d="M784.1 591.5l-4.8-0.8-3.7 1.8z" fill=#d5ff00 stroke=#d5ff00 />
<path d="M658.3 594.9l28.6-1.5-18.8-0.7z" fill=#c6ff00 stroke=#c6ff00 />
<path d="M659.5 595.1l-3.6 3.1 12.2-5.5z" fill=#b5ff00 stroke=#b5ff00 />
<path d="M882.6 573l5.7 19.4-15.8 1z" fill=url(#d85) stroke=url(#d85) />
<path class=c d="M886 585L876 587"/>
<path d="M756.5 589.5l-39.5 9.6 26.2-2.4z" fill=#bfff00 stroke=#bfff00 />
<path d="M659.5 595.1l-8.5-2.8 4.9 5.9z" fill=#c0ff00 stroke=#c0ff00 />
<path d="M889.4 592.1l-6.8-19.1 13.4 22.3z" fill=url(#d86) stroke=url(#d86) />
<path class=c d="M887 586L891 587"/>
<path d="M655.9 598.2l2.4-3.3 9.8-2.2z" fill=#c1ff00 stroke=#c1ff00 />
<path d="M679.9 601.2l38.8-8.7-34.4-5.3z" fill=url(#d87) stroke=url(#d87) />
<path class=c d="M688 588L684 589"/>
<path d="M749.5 588.2l18.8 2.6-25.1 5.9z" fill=url(#d88) stroke=url(#d88) />
<path class=c d="M755 589L748 591"/>
<path d="M780.4 570.1l3.7 21.4-8.5 1z" fill=url(#d89) stroke=url(#d89) />
<path class=c d="M783 586L777 587"/>
<path d="M655.9 598.2l-4.9-5.9-8.9 25.8z" fill=url(#d90) stroke=url(#d90) />
<path class=c d="M646 608L649 608"/>
<path d="M728.1 593.5l-9.8-7.5-18.8 13.8z" fill=url(#d91) stroke=url(#d91) />
<path d="M827.6 589.9l19.3 1.6-13.6 5.5z" fill=url(#d92) stroke=url(#d92) />
<path class=c d="M832 590L829 591"/>
<path d="M775.6 592.5l2-0.3-28.1-4z" fill=url(#d93) stroke=url(#d93) />
<path class=c d="M757 589L760 590"/>
<path d="M784.1 591.5l-3.7-21.4 4.8 29z" fill=url(#d94) stroke=url(#d94) />
<path class=c d="M783 586L783 588"/>
<path d="M813.3 584.5l-19.1 16.7 24.6-9.7z" fill=#dbff00 stroke=#dbff00 />
<path d="M866.1 592.1l-11-14 17.4 15.3z" fill=url(#d95) stroke=url(#d95) />
<path class=c d="M862 587L866 588"/>
<path d="M789.5 599.1l23.8-14.6-28.1 14.6z" fill=url(#d96) stroke=url(#d96) />
<path d="M718.7 592.5l-37.7 9.2 18.5-1.9z" fill=#afff00 stroke=#afff00 />
<path d="M686.9 593.4l-11.8 5.7 9.2-11.9z" fill=url(#d97) stroke=url(#d97) />
<path class=c d="M683 589L685 588"/>
<path d="M658.3 594.9l3.4 5.5 25.2-7z" fill=#c4ff00 stroke=#c4ff00 />
<path d="M681 601.7l37.7-9.2-38.8 8.7z" fill=#acff00 stroke=#acff00 />
<path d="M655.9 598.2l-13.8 19.9 7.9 3.3z" fill=url(#d98) stroke=url(#d98) />
<path class=c d="M649 608L653 609"/>
<path d="M780.4 570.1l-3.7 29.2 8.5-0.2z" fill=url(#d99) stroke=url(#d99) />
<path class=c d="M778 588L783 588"/>
<path d="M776.7 599.3l4.8-0.5 3.7 0.3z" fill=#a6ff00 stroke=#a6ff00 />
<path d="M846.9 591.5l-19.3-1.6 17.3-1.3z" fill=url(#d100) stroke=url(#d100) />
<path class=c d="M832 590L845 589"/>
<path d="M855.1 578.1l11 14-21.2-3.5z" fill=url(#d101) stroke=url(#d101) />
<path class=c d="M862 587L846 589"/>
<path d="M874.6 600.5l17-4.5 4.4-0.7z" fill=#c2ff00 stroke=#c2ff00 />
<path d="M658.3 594.9l-2.4 3.3-5.9 23.2z" fill=url(#d102) stroke=url(#d102) />
<path class=c d="M653 609L654 610"/>
<path d="M882.6 573l-8 27.5 21.4-5.2z" fill=url(#d103) stroke=url(#d103) />
<path class=c d="M878 590L891 587"/>
<path d="M661.7 600.4l13.4-1.3 11.8-5.7z" fill=#bdff00 stroke=#bdff00 />
<path d="M874.6 600.5l8-27.5-10.1 20.4z" fill=url(#d104) stroke=url(#d104) />
<path class=c d="M878 590L876 587"/>
<path d="M728.1 593.5l-28.6 6.3 17.5-0.7z" fill=#c2ff00 stroke=#c2ff00 />
<path d="M818.8 591.5l-9.4 13.6 23.9-8.1z" fill=#c0ff00 stroke=#c0ff00 />
<path d="M789.5 599.1l4.7 2.1 19.1-16.7z" fill=#d5ff00 stroke=#d5ff00 />
<path d="M765.7 583.1l14.7-13-4.8 22.4z" fill=url(#d105) stroke=url(#d105) />
<path class=c d="M777 587L771 588"/>
<path d="M781.5 598.8l8 0.3-4.3 0z" fill=#b4ff00 stroke=#b4ff00 />
<path d="M776.7 599.3l3.7-29.2-14.7 13z" fill=url(#d106) stroke=url(#d106) />
<path class=c d="M778 588L770 590"/>
<path d="M776.7 599.3l-11-16.2 15.8 15.7z" fill=url(#d107) stroke=url(#d107) />
<path class=c d="M770 590L773 590"/>
<path d="M661.7 600.4l-3.4-5.5-8.3 26.5z" fill=url(#d108) stroke=url(#d108) />
<path class=c d="M654 610L655 612"/>
<path d="M675.1 599.1l-3.6 3.3 12.8-15.2z" fill=url(#d109) stroke=url(#d109) />
<path class=c d="M683 589L683 589"/>
<path d="M765.7 583.1l9.9 9.4-26.1-4.3z" fill=url(#d110) stroke=url(#d110) />
<path class=c d="M771 588L760 590"/>
<path d="M891.6 596l-17 4.5 9.6-0.2z" fill=#c4ff00 stroke=#c4ff00 />
<path d="M671.5 602.4l8.4-1.2 4.4-14z" fill=url(#d111) stroke=url(#d111) />
<path class=c d="M684 589L683 589"/>
<path d="M676.2 635.5l3.7-34.3-8.4 1.2z" fill=url(#d112) stroke=url(#d112) />
<path class=c d="M677 633L676 633M679 612L673 612"/>
<path d="M855.1 578.1l-10.1 28 27.5-12.7z" fill=url(#d113) stroke=url(#d113) />
<path class=c d="M850 593L866 588"/>
<path d="M809.4 605.1l18.2-15.2 5.7 7.1z" fill=url(#d114) stroke=url(#d114) />
<path class=c d="M824 593L829 591"/>
<path d="M852.7 606.9l21.9-6.4-2.1-7.1z" fill=#c0ff00 stroke=#c0ff00 />
<path d="M676.2 635.5l4.8-33.8-1.1-0.5z" fill=url(#d115) stroke=url(#d115) />
<path class=c d="M677 633L677 633M679 613L679 612"/>
<path d="M658 623.5l3.7-23.1-11.7 21z" fill=url(#d116) stroke=url(#d116) />
<path class=c d="M660 613L655 612"/>
<path d="M675.1 599.1l-13.4 1.3-3.7 23.1z" fill=url(#d117) stroke=url(#d117) />
<path class=c d="M660 613L665 613"/>
<path d="M671.5 602.4l3.6-3.3-17.1 24.4z" fill=url(#d118) stroke=url(#d118) />
<path class=c d="M665 613L664 613"/>
<path d="M874.6 600.5l-4.7 2.4 14.3-2.6z" fill=#b9ff00 stroke=#b9ff00 />
<path d="M676.2 635.5l-4.7-33.1 1.1 3.1z" fill=url(#d119) stroke=url(#d119) />
<path class=c d="M676 633L676 633M673 612L674 614"/>
<path d="M717 599.1l3.1-10.6 23.1 8.2z" fill=url(#d120) stroke=url(#d120) />
<path class=c d="M719 594L731 592"/>
<path d="M794.2 601.2l2.2 5.6 22.4-15.3z" fill=#c8ff00 stroke=#c8ff00 />
<path d="M789.5 599.1l-8-0.3-13.1 7.4z" fill=#beff00 stroke=#beff00 />
<path d="M681 601.7l-4.8 33.8-3.6-30z" fill=url(#d121) stroke=url(#d121) />
<path class=c d="M677 633L676 633M679 613L674 614"/>
<path d="M855.1 578.1l-10.2 10.5-8.5 19.3z" fill=url(#d122) stroke=url(#d122) />
<path class=c d="M845 589L845 594"/>
<path d="M869.9 602.9l6.1 21.4 8.2-24z" fill=url(#d123) stroke=url(#d123) />
<path class=c d="M873 614L880 614"/>
<path d="M720.1 588.5l29.4-0.3-6.3 8.5z" fill=url(#d124) stroke=url(#d124) />
<path class=c d="M748 591L731 592"/>
<path d="M681 601.7l-3.8-1.9 22.3 0z" fill=#c7ff00 stroke=#c7ff00 />
<path d="M796.4 606.8l13-1.7 9.4-13.6z" fill=#c4ff00 stroke=#c4ff00 />
<path d="M671.5 602.4l-13.5 21.1 14.6-18z" fill=url(#d125) stroke=url(#d125) />
<path class=c d="M664 613L665 614"/>
<path d="M794.2 601.2l-4.7-2.1-7.3 6.2z" fill=#c0ff00 stroke=#c0ff00 />
<path d="M845 606.1l7.7 0.8 19.8-13.5z" fill=#c0ff00 stroke=#c0ff00 />
<path d="M765.7 583.1l-20.8 26.2 36.6-10.5z" fill=url(#d126) stroke=url(#d126) />
<path class=c d="M757 594L773 590"/>
<path d="M869.9 602.9l4.7-2.4-21.9 6.4z" fill=#b1ff00 stroke=#b1ff00 />
<path d="M844.9 588.6l-17.3 1.3 8.8 18z" fill=url(#d127) stroke=url(#d127) />
<path class=c d="M829 593L845 589"/>
<path d="M699.5 599.8l-14.6 7.9 32.1-8.6z" fill=#c0ff00 stroke=#c0ff00 />
<path d="M677.2 599.8l3.8 1.9-8.4 3.8z" fill=#c3ff00 stroke=#c3ff00 />
<path d="M876 624.3l-6.1-21.4-6.9 25.5z" fill=url(#d128) stroke=url(#d128) />
<path class=c d="M873 614L866 616"/>
<path d="M658 623.5l8.2 2.9 6.4-20.9z" fill=url(#d129) stroke=url(#d129) />
<path class=c d="M669 616L665 614"/>
<path d="M699.5 599.8l-22.3 0-4.2 4z" fill=#ceff00 stroke=#ceff00 />
<path d="M789.5 599.1l-21.1 7.1 13.8-0.9z" fill=#bdff00 stroke=#bdff00 />
<path d="M845 606.1l10.1-28-18.7 29.8z" fill=url(#d130) stroke=url(#d130) />
<path class=c d="M850 593L845 594"/>
<path d="M666.2 626.4l11-26.6-4.6 5.7z" fill=url(#d131) stroke=url(#d131) />
<path class=c d="M670 617L669 616"/>
<path d="M796.4 606.8l-2.2-5.6-12 4.1z" fill=#bbff00 stroke=#bbff00 />
<path d="M765.7 583.1l-16.2 5.1-15.3 21z" fill=url(#d132) stroke=url(#d132) />
<path class=c d="M745 595L751 595"/>
<path d="M768.4 606.2l13.1-7.4-28.9 10.3z" fill=#b8ff00 stroke=#b8ff00 />
<path d="M699.5 599.8l-26.5 4 1.5 26.3z" fill=url(#d133) stroke=url(#d133) />
<path class=c d="M674 620L686 616"/>
<path d="M781.5 598.8l-36.6 10.5 7.7-0.2z" fill=#b4ff00 stroke=#b4ff00 />
<path d="M684.9 607.7l14.6-7.9-25 30.3z" fill=url(#d134) stroke=url(#d134) />
<path class=c d="M686 616L679 620"/>
<path d="M720.1 588.5l8.9 17.2 20.5-17.5z" fill=url(#d135) stroke=url(#d135) />
<path class=c d="M725 597L743 594"/>
<path d="M673 603.8l4.2-4-11 26.6z" fill=url(#d136) stroke=url(#d136) />
<path class=c d="M670 617L669 618"/>
<path d="M869.9 602.9l-15.5 6.8 8.6 18.7z" fill=url(#d137) stroke=url(#d137) />
<path class=c d="M859 620L866 616"/>
<path d="M854.4 609.7l15.5-6.8-17.2 4z" fill=#b5ff00 stroke=#b5ff00 />
<path d="M683 632.4l37.1-43.9-3.1 10.6z" fill=url(#d138) stroke=url(#d138) />
<path class=c d="M692 622L697 619M712 598L719 594"/>
<path d="M744.9 609.3l20.8-26.2-31.5 26.1z" fill=url(#d139) stroke=url(#d139) />
<path class=c d="M757 594L751 595"/>
<path d="M845 606.1l-5.8-0.2 13.5 1z" fill=#beff00 stroke=#beff00 />
<path d="M827.6 589.9l-18.2 15.2-11.1 9.9z" fill=url(#d140) stroke=url(#d140) />
<path class=c d="M824 593L822 595"/>
<path d="M684.9 607.7l-1.9 24.7 34-33.3z" fill=url(#d141) stroke=url(#d141) />
<path class=c d="M684 622L697 619"/>
<path d="M749.5 588.2l-20.5 17.5 5.2 3.5z" fill=url(#d142) stroke=url(#d142) />
<path class=c d="M743 594L745 595"/>
<path d="M839.2 605.9l5.8 0.2-8.6 1.8z" fill=#bdff00 stroke=#bdff00 />
<path d="M673 603.8l-6.8 22.6 8.3 3.7z" fill=url(#d143) stroke=url(#d143) />
<path class=c d="M669 618L674 620"/>
<path d="M827.6 589.9l-29.3 25.1 38.1-7.1z" fill=url(#d144) stroke=url(#d144) />
<path class=c d="M822 595L829 593"/>
<path d="M768.4 606.2l-14.1 3.7 27.9-4.6z" fill=#c3ff00 stroke=#c3ff00 />
<path d="M809.4 605.1l-13 1.7 1.9 8.2z" fill=#aeff00 stroke=#aeff00 />
<path d="M839.2 605.9l7.6-19.3 5.9 20.3z" fill=url(#d145) stroke=url(#d145) />
<path class=c d="M842 599L850 598"/>
<path d="M775.9 615.8l20.5-9-14.2-1.5z" fill=#aeff00 stroke=#aeff00 />
<path d="M729 605.7l-8.9-17.2-18.9 21.2z" fill=url(#d146) stroke=url(#d146) />
<path class=c d="M725 597L711 599"/>
<path d="M846.8 586.6l7.6 23.1-1.7-2.8z" fill=url(#d147) stroke=url(#d147) />
<path class=c d="M851 600L850 598"/>
<path d="M683 632.4l1.9-24.7-10.4 22.4z" fill=url(#d148) stroke=url(#d148) />
<path class=c d="M684 622L679 620"/>
<path d="M744.9 609.3l-5.8 1.7 13.5-1.9z" fill=#b4ff00 stroke=#b4ff00 />
<path d="M827.2 614.3l12-8.4-2.8 2z" fill=#bcff00 stroke=#bcff00 />
<path d="M739.1 611l5.8-1.7-10.7-0.1z" fill=#b6ff00 stroke=#b6ff00 />
<path d="M746.7 584.4l21.7 21.8-15.8 2.9z" fill=url(#d149) stroke=url(#d149) />
<path class=c d="M761 598L751 601"/>
<path d="M720.1 588.5l-37.1 43.9 18.2-22.7z" fill=url(#d150) stroke=url(#d150) />
<path class=c d="M692 622L690 623M712 598L711 599"/>
<path d="M854.4 609.7l-5.3-4.4 13.9 23.1z" fill=url(#d151) stroke=url(#d151) />
<path class=c d="M858 621L859 620"/>
<path d="M854.4 609.7l-7.6-23.1-5.9 26.9z" fill=url(#d152) stroke=url(#d152) />
<path class=c d="M851 600L844 601"/>
<path d="M846.8 586.6l-7.6 19.3-12 8.4z" fill=url(#d153) stroke=url(#d153) />
<path class=c d="M842 599L836 602"/>
<path d="M729 605.7l-12.1 8.3 17.3-4.8z" fill=#c4ff00 stroke=#c4ff00 />
<path d="M849.1 610.7l11 23.8 2.9-6.1z" fill=url(#d154) stroke=url(#d154) />
<path class=c d="M856 625L858 622"/>
<path d="M691.6 637.2l37.4-31.5-27.8 4z" fill=url(#d155) stroke=url(#d155) />
<path class=c d="M708 623L696 625"/>
<path d="M746.7 584.4l7.6 25.5 14.1-3.7z" fill=url(#d156) stroke=url(#d156) />
<path class=c d="M752 603L761 598"/>
<path d="M754.3 609.9l4.6 5.8 23.3-10.4z" fill=#c3ff00 stroke=#c3ff00 />
<path d="M798.3 615l-1.9-8.2-20.5 9z" fill=#a8ff00 stroke=#a8ff00 />
<path d="M739.1 611l7.6-26.6 5.9 24.7z" fill=url(#d157) stroke=url(#d157) />
<path class=c d="M742 601L751 601"/>
<path d="M758.9 615.7l17 0.1 6.3-10.5z" fill=#aeff00 stroke=#aeff00 />
<path d="M841.4 612.6l13-2.9-13.5 3.8z" fill=#b6ff00 stroke=#b6ff00 />
<path d="M849.1 605.3l0 5.4 13.9 17.7z" fill=url(#d158) stroke=url(#d158) />
<path class=c d="M858 622L858 621"/>
<path d="M846.8 586.6l-19.6 27.7 13.7-0.8z" fill=url(#d159) stroke=url(#d159) />
<path class=c d="M836 602L844 601"/>
<path d="M716.9 614l22.2-3-4.9-1.8z" fill=#beff00 stroke=#beff00 />
<path d="M808.8 618.3l18.4-4 9.2-6.4z" fill=#a5ff00 stroke=#a5ff00 />
<path d="M798.3 615l10.5 3.3 27.6-10.4z" fill=#a2ff00 stroke=#a2ff00 />
<path d="M848.5 613.8l5.9-4.1-13 2.9z" fill=#baff00 stroke=#baff00 />
<path d="M848.5 613.8l0.6-8.5 5.3 4.4z" fill=url(#d160) stroke=url(#d160) />
<path d="M683 632.4l8.6 4.8 9.6-27.5z" fill=url(#d161) stroke=url(#d161) />
<path class=c d="M696 625L690 623"/>
<path d="M708.9 613.5l20.1-7.8-37.4 31.5z" fill=url(#d162) stroke=url(#d162) />
<path class=c d="M708 623L699 626"/>
<path d="M729 605.7l-20.1 7.8 8 0.5z" fill=#c5ff00 stroke=#c5ff00 />
<path d="M849.1 610.7l-5.9 65.4 16.9-41.6z" fill=url(#d163) stroke=url(#d163) />
<path class=c d="M844 670L846 669M846 648L855 647M848 627L856 625"/>
<path d="M835.5 619.6l5.9-7-0.5 0.9z" fill=#a4ff00 stroke=#a4ff00 />
<path d="M754.3 609.9l-7.6-25.5-5.9 25.7z" fill=url(#d164) stroke=url(#d164) />
<path class=c d="M752 603L742 604"/>
<path d="M835.5 619.6l13-5.8-7.1-1.2z" fill=#a8ff00 stroke=#a8ff00 />
<path d="M746.7 584.4l-7.6 26.6-14.2 2.7z" fill=url(#d165) stroke=url(#d165) />
<path class=c d="M742 601L731 606"/>
<path d="M849.1 605.3l-0.6 8.5-13 5.8z" fill=url(#d166) stroke=url(#d166) />
<path d="M843.2 676.1l7.7-58.9 9.2 17.3z" fill=url(#d167) stroke=url(#d167) />
<path class=c d="M844 670L846 669M847 650L855 647M849 629L856 627"/>
<path d="M739.1 611l-22.2 3 8-0.3z" fill=#c5ff00 stroke=#c5ff00 />
<path d="M748.5 615.9l5.8-6-13.5 0.2z" fill=#ccff00 stroke=#ccff00 />
<path d="M827.2 614.3l-4.4 7.5 18.1-8.3z" fill=#9fff00 stroke=#9fff00 />
<path d="M754.3 609.9l-5.8 6 10.4-0.2z" fill=#c3ff00 stroke=#c3ff00 />
<path d="M740.8 610.1l5.9-25.7-12.8 30.9z" fill=url(#d168) stroke=url(#d168) />
<path class=c d="M742 604L738 605"/>
<path d="M708.9 613.5l-17.3 23.7 8.7 2.5z" fill=url(#d169) stroke=url(#d169) />
<path class=c d="M699 626L704 628"/>
<path d="M822.8 621.8l12.7-2.2 5.4-6.1z" fill=#92ff00 stroke=#92ff00 />
<path d="M799.6 614.8l9.2 3.5-10.5-3.3z" fill=#b2ff00 stroke=#b2ff00 />
<path d="M716.9 614l-8-0.5-8.6 26.2z" fill=url(#d170) stroke=url(#d170) />
<path class=c d="M704 628L708 628"/>
<path d="M808.8 618.3l-4.4-3.6 22.8-0.4z" fill=#b8ff00 stroke=#b8ff00 />
<path d="M843.2 676.1l5.9-65.4-20.5 12.4z" fill=url(#d171) stroke=url(#d171) />
<path class=c d="M844 670L842 670M846 648L836 651M848 627L831 631"/>
<path d="M733.9 615.3l12.8-30.9-21.8 29.3z" fill=url(#d172) stroke=url(#d172) />
<path class=c d="M738 605L731 606"/>
<path d="M860.1 634.5l-9.2-17.3 6.2 23.5z" fill=url(#d173) stroke=url(#d173) />
<path class=c d="M856 627L854 630"/>
<path d="M730.7 614l17.8 1.9-7.7-5.8z" fill=#ceff00 stroke=#ceff00 />
<path d="M849.1 610.7l0-5.4-20.5 17.8z" fill=url(#d174) stroke=url(#d174) />
<path d="M730.7 614l10.1-3.9-6.9 5.2z" fill=#d1ff00 stroke=#d1ff00 />
<path d="M849.1 605.3l-13.6 14.3-6.9 3.5z" fill=url(#d175) stroke=url(#d175) />
<path d="M843.2 676.1l-5.8-60.7 13.5 1.8z" fill=url(#d176) stroke=url(#d176) />
<path class=c d="M843 670L844 670M841 650L847 650M839 630L849 629"/>
<path d="M799.6 614.8l4.8-0.1 4.4 3.6z" fill=#c4ff00 stroke=#c4ff00 />
<path d="M709.2 643.3l7.7-29.3-16.6 25.7z" fill=url(#d177) stroke=url(#d177) />
<path class=c d="M713 630L708 628"/>
<path d="M761.3 626.5l37-11.5-22.4 0.8z" fill=#a2ff00 stroke=#a2ff00 />
<path d="M827.2 614.3l-22.8 0.4 1.1 2.3z" fill=#caff00 stroke=#caff00 />
<path d="M716.9 614l-7.7 29.3 15.7-29.6z" fill=url(#d178) stroke=url(#d178) />
<path class=c d="M713 630L716 631"/>
<path d="M837.4 615.4l5.8 60.7-14.6-53z" fill=url(#d179) stroke=url(#d179) />
<path class=c d="M843 670L842 670M841 650L836 651M839 630L831 631"/>
<path d="M799.6 614.8l-1.3 0.2-20.1 6.3z" fill=#c0ff00 stroke=#c0ff00 />
<path d="M748.5 615.9l-14.6 6.3 25-6.5z" fill=#b4ff00 stroke=#b4ff00 />
<path d="M822.8 621.8l4.4-7.5-21.7 2.7z" fill=#b9ff00 stroke=#b9ff00 />
<path d="M720.5 614.9l13.4 0.4-9-1.6z" fill=#d0ff00 stroke=#d0ff00 />
<path d="M730.7 614l3.2 1.3-13.4-0.4z" fill=#d1ff00 stroke=#d1ff00 />
<path d="M748.5 615.9l-17.8-1.9 1.3 5.1z" fill=#c7ff00 stroke=#c7ff00 />
<path d="M726.3 655l4.4-41-10.2 0.9z" fill=url(#d180) stroke=url(#d180) />
<path class=c d="M727 652L726 652M729 630L723 631"/>
<path d="M758.9 615.7l-15 9.3 32-9.2z" fill=#b1ff00 stroke=#b1ff00 />
<path d="M795.9 618.9l8.5-4.2-4.8 0.1z" fill=#cbff00 stroke=#cbff00 />
<path d="M828.6 623.1l6.9-3.5-12.7 2.2z" fill=#8eff00 stroke=#8eff00 />
<path d="M730.7 614l-4.4 41 5.7-35.9z" fill=url(#d181) stroke=url(#d181) />
<path class=c d="M727 652L727 652M729 630L730 632"/>
<path d="M850.9 617.2l-6 5.6 12.2 17.9z" fill=url(#d182) stroke=url(#d182) />
<path class=c d="M851 632L854 630"/>
<path d="M709.2 643.3l11.3-28.4 4.4-1.2z" fill=url(#d183) stroke=url(#d183) />
<path class=c d="M714 632L716 631"/>
<path d="M748.5 615.9l-16.5 3.2 1.9 3.1z" fill=#baff00 stroke=#baff00 />
<path d="M726.3 655l-5.8-40.1 1.4 4.5z" fill=url(#d184) stroke=url(#d184) />
<path class=c d="M726 652L726 652M723 631L723 632"/>
<path d="M795.9 618.9l3.7-4.1-21.4 6.5z" fill=#c4ff00 stroke=#c4ff00 />
<path d="M804.4 614.7l-8.5 4.2 4.8-22.3z" fill=url(#d185) stroke=url(#d185) />
<path class=c d="M798 609L803 609"/>
<path d="M850.9 617.2l-13.5-1.8 7.5 7.4z" fill=#c5ff00 stroke=#c5ff00 />
<path d="M732 619.1l-5.7 35.9-4.4-35.6z" fill=url(#d186) stroke=url(#d186) />
<path class=c d="M727 652L726 652M730 632L723 632"/>
<path d="M818.5 621.6l10.1 1.5-5.8-1.3z" fill=#9dff00 stroke=#9dff00 />
<path d="M798.3 615l-37 11.5 16.9-5.2z" fill=#aeff00 stroke=#aeff00 />
<path d="M804.4 614.7l-3.7-18.1 4.8 20.4z" fill=url(#d187) stroke=url(#d187) />
<path class=c d="M803 609L804 610"/>
<path d="M721.9 619.4l-1.4-4.5-11.3 28.4z" fill=url(#d188) stroke=url(#d188) />
<path class=c d="M714 632L715 633"/>
<path d="M801.8 622.2l21-0.4-17.3-4.8z" fill=#bbff00 stroke=#bbff00 />
<path d="M801.8 622.2l16.7-0.6 4.3 0.2z" fill=#a9ff00 stroke=#a9ff00 />
<path d="M844.9 622.8l-1 2.2 13.2 15.7z" fill=url(#d189) stroke=url(#d189) />
<path class=c d="M851 633L851 632"/>
<path d="M800.7 596.6l-4.8 22.3-9.2 3.2z" fill=url(#d190) stroke=url(#d190) />
<path class=c d="M798 609L792 612"/>
<path d="M837.4 615.4l-7.5 10.5 15-3.1z" fill=#b5ff00 stroke=#b5ff00 />
<path d="M800.7 596.6l-3.7 24.1 8.5-3.7z" fill=url(#d191) stroke=url(#d191) />
<path class=c d="M799 611L804 610"/>
<path d="M824.2 603.8l13.2 11.6-8.8 7.7z" fill=url(#d192) stroke=url(#d192) />
<path class=c d="M832 611L826 611"/>
<path d="M797 620.7l4.8 1.5 3.7-5.2z" fill=#c4ff00 stroke=#c4ff00 />
<path d="M784.2 622.9l11.7-4-17.7 2.4z" fill=#bcff00 stroke=#bcff00 />
<path d="M758.9 615.7l-25 6.5-6.5 28.2z" fill=url(#d193) stroke=url(#d193) />
<path class=c d="M731 636L742 634"/>
<path d="M743.9 625l17.4 1.5 14.6-10.7z" fill=#aaff00 stroke=#aaff00 />
<path d="M824.2 603.8l4.4 19.3-10.1-1.5z" fill=url(#d194) stroke=url(#d194) />
<path class=c d="M826 611L822 612"/>
<path d="M732 619.1l-4.4 2.5 6.3 0.6z" fill=#c0ff00 stroke=#c0ff00 />
<path d="M795.9 618.9l-11.7 4 2.5-0.8z" fill=#bdff00 stroke=#bdff00 />
<path d="M727.6 621.6l4.4-2.5-10.1 0.3z" fill=#c7ff00 stroke=#c7ff00 />
<path d="M797 620.7l3.7-24.1-14 25.5z" fill=url(#d195) stroke=url(#d195) />
<path class=c d="M799 611L792 612"/>
<path d="M721.9 619.4l-12.7 23.9 9 3.1z" fill=url(#d196) stroke=url(#d196) />
<path class=c d="M715 633L720 635"/>
<path d="M857.1 640.7l-13.2-15.7 10.1 22.2z" fill=url(#d197) stroke=url(#d197) />
<path class=c d="M851 633L849 636"/>
<path d="M829.9 625.9l7.5-10.5-13.2-11.6z" fill=url(#d198) stroke=url(#d198) />
<path class=c d="M832 611L826 612"/>
<path d="M797 620.7l-8 0.5 12.8 1z" fill=#c3ff00 stroke=#c3ff00 />
<path d="M733.9 622.2l-6.3-0.6-9.4 24.8z" fill=url(#d199) stroke=url(#d199) />
<path class=c d="M722 635L726 635"/>
<path d="M829.9 625.9l-4.4 1.9 19.4-5z" fill=#91ff00 stroke=#91ff00 />
<path d="M727.6 621.6l-5.7-2.2-3.7 27z" fill=url(#d200) stroke=url(#d200) />
<path class=c d="M720 635L722 635"/>
<path d="M743.9 625l15-9.3-31.5 34.7z" fill=url(#d201) stroke=url(#d201) />
<path class=c d="M742 634L735 638"/>
<path d="M789 621.2l8-0.5-10.3 1.4z" fill=#c5ff00 stroke=#c5ff00 />
<path d="M818.5 621.6l-16.7 0.6-2.1 3.2z" fill=#b8ff00 stroke=#b8ff00 />
<path d="M780.5 625.7l3.7-2.8-6-1.6z" fill=#b7ff00 stroke=#b7ff00 />
<path d="M819.8 624.9l10.1 1-5.7-22.1z" fill=url(#d202) stroke=url(#d202) />
<path class=c d="M826 612L822 613"/>
<path d="M824.2 603.8l-5.7 17.8-5.6-0.7z" fill=url(#d203) stroke=url(#d203) />
<path class=c d="M822 612L818 614"/>
<path d="M784.2 622.9l-3.7 2.8 6.2-3.6z" fill=#b7ff00 stroke=#b7ff00 />
<path d="M733.9 622.2l-15.7 24.2 9.2 4z" fill=url(#d204) stroke=url(#d204) />
<path class=c d="M726 635L731 636"/>
<path d="M784.2 627.2l4.8-6-2.3 0.9z" fill=#bdff00 stroke=#bdff00 />
<path d="M801.8 622.2l-12.8-1 0.9 4z" fill=#c3ff00 stroke=#c3ff00 />
<path d="M761.3 626.5l19.2-0.8-2.3-4.4z" fill=#b0ff00 stroke=#b0ff00 />
<path d="M843.9 625l1-2.2-14.2 2z" fill=#b6ff00 stroke=#b6ff00 />
<path d="M818.6 623.1l11.3 2.8-10.1-1z" fill=#b1ff00 stroke=#b1ff00 />
<path d="M844.9 622.8l-19.4 5 5.2-3z" fill=#abff00 stroke=#abff00 />
<path d="M819.8 624.9l4.4-21.1-11.3 17.1z" fill=url(#d205) stroke=url(#d205) />
<path class=c d="M822 613L818 614"/>
<path d="M780.5 625.7l-0.4 2.1 6.6-5.7z" fill=#aaff00 stroke=#aaff00 />
<path d="M812.9 620.9l5.6 0.7-18.8 3.8z" fill=#c6ff00 stroke=#c6ff00 />
<path d="M780.1 627.8l4.1-0.6 2.5-5.1z" fill=#a4ff00 stroke=#a4ff00 />
<path d="M818.6 623.1l6.9 4.7 4.4-1.9z" fill=#a7ff00 stroke=#a7ff00 />
<path d="M790.1 625l11.7-2.8-11.9 3z" fill=#beff00 stroke=#beff00 />
<path d="M801.8 622.2l-11.7 2.8 9.6 0.4z" fill=#bfff00 stroke=#bfff00 />
<path d="M843.9 625l-7.9 26.3 18-4.1z" fill=url(#d206) stroke=url(#d206) />
<path class=c d="M840 638L849 636"/>
<path d="M825.5 627.8l-6.9-4.7-4.4 40.4z" fill=url(#d207) stroke=url(#d207) />
<path class=c d="M815 660L815 660M817 638L823 637"/>
<path d="M808.4 629.1l11.4-4.2-6.9-4z" fill=#bbff00 stroke=#bbff00 />
<path d="M789 621.2l-3.2 6.5 4.1-2.5z" fill=#c0ff00 stroke=#c0ff00 />
<path d="M785.3 602l3.7 19.2-4.8 6z" fill=url(#d208) stroke=url(#d208) />
<path class=c d="M788 614L785 615"/>
<path d="M818.6 623.1l1.2 1.8-11.4 4.2z" fill=#b5ff00 stroke=#b5ff00 />
<path d="M784.2 627.2l-4.1 0.6-0.3 1.6z" fill=#95ff00 stroke=#95ff00 />
<path d="M825.5 627.8l-11.3 35.7 5.7-31.9z" fill=url(#d209) stroke=url(#d209) />
<path class=c d="M815 660L815 661M823 637L818 640"/>
<path d="M818.6 623.1l-10.2 6 5.8 34.4z" fill=url(#d210) stroke=url(#d210) />
<path class=c d="M814 660L815 660M810 638L817 638"/>
<path d="M780.1 627.8l0.4-2.1-4.8-2.1z" fill=#b9ff00 stroke=#b9ff00 />
<path d="M785.8 627.7l3.2-6.5-3.7-19.2z" fill=url(#d211) stroke=url(#d211) />
<path class=c d="M788 614L786 616"/>
<path d="M808.4 629.1l4.5-8.2-13.2 4.5z" fill=#c2ff00 stroke=#c2ff00 />
<path d="M843.9 625l-13.2-0.2 5.3 26.5z" fill=url(#d212) stroke=url(#d212) />
<path class=c d="M834 640L840 638"/>
<path d="M785.8 627.7l-0.4-1.8 4.5-0.7z" fill=#b6ff00 stroke=#b6ff00 />
<path d="M781.4 664l4-38.1-2 0.3z" fill=url(#d213) stroke=url(#d213) />
<path class=c d="M782 661L782 661M784 638L783 639"/>
<path d="M785.3 602l-1.1 25.2-4.4 2.2z" fill=url(#d214) stroke=url(#d214) />
<path class=c d="M785 615L782 616"/>
<path d="M781.6 624.4l-0.2 39.6 2-37.8z" fill=url(#d215) stroke=url(#d215) />
<path class=c d="M781 661L782 661M782 639L783 639"/>
<path d="M780.1 627.8l-4.4-4.2 4.1 5.8z" fill=#b1ff00 stroke=#b1ff00 />
<path d="M785.4 625.9l0.4 1.8-2.4-1.5z" fill=#b6ff00 stroke=#b6ff00 />
<path d="M785.4 625.9l-4 38.1 2.1-36.8z" fill=url(#d216) stroke=url(#d216) />
<path class=c d="M782 661L782 661M784 638L783 639"/>
<path d="M830.7 624.8l-5.2 3-5.6 3.8z" fill=#a5ff00 stroke=#a5ff00 />
<path d="M785.4 625.9l-1.9 1.3 6.4-2z" fill=#c0ff00 stroke=#c0ff00 />
<path d="M785.8 627.7l-0.5-25.7-1.9 24.2z" fill=url(#d217) stroke=url(#d217) />
<path class=c d="M786 616L784 616"/>
<path d="M814.2 663.5l-5.8-34.4 1.4 2.5z" fill=url(#d218) stroke=url(#d218) />
<path class=c d="M814 660L814 661M810 638L811 640"/>
<path d="M790.1 625l1.1 4.3 8.5-3.9z" fill=#bcff00 stroke=#bcff00 />
<path d="M761.3 626.5l-17.4-1.5-7.2 27.4z" fill=url(#d219) stroke=url(#d219) />
<path class=c d="M740 640L748 640"/>
<path d="M785.6 609l4.5 16-0.2 0.2z" fill=url(#d220) stroke=url(#d220) />
<path class=c d="M788 617L788 617"/>
<path d="M781.6 624.4l3.7-22.4-5.5 27.4z" fill=url(#d221) stroke=url(#d221) />
<path class=c d="M783 616L782 616"/>
<path d="M785.3 602l-3.7 22.4 1.8 1.8z" fill=url(#d222) stroke=url(#d222) />
<path class=c d="M783 616L784 616"/>
<path d="M736.7 652.4l7.2-27.4-16.5 25.4z" fill=url(#d223) stroke=url(#d223) />
<path class=c d="M740 640L735 638"/>
<path d="M814.2 663.5l-4.4-31.9 10.1 0z" fill=url(#d224) stroke=url(#d224) />
<path class=c d="M814 661L815 661M811 640L818 640"/>
<path d="M781.4 664l0.2-39.6-4.6 7.4z" fill=url(#d225) stroke=url(#d225) />
<path class=c d="M781 661L781 661M782 639L778 641"/>
<path d="M783.5 627.2l-2.1 36.8-4.4-32.2z" fill=url(#d226) stroke=url(#d226) />
<path class=c d="M782 661L781 661M783 639L778 641"/>
<path d="M783.5 627.2l2.1-18.2 4.3 16.2z" fill=url(#d227) stroke=url(#d227) />
<path class=c d="M785 618L788 617"/>
<path d="M787.1 627.1l3-2.1-3.7 1.1z" fill=#c6ff00 stroke=#c6ff00 />
<path d="M790.1 625l-4.5-16 0.8 17.1z" fill=url(#d228) stroke=url(#d228) />
<path class=c d="M788 617L786 618"/>
<path d="M780.5 625.7l-19.2 0.8-15.1 30.5z" fill=url(#d229) stroke=url(#d229) />
<path class=c d="M754 642L763 642"/>
<path d="M786.8 626.3l21.6 2.8-8.7-3.7z" fill=#c1ff00 stroke=#c1ff00 />
<path d="M787.1 627.1l4.1 2.2-1.1-4.3z" fill=#c0ff00 stroke=#c0ff00 />
<path d="M777 631.8l4.6-7.4-1.8 5z" fill=#aeff00 stroke=#aeff00 />
<path d="M775.7 623.6l1.3 8.2 2.8-2.4z" fill=#b3ff00 stroke=#b3ff00 />
<path d="M791.2 629.3l-4.4-3 12.9-0.9z" fill=#c4ff00 stroke=#c4ff00 />
<path d="M775.7 623.6l4.8 2.1-34.3 31.3z" fill=url(#d230) stroke=url(#d230) />
<path class=c d="M763 642L758 643"/>
<path d="M815.5 631.7l15.2-6.9-10.8 6.8z" fill=#adff00 stroke=#adff00 />
<path d="M781.1 632l6-4.9-0.7-1z" fill=#bbff00 stroke=#bbff00 />
<path d="M785.6 609l-4.5 23 5.3-5.9z" fill=url(#d231) stroke=url(#d231) />
<path class=c d="M784 618L786 618"/>
<path d="M785.6 609l-2.1 18.2-2.4 4.8z" fill=url(#d232) stroke=url(#d232) />
<path class=c d="M785 618L784 618"/>
<path d="M781.1 632l2.4-4.8-6.5 4.6z" fill=#a5ff00 stroke=#a5ff00 />
<path d="M836 651.3l-5.3-26.5-14.7 30.5z" fill=url(#d233) stroke=url(#d233) />
<path class=c d="M834 640L822 643"/>
<path d="M809.8 631.6l5.7 0.1 4.4-0.1z" fill=#97ff00 stroke=#97ff00 />
<path d="M791.2 629.3l-4.1-2.2-0.3-0.8z" fill=#c7ff00 stroke=#c7ff00 />
<path d="M809.8 631.6l-1.4-2.5-8.9-0.1z" fill=#b0ff00 stroke=#b0ff00 />
<path d="M761.3 626.5l-24.6 25.9 9.5 4.6z" fill=url(#d234) stroke=url(#d234) />
<path class=c d="M748 640L754 642"/>
<path d="M808.4 629.1l-21.6-2.8 12.7 2.7z" fill=#c6ff00 stroke=#c6ff00 />
<path d="M787.1 627.1l-6 4.9-2.6-3.6z" fill=#c0ff00 stroke=#c0ff00 />
<path d="M787.1 627.1l-4.4 6.4 4.1-7.2z" fill=#c2ff00 stroke=#c2ff00 />
<path d="M830.7 624.8l-15.2 6.9 0.5 23.6z" fill=url(#d235) stroke=url(#d235) />
<path class=c d="M816 644L822 643"/>
<path d="M781.1 632l-4.1-0.2 1.5-3.4z" fill=#afff00 stroke=#afff00 />
<path d="M777 631.8l-1.3-8.2-29.5 33.4z" fill=url(#d236) stroke=url(#d236) />
<path class=c d="M758 643L762 644"/>
<path d="M782.7 633.5l4.4-6.4-8.6 1.3z" fill=#bfff00 stroke=#bfff00 />
<path d="M815.5 631.7l-5.7-0.1-11.8 25.4z" fill=url(#d237) stroke=url(#d237) />
<path class=c d="M804 645L806 645"/>
<path d="M809.8 631.6l-10.3-2.6-1.5 28z" fill=url(#d238) stroke=url(#d238) />
<path class=c d="M799 646L804 645"/>
<path d="M815.5 631.7l-17.5 25.3 18-1.7z" fill=url(#d239) stroke=url(#d239) />
<path class=c d="M806 645L816 644"/>
<path d="M778.5 628.4l-1.5 3.4-21.1 28.3z" fill=url(#d240) stroke=url(#d240) />
<path class=c d="M767 646L765 647"/>
<path d="M777 631.8l-30.8 25.2 9.7 3.1z" fill=url(#d241) stroke=url(#d241) />
<path class=c d="M762 644L767 646"/>
<path d="M786.8 626.3l-4.1 7.2-15.7-11.3z" fill=url(#d242) stroke=url(#d242) />
<path class=c d="M771 625L776 624"/>
<path d="M799.5 629l-12.7-2.7-11.5 34z" fill=url(#d243) stroke=url(#d243) />
<path class=c d="M780 648L785 648"/>
<path d="M782.7 633.5l-4.2-5.1-11.5-6.2z" fill=url(#d244) stroke=url(#d244) />
<path class=c d="M772 625L771 625"/>
<path d="M798 657l1.5-28-24.2 31.3z" fill=url(#d245) stroke=url(#d245) />
<path class=c d="M799 646L785 648"/>
<path d="M767 622.2l11.5 6.2-22.6 31.7z" fill=url(#d246) stroke=url(#d246) />
<path class=c d="M765 647L759 650M772 625L765 627"/>
<path d="M786.8 626.3l-19.8-4.1 8.3 38.1z" fill=url(#d247) stroke=url(#d247) />
<path class=c d="M773 651L780 648M776 624L768 628"/>
<path d="M775.3 660.3l-8.3-38.1-11.1 37.9z" fill=url(#d248) stroke=url(#d248) />
<path class=c d="M773 651L759 650M768 628L765 627"/>
</g>
<line class="k" x1="590.4" y1="739.6" x2="579.2" y2="465.5"/>
<line class="k" x1="590.4" y1="739.6" x2="585.6" y2="740.5"/>
<line class="k" x1="588.6" y1="696.1" x2="583.8" y2="697"/>
<line class="k" x1="586.8" y1="651.8" x2="582" y2="652.7"/>
<line class="k" x1="585" y1="606.6" x2="580.2" y2="607.5"/>
<line class="k" x1="583.1" y1="560.5" x2="578.3" y2="561.4"/>
<line class="k" x1="581.2" y1="513.5" x2="576.4" y2="514.4"/>
<line class="k" x1="579.2" y1="465.5" x2="574.4" y2="466.4"/>
<line class="k" x1="590.4" y1="739.6" x2="804.7" y2="818"/>
<line class="k" x1="600.9" y1="743.4" x2="597.4" y2="745.4"/>
<line class="k" x1="613.7" y1="748.1" x2="611.9" y2="749.1"/>
<line class="k" x1="626.7" y1="752.8" x2="623.2" y2="754.8"/>
<line class="k" x1="639.9" y1="757.7" x2="638.2" y2="758.7"/>
<line class="k" x1="653.4" y1="762.6" x2="649.9" y2="764.6"/>
<line class="k" x1="667.2" y1="767.7" x2="665.5" y2="768.7"/>
<line class="k" x1="681.3" y1="772.8" x2="677.8" y2="774.8"/>
<line class="k" x1="695.6" y1="778.1" x2="693.9" y2="779.1"/>
<line class="k" x1="710.2" y1="783.4" x2="706.7" y2="785.4"/>
<line class="k" x1="725.2" y1="788.9" x2="723.4" y2="789.9"/>
<line class="k" x1="740.4" y1="794.5" x2="736.9" y2="796.5"/>
<line class="k" x1="756" y1="800.2" x2="754.2" y2="801.2"/>
<line class="k" x1="771.8" y1="806" x2="768.4" y2="808"/>
<line class="k" x1="788.1" y1="812" x2="786.3" y2="813"/>
<line class="k" x1="804.7" y1="818" x2="801.2" y2="820"/>
<line class="k" x1="804.7" y1="818" x2="975.5" y2="727.7"/>
<line class="k" x1="804.7" y1="818" x2="808.8" y2="819.8"/>
<line class="k" x1="824.6" y1="807.5" x2="826.5" y2="808.3"/>
<line class="k" x1="843.9" y1="797.3" x2="848" y2="799.1"/>
<line class="k" x1="862.4" y1="787.5" x2="864.2" y2="788.3"/>
<line class="k" x1="880.3" y1="778" x2="884.4" y2="779.8"/>
<line class="k" x1="897.5" y1="768.9" x2="899.4" y2="769.7"/>
<line class="k" x1="914.2" y1="760.1" x2="918.3" y2="761.9"/>
<line class="k" x1="930.3" y1="751.6" x2="932.1" y2="752.4"/>
<line class="k" x1="945.9" y1="743.3" x2="950" y2="745.1"/>
<line class="k" x1="960.9" y1="735.4" x2="962.8" y2="736.2"/>
<line class="k" x1="975.5" y1="727.7" x2="979.7" y2="729.5"/>
<rect x="900.5" y="457.5" width="16" height="260" fill="url(#cbar)" stroke="#111" stroke-width="1"/>
<line class="k" x1="916.5" y1="460.6" x2="921.5" y2="460.6"/>
<text class="cl" x="927" y="465.6">26.00</text>
<line class="k" x1="916.5" y1="486.1" x2="921.5" y2="486.1"/>
<text class="cl" x="927" y="491.1">21.66</text>
<line class="k" x1="916.5" y1="511.5" x2="921.5" y2="511.5"/>
<text class="cl" x="927" y="516.5">17.32</text>
<line class="k" x1="916.5" y1="537" x2="921.5" y2="537"/>
<text class="cl" x="927" y="542">12.98</text>
<line class="k" x1="916.5" y1="562.4" x2="921.5" y2="562.4"/>
<text class="cl" x="927" y="567.4">8.64</text>
<line class="k" x1="916.5" y1="587.9" x2="921.5" y2="587.9"/>
<text class="cl" x="927" y="592.9">4.30</text>
<line class="k" x1="916.5" y1="613.4" x2="921.5" y2="613.4"/>
<text class="cl" x="927" y="618.4">-0.04</text>
<line class="k" x1="916.5" y1="638.8" x2="921.5" y2="638.8"/>
<text class="cl" x="927" y="643.8">-4.38</text>
<line class="k" x1="916.5" y1="664.3" x2="921.5" y2="664.3"/>
<text class="cl" x="927" y="669.3">-8.72</text>
<line class="k" x1="916.5" y1="689.7" x2="921.5" y2="689.7"/>
<text class="cl" x="927" y="694.7">-13.06</text>
<line class="k" x1="916.5" y1="715.2" x2="921.5" y2="715.2"/>
<text class="cl" x="927" y="720.2">-17.40</text>
<text class="ct" x="881" y="446">Error (MPa)</text>
<text class="zl" transform="matrix(0.80 -0.06 0.03 1 582 749.3)">-30</text>
<text class="zl" transform="matrix(0.80 -0.06 0.03 1 580.2 705.8)">-20</text>
<text class="zl" transform="matrix(0.80 -0.06 0.03 1 578.4 661.5)">-10</text>
<text class="zl" transform="matrix(0.80 -0.06 0.03 1 576.6 616.3)">0</text>
<text class="zl" transform="matrix(0.80 -0.06 0.03 1 574.7 570.2)">10</text>
<text class="zl" transform="matrix(0.80 -0.06 0.03 1 572.8 523.2)">20</text>
<text class="zl" transform="matrix(0.80 -0.06 0.03 1 570.8 475.2)">30</text>
<text class="xl" transform="matrix(1.492 -0.579 1.548 0.572 600.2 747.3)">0</text>
<text class="xl" transform="matrix(1.484 -0.599 1.548 0.572 626.2 756.9)">50</text>
<text class="xl" transform="matrix(1.475 -0.621 1.548 0.572 653.2 766.9)">100</text>
<text class="xl" transform="matrix(1.465 -0.644 1.548 0.572 681.2 777.2)">150</text>
<text class="xl" transform="matrix(1.454 -0.669 1.548 0.572 710.4 788.0)">200</text>
<text class="xl" transform="matrix(1.441 -0.695 1.548 0.572 740.9 799.3)">250</text>
<text class="xl" transform="matrix(1.427 -0.723 1.548 0.572 772.6 811.0)">300</text>
<text class="xl" transform="matrix(1.411 -0.754 1.548 0.572 805.7 823.2)">350</text>
<text class="yl" transform="matrix(1.548 0.572 -1.101 0.591 808.4 824.6)">0</text>
<text class="yl" transform="matrix(1.559 0.541 -1.101 0.591 847.9 803.3)">20</text>
<text class="yl" transform="matrix(1.568 0.513 -1.101 0.591 884.6 783.7)">40</text>
<text class="yl" transform="matrix(1.576 0.488 -1.101 0.591 918.7 765.3)">60</text>
<text class="yl" transform="matrix(1.583 0.465 -1.101 0.591 950.5 748.3)">80</text>
<text class="yl" transform="matrix(1.589 0.443 -1.101 0.591 980.3 732.3)">100</text>
<text class="tt" transform="translate(539 568.5) rotate(90)">Error (MPa)</text>
<text class="tx" transform="matrix(1.443 0.565 -1.555 0.687 647.1 795.3)">Data points</text>
<text class="tx" transform="matrix(1.213 -0.699 1.716 0.543 948.1 786.3)">Predictions</text>
<text class="pl" x="599" y="488.7">(d)</text>
<line class="g" x1="95.2" y1="1157.1" x2="86.8" y2="891.3"/>
<line class="g" x1="133.4" y1="1142.6" x2="127.5" y2="884.7"/>
<line class="g" x1="169.4" y1="1129" x2="165.7" y2="878.5"/>
<line class="g" x1="203.2" y1="1116.2" x2="201.5" y2="872.6"/>
<line class="g" x1="52.6" y1="1129.1" x2="235.2" y2="1066.2"/>
<line class="g" x1="50.8" y1="1084.8" x2="235.2" y2="1027.7"/>
<line class="g" x1="49" y1="1039.6" x2="235.2" y2="988.6"/>
<line class="g" x1="47.1" y1="993.5" x2="235.2" y2="948.8"/>
<line class="g" x1="45.2" y1="946.5" x2="235.2" y2="908.3"/>
<line class="g" x1="245.5" y1="1106.9" x2="246" y2="868.4"/>
<line class="g" x1="270.4" y1="1113.8" x2="272.3" y2="871.6"/>
<line class="g" x1="296.3" y1="1121" x2="299.6" y2="874.9"/>
<line class="g" x1="323" y1="1128.4" x2="327.8" y2="878.3"/>
<line class="g" x1="350.6" y1="1136" x2="357.1" y2="881.8"/>
<line class="g" x1="379.2" y1="1144" x2="387.5" y2="885.5"/>
<line class="g" x1="408.8" y1="1152.2" x2="419" y2="889.3"/>
<line class="g" x1="235.2" y1="1066.2" x2="441.5" y2="1118.2"/>
<line class="g" x1="235.2" y1="1027.7" x2="443.4" y2="1074.9"/>
<line class="g" x1="235.2" y1="988.6" x2="445.4" y2="1030.8"/>
<line class="g" x1="235.2" y1="948.8" x2="447.5" y2="985.9"/>
<line class="g" x1="235.2" y1="908.3" x2="449.6" y2="940"/>
<line class="g" x1="64.9" y1="1176.4" x2="245.5" y2="1106.9"/>
<line class="g" x1="90.7" y1="1185.8" x2="270.4" y2="1113.8"/>
<line class="g" x1="117.4" y1="1195.6" x2="296.3" y2="1121"/>
<line class="g" x1="145.3" y1="1205.8" x2="323" y2="1128.4"/>
<line class="g" x1="174.2" y1="1216.4" x2="350.6" y2="1136"/>
<line class="g" x1="204.4" y1="1227.5" x2="379.2" y2="1144"/>
<line class="g" x1="235.8" y1="1239" x2="408.8" y2="1152.2"/>
<line class="g" x1="95.2" y1="1157.1" x2="307.9" y2="1230.3"/>
<line class="g" x1="133.4" y1="1142.6" x2="344.3" y2="1211"/>
<line class="g" x1="169.4" y1="1129" x2="378.2" y2="1193.1"/>
<line class="g" x1="203.2" y1="1116.2" x2="409.9" y2="1176.3"/>
<path class="e" d="M43.2 898.5L235.2 867.1L451.7 893.2L439.5 1160.7"/>
<path class="e" d="M54.4 1172.6L235.2 1104L439.5 1160.7"/>
<line class="e" x1="235.2" y1="1104" x2="235.2" y2="867.1"/>
<g stroke-width=".5" stroke-linejoin="round">
<path d="M167.4 994.2l21.1-4.6-11.5 0.3z" fill=#c9ff00 stroke=#c9ff00 />
<path d="M193.6 997.4l13.8-5.3-7.4-2.5z" fill=#c3ff00 stroke=#c3ff00 />
<path d="M188.5 989.6l-18.1 7.8 29.6-7.8z" fill=#cbff00 stroke=#cbff00 />
<path d="M193.6 997.4l21.4-4-7.6-1.3z" fill=#c3ff00 stroke=#c3ff00 />
<path d="M170.4 997.4l18.1-7.8-21.1 4.6z" fill=#ccff00 stroke=#ccff00 />
<path d="M170.4 997.4l23.2 0 6.4-7.8z" fill=#c7ff00 stroke=#c7ff00 />
<path d="M219.4 998.8l10.9-1.1-7.7-2.5z" fill=#c5ff00 stroke=#c5ff00 />
<path d="M193.6 997.4l-14.5 4.4 35.9-8.4z" fill=#c4ff00 stroke=#c4ff00 />
<path d="M157.6 999.7l12.8-2.3-3-3.2z" fill=#caff00 stroke=#caff00 />
<path d="M215 993.4l-28.7 11.8 36.3-10z" fill=#c6ff00 stroke=#c6ff00 />
<path d="M193.6 997.4l-23.2 0 8.7 4.4z" fill=#c6ff00 stroke=#c6ff00 />
<path d="M186.3 1005.2l33.1-6.4 3.2-3.6z" fill=#c4ff00 stroke=#c4ff00 />
<path d="M219.4 998.8l-17.3 5.7 28.2-6.8z" fill=#c4ff00 stroke=#c4ff00 />
<path d="M179.1 1001.8l7.2 3.4 28.7-11.8z" fill=#c5ff00 stroke=#c5ff00 />
<path d="M94.9 1022.4l3.8-4.3-5.2 0.4z" fill=#00ed00 stroke=#00ed00 />
<path d="M211 1004.2l27.1-4.6-7.8-1.9z" fill=#c6ff00 stroke=#c6ff00 />
<path d="M157.6 999.7l-10.2 4.9 23-7.2z" fill=#c9ff00 stroke=#c9ff00 />
<path d="M94.9 1022.4l9.1-4.6-5.3 0.3z" fill=#00ed00 stroke=#00ed00 />
<path d="M202.1 1004.5l8.9-0.3 19.3-6.5z" fill=#c6ff00 stroke=#c6ff00 />
<path d="M202.1 1004.5l17.3-5.7-33.1 6.4z" fill=#c3ff00 stroke=#c3ff00 />
<path d="M179.1 1001.8l-8.7-4.4-14.5 8.9z" fill=#cdff00 stroke=#cdff00 />
<path d="M242 1005.3l14.9-3.4-10.9-0.4z" fill=#c8ff00 stroke=#c8ff00 />
<path d="M104 1017.8l-9.1 4.6 1.4 3.5z" fill=#00ed00 stroke=#00ed00 />
<path d="M238.1 999.6l-25.5-2.9 33.4 4.8z" fill=url(#e1) stroke=url(#e1) />
<path class=c d="M224 998L227 999"/>
<path d="M170.4 997.4l-23 7.2 8.5 1.7z" fill=#cdff00 stroke=#cdff00 />
<path d="M242 1005.3l25.9-2.1-11-1.3z" fill=#c9ff00 stroke=#c9ff00 />
<path d="M186.3 1005.2l-7.2-3.4-23.2 4.5z" fill=#c8ff00 stroke=#c8ff00 />
<path d="M238.1 999.6l-27.1 4.6-11.5 4.6z" fill=#ccff00 stroke=#ccff00 />
<path d="M109.3 1016.1l-5.3 1.7-7.7 8.1z" fill=url(#e2) stroke=url(#e2) />
<path class=c d="M107 1017L107 1018"/>
<path d="M267.9 1003.2l-5.8-3.9 16.8 4.3z" fill=url(#e3) stroke=url(#e3) />
<path class=c d="M263 1000L265 1000"/>
<path d="M179.6 1005.8l22.5-1.3-15.8 0.7z" fill=#c8ff00 stroke=#c8ff00 />
<path d="M262.1 999.3l27.9 5.1-11.1-0.8z" fill=url(#e4) stroke=url(#e4) />
<path class=c d="M268 1000L265 1000"/>
<path d="M212.6 996.7l29.4 8.6 4-3.8z" fill=url(#e5) stroke=url(#e5) />
<path class=c d="M227 1001L227 999"/>
<path d="M211 1004.2l-8.9 0.3-25.3 5.1z" fill=#cbff00 stroke=#cbff00 />
<path d="M97.7 1031.1l11.6-15-13 9.8z" fill=url(#e6) stroke=url(#e6) />
<path class=c d="M107 1019L107 1018"/>
<path d="M203.3 1012.7l34.8-13.1-38.6 9.2z" fill=#c6ff00 stroke=#c6ff00 />
<path d="M203.3 1012.7l9.3-16 25.5 2.9z" fill=url(#e7) stroke=url(#e7) />
<path class=c d="M209 1003L224 998"/>
<path d="M282.9 1011.3l12.5-2.9-5.4-4z" fill=#c3ff00 stroke=#c3ff00 />
<path d="M147.4 1004.6l-10.5 4.8 19-3.1z" fill=#cbff00 stroke=#cbff00 />
<path d="M242 1005.3l-7.6 8.9 33.5-11z" fill=#c7ff00 stroke=#c7ff00 />
<path d="M202.1 1004.5l-22.5 1.3-2.8 3.8z" fill=#cdff00 stroke=#cdff00 />
<path d="M109.3 1016.1l-11.6 15 17.1-14.2z" fill=url(#e8) stroke=url(#e8) />
<path class=c d="M107 1019L110 1021"/>
<path d="M179.6 1005.8l6.7-0.6-37.9 7.4z" fill=#c9ff00 stroke=#c9ff00 />
<path d="M234.4 1014.2l27.7-14.9 5.8 3.9z" fill=url(#e9) stroke=url(#e9) />
<path class=c d="M257 1002L263 1000"/>
<path d="M186.3 1005.2l-30.4 1.1-7.5 6.3z" fill=#caff00 stroke=#caff00 />
<path d="M242 1005.3l-29.4-8.6 14.8 12.8z" fill=url(#e10) stroke=url(#e10) />
<path class=c d="M227 1001L220 1003"/>
<path d="M282.9 1011.3l2.6 1.4 9.9-4.3z" fill=#c0ff00 stroke=#c0ff00 />
<path d="M234.4 1014.2l7.6-8.9-14.6 4.2z" fill=#c9ff00 stroke=#c9ff00 />
<path d="M295.4 1008.4l-9.9 4.3 15.4-2z" fill=#c4ff00 stroke=#c4ff00 />
<path d="M262.1 999.3l-21.3 18.7 49.2-13.6z" fill=url(#e11) stroke=url(#e11) />
<path class=c d="M259 1002L268 1000"/>
<path d="M211 1004.2l-28.6-0.4 17.1 5z" fill=url(#e12) stroke=url(#e12) />
<path class=c d="M191 1004L188 1005"/>
<path d="M97.7 1031.1l1.5 3 15.6-17.2z" fill=url(#e13) stroke=url(#e13) />
<path class=c d="M110 1023L110 1021"/>
<path d="M182.4 1003.8l28.6 0.4-34.2 5.4z" fill=url(#e14) stroke=url(#e14) />
<path class=c d="M191 1004L181 1006"/>
<path d="M136.9 1009.4l-0.2-7 19.2 3.9z" fill=url(#e15) stroke=url(#e15) />
<path class=c d="M137 1005L144 1004"/>
<path d="M282.9 1011.3l7.1-6.9-39.4 15z" fill=#c2ff00 stroke=#c2ff00 />
<path d="M196.6 1012.6l6.7 0.1-3.8-3.9z" fill=#c5ff00 stroke=#c5ff00 />
<path d="M179.6 1005.8l-24.5 8.7 21.7-4.9z" fill=#d1ff00 stroke=#d1ff00 />
<path d="M107.8 1016.9l12.5-1.7-5.5 1.7z" fill=#86ff00 stroke=#86ff00 />
<path d="M155.9 1006.3l-19.2-3.9 11.7 10.2z" fill=url(#e16) stroke=url(#e16) />
<path class=c d="M144 1004L141 1006"/>
<path d="M99.2 1034.1l8.6-17.2 7 0z" fill=url(#e17) stroke=url(#e17) />
<path class=c d="M104 1026L110 1023"/>
<path d="M285.5 1012.7l7.7 1.1 7.7-3.1z" fill=#c4ff00 stroke=#c4ff00 />
<path d="M203.3 1012.7l-2.9-24.2 12.2 8.2z" fill=url(#e18) stroke=url(#e18) />
<path class=c d="M202 1004L209 1003"/>
<path d="M155.1 1014.5l24.5-8.7-31.2 6.8z" fill=#cfff00 stroke=#cfff00 />
<path d="M212.6 996.7l-5.7 20.1 20.5-7.3z" fill=url(#e19) stroke=url(#e19) />
<path class=c d="M210 1005L220 1003"/>
<path d="M293.2 1013.8l13.3-0.7-5.6-2.4z" fill=#c6ff00 stroke=#c6ff00 />
<path d="M200.4 988.5l2.9 24.2-6.7-0.1z" fill=url(#e20) stroke=url(#e20) />
<path class=c d="M202 1004L198 1004"/>
<path d="M182.4 1003.8l14.2 8.8 2.9-3.8z" fill=url(#e21) stroke=url(#e21) />
<path class=c d="M186 1006L188 1005"/>
<path d="M212.6 996.7l-12.2-8.2 3.8 27.3z" fill=url(#e22) stroke=url(#e22) />
<path class=c d="M203 1005L209 1004"/>
<path d="M285.5 1012.7l-2.6-1.4-13.3 7z" fill=#bbff00 stroke=#bbff00 />
<path d="M262.1 999.3l-27.7 14.9 6.4 3.8z" fill=url(#e23) stroke=url(#e23) />
<path class=c d="M257 1002L259 1002"/>
<path d="M136.7 1002.4l0.2 7-10.9 5.6z" fill=url(#e24) stroke=url(#e24) />
<path class=c d="M137 1005L133 1006"/>
<path d="M206.9 1016.8l5.7-20.1-8.4 19.1z" fill=url(#e25) stroke=url(#e25) />
<path class=c d="M210 1005L209 1004"/>
<path d="M200.4 988.5l-3.8 24.1 0.9 3.8z" fill=url(#e26) stroke=url(#e26) />
<path class=c d="M198 1004L199 1006"/>
<path d="M290 1004.4l-49.2 13.6 9.8 1.4z" fill=#c2ff00 stroke=#c2ff00 />
<path d="M197.5 1016.4l3.8 0.8 2.9-1.4z" fill=#9fff00 stroke=#9fff00 />
<path d="M197.5 1016.4l-0.9-3.8-14.2-8.8z" fill=url(#e27) stroke=url(#e27) />
<path class=c d="M186 1006L186 1007"/>
<path d="M200.4 988.5l-2.9 27.9 6.7-0.6z" fill=url(#e28) stroke=url(#e28) />
<path class=c d="M199 1006L203 1005"/>
<path d="M279.6 1016.7l13.6-2.9-7.7-1.1z" fill=#c0ff00 stroke=#c0ff00 />
<path d="M218.2 1016.6l16.2-2.4-7-4.7z" fill=#c8ff00 stroke=#c8ff00 />
<path d="M201.3 1017.2l5.6-0.4-2.7-1z" fill=#a6ff00 stroke=#a6ff00 />
<path d="M199.4 1016.4l1.9 0.8-3.8-0.8z" fill=#a6ff00 stroke=#a6ff00 />
<path d="M107.8 1016.9l-5.2-0.6 17.7-1.1z" fill=#adff00 stroke=#adff00 />
<path d="M347.2 1014.1l6.3 3.9-12.5-6.7z" fill=#c5ff00 stroke=#c5ff00 />
<path d="M206.9 1016.8l11.3-0.2 9.2-7.1z" fill=#c6ff00 stroke=#c6ff00 />
<path d="M102.6 1016.3l5.2 0.6-8.6 17.2z" fill=url(#e29) stroke=url(#e29) />
<path class=c d="M104 1026L101 1026"/>
<path d="M293.2 1013.8l-5.9-8.6 19.2 7.9z" fill=url(#e30) stroke=url(#e30) />
<path class=c d="M289 1008L293 1008"/>
<path d="M279.6 1016.7l5.9-4-15.9 5.6z" fill=#b8ff00 stroke=#b8ff00 />
<path d="M318 1019.2l29.2-5.1-6.2-2.8z" fill=#c6ff00 stroke=#c6ff00 />
<path d="M104.3 1019.7l10.1-4.5 5.9 0z" fill=#adff00 stroke=#adff00 />
<path d="M201.3 1017.2l-1.9-0.8 7.5 0.4z" fill=#adff00 stroke=#adff00 />
<path d="M269.6 1018.3l13.3-7-32.3 8.1z" fill=#b6ff00 stroke=#b6ff00 />
<path d="M163 1017.4l19.4-13.6-5.6 5.8z" fill=url(#e31) stroke=url(#e31) />
<path class=c d="M177 1008L181 1006"/>
<path d="M293.2 1013.8l-13.6 2.9 7.7-11.5z" fill=url(#e32) stroke=url(#e32) />
<path class=c d="M285 1008L289 1008"/>
<path d="M102.6 1016.3l1.7 3.4 16-4.5z" fill=#aeff00 stroke=#aeff00 />
<path d="M155.1 1014.5l7.9 2.9 13.8-7.8z" fill=#d0ff00 stroke=#d0ff00 />
<path d="M287.3 1005.2l7.6 14.9 11.6-7z" fill=url(#e33) stroke=url(#e33) />
<path class=c d="M289 1009L293 1008"/>
<path d="M136.7 1002.4l-25.8 19.6 37.5-9.4z" fill=url(#e34) stroke=url(#e34) />
<path class=c d="M130 1008L141 1006"/>
<path d="M100.4 1015.2l2.2 1.1-3.4 17.8z" fill=url(#e35) stroke=url(#e35) />
<path class=c d="M101 1026L100 1027"/>
<path d="M306.5 1013.1l-4.5 3.6 10.2-1.2z" fill=#cdff00 stroke=#cdff00 />
<path d="M114.4 1015.2l-5.1-2.2 16.7 2z" fill=#d0ff00 stroke=#d0ff00 />
<path d="M115.9 1016.2l20.8-13.8-10.7 12.6z" fill=url(#e36) stroke=url(#e36) />
<path class=c d="M129 1008L133 1006"/>
<path d="M294.9 1020.1l7.1-3.4 4.5-3.6z" fill=#c3ff00 stroke=#c3ff00 />
<path d="M199.4 1016.4l-1.9 0-17.5 5.2z" fill=#b0ff00 stroke=#b0ff00 />
<path d="M197.5 1016.4l-15.1-12.6-2.4 17.8z" fill=url(#e37) stroke=url(#e37) />
<path class=c d="M186 1007L182 1008"/>
<path d="M339 1020l14.5-2-6.3-3.9z" fill=#c0ff00 stroke=#c0ff00 />
<path d="M353.5 1018l6.5 2.4-19-9.1z" fill=#c6ff00 stroke=#c6ff00 />
<path d="M114.4 1015.2l-10.1 4.5 5-6.7z" fill=#c8ff00 stroke=#c8ff00 />
<path d="M279.6 1016.7l1.8 4.6 5.9-16.1z" fill=url(#e38) stroke=url(#e38) />
<path class=c d="M286 1009L285 1008"/>
<path d="M240.8 1018l-6.4-3.8-5.1-4.5z" fill=url(#e39) stroke=url(#e39) />
<path class=c d="M230 1011L231 1011"/>
<path d="M339 1020l8.2-5.9-29.2 5.1z" fill=#c0ff00 stroke=#c0ff00 />
<path d="M206.9 1016.8l-7.5-0.4-19.4 5.2z" fill=#b7ff00 stroke=#b7ff00 />
<path d="M109.3 1013l-0.4 3.2 17.1-1.2z" fill=#d4ff00 stroke=#d4ff00 />
<path d="M234.4 1014.2l-16.2 2.4 11.1-6.9z" fill=url(#e40) stroke=url(#e40) />
<path class=c d="M227 1011L230 1011"/>
<path d="M108.9 1016.2l7 0 10.1-1.2z" fill=#ceff00 stroke=#ceff00 />
<path d="M125.1 1023.3l30-8.8-6.7-1.9z" fill=#c8ff00 stroke=#c8ff00 />
<path d="M281.4 1021.3l13.5-1.2-7.6-14.9z" fill=url(#e41) stroke=url(#e41) />
<path class=c d="M289 1009L286 1009"/>
<path d="M100.4 1015.2l3.9 4.5-1.7-3.4z" fill=#c7ff00 stroke=#c7ff00 />
<path d="M100.4 1015.2l-1.2 18.9 3 7z" fill=url(#e42) stroke=url(#e42) />
<path class=c d="M100 1027L102 1032"/>
<path d="M106.9 1018l-1.6 37 3.6-38.8z" fill=url(#e43) stroke=url(#e43) />
<path class=c d="M106 1050L106 1050M106 1030L108 1030"/>
<path d="M136.7 1002.4l-20.8 13.8-5 5.8z" fill=url(#e44) stroke=url(#e44) />
<path class=c d="M129 1008L130 1008"/>
<path d="M104.3 1019.7l-3.9-4.5 8.9-2.2z" fill=#d1ff00 stroke=#d1ff00 />
<path d="M258.1 1022.4l21.5-5.7-10 1.6z" fill=#baff00 stroke=#baff00 />
<path d="M106.9 1018l2-1.8 0.4-3.2z" fill=#d4ff00 stroke=#d4ff00 />
<path d="M100.4 1015.2l4.9 39.8 1.6-37z" fill=url(#e45) stroke=url(#e45) />
<path class=c d="M105 1050L106 1050M102 1030L106 1030"/>
<path d="M105.3 1055l-1.1-34.3 4.7-4.5z" fill=url(#e46) stroke=url(#e46) />
<path class=c d="M105 1050L106 1050M105 1031L108 1030"/>
<path d="M218.2 1016.6l-11.3 0.2-15.4-4.4z" fill=url(#e47) stroke=url(#e47) />
<path class=c d="M193 1013L194 1013"/>
<path d="M294.9 1020.1l-13.5 1.2 7.7-2.6z" fill=#b1ff00 stroke=#b1ff00 />
<path d="M100.4 1015.2l6.5 2.8 2.4-5z" fill=#d8ff00 stroke=#d8ff00 />
<path d="M302 1016.7l-7.1 3.4-5.8-1.4z" fill=#c5ff00 stroke=#c5ff00 />
<path d="M250.6 1019.4l-9.8-1.4-10.5 5.1z" fill=#b1ff00 stroke=#b1ff00 />
<path d="M182.4 1003.8l-19.4 13.6-10.5 5.1z" fill=url(#e48) stroke=url(#e48) />
<path class=c d="M177 1008L175 1009"/>
<path d="M258.1 1022.4l23.3-1.1-1.8-4.6z" fill=#b5ff00 stroke=#b5ff00 />
<path d="M108.9 1016.2l-4.7 4.5 11.7-4.5z" fill=#caff00 stroke=#caff00 />
<path d="M248.6 1020.6l21-2.3-19 1.1z" fill=#c0ff00 stroke=#c0ff00 />
<path d="M105.3 1055l-4.9-39.8 1.3 6.4z" fill=url(#e49) stroke=url(#e49) />
<path class=c d="M105 1050L105 1050M102 1030L103 1032"/>
<path d="M339 1020l-0.4 1 14.9-3z" fill=#c1ff00 stroke=#c1ff00 />
<path d="M105.3 1055l-3.6-33.4 2.5-0.9z" fill=url(#e50) stroke=url(#e50) />
<path class=c d="M105 1050L105 1050M103 1032L105 1031"/>
<path d="M240.8 1018l-11.5-8.3 1 13.4z" fill=url(#e51) stroke=url(#e51) />
<path class=c d="M231 1011L229 1012"/>
<path d="M191.5 1012.4l15.4 4.4-26.9 4.8z" fill=url(#e52) stroke=url(#e52) />
<path class=c d="M193 1013L191 1013"/>
<path d="M180 1021.6l2.4-17.8-29.9 18.7z" fill=url(#e53) stroke=url(#e53) />
<path class=c d="M182 1008L175 1009"/>
<path d="M110.9 1022l-4.5 23.7 42-33.1z" fill=url(#e54) stroke=url(#e54) />
<path class=c d="M108 1035L123 1032"/>
<path d="M135.5 1025.3l27.5-7.9-7.9-2.9z" fill=#c8ff00 stroke=#c8ff00 />
<path d="M104.2 1020.7l-2.5 0.9 14.2-5.4z" fill=#c5ff00 stroke=#c5ff00 />
<path d="M115.9 1016.2l-5.8 2.6 0.8 3.2z" fill=#c8ff00 stroke=#c8ff00 />
<path d="M289.1 1018.7l-7.7 2.6-7.6-0.6z" fill=#c2ff00 stroke=#c2ff00 />
<path d="M101.7 1021.6l8.4-2.8 5.8-2.6z" fill=#cbff00 stroke=#cbff00 />
<path d="M106.4 1045.7l18.7-22.4 23.3-10.7z" fill=url(#e55) stroke=url(#e55) />
<path class=c d="M115 1036L123 1032"/>
<path d="M302 1016.7l-3.8 6.6 14-7.8z" fill=#d0ff00 stroke=#d0ff00 />
<path d="M321.5 1024.8l17.5-4.8-21-0.8z" fill=#b9ff00 stroke=#b9ff00 />
<path d="M312.2 1015.5l-14 7.8 19.8-4.1z" fill=#cbff00 stroke=#cbff00 />
<path d="M101.7 1021.6l-1.3-6.4 1.8 25.9z" fill=url(#e56) stroke=url(#e56) />
<path class=c d="M102 1032L102 1033"/>
<path d="M248.6 1020.6l-1.1 2.5 22.1-4.8z" fill=#c2ff00 stroke=#c2ff00 />
<path d="M190.2 1021.1l28-4.5-26.7-4.2z" fill=#dfff00 stroke=#dfff00 />
<path class=c d="M194 1013L191 1013"/>
<path d="M110.1 1018.8l-8.4 2.8 0.5 19.5z" fill=url(#e57) stroke=url(#e57) />
<path class=c d="M102 1033L105 1033"/>
<path d="M247.5 1023.1l10.6-0.7 11.5-4.1z" fill=#c1ff00 stroke=#c1ff00 />
<path d="M110.9 1022l-0.8-3.2-3.6 4.9z" fill=#bcff00 stroke=#bcff00 />
<path d="M353.5 1018l-5.4 5.7 11.9-3.3z" fill=#c6ff00 stroke=#c6ff00 />
<path d="M106.5 1023.7l3.6-4.9-7.9 22.3z" fill=url(#e58) stroke=url(#e58) />
<path class=c d="M105 1033L104 1033"/>
<path d="M281.4 1021.3l-23.3 1.1 15.7-1.7z" fill=#c1ff00 stroke=#c1ff00 />
<path d="M218.2 1016.6l-10.8 7.3 21.9-14.2z" fill=url(#e59) stroke=url(#e59) />
<path class=c d="M224 1013L227 1011"/>
<path d="M338.6 1021l9.5 2.7 5.4-5.7z" fill=#c6ff00 stroke=#c6ff00 />
<path d="M338.6 1021l0.4-1-17.5 4.8z" fill=#beff00 stroke=#beff00 />
<path d="M276.1 1021.1l25.9-4.4-12.9 2z" fill=#d4ff00 stroke=#d4ff00 />
<path d="M155.1 1014.5l-30 8.8-3.1 0.3z" fill=#c8ff00 stroke=#c8ff00 />
<path d="M217.1 1026.4l33.5-7-20.3 3.7z" fill=#b3ff00 stroke=#b3ff00 />
<path d="M163 1017.4l-27.5 7.9 17-2.8z" fill=#c2ff00 stroke=#c2ff00 />
<path d="M135.5 1025.3l19.6-10.8-33.1 9.1z" fill=#c7ff00 stroke=#c7ff00 />
<path d="M229.3 1009.7l-21.9 14.2 22.9-0.8z" fill=url(#e60) stroke=url(#e60) />
<path class=c d="M224 1013L229 1012"/>
<path d="M276.1 1021.1l13-2.4-15.3 2z" fill=#d2ff00 stroke=#d2ff00 />
<path d="M106.4 1045.7l4.5-23.7-4.4 1.7z" fill=url(#e61) stroke=url(#e61) />
<path class=c d="M108 1035L106 1035"/>
<path d="M106.4 1045.7l0.1-22-4.3 17.4z" fill=url(#e62) stroke=url(#e62) />
<path class=c d="M106 1035L104 1033"/>
<path d="M218.2 1016.6l-28 4.5-13.2 8.4z" fill=#c6ff00 stroke=#c6ff00 />
<path d="M161.4 1027.3l30.1-14.9-11.5 9.2z" fill=url(#e63) stroke=url(#e63) />
<path class=c d="M189 1013L191 1013"/>
<path d="M248.6 1020.6l-7.4 2.4 6.3 0.1z" fill=#c9ff00 stroke=#c9ff00 />
<path d="M161.4 1027.3l18.6-5.7-27.5 0.9z" fill=#bdff00 stroke=#bdff00 />
<path d="M302 1016.7l-25.9 4.4-2 5z" fill=#d3ff00 stroke=#d3ff00 />
<path d="M348.1 1023.7l-9.5-2.7-7.4 5.1z" fill=#c4ff00 stroke=#c4ff00 />
<path d="M338.6 1021l-17.1 3.8 9.7 1.3z" fill=#c2ff00 stroke=#c2ff00 />
<path d="M207.4 1023.9l9.7 2.5 13.2-3.3z" fill=#bdff00 stroke=#bdff00 />
<path d="M280.8 1025.7l17.4-2.4 3.8-6.6z" fill=#d2ff00 stroke=#d2ff00 />
<path d="M306.3 1015.2l15.2 9.6-3.5-5.6z" fill=url(#e64) stroke=url(#e64) />
<path class=c d="M311 1018L310 1017"/>
<path d="M125.1 1023.3l-18.7 22.4 15.6-22.1z" fill=url(#e65) stroke=url(#e65) />
<path class=c d="M115 1036L113 1037"/>
<path d="M258.1 1022.4l-7.3-21.6 23 19.9z" fill=url(#e66) stroke=url(#e66) />
<path class=c d="M256 1016L267 1015"/>
<path d="M348.1 1023.7l-7.3-13.1 19.2 9.8z" fill=url(#e67) stroke=url(#e67) />
<path class=c d="M344 1017L351 1016"/>
<path d="M222.1 972.3l26.5 48.3 2-1.2z" fill=url(#e68) stroke=url(#e68) />
<path class=c d="M245 1014L246 1012M235 997L236 995M226 979L226 978"/>
<path d="M280.8 1025.7l21.2-9-27.9 9.4z" fill=#ceff00 stroke=#ceff00 />
<path d="M236.6 1026.8l21.5-4.4-10.6 0.7z" fill=#c5ff00 stroke=#c5ff00 />
<path d="M298.2 1023.3l8.1-8.1 11.7 4z" fill=url(#e69) stroke=url(#e69) />
<path class=c d="M303 1019L310 1017"/>
<path d="M260.4 1026.1l15.7-5-2.3-0.4z" fill=#d2ff00 stroke=#d2ff00 />
<path d="M298.2 1023.3l-17.4 2.4-5.1 114.1z" fill=url(#e70) stroke=url(#e70) />
<path class=c d="M277 1119L280 1118M278 1099L284 1098M278 1079L288 1078M279 1059L292 1057M280 1039L296 1037"/>
<path d="M128.7 1024.5l6.8 0.8-13.5-1.7z" fill=#c5ff00 stroke=#c5ff00 />
<path d="M241.2 1023l-4.6 3.8 10.9-3.7z" fill=#c8ff00 stroke=#c8ff00 />
<path d="M135.5 1025.3l-5.2 2.2 22.2-5z" fill=#c2ff00 stroke=#c2ff00 />
<path d="M350.3 1029.2l9 2.7 0.7-11.5z" fill=#aaff00 stroke=#aaff00 />
<path d="M165.3 1015.2l24.9 5.9 1.3-8.7z" fill=url(#e71) stroke=url(#e71) />
<path class=c d="M177 1018L191 1013"/>
<path d="M340.8 1010.6l7.3 13.1-16.9 2.4z" fill=url(#e72) stroke=url(#e72) />
<path class=c d="M344 1017L336 1018"/>
<path d="M106.4 1045.7l10.5-21.6 5.1-0.5z" fill=url(#e73) stroke=url(#e73) />
<path class=c d="M110 1038L113 1037"/>
<path d="M340.8 1010.6l9.5 18.6 9.7-8.8z" fill=url(#e74) stroke=url(#e74) />
<path class=c d="M345 1019L351 1016"/>
<path d="M250.8 1000.8l9.6 25.3 13.4-5.4z" fill=url(#e75) stroke=url(#e75) />
<path class=c d="M258 1019L267 1015"/>
<path d="M217.1 1026.4l5-54.1 28.5 47.1z" fill=url(#e76) stroke=url(#e76) />
<path class=c d="M218 1018L246 1012M220 999L236 995M221 979L226 978"/>
<path d="M207.4 1023.9l10.8-7.3-40.7-43.1z" fill=url(#e77) stroke=url(#e77) />
<path class=c d="M213 1011L203 1017M198 995L193 999M183 980L182 981"/>
<path d="M282.4 1031.6l15.8-8.3-22.5 116.5z" fill=url(#e78) stroke=url(#e78) />
<path class=c d="M280 1118L277 1119M284 1098L278 1100M288 1078L279 1081M292 1057L281 1061M296 1037L282 1042"/>
<path d="M275.7 1139.8l5.1-114.1-11.8 5.5z" fill=url(#e79) stroke=url(#e79) />
<path class=c d="M277 1119L274 1119M278 1099L273 1099M278 1079L272 1080M279 1059L271 1060M280 1039L270 1040"/>
<path d="M116.9 1024.1l11.8 0.4-6.7-0.9z" fill=#cfff00 stroke=#cfff00 />
<path d="M258.1 1022.4l-21.5 4.4 14.2-26z" fill=url(#e80) stroke=url(#e80) />
<path class=c d="M241 1019L256 1016"/>
<path d="M135.5 1025.3l-6.8-0.8-5.1-8.3z" fill=url(#e81) stroke=url(#e81) />
<path class=c d="M125 1019L127 1018"/>
<path d="M161.4 1027.3l-1.9 1.6 32-16.5z" fill=url(#e82) stroke=url(#e82) />
<path class=c d="M189 1014L189 1013"/>
<path d="M222.1 972.3l19.1 50.7 7.4-2.4z" fill=url(#e83) stroke=url(#e83) />
<path class=c d="M239 1017L245 1014M232 998L235 997M225 979L226 979"/>
<path d="M110.8 1049.9l6.1-25.8-10.5 21.6z" fill=url(#e84) stroke=url(#e84) />
<path class=c d="M113 1040L110 1038"/>
<path d="M177.5 973.5l40.7 43.1-41.2 12.9z" fill=url(#e85) stroke=url(#e85) />
<path class=c d="M213 1011L177 1020M198 995L177 1001M183 980L177 981"/>
<path d="M125.7 1028.8l35.7-1.5-8.9-4.8z" fill=#c6ff00 stroke=#c6ff00 />
<path d="M217.1 1026.4l-9.7-2.5-7.1 5.1z" fill=#c6ff00 stroke=#c6ff00 />
<path d="M128.7 1024.5l-11.8-0.4-6.1 25.8z" fill=url(#e86) stroke=url(#e86) />
<path class=c d="M113 1040L118 1039"/>
<path d="M190.2 1021.1l-24.9-5.9 11.7 14.3z" fill=url(#e87) stroke=url(#e87) />
<path class=c d="M177 1018L170 1021"/>
<path d="M130.3 1027.5l5.2-2.2-11.9-9.1z" fill=url(#e88) stroke=url(#e88) />
<path class=c d="M127 1018L126 1020"/>
<path d="M275.7 1139.8l-6.7-108.6 1.6-0.5z" fill=url(#e89) stroke=url(#e89) />
<path class=c d="M274 1119L275 1120M273 1099L274 1100M272 1080L273 1081M271 1060L272 1062M270 1040L271 1043"/>
<path d="M128.7 1024.5l-17.9 25.4 12.8-33.7z" fill=url(#e90) stroke=url(#e90) />
<path class=c d="M118 1039L114 1040M122 1020L125 1019"/>
<path d="M159.5 1028.9l5.8-13.7 26.2-2.8z" fill=url(#e91) stroke=url(#e91) />
<path class=c d="M163 1021L189 1014"/>
<path d="M130.3 1027.5l-4.6 1.3 26.8-6.3z" fill=#caff00 stroke=#caff00 />
<path d="M276.1 1021.1l-23.1 5.2 21.1-0.2z" fill=#d8ff00 stroke=#d8ff00 />
<path d="M269 1031.2l11.8-5.5-6.7 0.4z" fill=#c3ff00 stroke=#c3ff00 />
<path d="M253 1026.3l23.1-5.2-15.7 5z" fill=#d9ff00 stroke=#d9ff00 />
<path d="M321.5 1024.8l-29.3 12.6 39-11.3z" fill=#b3ff00 stroke=#b3ff00 />
<path d="M282.4 1031.6l-6.7 108.2-5.1-109.1z" fill=url(#e92) stroke=url(#e92) />
<path class=c d="M277 1119L275 1120M278 1100L274 1100M279 1081L273 1081M281 1061L272 1062M282 1042L271 1043"/>
<path d="M236.6 1026.8l6.9 3.8 7.3-29.8z" fill=url(#e93) stroke=url(#e93) />
<path class=c d="M246 1020L241 1019"/>
<path d="M250.8 1000.8l-7.3 29.8 16.9-4.5z" fill=url(#e94) stroke=url(#e94) />
<path class=c d="M246 1020L258 1019"/>
<path d="M359.3 1031.9l-9-2.7-7.4 4.4z" fill=#97ff00 stroke=#97ff00 />
<path d="M298.2 1023.3l-15.8 8.3 23.9-16.4z" fill=url(#e95) stroke=url(#e95) />
<path class=c d="M299 1020L303 1019"/>
<path d="M241.2 1023l-19.1-50.7 14.5 54.5z" fill=url(#e96) stroke=url(#e96) />
<path class=c d="M239 1017L235 1019M232 998L229 999M225 979L224 980"/>
<path d="M340.8 1010.6l-7.4 20.4 16.9-1.8z" fill=url(#e97) stroke=url(#e97) />
<path class=c d="M337 1020L345 1019"/>
<path d="M316.5 1033.1l24.3-22.5-9.6 15.5z" fill=url(#e98) stroke=url(#e98) />
<path class=c d="M330 1021L336 1018"/>
<path d="M253 1026.3l16 4.9 5.1-5.1z" fill=#c9ff00 stroke=#c9ff00 />
<path d="M357.9 1029.7l1.4 2.2-16.4 1.7z" fill=#9cff00 stroke=#9cff00 />
<path d="M359.3 1031.9l-1.4-2.2 0.6 12z" fill=url(#e99) stroke=url(#e99) />
<path d="M110.8 1049.9l7.7-17.3 5.1-16.4z" fill=url(#e100) stroke=url(#e100) />
<path class=c d="M115 1041L114 1040M122 1020L122 1020"/>
<path d="M306.3 1015.2l-14.1 22.2 29.3-12.6z" fill=url(#e101) stroke=url(#e101) />
<path class=c d="M302 1022L311 1018"/>
<path d="M118.5 1032.6l11.8-5.1-6.7-11.3z" fill=url(#e102) stroke=url(#e102) />
<path class=c d="M126 1020L122 1020"/>
<path d="M243.5 1030.6l8-0.9 8.9-3.6z" fill=#c5ff00 stroke=#c5ff00 />
<path d="M211.4 1035.2l5.7-8.8-16.8 2.6z" fill=#bcff00 stroke=#bcff00 />
<path d="M243.5 1030.6l-6.9-3.8-14.9 5.4z" fill=#c2ff00 stroke=#c2ff00 />
<path d="M251.5 1029.7l1.5-3.4 7.4-0.2z" fill=#d3ff00 stroke=#d3ff00 />
<path d="M165.3 1015.2l0 18.6 11.7-4.3z" fill=url(#e103) stroke=url(#e103) />
<path class=c d="M165 1022L170 1021"/>
<path d="M207.4 1023.9l-29.9-50.4 22.8 55.5z" fill=url(#e104) stroke=url(#e104) />
<path class=c d="M203 1017L197 1021M193 999L189 1001M182 981L181 981"/>
<path d="M118.5 1032.6l-7.7 17.3 4.4 4z" fill=url(#e105) stroke=url(#e105) />
<path class=c d="M115 1041L117 1043"/>
<path d="M333.4 1031l7.4-20.4-24.3 22.5z" fill=url(#e106) stroke=url(#e106) />
<path class=c d="M337 1020L330 1021"/>
<path d="M333.4 1031l-2.2-0.2 19.1-1.6z" fill=#c1ff00 stroke=#c1ff00 />
<path d="M165.3 1033.8l3.9-2.8 7.8-1.5z" fill=#b2ff00 stroke=#b2ff00 />
<path d="M130.3 1027.5l-11.8 5.1-3.3 21.3z" fill=url(#e107) stroke=url(#e107) />
<path class=c d="M117 1043L121 1043"/>
<path d="M350.3 1029.2l-19.1 1.6 11.7 2.8z" fill=#bcff00 stroke=#bcff00 />
<path d="M222.1 972.3l-5 54.1-5.7 8.8z" fill=url(#e108) stroke=url(#e108) />
<path class=c d="M218 1018L213 1024M220 999L217 1002M221 979L221 980"/>
<path d="M125.1 1027.9l0.6 0.9 4.6-1.3z" fill=#d2ff00 stroke=#d2ff00 />
<path d="M125.1 1027.9l5.2-0.4-15.1 26.4z" fill=url(#e109) stroke=url(#e109) />
<path class=c d="M121 1043L119 1044"/>
<path d="M169.2 1031l-3.9 2.8-4.5 35.5z" fill=url(#e110) stroke=url(#e110) />
<path class=c d="M161 1064L162 1064M164 1043L166 1043"/>
<path d="M165.3 1033.8l-10.2 0.2 5.7 35.3z" fill=url(#e111) stroke=url(#e111) />
<path class=c d="M160 1064L161 1064M157 1044L164 1043"/>
<path d="M292.2 1037.4l24.3-4.3 14.7-7z" fill=#b3ff00 stroke=#b3ff00 />
<path d="M159.5 1028.9l-4.4 5.1 10.2-18.8z" fill=url(#e112) stroke=url(#e112) />
<path class=c d="M162 1022L163 1021"/>
<path d="M357.8 1053.3l1.5-21.4-0.8 9.8z" fill=url(#e113) stroke=url(#e113) />
<path class=c d="M358 1045L358 1045"/>
<path d="M236.6 1026.8l-14.5-54.5-10.7 62.9z" fill=url(#e114) stroke=url(#e114) />
<path class=c d="M235 1019L213 1024M229 999L217 1002M224 980L221 980"/>
<path d="M236.6 1026.8l-25.2 8.4 10.3-3z" fill=#c0ff00 stroke=#c0ff00 />
<path d="M306.3 1015.2l-23.9 16.4 6.5 0.2z" fill=url(#e115) stroke=url(#e115) />
<path class=c d="M299 1020L299 1022"/>
<path d="M165.3 1015.2l-10.2 18.8 10.2-0.2z" fill=url(#e116) stroke=url(#e116) />
<path class=c d="M162 1022L165 1022"/>
<path d="M161.4 1027.3l-35.7 1.5-6 30.4z" fill=url(#e117) stroke=url(#e117) />
<path class=c d="M122 1046L140 1044"/>
<path d="M269 1031.2l-16-4.9-1.6 10.9z" fill=#c2ff00 stroke=#c2ff00 />
<path d="M345.7 1022.4l12.2 7.3-15 3.9z" fill=url(#e118) stroke=url(#e118) />
<path class=c d="M348 1024L345 1024"/>
<path d="M357.9 1029.7l-12.2-7.3 12.8 19.3z" fill=url(#e119) stroke=url(#e119) />
<path class=c d="M348 1024L347 1025"/>
<path d="M159.5 1028.9l1.9-1.6-25.8 7.1z" fill=#cbff00 stroke=#cbff00 />
<path d="M125.7 1028.8l-0.6-0.9-9.9 26z" fill=url(#e120) stroke=url(#e120) />
<path class=c d="M119 1044L119 1044"/>
<path d="M169.2 1031l8.3-57.5-0.5 56z" fill=url(#e121) stroke=url(#e121) />
<path class=c d="M170 1023L177 1020M173 1002L177 1001M176 982L177 981"/>
<path d="M270.6 1030.7l-1.6 0.5-17.6 6z" fill=#b4ff00 stroke=#b4ff00 />
<path d="M243.5 1030.6l-18.1 0.9 26.1-1.8z" fill=#cbff00 stroke=#cbff00 />
<path d="M221.1 1036.5l22.4-5.9-21.8 1.6z" fill=#b5ff00 stroke=#b5ff00 />
<path d="M156.4 1034.6l12.8-3.6-8.4 38.3z" fill=url(#e122) stroke=url(#e122) />
<path class=c d="M162 1064L160 1064M166 1043L158 1045"/>
<path d="M253 1026.3l-1.5 3.4-0.1 7.5z" fill=#caff00 stroke=#caff00 />
<path d="M269.4 1033.3l13-1.7-11.8-0.9z" fill=#c6ff00 stroke=#c6ff00 />
<path d="M282.4 1031.6l-5.2 3.7 11.7-3.5z" fill=#beff00 stroke=#beff00 />
<path d="M306.3 1015.2l-17.4 16.6 3.3 5.6z" fill=url(#e123) stroke=url(#e123) />
<path class=c d="M299 1022L302 1022"/>
<path d="M282.4 1031.6l-13 1.7 7.8 2z" fill=#b9ff00 stroke=#b9ff00 />
<path d="M225.4 1031.5l18.1-0.9-22.4 5.9z" fill=#c2ff00 stroke=#c2ff00 />
<path d="M211.4 1035.2l-11.1-6.2-19.3 9z" fill=#b3ff00 stroke=#b3ff00 />
<path d="M119.7 1059.2l6-30.4-10.5 25.1z" fill=url(#e124) stroke=url(#e124) />
<path class=c d="M122 1046L119 1044"/>
<path d="M155.1 1034l-19.5 0.4 25.2 34.9z" fill=url(#e125) stroke=url(#e125) />
<path class=c d="M158 1065L160 1064M145 1047L157 1044"/>
<path d="M155.1 1034l4.4-5.1-23.9 5.5z" fill=#c7ff00 stroke=#c7ff00 />
<path d="M135.6 1034.4l25.8-7.1-41.7 31.9z" fill=url(#e126) stroke=url(#e126) />
<path class=c d="M140 1044L126 1049"/>
<path d="M166.5 1033.3l2.7-2.3-12.8 3.6z" fill=#c4ff00 stroke=#c4ff00 />
<path d="M333.4 1031l-16.9 2.1-6.4 4.5z" fill=#beff00 stroke=#beff00 />
<path d="M345.7 1022.4l9.7 14.3 3.1 5z" fill=url(#e127) stroke=url(#e127) />
<path class=c d="M348 1025L347 1025"/>
<path d="M177.5 973.5l-8.3 57.5-2.7 2.3z" fill=url(#e128) stroke=url(#e128) />
<path class=c d="M170 1023L168 1024M173 1002L172 1003M176 982L176 982"/>
<path d="M331.2 1030.8l2.2 0.2-23.3 6.6z" fill=#c5ff00 stroke=#c5ff00 />
<path d="M200.3 1029l-22.8-55.5 3.5 64.5z" fill=url(#e129) stroke=url(#e129) />
<path class=c d="M197 1021L180 1027M189 1001L179 1004M181 981L178 982"/>
<path d="M221.1 1036.5l0.6-4.3-2 1.3z" fill=#c0ff00 stroke=#c0ff00 />
<path d="M355.4 1036.7l2.4 16.6 0.7-11.6z" fill=url(#e130) stroke=url(#e130) />
<path class=c d="M357 1048L358 1045"/>
<path d="M135.6 1034.4l20.8 0.2 4.4 34.7z" fill=url(#e131) stroke=url(#e131) />
<path class=c d="M160 1064L158 1065M158 1045L145 1047"/>
<path d="M251.5 1029.7l-13.2 3.8 13.1 3.7z" fill=#c7ff00 stroke=#c7ff00 />
<path d="M359.3 1031.9l-1.5 21.4-0.8 10.8z" fill=url(#e132) stroke=url(#e132) />
<path class=c d="M358 1045L358 1045"/>
<path d="M162.1 1033.8l4.4-0.5-10.1 1.3z" fill=#c6ff00 stroke=#c6ff00 />
<path d="M316.5 1033.1l-24.3 4.3 9.6 0z" fill=#b2ff00 stroke=#b2ff00 />
<path d="M342.9 1033.6l-11.7-2.8-9 8.1z" fill=#c5ff00 stroke=#c5ff00 />
<path d="M162.1 1033.8l15.4-60.3-11 59.8z" fill=url(#e133) stroke=url(#e133) />
<path class=c d="M164 1026L168 1024M170 1004L172 1003M175 982L176 982"/>
<path d="M221.7 1032.2l-10.3 3-13.2 6.1z" fill=#afff00 stroke=#afff00 />
<path d="M225.4 1031.5l1.3 9.1 24.8-10.9z" fill=#c8ff00 stroke=#c8ff00 />
<path d="M215.3 1035.3l5.8 1.2-1.4-3z" fill=#c1ff00 stroke=#c1ff00 />
<path d="M345.7 1022.4l-2.8 11.2-20.7 5.3z" fill=url(#e134) stroke=url(#e134) />
<path class=c d="M345 1024L340 1027"/>
<path d="M251.5 1029.7l-24.8 10.9 11.6-7.1z" fill=#c6ff00 stroke=#c6ff00 />
<path d="M269.4 1033.3l1.2-2.6-18 11.6z" fill=#c1ff00 stroke=#c1ff00 />
<path d="M221.7 1032.2l-23.5 9.1 21.5-7.8z" fill=#beff00 stroke=#beff00 />
<path d="M225.4 1031.5l-4.3 5-5.8-1.2z" fill=#c8ff00 stroke=#c8ff00 />
<path d="M252.6 1042.3l18-11.6-19.2 6.5z" fill=#b3ff00 stroke=#b3ff00 />
<path d="M277.2 1035.3l-7.8-2-16.8 9z" fill=#b0ff00 stroke=#b0ff00 />
<path d="M310.1 1037.6l6.4-4.5-14.7 4.3z" fill=#c0ff00 stroke=#c0ff00 />
<path d="M288.9 1031.8l-3.9 4.5 7.2 1.1z" fill=#c6ff00 stroke=#c6ff00 />
<path d="M288.9 1031.8l-11.7 3.5-18.6 4.8z" fill=#c5ff00 stroke=#c5ff00 />
<path d="M205.7 1040l9.6-4.7 4.4-1.8z" fill=#c4ff00 stroke=#c4ff00 />
<path d="M292.2 1037.4l-7.2-1.1 16.8 1.1z" fill=#bfff00 stroke=#bfff00 />
<path d="M221 1020.4l4.4 11.1-10.1 3.8z" fill=url(#e135) stroke=url(#e135) />
<path class=c d="M224 1027L218 1028"/>
<path d="M355.4 1036.7l-9.7-14.3-12.1 19.5z" fill=url(#e136) stroke=url(#e136) />
<path class=c d="M348 1025L343 1027"/>
<path d="M221 1020.4l5.7 20.2-1.3-9.1z" fill=url(#e137) stroke=url(#e137) />
<path class=c d="M223 1029L224 1027"/>
<path d="M198.2 1041.3l7.5-1.3 14-6.5z" fill=#b5ff00 stroke=#b5ff00 />
<path d="M177.5 973.5l-15.4 60.3-4.4-3.6z" fill=url(#e138) stroke=url(#e138) />
<path class=c d="M164 1026L159 1031M170 1004L166 1008M175 982L174 983"/>
<path d="M177.5 973.5l-19.8 56.7 23.3 7.8z" fill=url(#e139) stroke=url(#e139) />
<path class=c d="M161 1031L180 1027M166 1008L179 1004M174 983L178 982"/>
<path d="M135.6 1034.4l-15.9 24.8 4.6 2.3z" fill=url(#e140) stroke=url(#e140) />
<path class=c d="M126 1049L129 1051"/>
<path d="M355.4 1036.7l-21.8 5.2 24.2 11.4z" fill=url(#e141) stroke=url(#e141) />
<path class=c d="M351 1050L357 1048"/>
<path d="M211.4 1035.2l-30.4 2.8-9.2 5.1z" fill=#b5ff00 stroke=#b5ff00 />
<path d="M162.1 1033.8l-5.7 0.8-27.4 30.5z" fill=url(#e142) stroke=url(#e142) />
<path class=c d="M140 1052L142 1053"/>
<path d="M307.8 1041.6l23.4-10.8-21.1 6.8z" fill=#cbff00 stroke=#cbff00 />
<path d="M288.9 1031.8l-30.3 8.3 26.4-3.8z" fill=#cfff00 stroke=#cfff00 />
<path d="M258.6 1040.1l18.6-4.8-24.6 7z" fill=#b5ff00 stroke=#b5ff00 />
<path d="M226.7 1040.6l-3.2-1.9 14.8-5.2z" fill=#c5ff00 stroke=#c5ff00 />
<path d="M238.3 1033.5l-15.8-6.1 28.9 9.8z" fill=url(#e143) stroke=url(#e143) />
<path class=c d="M231 1031L233 1031"/>
<path d="M226.7 1040.6l-5.7-20.2-4.4 19.5z" fill=url(#e144) stroke=url(#e144) />
<path class=c d="M223 1029L219 1029"/>
<path d="M198.2 1041.3l13.2-6.1-39.6 7.9z" fill=#b0ff00 stroke=#b0ff00 />
<path d="M156.4 1034.6l-20.8-0.2-6.6 30.7z" fill=url(#e145) stroke=url(#e145) />
<path class=c d="M131 1054L140 1052"/>
<path d="M294.5 1013.3l15.6 24.3-8.3-0.2z" fill=url(#e146) stroke=url(#e146) />
<path class=c d="M305 1030L299 1029"/>
<path d="M331.2 1030.8l-23.4 10.8 14.4-2.7z" fill=#ceff00 stroke=#ceff00 />
<path d="M285 1036.3l9.5-23 7.3 24.1z" fill=url(#e147) stroke=url(#e147) />
<path class=c d="M288 1030L299 1029"/>
<path d="M226.7 1040.6l-10.1-0.7 5.7-3.7z" fill=#c1ff00 stroke=#c1ff00 />
<path d="M333.6 1041.9l12.1-19.5-23.5 16.5z" fill=url(#e148) stroke=url(#e148) />
<path class=c d="M343 1027L340 1027"/>
<path d="M202.2 1037.5l18.8-17.1-5.7 14.9z" fill=url(#e149) stroke=url(#e149) />
<path class=c d="M209 1031L218 1028"/>
<path d="M222.5 1027.4l30.1 14.9-1.2-5.1z" fill=url(#e150) stroke=url(#e150) />
<path class=c d="M233 1032L233 1031"/>
<path d="M205.7 1040l-3.5-2.5 13.1-2.2z" fill=#ccff00 stroke=#ccff00 />
<path d="M223.5 1038.7l3.2 1.9-4.4-4.4z" fill=#c6ff00 stroke=#c6ff00 />
<path d="M205.7 1040l-7.5 1.3-3.6-1.4z" fill=#b5ff00 stroke=#b5ff00 />
<path d="M157.7 1030.2l4.4 3.6-13.7-2.8z" fill=url(#e151) stroke=url(#e151) />
<path class=c d="M159 1031L151 1031"/>
<path d="M221 1020.4l-18.8 17.1 14.4 2.4z" fill=url(#e152) stroke=url(#e152) />
<path class=c d="M209 1031L219 1029"/>
<path d="M223.5 1038.7l-1-11.3 15.8 6.1z" fill=url(#e153) stroke=url(#e153) />
<path class=c d="M223 1032L231 1031"/>
<path d="M135.6 1034.4l-11.3 27.1 4.7 3.6z" fill=url(#e154) stroke=url(#e154) />
<path class=c d="M129 1051L131 1054"/>
<path d="M148.4 1031l13.7 2.8-33.1 31.3z" fill=url(#e155) stroke=url(#e155) />
<path class=c d="M142 1053L134 1056M151 1031L148 1033"/>
<path d="M287.2 1041.5l16.8-0.9 6.1-3z" fill=#c7ff00 stroke=#c7ff00 />
<path d="M304 1040.6l3.8 1 2.3-4z" fill=#c7ff00 stroke=#c7ff00 />
<path d="M157.7 1030.2l-12.8 37.7 36.1-29.9z" fill=url(#e156) stroke=url(#e156) />
<path class=c d="M149 1056L163 1053M157 1032L161 1031"/>
<path d="M216.6 1039.9l-14.4-2.4-5.8 46.9z" fill=url(#e157) stroke=url(#e157) />
<path class=c d="M197 1076L200 1076M200 1055L211 1052"/>
<path d="M294.5 1013.3l-7.3 28.2 22.9-3.9z" fill=url(#e158) stroke=url(#e158) />
<path class=c d="M289 1033L305 1030"/>
<path d="M188.8 1042.3l16.9-2.3-11.1-0.1z" fill=#c4ff00 stroke=#c4ff00 />
<path d="M194.6 1039.9l3.6 1.4-26.4 1.8z" fill=#c0ff00 stroke=#c0ff00 />
<path d="M357.8 1053.3l-21.6-2.8 20.8 13.6z" fill=url(#e159) stroke=url(#e159) />
<path class=c d="M351 1052L346 1057"/>
<path d="M202.2 1037.5l3.5 2.5-16.9 2.3z" fill=#ccff00 stroke=#ccff00 />
<path d="M216.6 1039.9l-12.6 2 18.3-5.7z" fill=#d0ff00 stroke=#d0ff00 />
<path d="M181 1038l-36.1 29.9 26.9-24.8z" fill=url(#e160) stroke=url(#e160) />
<path class=c d="M163 1053L157 1057"/>
<path d="M333.6 1041.9l2.6 8.6 21.6 2.8z" fill=url(#e161) stroke=url(#e161) />
<path class=c d="M351 1052L351 1050"/>
<path d="M204 1041.9l19.5-3.2-1.2-2.5z" fill=#d5ff00 stroke=#d5ff00 />
<path d="M285 1036.3l-16.7 10.4 26.2-33.4z" fill=url(#e162) stroke=url(#e162) />
<path class=c d="M278 1035L288 1030"/>
<path d="M204 1041.9l12.6-2-20.2 44.5z" fill=url(#e163) stroke=url(#e163) />
<path class=c d="M200 1076L198 1077M211 1052L201 1057"/>
<path d="M304 1040.6l-2 3 5.8-2z" fill=#c3ff00 stroke=#c3ff00 />
<path d="M258.6 1040.1l9.7 6.6 16.7-10.4z" fill=#c9ff00 stroke=#c9ff00 />
<path d="M313.3 1046.5l20.3-4.6-11.4-3z" fill=#c1ff00 stroke=#c1ff00 />
<path d="M302 1043.6l2-3-7.3 4.9z" fill=#b7ff00 stroke=#b7ff00 />
<path d="M196.4 1084.4l5.8-46.9-13.4 4.8z" fill=url(#e164) stroke=url(#e164) />
<path class=c d="M197 1076L195 1077M200 1055L191 1055"/>
<path d="M304 1040.6l-16.8 0.9 9.5 4z" fill=#c2ff00 stroke=#c2ff00 />
<path d="M307.8 1041.6l5.5 4.9 8.9-7.6z" fill=#c4ff00 stroke=#c4ff00 />
<path d="M144.9 1067.9l12.8-37.7-9.3 0.8z" fill=url(#e165) stroke=url(#e165) />
<path class=c d="M149 1056L146 1057M157 1032L148 1033"/>
<path d="M188.8 1042.3l5.8-2.4-22.8 3.2z" fill=#c9ff00 stroke=#c9ff00 />
<path d="M223.5 1038.7l-19.5 3.2 18.5-14.5z" fill=url(#e166) stroke=url(#e166) />
<path class=c d="M213 1035L223 1032"/>
<path d="M313.3 1046.5l11.5 37.2 8.8-41.8z" fill=url(#e167) stroke=url(#e167) />
<path class=c d="M323 1078L326 1078M316 1057L331 1055"/>
<path d="M302 1043.6l-4.3-1.1 10.1-0.9z" fill=#c5ff00 stroke=#c5ff00 />
<path d="M144.9 1067.9l3.5-36.9-19.4 34.1z" fill=url(#e168) stroke=url(#e168) />
<path class=c d="M146 1057L134 1056M148 1033L148 1033"/>
<path d="M268.3 1046.7l18.9-5.2 7.3-28.2z" fill=url(#e169) stroke=url(#e169) />
<path class=c d="M289 1033L278 1035"/>
<path d="M297.7 1042.5l4.3 1.1-5.3 1.9z" fill=#bdff00 stroke=#bdff00 />
<path d="M228 1045.4l30.6-5.3-6 2.2z" fill=#c7ff00 stroke=#c7ff00 />
<path d="M222.5 1027.4l5.5 18 24.6-3.1z" fill=url(#e170) stroke=url(#e170) />
<path class=c d="M225 1037L233 1032"/>
<path d="M196.4 1084.4l-7.6-42.1-11.8 28.3z" fill=url(#e171) stroke=url(#e171) />
<path class=c d="M195 1077L189 1079M191 1055L182 1059"/>
<path d="M307.8 1041.6l-4.4-18.6 9.9 23.5z" fill=url(#e172) stroke=url(#e172) />
<path class=c d="M306 1035L309 1036"/>
<path d="M307.8 1041.6l-10.1 0.9 5.7-19.5z" fill=url(#e173) stroke=url(#e173) />
<path class=c d="M300 1035L306 1035"/>
<path d="M324.8 1083.7l0.1-35.5 8.7-6.3z" fill=url(#e174) stroke=url(#e174) />
<path class=c d="M325 1079L326 1078M325 1060L331 1055"/>
<path d="M161 1068.6l27.8-26.3-17 0.8z" fill=url(#e175) stroke=url(#e175) />
<path class=c d="M172 1058L165 1058"/>
<path d="M190.5 1047l13.5-5.1-7.6 42.5z" fill=url(#e176) stroke=url(#e176) />
<path class=c d="M198 1077L195 1077M201 1057L192 1058"/>
<path d="M336.2 1050.5l4 20.1 16.8-6.5z" fill=url(#e177) stroke=url(#e177) />
<path class=c d="M338 1060L346 1057"/>
<path d="M324.8 1083.7l-11.5-37.2-8.5-3.2z" fill=url(#e178) stroke=url(#e178) />
<path class=c d="M323 1078L322 1079M316 1057L312 1059"/>
<path d="M287.2 1041.5l0.6 5.6 8.9-1.6z" fill=#c3ff00 stroke=#c3ff00 />
<path d="M144.9 1067.9l16.1 0.7 10.8-25.5z" fill=url(#e179) stroke=url(#e179) />
<path class=c d="M165 1058L157 1057"/>
<path d="M303.4 1023l5.7 25.5 4.2-2z" fill=url(#e180) stroke=url(#e180) />
<path class=c d="M306 1036L309 1036"/>
<path d="M190.5 1047l5.9 37.4-19.4-13.8z" fill=url(#e181) stroke=url(#e181) />
<path class=c d="M195 1077L189 1079M192 1058L183 1060"/>
<path d="M287.8 1047.1l9.9-4.6-1 3z" fill=#c4ff00 stroke=#c4ff00 />
<path d="M313.3 1046.5l-4.2 2-4.3-5.2z" fill=#bfff00 stroke=#bfff00 />
<path d="M204 1041.9l-5.8 2.9 24.3-17.4z" fill=url(#e182) stroke=url(#e182) />
<path class=c d="M210 1036L213 1035"/>
<path d="M188.8 1042.3l-27.8 26.3 16 2z" fill=url(#e183) stroke=url(#e183) />
<path class=c d="M172 1058L182 1059"/>
<path d="M324.9 1048.2l11.3 2.3-2.6-8.6z" fill=#baff00 stroke=#baff00 />
<path d="M299 1048.1l10.1 0.4-5.7-25.5z" fill=url(#e184) stroke=url(#e184) />
<path class=c d="M306 1036L301 1037"/>
<path d="M297.7 1042.5l-9.9 4.6 15.6-24.1z" fill=url(#e185) stroke=url(#e185) />
<path class=c d="M294 1038L300 1035"/>
<path d="M268.3 1046.7l-9.7-6.6-15.7 11.3z" fill=#c3ff00 stroke=#c3ff00 />
<path d="M324.9 1048.2l-0.1 35.5-2.2-37.5z" fill=url(#e186) stroke=url(#e186) />
<path class=c d="M325 1079L325 1079M325 1060L323 1059"/>
<path d="M268.3 1046.7l-3.7 7.3 22.6-12.5z" fill=#b9ff00 stroke=#b9ff00 />
<path d="M309.1 1048.5l-10.1-0.4 5.8-4.8z" fill=#c2ff00 stroke=#c2ff00 />
<path d="M324.8 1083.7l-8.8-34.2 6.6-3.3z" fill=url(#e187) stroke=url(#e187) />
<path class=c d="M324 1079L325 1079M319 1060L323 1059"/>
<path d="M316 1049.5l8.8 34.2-20-40.4z" fill=url(#e188) stroke=url(#e188) />
<path class=c d="M324 1079L322 1079M319 1060L312 1059"/>
<path d="M204 1041.9l-13.5 5.1 2.7-0.4z" fill=#ccff00 stroke=#ccff00 />
<path d="M287.8 1047.1l11.2 1 4.4-25.1z" fill=url(#e189) stroke=url(#e189) />
<path class=c d="M301 1037L294 1038"/>
<path d="M258.6 1040.1l-30.6 5.3 14.9 6z" fill=#ccff00 stroke=#ccff00 />
<path d="M264.6 1054l23.2-6.9-0.6-5.6z" fill=#c1ff00 stroke=#c1ff00 />
<path d="M204 1041.9l-10.8 4.7 5-1.8z" fill=#d4ff00 stroke=#d4ff00 />
<path d="M336.2 1050.5l-4-3.6 8 23.7z" fill=url(#e190) stroke=url(#e190) />
<path class=c d="M337 1060L338 1060"/>
<path d="M193.2 1046.6l-2.7 0.4-13.5 23.6z" fill=url(#e191) stroke=url(#e191) />
<path class=c d="M183 1060L184 1061"/>
<path d="M222.5 1027.4l-24.3 17.4 1.8 29.7z" fill=url(#e192) stroke=url(#e192) />
<path class=c d="M199 1063L206 1063M210 1036L219 1035"/>
<path d="M299 1048.1l-3.4 2.2 9.2-7z" fill=#c6ff00 stroke=#c6ff00 />
<path d="M228 1045.4l-5.5-18-22.5 47.1z" fill=url(#e193) stroke=url(#e193) />
<path class=c d="M206 1063L210 1064M225 1037L219 1035"/>
<path d="M299 1048.1l-11.2-1 7.8 3.2z" fill=#bdff00 stroke=#bdff00 />
<path d="M324.9 1048.2l7.3-1.3 4 3.6z" fill=#c1ff00 stroke=#c1ff00 />
<path d="M188.5 1073.9l4.7-27.3-16.2 24z" fill=url(#e194) stroke=url(#e194) />
<path class=c d="M191 1062L184 1061"/>
<path d="M198.2 1044.8l-5 1.8-4.7 27.3z" fill=url(#e195) stroke=url(#e195) />
<path class=c d="M191 1062L192 1062"/>
<path d="M332.2 1046.9l-4.7 2.4 12.7 21.3z" fill=url(#e196) stroke=url(#e196) />
<path class=c d="M335 1061L337 1060"/>
<path d="M315.3 1049.4l9.6-1.2-2.3-2z" fill=#caff00 stroke=#caff00 />
<path d="M316 1049.5l-0.7-0.1 7.3-3.2z" fill=#c8ff00 stroke=#c8ff00 />
<path d="M198.2 1044.8l-9.7 29.1 11.5 0.6z" fill=url(#e197) stroke=url(#e197) />
<path class=c d="M192 1062L199 1063"/>
<path d="M247.3 1049.7l21-3-25.4 4.7z" fill=#c6ff00 stroke=#c6ff00 />
<path d="M264.6 1054l3.7-7.3-21 3z" fill=#c1ff00 stroke=#c1ff00 />
<path d="M287.8 1047.1l-13.7 5.2 21.5-2z" fill=#c3ff00 stroke=#c3ff00 />
<path d="M274.1 1052.3l13.7-5.2-23.2 6.9z" fill=#bfff00 stroke=#bfff00 />
<path d="M332.2 1046.9l-7.3 1.3-0.1-23.3z" fill=url(#e198) stroke=url(#e198) />
<path class=c d="M325 1041L330 1041"/>
<path d="M295.6 1050.3l-8.3 3.3 17.5-10.3z" fill=#cfff00 stroke=#cfff00 />
<path d="M287.3 1053.6l28.7-4.1-11.2-6.2z" fill=#d1ff00 stroke=#d1ff00 />
<path d="M324.9 1048.2l-9.6 1.2 9.5-24.5z" fill=url(#e199) stroke=url(#e199) />
<path class=c d="M318 1042L325 1041"/>
<path d="M242.9 1051.4l-14.9-6-18.7 31.7z" fill=url(#e200) stroke=url(#e200) />
<path class=c d="M216 1066L224 1066"/>
<path d="M327.5 1049.3l4.7-2.4-7.4-22z" fill=url(#e201) stroke=url(#e201) />
<path class=c d="M330 1041L327 1042"/>
<path d="M228 1045.4l-28 29.1 9.3 2.6z" fill=url(#e202) stroke=url(#e202) />
<path class=c d="M210 1064L216 1066"/>
<path d="M315.3 1049.4l0.7 0.1-21 7.6z" fill=#c5ff00 stroke=#c5ff00 />
<path d="M295.6 1050.3l-21.5 2 7.1-0.7z" fill=#c9ff00 stroke=#c9ff00 />
<path d="M274.1 1052.3l-9.5 1.7-7.3-1.3z" fill=#c1ff00 stroke=#c1ff00 />
<path d="M264.6 1054l-17.3-4.3 10 3z" fill=#c7ff00 stroke=#c7ff00 />
<path d="M231.8 1052.4l15.5-2.7-4.4 1.7z" fill=#ceff00 stroke=#ceff00 />
<path d="M231.8 1052.4l11.1-1-33.6 25.7z" fill=url(#e203) stroke=url(#e203) />
<path class=c d="M224 1066L218 1068"/>
<path d="M317.5 1054.6l10-5.3-2.7-24.4z" fill=url(#e204) stroke=url(#e204) />
<path class=c d="M327 1042L320 1045"/>
<path d="M295.6 1050.3l-14.4 1.3 6.1 2z" fill=#ceff00 stroke=#ceff00 />
<path d="M315.3 1049.4l-15.3 30 24.8-54.5z" fill=url(#e205) stroke=url(#e205) />
<path class=c d="M306 1067L305 1069M316 1045L318 1042"/>
<path d="M316 1049.5l-28.7 4.1 7.7 3.5z" fill=#c8ff00 stroke=#c8ff00 />
<path d="M300 1079.4l15.3-30-20.3 7.7z" fill=url(#e206) stroke=url(#e206) />
<path class=c d="M306 1067L298 1070"/>
<path d="M334.3 1053.9l-16.8 0.7 9.5 2.6z" fill=#c0ff00 stroke=#c0ff00 />
<path d="M247.3 1049.7l-9.5-5.9 19.5 8.9z" fill=url(#e207) stroke=url(#e207) />
<path class=c d="M241 1046L244 1047"/>
<path d="M247.3 1049.7l-15.5 2.7 6-8.6z" fill=url(#e208) stroke=url(#e208) />
<path class=c d="M236 1047L241 1046"/>
<path d="M266.8 1028.4l7.3 23.9-16.8 0.4z" fill=url(#e209) stroke=url(#e209) />
<path class=c d="M272 1045L260 1046"/>
<path d="M300 1079.4l17.5-24.8 7.3-29.7z" fill=url(#e210) stroke=url(#e210) />
<path class=c d="M307 1069L305 1069M320 1045L316 1045"/>
<path d="M274.1 1052.3l-7.3-23.9 14.4 23.2z" fill=url(#e211) stroke=url(#e211) />
<path class=c d="M272 1045L278 1046"/>
<path d="M218.7 1080.8l13.1-28.4-22.5 24.7z" fill=url(#e212) stroke=url(#e212) />
<path class=c d="M224 1070L218 1068"/>
<path d="M287.3 1053.6l-6.1-2-4.8 3.9z" fill=#d4ff00 stroke=#d4ff00 />
<path d="M237.8 1043.8l-6 8.6-13.1 28.4z" fill=url(#e213) stroke=url(#e213) />
<path class=c d="M224 1070L224 1070M236 1047L236 1047"/>
<path d="M289.1 1098.8l10.9-19.4-5-22.3z" fill=url(#e214) stroke=url(#e214) />
<path class=c d="M292 1093L290 1093M298 1070L293 1070"/>
<path d="M281.2 1051.6l-14.4-23.2 9.6 27.1z" fill=url(#e215) stroke=url(#e215) />
<path class=c d="M278 1046L274 1048"/>
<path d="M259.5 1059.5l7.3-31.1-9.5 24.3z" fill=url(#e216) stroke=url(#e216) />
<path class=c d="M262 1049L260 1046"/>
<path d="M237.8 1043.8l-9.5 40.2 29-31.3z" fill=url(#e217) stroke=url(#e217) />
<path class=c d="M231 1073L240 1071M237 1048L244 1047"/>
<path d="M287.3 1053.6l-5.8 2 13.5 1.5z" fill=#ceff00 stroke=#ceff00 />
<path d="M281.5 1055.6l7.6 43.2 5.9-41.7z" fill=url(#e218) stroke=url(#e218) />
<path class=c d="M288 1093L290 1093M284 1071L293 1070"/>
<path d="M281.5 1055.6l5.8-2-10.9 1.9z" fill=#d2ff00 stroke=#d2ff00 />
<path d="M300 1079.4l-10.9 19.4 7.6-35.2z" fill=url(#e219) stroke=url(#e219) />
<path class=c d="M292 1093L290 1093M295 1073L298 1072"/>
<path d="M266.8 1028.4l-7.3 31.1 16.9-4z" fill=url(#e220) stroke=url(#e220) />
<path class=c d="M262 1049L274 1048"/>
<path d="M228.3 1084l9.5-40.2-19.1 37z" fill=url(#e221) stroke=url(#e221) />
<path class=c d="M231 1073L224 1070M237 1048L236 1047"/>
<path d="M238 1086.5l21.5-27-2.2-6.8z" fill=url(#e222) stroke=url(#e222) />
<path class=c d="M247 1075L246 1073"/>
<path d="M269 1059.1l12.5-3.5-5.1-0.1z" fill=#cfff00 stroke=#cfff00 />
<path d="M259.5 1059.5l9.5-0.4 7.4-3.6z" fill=#c7ff00 stroke=#c7ff00 />
<path d="M289.1 1098.8l-7.6-43.2 1.7 6.5z" fill=url(#e223) stroke=url(#e223) />
<path class=c d="M288 1093L288 1094M284 1071L285 1074"/>
<path d="M228.3 1084l9.7 2.5 19.3-33.8z" fill=url(#e224) stroke=url(#e224) />
<path class=c d="M246 1073L240 1071"/>
<path d="M289.1 1098.8l-5.9-36.7 13.5 1.5z" fill=url(#e225) stroke=url(#e225) />
<path class=c d="M288 1094L290 1093M285 1074L295 1073"/>
<path d="M269 1059.1l-6.9 2.9 19.4-6.4z" fill=#ceff00 stroke=#ceff00 />
<path d="M269 1059.1l-9.5 0.4 2.6 2.5z" fill=#c6ff00 stroke=#c6ff00 />
<path d="M262.1 1062l-2.6-2.5-21.5 27z" fill=url(#e226) stroke=url(#e226) />
<path class=c d="M247 1075L248 1077"/>
<path d="M283.2 1062.1l7.7 1.9 5.8-0.4z" fill=#b2ff00 stroke=#b2ff00 />
<path d="M283.2 1062.1l-1.7-6.5-9.4 6.7z" fill=#ceff00 stroke=#ceff00 />
<path d="M281.5 1055.6l-19.4 6.4 10 0.3z" fill=#d1ff00 stroke=#d1ff00 />
<path d="M290.9 1064l-1.9 26.7 7.7-27.1z" fill=url(#e227) stroke=url(#e227) />
<path class=c d="M290 1078L293 1076"/>
<path d="M262.1 1062l-24.1 24.5 7.4 6.9z" fill=url(#e228) stroke=url(#e228) />
<path class=c d="M248 1077L253 1080"/>
<path d="M290.9 1064l-7.7-1.9-13.2 31.3z" fill=url(#e229) stroke=url(#e229) />
<path class=c d="M276 1080L279 1080"/>
<path d="M272.1 1062.3l-10-0.3-16.7 31.4z" fill=url(#e230) stroke=url(#e230) />
<path class=c d="M253 1080L257 1080"/>
<path d="M283.2 1062.1l-11.1 0.2-2.1 31.1z" fill=url(#e231) stroke=url(#e231) />
<path class=c d="M271 1082L276 1080"/>
<path d="M290.9 1064l-20.9 29.4 19-2.7z" fill=url(#e232) stroke=url(#e232) />
<path class=c d="M279 1080L290 1078"/>
<path d="M272.1 1062.3l-26.7 31.1 7.6 4.5z" fill=url(#e233) stroke=url(#e233) />
<path class=c d="M257 1080L261 1084"/>
<path d="M270 1093.4l2.1-31.1-19.1 35.6z" fill=url(#e234) stroke=url(#e234) />
<path class=c d="M271 1082L261 1084"/>
</g>
<line class="k" x1="54.4" y1="1172.6" x2="43.2" y2="898.5"/>
<line class="k" x1="54.4" y1="1172.6" x2="49.6" y2="1173.5"/>
<line class="k" x1="52.6" y1="1129.1" x2="47.8" y2="1130"/>
<line class="k" x1="50.8" y1="1084.8" x2="46" y2="1085.7"/>
<line class="k" x1="49" y1="1039.6" x2="44.2" y2="1040.5"/>
<line class="k" x1="47.1" y1="993.5" x2="42.3" y2="994.4"/>
<line class="k" x1="45.2" y1="946.5" x2="40.4" y2="947.4"/>
<line class="k" x1="43.2" y1="898.5" x2="38.4" y2="899.4"/>
<line class="k" x1="54.4" y1="1172.6" x2="268.7" y2="1251"/>
<line class="k" x1="64.9" y1="1176.4" x2="61.4" y2="1178.4"/>
<line class="k" x1="77.7" y1="1181.1" x2="75.9" y2="1182.1"/>
<line class="k" x1="90.7" y1="1185.8" x2="87.2" y2="1187.8"/>
<line class="k" x1="103.9" y1="1190.7" x2="102.2" y2="1191.7"/>
<line class="k" x1="117.4" y1="1195.6" x2="113.9" y2="1197.6"/>
<line class="k" x1="131.2" y1="1200.7" x2="129.5" y2="1201.7"/>
<line class="k" x1="145.3" y1="1205.8" x2="141.8" y2="1207.8"/>
<line class="k" x1="159.6" y1="1211.1" x2="157.9" y2="1212.1"/>
<line class="k" x1="174.2" y1="1216.4" x2="170.7" y2="1218.4"/>
<line class="k" x1="189.2" y1="1221.9" x2="187.4" y2="1222.9"/>
<line class="k" x1="204.4" y1="1227.5" x2="200.9" y2="1229.5"/>
<line class="k" x1="220" y1="1233.2" x2="218.2" y2="1234.2"/>
<line class="k" x1="235.8" y1="1239" x2="232.4" y2="1241"/>
<line class="k" x1="252.1" y1="1245" x2="250.3" y2="1246"/>
<line class="k" x1="268.7" y1="1251" x2="265.2" y2="1253"/>
<line class="k" x1="268.7" y1="1251" x2="439.5" y2="1160.7"/>
<line class="k" x1="268.7" y1="1251" x2="272.8" y2="1252.8"/>
<line class="k" x1="288.6" y1="1240.5" x2="290.5" y2="1241.3"/>
<line class="k" x1="307.9" y1="1230.3" x2="312" y2="1232.1"/>
<line class="k" x1="326.4" y1="1220.5" x2="328.2" y2="1221.3"/>
<line class="k" x1="344.3" y1="1211" x2="348.4" y2="1212.8"/>
<line class="k" x1="361.5" y1="1201.9" x2="363.4" y2="1202.7"/>
<line class="k" x1="378.2" y1="1193.1" x2="382.3" y2="1194.9"/>
<line class="k" x1="394.3" y1="1184.6" x2="396.1" y2="1185.4"/>
<line class="k" x1="409.9" y1="1176.3" x2="414" y2="1178.1"/>
<line class="k" x1="424.9" y1="1168.4" x2="426.8" y2="1169.2"/>
<line class="k" x1="439.5" y1="1160.7" x2="443.7" y2="1162.5"/>
<rect x="364.5" y="890.5" width="16" height="260" fill="url(#cbar)" stroke="#111" stroke-width="1"/>
<line class="k" x1="380.5" y1="893.6" x2="385.5" y2="893.6"/>
<text class="cl" x="391" y="898.6">26.00</text>
<line class="k" x1="380.5" y1="919.1" x2="385.5" y2="919.1"/>
<text class="cl" x="391" y="924.1">21.66</text>
<line class="k" x1="380.5" y1="944.5" x2="385.5" y2="944.5"/>
<text class="cl" x="391" y="949.5">17.32</text>
<line class="k" x1="380.5" y1="970" x2="385.5" y2="970"/>
<text class="cl" x="391" y="975">12.98</text>
<line class="k" x1="380.5" y1="995.4" x2="385.5" y2="995.4"/>
<text class="cl" x="391" y="1000.4">8.64</text>
<line class="k" x1="380.5" y1="1020.9" x2="385.5" y2="1020.9"/>
<text class="cl" x="391" y="1025.9">4.30</text>
<line class="k" x1="380.5" y1="1046.4" x2="385.5" y2="1046.4"/>
<text class="cl" x="391" y="1051.4">-0.04</text>
<line class="k" x1="380.5" y1="1071.8" x2="385.5" y2="1071.8"/>
<text class="cl" x="391" y="1076.8">-4.38</text>
<line class="k" x1="380.5" y1="1097.3" x2="385.5" y2="1097.3"/>
<text class="cl" x="391" y="1102.3">-8.72</text>
<line class="k" x1="380.5" y1="1122.7" x2="385.5" y2="1122.7"/>
<text class="cl" x="391" y="1127.7">-13.06</text>
<line class="k" x1="380.5" y1="1148.2" x2="385.5" y2="1148.2"/>
<text class="cl" x="391" y="1153.2">-17.40</text>
<text class="ct" x="345" y="879">Error (MPa)</text>
<text class="zl" transform="matrix(0.80 -0.06 0.03 1 46 1182.3)">-30</text>
<text class="zl" transform="matrix(0.80 -0.06 0.03 1 44.2 1138.8)">-20</text>
<text class="zl" transform="matrix(0.80 -0.06 0.03 1 42.4 1094.5)">-10</text>
<text class="zl" transform="matrix(0.80 -0.06 0.03 1 40.6 1049.3)">0</text>
<text class="zl" transform="matrix(0.80 -0.06 0.03 1 38.7 1003.2)">10</text>
<text class="zl" transform="matrix(0.80 -0.06 0.03 1 36.8 956.2)">20</text>
<text class="zl" transform="matrix(0.80 -0.06 0.03 1 34.8 908.2)">30</text>
<text class="xl" transform="matrix(1.492 -0.579 1.548 0.572 64.2 1180.3)">0</text>
<text class="xl" transform="matrix(1.484 -0.599 1.548 0.572 90.2 1189.9)">50</text>
<text class="xl" transform="matrix(1.475 -0.621 1.548 0.572 117.2 1199.9)">100</text>
<text class="xl" transform="matrix(1.465 -0.644 1.548 0.572 145.2 1210.2)">150</text>
<text class="xl" transform="matrix(1.454 -0.669 1.548 0.572 174.4 1221.0)">200</text>
<text class="xl" transform="matrix(1.441 -0.695 1.548 0.572 204.9 1232.3)">250</text>
<text class="xl" transform="matrix(1.427 -0.723 1.548 0.572 236.6 1244.0)">300</text>
<text class="xl" transform="matrix(1.411 -0.754 1.548 0.572 269.7 1256.2)">350</text>
<text class="yl" transform="matrix(1.548 0.572 -1.101 0.591 272.4 1257.6)">0</text>
<text class="yl" transform="matrix(1.559 0.541 -1.101 0.591 311.9 1236.3)">20</text>
<text class="yl" transform="matrix(1.568 0.513 -1.101 0.591 348.6 1216.7)">40</text>
<text class="yl" transform="matrix(1.576 0.488 -1.101 0.591 382.7 1198.3)">60</text>
<text class="yl" transform="matrix(1.583 0.465 -1.101 0.591 414.5 1181.3)">80</text>
<text class="yl" transform="matrix(1.589 0.443 -1.101 0.591 444.3 1165.3)">100</text>
<text class="tt" transform="translate(3 1001.5) rotate(90)">Error (MPa)</text>
<text class="tx" transform="matrix(1.443 0.565 -1.555 0.687 111.1 1228.3)">Data points</text>
<text class="tx" transform="matrix(1.213 -0.699 1.716 0.543 412.1 1219.3)">Predictions</text>
<text class="pl" x="63" y="921.7">(e)</text>
</svg>
</body></html>
